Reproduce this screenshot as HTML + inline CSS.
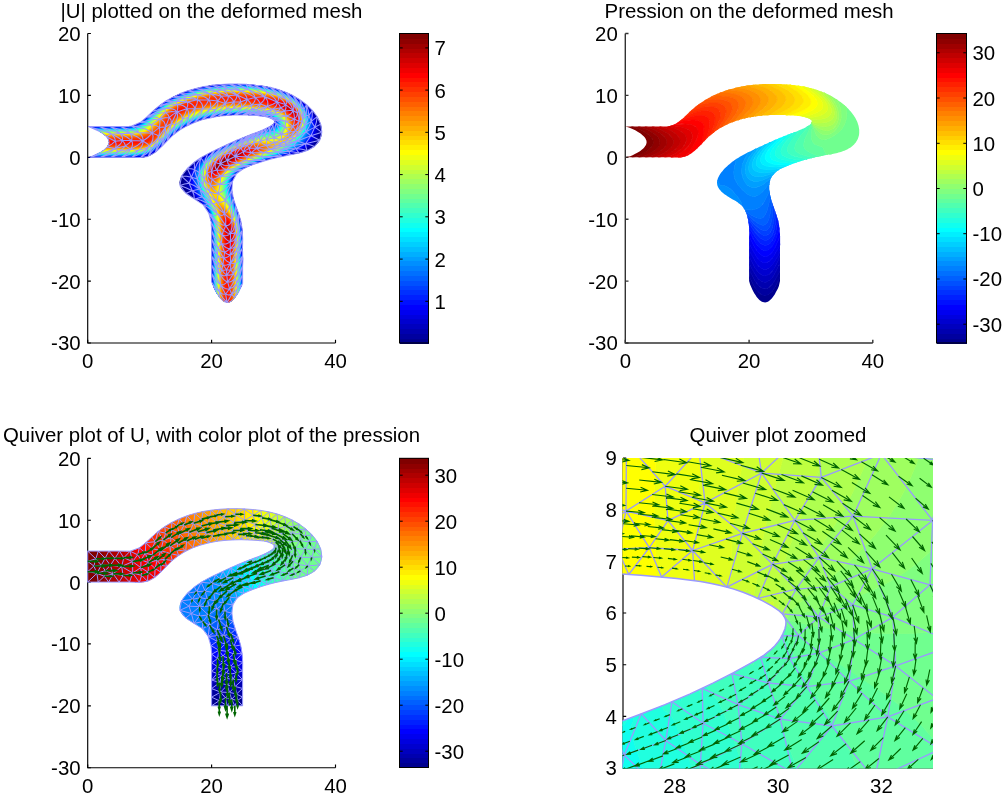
<!DOCTYPE html><html><head><meta charset="utf-8"><title>Stokes flow figure</title><style>html,body{margin:0;padding:0;background:#fff;overflow:hidden}</style></head><body><svg width="1003" height="796" viewBox="0 0 1003 796" style="display:block;font-family:'Liberation Sans',Arial,Helvetica,sans-serif;font-size:20.4px" fill="#000">
<rect width="1003" height="796" fill="#fff"/>
<defs></defs>
<path d="M87.7 33.5V343.0H335.5" fill="none" stroke="#000" stroke-width="1.15"/><path d="M87.7 343.0v-3.2M211.6 343.0v-3.2M335.5 343.0v-3.2M87.7 33.5h3.2M87.7 95.4h3.2M87.7 157.3h3.2M87.7 219.2h3.2M87.7 281.1h3.2M87.7 343.0h3.2" fill="none" stroke="#000" stroke-width="1.15"/><text transform="translate(87.7 368.3) scale(1 1.00)" text-anchor="middle">0</text><text transform="translate(211.6 368.3) scale(1 1.00)" text-anchor="middle">20</text><text transform="translate(335.5 368.3) scale(1 1.00)" text-anchor="middle">40</text><text transform="translate(80.6 40.9) scale(1 1.00)" text-anchor="end">20</text><text transform="translate(80.6 102.8) scale(1 1.00)" text-anchor="end">10</text><text transform="translate(80.6 164.7) scale(1 1.00)" text-anchor="end">0</text><text transform="translate(80.6 226.6) scale(1 1.00)" text-anchor="end">-10</text><text transform="translate(80.6 288.5) scale(1 1.00)" text-anchor="end">-20</text><text transform="translate(80.6 350.4) scale(1 1.00)" text-anchor="end">-30</text>
<path d="M625.3 33.5V343.0H872.8" fill="none" stroke="#333" stroke-width="1.40"/><path d="M625.3 343.0v-3.2M749.1 343.0v-3.2M872.8 343.0v-3.2M625.3 33.5h3.2M625.3 95.4h3.2M625.3 157.3h3.2M625.3 219.2h3.2M625.3 281.1h3.2M625.3 343.0h3.2" fill="none" stroke="#333" stroke-width="1.40"/><text transform="translate(625.3 368.3) scale(1 1.00)" text-anchor="middle">0</text><text transform="translate(749.1 368.3) scale(1 1.00)" text-anchor="middle">20</text><text transform="translate(872.8 368.3) scale(1 1.00)" text-anchor="middle">40</text><text transform="translate(617.8 40.9) scale(1 1.00)" text-anchor="end">20</text><text transform="translate(617.8 102.8) scale(1 1.00)" text-anchor="end">10</text><text transform="translate(617.8 164.7) scale(1 1.00)" text-anchor="end">0</text><text transform="translate(617.8 226.6) scale(1 1.00)" text-anchor="end">-10</text><text transform="translate(617.8 288.5) scale(1 1.00)" text-anchor="end">-20</text><text transform="translate(617.8 350.4) scale(1 1.00)" text-anchor="end">-30</text>
<path d="M87.7 458.3V767.7H335.5" fill="none" stroke="#000" stroke-width="1.15"/><path d="M87.7 767.7v-3.2M211.6 767.7v-3.2M335.5 767.7v-3.2M87.7 458.3h3.2M87.7 520.2h3.2M87.7 582.1h3.2M87.7 643.9h3.2M87.7 705.8h3.2M87.7 767.7h3.2" fill="none" stroke="#000" stroke-width="1.15"/><text transform="translate(87.7 792.6) scale(1 1.00)" text-anchor="middle">0</text><text transform="translate(211.6 792.6) scale(1 1.00)" text-anchor="middle">20</text><text transform="translate(335.5 792.6) scale(1 1.00)" text-anchor="middle">40</text><text transform="translate(80.6 465.7) scale(1 1.00)" text-anchor="end">20</text><text transform="translate(80.6 527.6) scale(1 1.00)" text-anchor="end">10</text><text transform="translate(80.6 589.5) scale(1 1.00)" text-anchor="end">0</text><text transform="translate(80.6 651.4) scale(1 1.00)" text-anchor="end">-10</text><text transform="translate(80.6 713.2) scale(1 1.00)" text-anchor="end">-20</text><text transform="translate(80.6 775.1) scale(1 1.00)" text-anchor="end">-30</text>
<path d="M623.0 458.0V768.0H933.0" fill="none" stroke="#000" stroke-width="1.15"/><path d="M674.7 768.0v-3.2M778.0 768.0v-3.2M881.4 768.0v-3.2M623.0 458.0h3.2M623.0 509.7h3.2M623.0 561.3h3.2M623.0 613.0h3.2M623.0 664.7h3.2M623.0 716.4h3.2M623.0 768.0h3.2" fill="none" stroke="#000" stroke-width="1.15"/><text transform="translate(674.7 792.9) scale(1 1.00)" text-anchor="middle">28</text><text transform="translate(778.0 792.9) scale(1 1.00)" text-anchor="middle">30</text><text transform="translate(881.4 792.9) scale(1 1.00)" text-anchor="middle">32</text><text transform="translate(616.8 465.4) scale(1 1.00)" text-anchor="end">9</text><text transform="translate(616.8 517.1) scale(1 1.00)" text-anchor="end">8</text><text transform="translate(616.8 568.8) scale(1 1.00)" text-anchor="end">7</text><text transform="translate(616.8 620.4) scale(1 1.00)" text-anchor="end">6</text><text transform="translate(616.8 672.1) scale(1 1.00)" text-anchor="end">5</text><text transform="translate(616.8 723.8) scale(1 1.00)" text-anchor="end">4</text><text transform="translate(616.8 775.4) scale(1 1.00)" text-anchor="end">3</text>
<clipPath id="c1"><path d="M87.7 157.3 88.8 157.3 90 157.3 91.1 157.3 92.3 157.3 93.4 157.3 94.5 157.3 95.6 157.3 96.7 157.3 97.8 157.3 98.9 157.3 99.9 157.3 101 157.3 102 157.3 103.1 157.3 104.1 157.3 105.2 157.3 106.2 157.3 107.2 157.3 108.3 157.3 109.3 157.3 110.3 157.3 111.4 157.3 112.4 157.3 113.4 157.3 114.5 157.3 115.5 157.3 116.6 157.3 117.6 157.3 118.7 157.3 119.7 157.3 120.8 157.3 121.9 157.3 123 157.3 124.1 157.3 125.2 157.3 126.3 157.3 127.5 157.3 128.6 157.3 129.8 157.3 130.9 157.3 132.1 157.3 133.2 157.3 134.4 157.4 135.5 157.4 136.6 157.5 137.8 157.6 138.9 157.6 140 157.6 141.1 157.6 142.2 157.5 143.3 157.4 144.3 157.3 145.4 157.1 146.4 156.8 147.4 156.5 148.3 156.2 149.3 155.8 150.2 155.4 151.1 155 152 154.5 152.9 154 153.7 153.4 154.6 152.8 155.4 152.2 156.2 151.6 157 150.9 157.8 150.2 158.6 149.5 159.4 148.8 160.2 148.1 160.9 147.3 161.7 146.5 162.4 145.8 163.2 145 163.9 144.2 164.7 143.4 165.5 142.6 166.2 141.8 167 141 167.7 140.2 168.5 139.4 169.3 138.6 170.1 137.9 170.8 137.1 171.6 136.3 172.5 135.6 173.3 134.9 174.1 134.2 174.9 133.5 175.8 132.8 176.7 132.2 177.5 131.5 178.4 130.9 179.3 130.3 180.2 129.7 181.1 129.1 182 128.6 182.9 128 183.9 127.5 184.8 126.9 185.8 126.4 186.7 125.9 187.7 125.4 188.6 125 189.6 124.5 190.6 124.1 191.6 123.6 192.5 123.2 193.5 122.8 194.5 122.4 195.5 122 196.5 121.6 197.6 121.3 198.6 120.9 199.6 120.6 200.6 120.3 201.6 119.9 202.7 119.6 203.7 119.4 204.7 119.1 205.8 118.8 206.8 118.5 207.8 118.3 208.9 118 209.9 117.8 211 117.6 212 117.4 213.1 117.2 214.1 117 215.2 116.8 216.2 116.7 217.3 116.5 218.4 116.3 219.4 116.2 220.5 116.1 221.5 115.9 222.6 115.8 223.7 115.7 224.7 115.6 225.8 115.5 226.9 115.4 228 115.3 229 115.3 230.1 115.2 231.2 115.2 232.3 115.1 233.4 115.1 234.4 115 235.5 115 236.6 115 237.7 115 238.8 115 239.9 115 240.9 115 242 115 243.1 115 244.2 115 245.3 115 246.4 115.1 247.5 115.1 248.6 115.2 249.6 115.2 250.7 115.3 251.8 115.3 252.9 115.4 254 115.4 255.1 115.5 256.2 115.6 257.3 115.7 258.4 115.7 259.4 115.8 260.5 115.9 261.6 116 262.7 116.2 263.8 116.3 264.8 116.5 265.9 116.7 266.9 116.9 267.9 117.2 269 117.5 270 117.9 270.9 118.3 271.9 118.8 272.9 119.3 273.7 119.9 274.4 120.7 274.5 121.7 274.1 122.8 273.5 123.7 272.7 124.5 271.9 125.2 271 125.8 270 126.3 269 126.9 268.1 127.4 267.1 127.9 266.2 128.4 265.2 128.8 264.2 129.3 263.3 129.7 262.3 130.2 261.3 130.6 260.3 131 259.3 131.4 258.3 131.8 257.3 132.2 256.3 132.6 255.3 132.9 254.2 133.3 253.2 133.7 252.2 134.1 251.2 134.4 250.2 134.8 249.2 135.2 248.2 135.6 247.2 136 246.1 136.4 245.1 136.8 244.1 137.2 243.1 137.6 242.1 138 241.1 138.4 240.1 138.9 239.1 139.3 238.1 139.7 237.1 140.1 236.1 140.6 235.1 141 234.1 141.4 233.1 141.9 232.2 142.3 231.2 142.8 230.2 143.2 229.2 143.7 228.2 144.1 227.2 144.6 226.2 145 225.3 145.5 224.3 145.9 223.3 146.4 222.3 146.8 221.4 147.3 220.4 147.7 219.4 148.2 218.4 148.6 217.5 149.1 216.5 149.5 215.6 150 214.6 150.5 213.6 150.9 212.7 151.4 211.7 151.8 210.8 152.3 209.8 152.8 208.9 153.3 207.9 153.7 207 154.2 206.1 154.7 205.1 155.2 204.2 155.8 203.3 156.3 202.3 156.8 201.4 157.4 200.5 157.9 199.6 158.5 198.7 159.1 197.8 159.7 196.9 160.3 196 161 195.1 161.6 194.2 162.3 193.4 163 192.5 163.7 191.6 164.4 190.8 165.1 189.9 165.9 189.1 166.7 188.2 167.5 187.4 168.3 186.6 169.1 185.8 170 185.1 170.9 184.4 171.7 183.7 172.6 183 173.5 182.4 174.4 181.9 175.3 181.4 176.3 180.9 177.2 180.5 178.1 180.2 179 179.9 180 179.7 180.9 179.6 181.8 179.5 182.7 179.6 183.6 179.7 184.5 179.9 185.4 180.2 186.3 180.6 187.2 181.1 188.1 181.6 188.9 182.3 189.8 183 190.6 183.8 191.4 184.6 192.2 185.5 193 186.4 193.7 187.3 194.4 188.3 195.1 189.3 195.8 190.3 196.5 191.3 197.1 192.3 197.7 193.4 198.3 194.4 198.9 195.4 199.4 196.3 200 197.3 200.5 198.3 201.1 199.2 201.7 200.1 202.3 201 202.9 201.8 203.5 202.6 204.1 203.4 204.8 204.1 205.5 204.8 206.3 205.4 207 206 207.9 206.6 208.7 207.1 209.6 207.6 210.5 208.1 211.4 208.5 212.3 208.9 213.3 209.2 214.3 209.6 215.3 209.9 216.3 210.1 217.4 210.4 218.4 210.6 219.5 210.8 220.5 211 221.6 211.2 222.7 211.3 223.8 211.5 224.9 211.6 226 211.7 227.2 211.7 228.3 211.8 229.4 211.8 230.5 211.8 231.6 211.8 232.7 211.8 233.8 211.7 234.9 211.7 236 211.7 237.1 211.6 238.1 211.6 239.2 211.6 240.3 211.6 241.4 211.6 242.4 211.6 243.5 211.6 244.6 211.6 245.6 211.6 246.7 211.6 247.8 211.6 248.8 211.6 249.9 211.6 251 211.6 252 211.6 253.1 211.6 254.1 211.6 255.2 211.6 256.3 211.6 257.3 211.6 258.4 211.6 259.4 211.6 260.5 211.6 261.6 211.6 262.6 211.6 263.7 211.6 264.8 211.6 265.8 211.6 266.9 211.6 268 211.6 269.1 211.6 270.1 211.6 271.2 211.6 272.3 211.6 273.4 211.6 274.5 211.6 275.6 211.6 276.7 211.6 277.8 211.6 278.9 211.6 280 211.6 281.1 212.7 284.6 213.7 287.1 214.8 289.4 215.9 291.5 216.9 293.4 218 295.1 219.1 296.7 220.2 298.1 221.2 299.2 222.3 300.2 223.4 301 224.4 301.7 225.5 302.1 226.6 302.3 227.6 302.4 228.7 302.2 229.8 301.9 230.8 301.4 231.9 300.7 233 299.8 234 298.8 235.1 297.5 236.2 296.1 237.2 294.4 238.3 292.6 239.4 290.6 240.4 288.4 241.5 286 242.6 281.1 242.6 279.9 242.6 278.7 242.6 277.6 242.6 276.4 242.6 275.2 242.6 274 242.6 272.8 242.6 271.7 242.6 270.5 242.6 269.3 242.6 268.1 242.6 266.9 242.6 265.7 242.6 264.5 242.6 263.3 242.6 262 242.6 260.8 242.6 259.6 242.6 258.4 242.6 257.2 242.6 256 242.6 254.8 242.6 253.6 242.6 252.4 242.6 251.1 242.6 249.9 242.6 248.7 242.6 247.5 242.6 246.3 242.6 245.1 242.7 243.9 242.7 242.7 242.7 241.4 242.7 240.2 242.7 239 242.7 237.8 242.7 236.6 242.6 235.4 242.6 234.2 242.5 233 242.4 231.9 242.3 230.7 242.2 229.5 242.1 228.3 241.9 227.1 241.7 225.9 241.5 224.8 241.3 223.6 241.1 222.4 240.8 221.3 240.6 220.1 240.3 219 239.9 217.8 239.6 216.7 239.2 215.6 238.9 214.4 238.5 213.3 238.1 212.2 237.7 211 237.3 209.9 236.9 208.8 236.5 207.6 236 206.5 235.6 205.4 235.2 204.2 234.9 203.1 234.5 201.9 234.1 200.8 233.8 199.6 233.5 198.4 233.2 197.3 232.9 196.1 232.6 194.9 232.4 193.7 232.2 192.5 232.1 191.3 232 190.1 231.9 188.9 231.8 187.7 231.8 186.5 231.9 185.4 232 184.2 232.2 183.1 232.4 182 232.6 180.9 232.9 179.8 233.3 178.8 233.8 177.8 234.3 176.8 234.9 175.9 235.5 175 236.2 174.2 237 173.3 237.9 172.6 238.8 171.8 239.7 171.1 240.7 170.4 241.7 169.8 242.8 169.1 243.9 168.5 245 168 246.2 167.4 247.4 166.9 248.5 166.4 249.7 165.9 250.9 165.4 252.1 164.9 253.3 164.5 254.5 164.1 255.7 163.6 256.9 163.2 258.1 162.8 259.2 162.4 260.3 162.1 261.5 161.7 262.6 161.3 263.7 161 264.9 160.6 266 160.3 267.1 160 268.2 159.7 269.3 159.4 270.4 159.1 271.5 158.8 272.6 158.5 273.7 158.2 274.9 157.9 276 157.7 277.1 157.4 278.2 157.1 279.4 156.9 280.5 156.7 281.7 156.4 282.9 156.2 284 156 285.2 155.7 286.4 155.5 287.6 155.3 288.9 155.1 290.1 154.9 291.3 154.6 292.6 154.4 293.8 154.2 295 154 296.3 153.7 297.5 153.4 298.7 153.2 300 152.9 301.2 152.6 302.4 152.2 303.5 151.9 304.7 151.5 305.9 151.1 307 150.7 308.1 150.2 309.2 149.7 310.2 149.2 311.3 148.6 312.2 148 313.2 147.4 314.1 146.7 315 146 315.9 145.2 316.7 144.4 317.5 143.5 318.2 142.7 318.9 141.7 319.5 140.7 320 139.7 320.5 138.7 320.9 137.6 321.3 136.5 321.5 135.4 321.7 134.3 321.9 133.1 321.9 132 321.9 130.8 321.8 129.6 321.7 128.4 321.5 127.2 321.3 126.1 321 124.9 320.6 123.8 320.2 122.6 319.8 121.5 319.3 120.4 318.7 119.4 318.2 118.3 317.6 117.2 316.9 116.2 316.2 115.2 315.5 114.2 314.8 113.2 314 112.2 313.2 111.3 312.4 110.4 311.5 109.5 310.6 108.6 309.8 107.7 308.9 106.8 307.9 106 307 105.2 306.1 104.4 305.1 103.6 304.2 102.8 303.2 102.1 302.2 101.4 301.2 100.7 300.3 100 299.3 99.3 298.3 98.7 297.2 98 296.2 97.4 295.2 96.8 294.2 96.2 293.1 95.7 292.1 95.1 291 94.6 289.9 94.1 288.9 93.6 287.8 93.1 286.7 92.6 285.6 92.2 284.5 91.8 283.4 91.3 282.3 90.9 281.2 90.5 280.1 90.1 279 89.8 277.9 89.4 276.7 89.1 275.6 88.8 274.5 88.4 273.3 88.1 272.2 87.9 271 87.6 269.9 87.3 268.7 87.1 267.5 86.8 266.4 86.6 265.2 86.4 264 86.2 262.8 86 261.7 85.8 260.5 85.6 259.3 85.4 258.1 85.3 256.9 85.1 255.7 85 254.5 84.9 253.3 84.8 252.1 84.6 250.9 84.5 249.7 84.5 248.5 84.4 247.3 84.3 246.1 84.2 244.9 84.2 243.7 84.1 242.5 84 241.3 84 240 84 238.8 83.9 237.6 83.9 236.4 83.9 235.2 83.9 234 83.9 232.8 83.9 231.6 83.9 230.4 83.9 229.1 84 227.9 84 226.7 84 225.5 84.1 224.3 84.2 223.1 84.2 221.9 84.3 220.7 84.4 219.5 84.5 218.3 84.6 217.1 84.7 215.9 84.8 214.7 85 213.5 85.1 212.3 85.2 211.1 85.4 209.9 85.6 208.7 85.7 207.5 85.9 206.4 86.1 205.2 86.3 204 86.6 202.8 86.8 201.7 87 200.5 87.3 199.3 87.5 198.2 87.8 197 88.1 195.9 88.4 194.7 88.7 193.6 89 192.4 89.3 191.3 89.6 190.2 90 189 90.3 187.9 90.7 186.8 91.1 185.7 91.5 184.5 91.9 183.4 92.3 182.3 92.7 181.2 93.2 180.1 93.6 179.1 94.1 178 94.6 176.9 95.1 175.8 95.6 174.8 96.1 173.7 96.6 172.6 97.2 171.6 97.7 170.6 98.3 169.5 98.9 168.5 99.5 167.5 100.1 166.5 100.7 165.5 101.4 164.5 102 163.5 102.7 162.5 103.3 161.5 104 160.5 104.8 159.6 105.5 158.6 106.2 157.7 107 156.8 107.7 155.8 108.5 154.9 109.3 154 110.1 153.1 110.9 152.2 111.8 151.3 112.6 150.4 113.5 149.6 114.3 148.7 115.2 147.8 116 146.9 116.9 146 117.7 145.1 118.5 144.2 119.3 143.3 120 142.4 120.8 141.5 121.5 140.5 122.2 139.6 122.8 138.6 123.4 137.6 124 136.6 124.5 135.5 124.9 134.5 125.3 133.4 125.7 132.3 126 131.1 126.2 130 126.4 128.8 126.5 127.6 126.6 126.4 126.6 125.2 126.6 123.9 126.5 122.7 126.5 121.5 126.4 120.2 126.4 119 126.4 117.7 126.4 116.5 126.4 115.2 126.4 114 126.4 112.7 126.4 111.5 126.4 110.3 126.4 109.1 126.4 107.9 126.4 106.7 126.4 105.5 126.4 104.3 126.4 103.2 126.4 102 126.4 100.8 126.4 99.6 126.4 98.5 126.4 97.3 126.4 96.1 126.4 94.9 126.4 93.8 126.4 92.6 126.4 91.4 126.4 90.2 126.4 89 126.4 87.7 126.4 91.2 127.4 93.7 128.5 96 129.6 98.1 130.6 100 131.7 101.7 132.8 103.3 133.8 104.7 134.9 105.8 136 106.8 137 107.6 138.1 108.3 139.2 108.7 140.2 108.9 141.3 109 142.4 108.9 143.4 108.5 144.5 108 145.6 107.3 146.6 106.5 147.7 105.4 148.8 104.1 149.8 102.7 150.9 101.1 152 99.2 153 97.2 154.1 95 155.2 92.6 156.2Z"/></clipPath><g clip-path="url(#c1)"><path d="M87.7 157.3 88.8 157.3 90 157.3 91.1 157.3 92.3 157.3 93.4 157.3 94.5 157.3 95.6 157.3 96.7 157.3 97.8 157.3 98.9 157.3 99.9 157.3 101 157.3 102 157.3 103.1 157.3 104.1 157.3 105.2 157.3 106.2 157.3 107.2 157.3 108.3 157.3 109.3 157.3 110.3 157.3 111.4 157.3 112.4 157.3 113.4 157.3 114.5 157.3 115.5 157.3 116.6 157.3 117.6 157.3 118.7 157.3 119.7 157.3 120.8 157.3 121.9 157.3 123 157.3 124.1 157.3 125.2 157.3 126.3 157.3 127.5 157.3 128.6 157.3 129.8 157.3 130.9 157.3 132.1 157.3 133.2 157.3 134.4 157.4 135.5 157.4 136.6 157.5 137.8 157.6 138.9 157.6 140 157.6 141.1 157.6 142.2 157.5 143.3 157.4 144.3 157.3 145.4 157.1 146.4 156.8 147.4 156.5 148.3 156.2 149.3 155.8 150.2 155.4 151.1 155 152 154.5 152.9 154 153.7 153.4 154.6 152.8 155.4 152.2 156.2 151.6 157 150.9 157.8 150.2 158.6 149.5 159.4 148.8 160.2 148.1 160.9 147.3 161.7 146.5 162.4 145.8 163.2 145 163.9 144.2 164.7 143.4 165.5 142.6 166.2 141.8 167 141 167.7 140.2 168.5 139.4 169.3 138.6 170.1 137.9 170.8 137.1 171.6 136.3 172.5 135.6 173.3 134.9 174.1 134.2 174.9 133.5 175.8 132.8 176.7 132.2 177.5 131.5 178.4 130.9 179.3 130.3 180.2 129.7 181.1 129.1 182 128.6 182.9 128 183.9 127.5 184.8 126.9 185.8 126.4 186.7 125.9 187.7 125.4 188.6 125 189.6 124.5 190.6 124.1 191.6 123.6 192.5 123.2 193.5 122.8 194.5 122.4 195.5 122 196.5 121.6 197.6 121.3 198.6 120.9 199.6 120.6 200.6 120.3 201.6 119.9 202.7 119.6 203.7 119.4 204.7 119.1 205.8 118.8 206.8 118.5 207.8 118.3 208.9 118 209.9 117.8 211 117.6 212 117.4 213.1 117.2 214.1 117 215.2 116.8 216.2 116.7 217.3 116.5 218.4 116.3 219.4 116.2 220.5 116.1 221.5 115.9 222.6 115.8 223.7 115.7 224.7 115.6 225.8 115.5 226.9 115.4 228 115.3 229 115.3 230.1 115.2 231.2 115.2 232.3 115.1 233.4 115.1 234.4 115 235.5 115 236.6 115 237.7 115 238.8 115 239.9 115 240.9 115 242 115 243.1 115 244.2 115 245.3 115 246.4 115.1 247.5 115.1 248.6 115.2 249.6 115.2 250.7 115.3 251.8 115.3 252.9 115.4 254 115.4 255.1 115.5 256.2 115.6 257.3 115.7 258.4 115.7 259.4 115.8 260.5 115.9 261.6 116 262.7 116.2 263.8 116.3 264.8 116.5 265.9 116.7 266.9 116.9 267.9 117.2 269 117.5 270 117.9 270.9 118.3 271.9 118.8 272.9 119.3 273.7 119.9 274.4 120.7 274.5 121.7 274.1 122.8 273.5 123.7 272.7 124.5 271.9 125.2 271 125.8 270 126.3 269 126.9 268.1 127.4 267.1 127.9 266.2 128.4 265.2 128.8 264.2 129.3 263.3 129.7 262.3 130.2 261.3 130.6 260.3 131 259.3 131.4 258.3 131.8 257.3 132.2 256.3 132.6 255.3 132.9 254.2 133.3 253.2 133.7 252.2 134.1 251.2 134.4 250.2 134.8 249.2 135.2 248.2 135.6 247.2 136 246.1 136.4 245.1 136.8 244.1 137.2 243.1 137.6 242.1 138 241.1 138.4 240.1 138.9 239.1 139.3 238.1 139.7 237.1 140.1 236.1 140.6 235.1 141 234.1 141.4 233.1 141.9 232.2 142.3 231.2 142.8 230.2 143.2 229.2 143.7 228.2 144.1 227.2 144.6 226.2 145 225.3 145.5 224.3 145.9 223.3 146.4 222.3 146.8 221.4 147.3 220.4 147.7 219.4 148.2 218.4 148.6 217.5 149.1 216.5 149.5 215.6 150 214.6 150.5 213.6 150.9 212.7 151.4 211.7 151.8 210.8 152.3 209.8 152.8 208.9 153.3 207.9 153.7 207 154.2 206.1 154.7 205.1 155.2 204.2 155.8 203.3 156.3 202.3 156.8 201.4 157.4 200.5 157.9 199.6 158.5 198.7 159.1 197.8 159.7 196.9 160.3 196 161 195.1 161.6 194.2 162.3 193.4 163 192.5 163.7 191.6 164.4 190.8 165.1 189.9 165.9 189.1 166.7 188.2 167.5 187.4 168.3 186.6 169.1 185.8 170 185.1 170.9 184.4 171.7 183.7 172.6 183 173.5 182.4 174.4 181.9 175.3 181.4 176.3 180.9 177.2 180.5 178.1 180.2 179 179.9 180 179.7 180.9 179.6 181.8 179.5 182.7 179.6 183.6 179.7 184.5 179.9 185.4 180.2 186.3 180.6 187.2 181.1 188.1 181.6 188.9 182.3 189.8 183 190.6 183.8 191.4 184.6 192.2 185.5 193 186.4 193.7 187.3 194.4 188.3 195.1 189.3 195.8 190.3 196.5 191.3 197.1 192.3 197.7 193.4 198.3 194.4 198.9 195.4 199.4 196.3 200 197.3 200.5 198.3 201.1 199.2 201.7 200.1 202.3 201 202.9 201.8 203.5 202.6 204.1 203.4 204.8 204.1 205.5 204.8 206.3 205.4 207 206 207.9 206.6 208.7 207.1 209.6 207.6 210.5 208.1 211.4 208.5 212.3 208.9 213.3 209.2 214.3 209.6 215.3 209.9 216.3 210.1 217.4 210.4 218.4 210.6 219.5 210.8 220.5 211 221.6 211.2 222.7 211.3 223.8 211.5 224.9 211.6 226 211.7 227.2 211.7 228.3 211.8 229.4 211.8 230.5 211.8 231.6 211.8 232.7 211.8 233.8 211.7 234.9 211.7 236 211.7 237.1 211.6 238.1 211.6 239.2 211.6 240.3 211.6 241.4 211.6 242.4 211.6 243.5 211.6 244.6 211.6 245.6 211.6 246.7 211.6 247.8 211.6 248.8 211.6 249.9 211.6 251 211.6 252 211.6 253.1 211.6 254.1 211.6 255.2 211.6 256.3 211.6 257.3 211.6 258.4 211.6 259.4 211.6 260.5 211.6 261.6 211.6 262.6 211.6 263.7 211.6 264.8 211.6 265.8 211.6 266.9 211.6 268 211.6 269.1 211.6 270.1 211.6 271.2 211.6 272.3 211.6 273.4 211.6 274.5 211.6 275.6 211.6 276.7 211.6 277.8 211.6 278.9 211.6 280 211.6 281.1 212.7 284.6 213.7 287.1 214.8 289.4 215.9 291.5 216.9 293.4 218 295.1 219.1 296.7 220.2 298.1 221.2 299.2 222.3 300.2 223.4 301 224.4 301.7 225.5 302.1 226.6 302.3 227.6 302.4 228.7 302.2 229.8 301.9 230.8 301.4 231.9 300.7 233 299.8 234 298.8 235.1 297.5 236.2 296.1 237.2 294.4 238.3 292.6 239.4 290.6 240.4 288.4 241.5 286 242.6 281.1 242.6 279.9 242.6 278.7 242.6 277.6 242.6 276.4 242.6 275.2 242.6 274 242.6 272.8 242.6 271.7 242.6 270.5 242.6 269.3 242.6 268.1 242.6 266.9 242.6 265.7 242.6 264.5 242.6 263.3 242.6 262 242.6 260.8 242.6 259.6 242.6 258.4 242.6 257.2 242.6 256 242.6 254.8 242.6 253.6 242.6 252.4 242.6 251.1 242.6 249.9 242.6 248.7 242.6 247.5 242.6 246.3 242.6 245.1 242.7 243.9 242.7 242.7 242.7 241.4 242.7 240.2 242.7 239 242.7 237.8 242.7 236.6 242.6 235.4 242.6 234.2 242.5 233 242.4 231.9 242.3 230.7 242.2 229.5 242.1 228.3 241.9 227.1 241.7 225.9 241.5 224.8 241.3 223.6 241.1 222.4 240.8 221.3 240.6 220.1 240.3 219 239.9 217.8 239.6 216.7 239.2 215.6 238.9 214.4 238.5 213.3 238.1 212.2 237.7 211 237.3 209.9 236.9 208.8 236.5 207.6 236 206.5 235.6 205.4 235.2 204.2 234.9 203.1 234.5 201.9 234.1 200.8 233.8 199.6 233.5 198.4 233.2 197.3 232.9 196.1 232.6 194.9 232.4 193.7 232.2 192.5 232.1 191.3 232 190.1 231.9 188.9 231.8 187.7 231.8 186.5 231.9 185.4 232 184.2 232.2 183.1 232.4 182 232.6 180.9 232.9 179.8 233.3 178.8 233.8 177.8 234.3 176.8 234.9 175.9 235.5 175 236.2 174.2 237 173.3 237.9 172.6 238.8 171.8 239.7 171.1 240.7 170.4 241.7 169.8 242.8 169.1 243.9 168.5 245 168 246.2 167.4 247.4 166.9 248.5 166.4 249.7 165.9 250.9 165.4 252.1 164.9 253.3 164.5 254.5 164.1 255.7 163.6 256.9 163.2 258.1 162.8 259.2 162.4 260.3 162.1 261.5 161.7 262.6 161.3 263.7 161 264.9 160.6 266 160.3 267.1 160 268.2 159.7 269.3 159.4 270.4 159.1 271.5 158.8 272.6 158.5 273.7 158.2 274.9 157.9 276 157.7 277.1 157.4 278.2 157.1 279.4 156.9 280.5 156.7 281.7 156.4 282.9 156.2 284 156 285.2 155.7 286.4 155.5 287.6 155.3 288.9 155.1 290.1 154.9 291.3 154.6 292.6 154.4 293.8 154.2 295 154 296.3 153.7 297.5 153.4 298.7 153.2 300 152.9 301.2 152.6 302.4 152.2 303.5 151.9 304.7 151.5 305.9 151.1 307 150.7 308.1 150.2 309.2 149.7 310.2 149.2 311.3 148.6 312.2 148 313.2 147.4 314.1 146.7 315 146 315.9 145.2 316.7 144.4 317.5 143.5 318.2 142.7 318.9 141.7 319.5 140.7 320 139.7 320.5 138.7 320.9 137.6 321.3 136.5 321.5 135.4 321.7 134.3 321.9 133.1 321.9 132 321.9 130.8 321.8 129.6 321.7 128.4 321.5 127.2 321.3 126.1 321 124.9 320.6 123.8 320.2 122.6 319.8 121.5 319.3 120.4 318.7 119.4 318.2 118.3 317.6 117.2 316.9 116.2 316.2 115.2 315.5 114.2 314.8 113.2 314 112.2 313.2 111.3 312.4 110.4 311.5 109.5 310.6 108.6 309.8 107.7 308.9 106.8 307.9 106 307 105.2 306.1 104.4 305.1 103.6 304.2 102.8 303.2 102.1 302.2 101.4 301.2 100.7 300.3 100 299.3 99.3 298.3 98.7 297.2 98 296.2 97.4 295.2 96.8 294.2 96.2 293.1 95.7 292.1 95.1 291 94.6 289.9 94.1 288.9 93.6 287.8 93.1 286.7 92.6 285.6 92.2 284.5 91.8 283.4 91.3 282.3 90.9 281.2 90.5 280.1 90.1 279 89.8 277.9 89.4 276.7 89.1 275.6 88.8 274.5 88.4 273.3 88.1 272.2 87.9 271 87.6 269.9 87.3 268.7 87.1 267.5 86.8 266.4 86.6 265.2 86.4 264 86.2 262.8 86 261.7 85.8 260.5 85.6 259.3 85.4 258.1 85.3 256.9 85.1 255.7 85 254.5 84.9 253.3 84.8 252.1 84.6 250.9 84.5 249.7 84.5 248.5 84.4 247.3 84.3 246.1 84.2 244.9 84.2 243.7 84.1 242.5 84 241.3 84 240 84 238.8 83.9 237.6 83.9 236.4 83.9 235.2 83.9 234 83.9 232.8 83.9 231.6 83.9 230.4 83.9 229.1 84 227.9 84 226.7 84 225.5 84.1 224.3 84.2 223.1 84.2 221.9 84.3 220.7 84.4 219.5 84.5 218.3 84.6 217.1 84.7 215.9 84.8 214.7 85 213.5 85.1 212.3 85.2 211.1 85.4 209.9 85.6 208.7 85.7 207.5 85.9 206.4 86.1 205.2 86.3 204 86.6 202.8 86.8 201.7 87 200.5 87.3 199.3 87.5 198.2 87.8 197 88.1 195.9 88.4 194.7 88.7 193.6 89 192.4 89.3 191.3 89.6 190.2 90 189 90.3 187.9 90.7 186.8 91.1 185.7 91.5 184.5 91.9 183.4 92.3 182.3 92.7 181.2 93.2 180.1 93.6 179.1 94.1 178 94.6 176.9 95.1 175.8 95.6 174.8 96.1 173.7 96.6 172.6 97.2 171.6 97.7 170.6 98.3 169.5 98.9 168.5 99.5 167.5 100.1 166.5 100.7 165.5 101.4 164.5 102 163.5 102.7 162.5 103.3 161.5 104 160.5 104.8 159.6 105.5 158.6 106.2 157.7 107 156.8 107.7 155.8 108.5 154.9 109.3 154 110.1 153.1 110.9 152.2 111.8 151.3 112.6 150.4 113.5 149.6 114.3 148.7 115.2 147.8 116 146.9 116.9 146 117.7 145.1 118.5 144.2 119.3 143.3 120 142.4 120.8 141.5 121.5 140.5 122.2 139.6 122.8 138.6 123.4 137.6 124 136.6 124.5 135.5 124.9 134.5 125.3 133.4 125.7 132.3 126 131.1 126.2 130 126.4 128.8 126.5 127.6 126.6 126.4 126.6 125.2 126.6 123.9 126.5 122.7 126.5 121.5 126.4 120.2 126.4 119 126.4 117.7 126.4 116.5 126.4 115.2 126.4 114 126.4 112.7 126.4 111.5 126.4 110.3 126.4 109.1 126.4 107.9 126.4 106.7 126.4 105.5 126.4 104.3 126.4 103.2 126.4 102 126.4 100.8 126.4 99.6 126.4 98.5 126.4 97.3 126.4 96.1 126.4 94.9 126.4 93.8 126.4 92.6 126.4 91.4 126.4 90.2 126.4 89 126.4 87.7 126.4 91.2 127.4 93.7 128.5 96 129.6 98.1 130.6 100 131.7 101.7 132.8 103.3 133.8 104.7 134.9 105.8 136 106.8 137 107.6 138.1 108.3 139.2 108.7 140.2 108.9 141.3 109 142.4 108.9 143.4 108.5 144.5 108 145.6 107.3 146.6 106.5 147.7 105.4 148.8 104.1 149.8 102.7 150.9 101.1 152 99.2 153 97.2 154.1 95 155.2 92.6 156.2Z" fill="#00008f" stroke="#00008f" stroke-width="1"/><path d="M212.2 285.3 217.2 295.7 220.9 300.8 224.6 303.6 228.3 304.2 232 302.5 235.8 298.5 239.5 292.3 243.2 283.8 243.8 283.4 243.7 261.1 243 256.2 243 250 243.6 246.3 243.7 240.1 242.9 228.9 242 225.2 241.7 221.5 240.7 219.6 240.3 216.5 239.5 215.6 239.1 212.8 238.3 211.8 236.9 206.6 235.8 204.9 235.6 202.9 234.5 201.2 234.2 198 233.3 195.9 232.6 189.3 232.6 184.3 233.2 180.4 234.3 177.6 236.6 174.1 243.5 169.2 247.7 167.5 248.8 166.6 250.2 166.5 251.9 165.3 253.9 165.2 255.2 164.1 257.6 163.8 258.7 162.9 261.4 162.5 262.9 161.6 265.1 161.5 266.7 160.4 275 158.7 276.4 157.9 280 157.7 282.3 156.7 286.2 156.3 288.4 155.4 292.3 155 298.5 153.4 306 150.7 310.4 148.2 314.8 144.7 317.6 141 319.4 137.3 320.7 131.1 319.8 123.7 317.9 118.7 313 111.2 306.7 104.7 298.1 98.1 289.4 93.3 279.5 89.2 265.9 85.7 257.3 84.4 247.3 83.9 243.6 83.2 226.3 83.2 222.6 83.8 216.3 83.9 212.2 84.9 206.4 85.4 204.7 86.1 200.2 86.6 199 87.4 191.6 88.9 190.2 89.8 187.8 90.1 186.5 91.1 184.1 91.4 182.9 92.3 173 96.3 163 102.3 158 106.1 142 120.7 138.3 123.2 137 123.4 135.8 124.5 133.3 124.8 131.2 125.7 128.4 125.9 87.5 126 97.6 130.7 103.4 134.4 107 138.1 108.4 141.8 107.4 145.6 104.2 149.3 98.7 153 87.9 157.9 87.5 158.5 135.8 158.3 145.7 157.4 151.9 154.8 155.6 152.5 160.5 148.4 172 136.6 179.8 130.5 190.9 124.3 192.8 123.9 197 121.9 204.9 119.5 217.6 117 228.8 116.2 231.2 115.6 248.6 115.6 265.6 117.1 270.1 118.5 273.3 120.6 272.9 123.6 269.9 126 259.6 130.8 250.2 134 237.8 139 234.7 140.8 232.9 141.2 218.7 148.2 216.8 148.7 204.4 155.3 197 160.4 191 165.6 187.7 169.4 184.9 174.4 183.9 178.1 183.9 183.1 184.6 186.8 186.3 190.5 190.2 195.3 201.4 203.7 205.1 207.5 207.5 211.1 209.3 217.8 210 219 210.5 225.2 211.2 227.7 211.2 283.4Z" fill="#00009f"/><path d="M212.2 285.3 215.9 293.5 219.7 299.3 223.4 302.9 227.1 304.2 230.8 303.3 234.5 300.1 238.2 294.6 243.2 283.8 242.8 250.4 243.1 239.2 242.7 229.3 240.4 218.1 236.8 206.9 235.8 205.8 235.5 203.2 234.5 202.1 234.2 199.6 233.3 197.1 232.8 192.1 232 189.9 232.1 184.7 233 180.1 234.1 177.4 236.3 174.1 242.7 169.4 247.9 166.8 249.9 166.4 251 165.4 253.6 165 254.8 164.1 262.2 161.6 264.7 161.3 265.9 160.4 268.4 160.1 275.8 157.9 279.6 157.4 280.8 156.7 285.8 156 287 155.4 295.7 153.7 305.6 150.1 310.1 147.3 313.9 143.7 316.5 140.1 318.1 136.4 319.4 130.3 318.8 124 315.9 116.5 311.5 110.2 303.8 102.7 296 97.1 287.4 92.6 278.7 89.3 262.6 85.4 252.7 84.2 245.3 83.8 224.2 83.8 216.7 84.2 215.5 84.9 208.1 85.4 191.9 89.1 190.7 89.9 184.5 91.6 173.3 96.5 163.3 102.5 158.3 106.2 145.9 117.8 141.2 121.6 136.2 124.5 132.5 125.7 125.1 126.1 87.9 126.2 97.6 130.7 103.4 134.4 107 138.1 108.4 141.8 107.4 145.6 104.2 149.3 98.7 153 87.9 157.9 139.9 157.7 143.7 157.4 148.6 156 155.9 151.9 160.8 147.7 163.1 144.9 173.1 135.1 183.6 127.8 190.7 124.2 204.5 119.3 215.7 117.1 225.4 115.9 231.6 115.4 247.7 115.4 258.9 116 261.4 116.7 267 117.1 268.7 118.1 270.9 118.6 273.6 120.5 273.7 121.5 272.9 124 269.8 126.3 259.8 131 244.9 136.4 232.5 141.7 215.2 149.9 205.3 155.2 194.2 163.4 189.7 168.4 187 173.5 186 177.3 185.8 182.3 186.8 187.2 188.3 190.8 191.9 195.6 201.7 203.6 205.3 207.5 207.7 211 210.2 219.4 211.4 228.1 211.4 283.8Z" fill="#0000af"/><path d="M212.2 285.3 215.9 293.5 219.7 299.3 223.4 302.9 227.1 304.2 230.8 303.3 234.5 300.1 238.2 294.6 243 284.2 242.6 249.5 243 238.4 242.4 229.7 240.3 218.5 236.7 207.3 235.8 206.1 235.4 203.6 234.5 202.4 233.2 197.5 232.6 192.5 232 191.3 231.7 185.1 232.8 180.1 233.9 177.4 236 174.2 242.1 169.5 247 167 249.5 166.3 250.7 165.4 253.2 164.9 261.8 161.6 264.4 161.2 265.5 160.4 295.3 153.4 304 150.1 308.3 147.5 312.2 144 314.8 140.4 317 135.6 318.2 129.4 317.6 123.2 315.3 116.9 311.2 110.5 303.6 102.9 296.3 97.6 287.7 93 279.1 89.6 263 85.7 255.5 85.1 253.1 84.4 244.4 83.9 224.6 83.9 217.1 84.4 215.9 85 204.7 86.4 188.6 90.6 179.9 93.8 172.4 97.3 163.6 102.6 157.4 107.3 146.3 117.7 141.8 121.4 136.6 124.4 132.9 125.8 125.5 126.3 88.3 126.4 97.6 130.7 103.4 134.4 107 138.1 108.4 141.8 107.4 145.6 104.2 149.3 98.7 153 88.3 157.8 137.9 157.6 142.8 157.3 146.5 156.4 152.6 153.7 160.9 147.2 163.1 144.6 173.2 134.8 179.6 130 191 123.8 204.7 119.1 214.6 116.9 220.9 116.3 223.3 115.6 232 115.2 248.1 115.3 259.3 115.8 261.7 116.5 268 117.1 273.9 120.4 274.1 121.9 272.8 124.3 267.8 127.5 256.7 132.4 244.5 136.8 225.9 144.9 205 155.8 199.2 159.9 194.8 163.7 191.5 167.5 188.6 172.6 187.5 176.4 187.3 181.4 188.1 186.3 189.9 191.1 194.4 197.1 202.1 203.5 205.6 207.5 207.8 211 210.1 217.6 211.5 227.2 211.6 284.2Z" fill="#0000bf"/><path d="M212.2 285.3 215.9 293.5 219.7 299.3 223.4 302.9 227.1 304.2 230.8 303.3 234.5 300.1 238.2 294.6 242.9 284.6 242.9 258.6 242.4 249.9 242.8 236.3 242.2 230.1 240.5 220.1 236.6 207.7 235.8 206.5 235.2 204 234.5 202.8 231.8 190.5 231.5 185.5 232.5 180.5 233.6 177.5 235.7 174.3 241.7 169.6 250.3 165.4 265.2 160.4 294.9 153.1 302.9 149.9 306.6 147.7 310.5 144.2 313.9 139.5 316.1 134.7 317.2 128.6 316.5 122.3 314.1 115.9 310.9 110.8 303.5 103.1 296.5 98 288.1 93.4 279.5 89.9 263.4 86 244.8 84.1 225 84 217.5 84.6 216.3 85.1 205.1 86.5 188.9 90.6 180.2 93.9 172.7 97.3 163.9 102.6 158.9 106.3 142.3 121.1 136.9 124.4 133.3 125.8 125.9 126.5 88.7 126.6 97.6 130.7 103.4 134.4 107 138.1 108.4 141.8 107.4 145.6 104.2 149.3 98.7 153 88.7 157.6 137 157.4 144.4 156.7 152.4 153.5 160.2 147.6 173.3 134.5 179.7 129.7 183.9 127.2 193.9 122.5 200.1 120.1 207.6 118.4 208.8 117.7 213.8 117.1 215 116.5 221.3 116.1 223.7 115.3 248.5 115.1 259.7 115.7 268.3 117 274.3 120.4 274.5 122.3 272.8 124.7 267.8 127.8 262.8 130.2 236.7 140.2 216.9 149.5 207.1 154.9 201.2 158.8 195.3 163.9 192.2 167.8 189.6 172.9 188.7 176.8 188.6 181.8 189.5 186.7 190.8 190.3 194.5 196.2 202.4 203.5 206.6 208.7 209.1 213.7 210.3 217.6 210.7 221.4 211.3 222.6 211.7 227.6 211.8 284.6Z" fill="#0000cf"/><path d="M212.2 285.3 215.9 293.5 219.7 299.3 223.4 302.9 227.1 304.2 230.8 303.3 234.5 300.1 238.2 294.6 242.7 285 242.8 258.9 242.1 250.3 242.6 246.6 242.7 236.6 242.1 230.5 240.4 220.5 236.6 208.2 234.5 203.2 231.6 190.9 231.3 185.9 232.2 180.8 233.3 177.6 234.9 175.6 235.4 174.3 241.4 169.6 250 165.4 267.3 159.7 294.6 152.8 301.3 150.1 305 147.9 309 144.5 312.5 139.9 314.8 135.1 316.2 129 315.8 122.6 314.3 117.5 310.6 111.1 304.2 104.3 296.4 98.2 288.4 93.8 279.8 90.2 263.8 86.2 256.3 85.6 252.6 84.8 244 84.2 225.4 84.2 217.9 84.7 216.7 85.2 205.5 86.6 189.3 90.7 173 97.3 164.2 102.6 159.2 106.3 142.9 120.9 137.3 124.4 133.7 125.9 126.3 126.7 89.1 126.8 97.6 130.7 103.4 134.4 107 138.1 108.4 141.8 107.4 145.6 104.2 149.3 98.7 153 89.1 157.4 136.2 157.3 143.6 156.7 147.3 155.6 152.1 153.3 160.9 146.8 163.1 144 173.4 134.3 181.6 128.3 194.2 122.2 200.5 119.8 209.2 117.5 210.5 117.6 215.4 116.3 221.7 115.9 224.1 115.1 248.9 114.9 260.1 115.6 268.7 117 274.6 120.5 274.8 122.6 274.3 123.3 272.7 125.1 267.8 128 262.5 130.5 247.5 136 232.6 142.2 216.5 149.8 207.1 155.2 201.5 159 197 162.9 192.8 168.1 190.9 172 189.9 175.9 189.6 179.7 190.1 184.7 191.5 189.5 193.2 193 195.6 196.5 202.7 203.4 207.2 209.3 209.3 213.8 210.5 218 211 221.8 211.7 223 211.4 224.3 212 228Z" fill="#0000df"/><path d="M213.5 288.3 217.2 295.7 220.9 300.8 224.6 303.6 228.3 304.2 232 302.5 235.8 298.5 239.5 292.3 242.6 285.4 242.7 259.3 241.9 250.7 242.4 247 242.6 237 242 234.6 242 230.8 240.3 220.9 232.4 196.2 231.1 186.3 232.2 180 233.1 177.7 234.5 175.9 235.1 174.4 241.1 169.7 249.6 165.4 266.9 159.6 291.7 153.3 299.8 150.2 304.4 147.4 308.6 143.6 311.9 139 314 134.3 315.3 128.1 314.9 121.7 313.2 116.6 309.3 110.2 303.2 103.6 296.3 98.4 288.8 94.2 280.2 90.5 270.3 87.7 263.4 86.3 244.4 84.4 225.7 84.3 222.1 84.9 218.3 84.9 205.9 86.7 189.7 90.8 182.2 93.5 173.4 97.4 164.6 102.6 159.5 106.3 154.5 110.4 143.5 120.7 140 123.1 134 125.9 126.7 126.9 89.5 127 97.6 130.7 103.4 134.4 107 138.1 108.4 141.8 107.4 145.6 104.2 149.3 98.7 153 89.5 157.3 136.6 157.1 144 156.3 148.7 154.7 153.6 152.1 160.8 146.5 163.1 143.7 173.5 134 179.8 129.2 184.5 126.5 198.3 120.5 209.6 117.3 215.8 116.1 222 115.6 224.5 114.9 228.2 115.1 233.2 114.5 249.3 114.7 253 115.3 260.5 115.5 269.1 117 274.9 120.6 275.1 123 272.7 125.4 267.7 128.2 262.1 130.8 247.1 136.3 232.3 142.5 216.2 150.2 207.2 155.4 201.7 159.2 197.4 163.1 194.3 167.1 191.6 172.3 190.7 176.2 190.6 181.3 191.2 185.1 192.6 189.8 195.7 195.6 202.9 203.4 207.5 209.4 209.5 214 211.2 222.2 211.8 223.3 211.6 224.7 212.2 228.4 212.2 285.4Z" fill="#0000ef"/><path d="M213.5 288.3 217.2 295.7 220.9 300.8 224.6 303.6 228.3 304.2 232 302.5 235.8 298.5 239.5 292.3 242.4 285.7 242.6 259.7 242 257.3 241.6 251 242.2 247.4 242.5 237.4 241.9 235 241.9 231.2 240.8 223.7 239.3 217.5 232.3 196.6 230.9 186.7 232 180.1 232.8 177.8 234.1 176.3 234.7 174.5 240.7 169.7 249.2 165.5 266.5 159.6 291.3 153.1 298.9 150.1 303.6 147.1 308.2 142.8 311.3 138.2 313.3 133.5 314.5 127.2 314.3 122.1 312.2 115.6 309 110.4 303.1 103.9 296.3 98.6 289.1 94.5 280.6 90.8 270.7 88 263.3 86.5 244.7 84.6 226.1 84.4 206.3 86.8 190.1 90.9 182.6 93.5 173.7 97.4 164.9 102.6 159.8 106.3 154.8 110.4 144 120.6 140.4 123 134.4 126 130.8 126.9 127 127.1 89.9 127.1 97.6 130.7 103.4 134.4 107 138.1 108.4 141.8 107.4 145.6 104.2 149.3 98.7 153 89.9 157.1 135.7 156.9 143.1 156.3 148 154.7 151.4 153.1 155.9 150.2 160.8 146.3 163.3 143.3 172.2 134.9 179.9 129 192.5 122.6 201.2 119.3 207.5 117.7 216.2 115.9 222.4 115.4 224.9 114.8 228.6 114.9 232.3 114.3 249.7 114.6 265.8 116 269.5 117 275.3 120.7 275.3 123.4 271.3 126.6 261.7 131.1 246.7 136.6 231.9 142.8 215.8 150.6 207.4 155.6 202 159.5 197.8 163.4 194.8 167.3 192.8 171.3 191.7 175.3 191.4 179.2 191.9 184.2 193.2 189 194.6 192.5 197.5 197.1 203.2 203.4 207.8 209.4 209.7 214.1 212 223.7 211.7 225.1 212.4 228.7 212.4 285.7Z" fill="#0000ff"/><path d="M213.5 288.3 217.2 295.7 220.9 300.8 224.6 303.6 228.3 304.2 232 302.5 235.8 298.5 239.5 292.3 242.2 286.1 242.4 260.1 241.4 251.4 242 247.8 242.3 237.8 241.8 235.4 241.7 231.6 240.2 221.6 236.9 210.4 232.3 197 230.7 187.1 231.8 180.1 234.4 174.5 240.4 169.8 248.9 165.5 266.1 159.5 289.7 153.3 298.6 149.7 303.6 146.3 306.9 143 310.1 138.6 312.3 133.8 313.7 127.6 313.4 121.2 311.2 114.6 307.8 109.4 302.9 104.1 296.2 98.8 289.2 94.8 281 91.1 271.1 88.2 263.7 86.7 245.1 84.8 226.5 84.6 206.6 86.9 190.4 90.9 182.9 93.6 174.1 97.4 165.2 102.6 160.1 106.2 141.9 122.3 134.8 126 131.2 127 127.4 127.2 90.3 127.3 97.6 130.7 103.4 134.4 107 138.1 108.4 141.8 107.4 145.6 104.2 149.3 98.7 153 90.3 157 134.9 156.8 143.5 156 151.1 153 154.3 151.1 160.7 146 163.5 142.8 172.3 134.7 180 128.7 185.2 125.7 192.8 122.2 199.1 119.8 207.8 117.4 225.3 114.6 229 114.7 232.7 114.1 250.1 114.4 266.2 116 269.9 117 275.6 120.8 275.8 123.1 275.5 123.8 271.3 126.9 261.4 131.5 246.4 136.9 231.6 143.1 215.5 151 209.6 154.5 203.9 158.4 199.4 162.3 196.1 166.3 193.3 171.6 192.4 175.6 192.2 179.6 192.8 184.6 194.1 189.4 197.5 196.3 208 209.5 209.8 214.2 212.2 224.1 212 226.7 212.6 229.1 212.6 286.1Z" fill="#0010ff"/><path d="M213.5 288.3 217.2 295.7 220.9 300.8 224.6 303.6 228.3 304.2 232 302.5 235.8 298.5 239.5 292.3 242.1 286.5 242.3 260.5 241.2 251.8 241.9 248.2 242.2 238.2 241.6 235.8 241.5 230.8 240.1 222 236.9 210.8 232.2 197.4 230.6 187.5 231.3 180.9 232.2 178.1 233.3 176.9 234.2 174.6 240 169.8 248.5 165.5 265.8 159.5 289.3 153.1 297.7 149.6 302.3 146.5 306.5 142.2 309.6 137.8 311.7 133 313.1 126.7 312.9 121.5 310.8 115 307.6 109.7 302.8 104.4 296.1 99 289.2 94.9 281.3 91.4 271.5 88.5 264.1 86.9 245.5 84.9 226.9 84.7 207 87 190.8 91 183.3 93.6 174.4 97.5 165.5 102.6 160.4 106.2 154.1 111.4 144.6 120.5 137.6 125.1 135.2 126.1 131.5 127.1 127.8 127.4 90.7 127.5 97.6 130.7 103.4 134.4 107 138.1 108.4 141.8 107.4 145.6 104.2 149.3 98.7 153 90.7 156.8 134.3 156.6 143.9 155.7 150.7 153 154.6 150.6 160.7 145.8 172.3 134.4 180.4 128.3 191.9 122.4 199.4 119.5 208.2 117.1 220.7 115 225.7 114.4 229.4 114.6 233.1 113.9 250.5 114.3 266.6 115.9 270.2 116.9 275.9 120.9 276.2 123.2 275.6 124.2 271.2 127.3 261 131.8 246 137.2 231.2 143.4 215.2 151.4 209.7 154.7 204.1 158.6 199.7 162.6 196.5 166.6 194.4 170.6 193.2 174.7 192.9 178.6 193.4 183.8 194.6 188.6 197.7 195.5 208.3 209.6 210 214.3 212.3 224.5 212.2 227.1 212.9 229.5 212.6 232.1 212.7 286.5Z" fill="#0020ff"/><path d="M213.5 288.3 217.2 295.7 220.9 300.8 223.4 302.9 227.1 304.2 230.8 303.3 234.5 300.1 238.2 294.6 241.9 286.9 242.1 260.9 241.1 252.2 241.7 248.5 242 238.6 241.3 231.2 239.4 219.8 232.1 197.7 230.4 187.8 231 181.3 231.8 178.4 233.9 174.7 239.7 169.9 248.1 165.5 264.1 159.8 288.9 152.9 296.4 149.7 301 146.7 305.3 142.5 308.9 137.5 311.2 132.2 312.5 125.8 312.1 120.6 310.5 115.3 307.4 110 302.7 104.6 296 99.2 289.1 95.1 281.7 91.7 271.9 88.8 264.5 87.2 245.9 85.1 227.3 84.9 207.4 87.1 191.2 91.1 183.6 93.7 174.8 97.5 166.3 102.3 160.7 106.2 154.4 111.4 144.9 120.4 141.4 122.9 135.6 126.1 131.9 127.2 127 127.6 91.1 127.6 97.6 130.7 103.4 134.4 107 138.1 108.4 141.8 107.4 145.6 104.2 149.3 98.7 153 91.1 156.6 134.4 156.4 143.1 155.6 150.3 152.9 155 150.1 160.6 145.5 172.4 134.1 180.7 127.9 192.3 122.1 199.8 119.2 208.6 116.9 221.1 114.8 229.8 114.4 233.5 113.7 250.9 114.2 254.6 114.8 260.8 114.9 267 115.8 270.6 116.9 273 118.2 276.2 121 276.5 123.3 275.8 124.5 272.7 126.9 261.9 131.6 245.7 137.5 230.8 143.8 214.8 151.8 209.8 154.9 204.2 158.8 200 162.8 196.9 166.9 194.9 170.9 193.8 175 193.6 179 194.1 184.2 195.4 189 199.2 196.9 208.5 209.7 211.1 217.5 212.5 224.9 212.4 227.5 213 229.9 212.7 232.4 212.9 286.9Z" fill="#0030ff"/><path d="M213.5 288.3 217.2 295.7 220.9 300.8 223.4 302.9 227.1 304.2 230.8 303.3 234.5 300.1 238.2 294.6 241.8 287.3 242 261.3 240.9 252.6 241.9 239 240.9 229.1 239.1 219 232 198.1 230.8 193.2 230 187 230.7 181.7 231.5 178.7 233.6 174.8 239.3 169.9 247.8 165.5 263.8 159.8 287.8 152.9 295.2 149.9 299.8 146.9 304.2 142.8 308.1 137.3 310.4 132.6 311.8 126.2 311.6 121 310.1 115.6 307.2 110.2 302.6 104.8 296 99.4 289.3 95.4 282.1 92.1 272.3 89 264.9 87.4 255 86 250 86 245.1 85.3 227.7 85 207.8 87.3 192.4 90.9 184 93.7 175.1 97.5 167 102.1 161 106.2 154.7 111.4 143 122.2 136 126.2 132.3 127.3 127.4 127.7 91.4 127.8 97.6 130.7 103.4 134.4 107 138.1 108.4 141.8 107.4 145.6 104.2 149.3 98.7 153 91.4 156.5 133.6 156.3 143.5 155.3 149.8 152.9 156.4 148.7 161.1 144.8 172.5 133.8 181 127.5 192.6 121.7 200.2 118.9 209 116.6 221.5 114.6 230.2 114.2 233.9 113.6 251.3 114 255 114.7 261.2 114.8 267.4 115.8 271 116.9 273.3 118.2 276.6 121.1 276.8 123.4 275.9 124.9 272.7 127.2 239.1 140.3 230.5 144.1 214.5 152.2 206.1 157.7 201.5 161.7 198.1 165.8 195.3 171.2 194.4 175.3 194.2 179.4 195.8 188.2 199.3 196.1 208.8 209.8 211.3 217.7 212.7 225.3 212.6 227.9 213.2 230.3 212.9 232.8 213 287.3Z" fill="#0040ff"/><path d="M213.5 288.3 217.2 295.7 220.9 300.8 223.4 302.9 227.1 304.2 230.8 303.3 234.5 300.1 238.2 294.6 241.6 287.7 241.8 261.7 240.8 253 241.7 239.4 240.8 229.4 239 219.4 236.8 211.9 232 198.5 230.7 193.6 229.8 187.3 230.3 182 231.1 179.1 233.3 174.9 239 170 247.4 165.5 257.2 161.7 286.6 153 294.7 149.6 299.9 146.1 303.9 142 307.7 136.7 310 131.7 311.3 125.3 311 120 308.6 113.2 304.9 107.8 301 103.7 293.8 98.2 287.3 94.6 277.5 90.7 265.3 87.6 255.4 86.2 244.2 85.4 228.1 85.2 215.7 86.3 203.2 88.3 188.1 92.4 178 96.4 172.9 98.9 161.3 106.2 154.9 111.3 143.3 122.1 136.4 126.2 132.7 127.4 127.8 127.9 91.8 128 97.6 130.7 103.4 134.4 107 138.1 108.4 141.8 107.4 145.6 104.2 149.3 98.7 153 91.8 156.3 132.7 156.1 142.6 155.3 149.9 152.6 156.8 148.1 173.9 132.4 181.4 127.1 193 121.4 200.5 118.6 208.1 116.7 221.9 114.4 234.3 113.4 250.4 113.8 255.4 114.5 261.6 114.6 267.7 115.7 271.4 116.9 273.7 118.2 276.9 121.2 277.1 123.6 276.1 125.3 272.8 127.6 238.8 140.7 223.9 147.5 214.2 152.5 208 156.6 203.1 160.6 199.4 164.7 196.3 170.2 195.1 174.3 194.8 178.4 195.1 182.4 196.2 187.4 199.4 195.4 209 209.8 211.5 218.1 212.9 225.7 212.7 228 213.4 230.7 213.1 233.2Z" fill="#0050ff"/><path d="M213.5 288.3 217.2 295.7 220.9 300.8 223.4 302.9 227.1 304.2 230.8 303.3 234.5 300.1 238.2 294.6 241.4 288.1 241.6 262.1 240.6 253.4 241.5 239.8 240.7 229.8 239 219.8 236.8 212.3 231.9 198.9 230.5 194 229.5 187.7 229.9 182.8 230.7 179.4 233 175 238.6 170 247 165.5 256.8 161.7 286.6 152.7 294.5 149.2 299.9 145.3 303.7 141.3 307.5 135.7 309.6 130.9 310.8 124.4 310.3 119 308.3 113.5 304.8 108 299.4 102.6 293.7 98.4 287.6 94.9 277.9 91 265.6 87.9 255.8 86.4 244.6 85.6 228.5 85.4 216.1 86.5 203.6 88.4 188.5 92.5 177.1 97 173.3 99 166.8 102.7 157.8 109.2 143.7 122.1 137.9 125.8 134.3 127.2 125.7 128.1 92.2 128.1 97.6 130.7 103.4 134.4 107 138.1 108.4 141.8 107.4 145.6 104.2 149.3 98.7 153 92.2 156.1 133.1 156 143 155 150.2 152.2 156.9 147.8 174 132.1 181.7 126.7 193.3 121.1 200.9 118.3 208.5 116.4 222.3 114.2 234.7 113.2 250.8 113.7 255.7 114.4 262 114.5 268.1 115.6 271.8 116.8 274.1 118.2 277.2 121.3 277.5 123.7 276.3 125.7 272.8 128 238.4 141 223.6 147.8 214.2 152.7 208.1 156.8 203.3 160.8 199.7 164.9 196.7 170.5 195.6 174.7 195.3 178.8 195.7 182.8 196.9 187.8 200.7 196.8 209.3 209.9 211.8 218.5 213 226.1 212.9 227.6 213.5 231.1Z" fill="#0060ff"/><path d="M214.7 291 218.4 297.6 222.1 302 224.6 303.6 228.3 304.2 230.8 303.3 234.5 300.1 238.2 294.6 241.2 288.5 241.5 262.5 240.5 253.8 241.4 240.2 240.6 230.2 238.9 220.1 236.8 212.6 231.8 199.3 230.4 194.4 229.3 188.1 230.2 180.3 232.7 175.1 238.3 170 246.7 165.5 256.5 161.7 285 153 293.4 149.3 298.5 145.7 302.7 141.6 306.5 136.1 309.3 130 310.2 124.7 309.9 119.3 308.1 113.8 304.6 108.3 299.3 102.8 293.7 98.5 283.2 93 278.3 91.3 266 88.1 254.9 86.5 245 85.8 228.9 85.5 216.5 86.6 204 88.5 195.2 90.6 185.1 93.9 176.1 97.6 169.7 101.1 162.1 106.1 156.8 110.2 144 122.1 138.3 125.8 134.7 127.3 131 128 126.1 128.2 92.6 128.3 99.8 131.9 104.9 135.6 107 138.1 108.4 141.8 107.4 145.6 104.2 149.3 98.7 153 92.6 156 133.5 155.8 143.4 154.7 150.6 151.8 157.4 147.1 174 131.8 182 126.3 193.7 120.7 201.3 118 207.6 116.4 218.9 114.4 227.6 113.5 235.1 113 250 113.5 262.4 114.4 268.5 115.6 272.1 116.8 276.6 120.1 277.6 121.4 277.8 123.8 276.4 126.1 274.6 127.5 238.1 141.3 223.3 148.1 213.4 153.4 208.3 157 203.5 161 199.9 165.2 197 170.8 196 175 195.9 179.1 197.5 188.2 200.8 196.1 209.5 209.9 210.8 213.4 212.7 222.7 213.7 231.5 213.5 288.5Z" fill="#0070ff"/><path d="M214.7 291 218.4 297.6 222.1 302 224.6 303.6 228.3 304.2 230.8 303.3 234.5 300.1 238.2 294.6 241.1 288.9 241.3 262.9 240.3 254.2 241.2 240.6 240 226.8 238.9 220.5 236.7 213 231.8 199.7 230 193.6 229.1 188.5 229.2 184.5 229.9 180.3 232.3 175.3 237.9 170.1 246.3 165.5 256.1 161.6 284.6 152.8 292.5 149.4 297.6 145.8 302.2 141.2 306.3 135.3 308.6 130.4 309.7 125.1 309.5 119.7 307.8 114.1 304.5 108.6 299.2 103 293.6 98.7 283.5 93.3 278.7 91.6 273.8 90.1 262.7 87.7 255.3 86.7 244.2 85.9 229.3 85.7 216.8 86.7 204.4 88.7 196.3 90.5 185.4 94 176.5 97.7 170 101.1 162.7 105.9 157.1 110.2 144.4 122.1 138.7 125.9 135.1 127.3 131.4 128.1 126.5 128.4 93 128.5 99.8 131.9 104.9 135.6 107 138.1 108.4 141.8 107.4 145.6 104.2 149.3 98.7 153 93 155.8 133.9 155.6 143.8 154.4 149.8 152 156.5 147.5 172.7 132.8 180.5 127.1 187.6 123.2 192.8 120.9 204.2 117.1 215.5 114.7 228 113.3 235.5 112.9 249.1 113.3 256.5 114.1 261.5 114.1 268.9 115.5 272.5 116.8 277 120.1 277.9 121.5 278.1 123.9 276.6 126.5 274.7 127.9 250 136.7 237.8 141.6 222.9 148.5 213.1 153.9 206.6 158.5 202.4 162.6 199.3 166.9 197.4 171.1 196.3 178.1 196.7 182.2 197.8 187.4 201.5 196.5 209.7 210 211.1 213.8 212.9 223.1 213.8 231.9 213.7 288.9Z" fill="#0080ff"/><path d="M214.7 291 218.4 297.6 222.1 302 224.6 303.6 228.3 304.2 230.8 303.3 234.5 300.1 238.2 294.6 240.9 289.3 241.2 263.3 240.2 254.6 241 241 240.6 233.5 238.8 220.9 236.7 213.4 230.1 195.2 228.8 188.9 229.2 182 231.9 175.6 237.6 170.1 245.9 165.5 255.7 161.6 284.2 152.7 292.7 148.7 297.7 145.1 302.3 140.1 306.1 134.5 308.3 129.5 309.3 124.1 308.9 118.6 306.9 113 303.3 107.4 297.5 101.7 291.2 97.4 283.9 93.7 276.6 91.1 263.1 88 255.7 86.9 244.6 86.1 228.4 85.9 217.2 86.9 204.7 88.8 197.2 90.4 187.1 93.6 178.1 97.1 170.4 101.2 163.4 105.6 157.4 110.2 144.7 122.1 139.1 125.9 135.5 127.4 131.8 128.3 126.9 128.6 93.4 128.7 99.8 131.9 104.9 135.6 107 138.1 108.4 141.8 107.4 145.6 104.2 149.3 98.7 153 93.4 155.6 134.3 155.4 144.2 154.1 150.2 151.6 156.3 147.4 172.7 132.5 180.5 126.9 187.9 122.8 193.1 120.5 204.6 116.8 215.9 114.5 227.2 113.2 235.9 112.7 250.8 113.1 256.9 113.9 261.9 114 269.3 115.4 272.9 116.7 277.3 120.2 278.2 121.5 278.5 123.9 276.7 126.9 274.8 128.3 244.1 139.1 229.2 145.6 221.4 149.5 212.8 154.3 205.2 160.1 201.4 164.3 198.2 170 197.4 172.8 196.8 177.1 197 181.2 198.1 186.5 201.6 195.8 210.5 211.3 211.6 214.7 213.1 223.5 214 232.3 213.9 289.3Z" fill="#008fff"/><path d="M214.7 291 218.4 297.6 220.9 300.8 223.4 302.9 227.1 304.2 230.8 303.3 234.5 300.1 238.2 294.6 240.7 289.7 241 263.7 240 255 240.9 241.4 240.2 231.4 239.3 223.8 236.8 214.1 231.6 200.4 228.6 189.3 228.9 182.3 229.3 180.3 231.4 175.9 237.2 170.1 245.6 165.5 255.3 161.6 283.7 152.6 291.9 148.7 297.6 144.4 302.2 139.4 306 133.7 308.1 128.6 308.9 123.1 308.3 117.5 306 111.9 303.1 107.6 297.4 101.9 291.1 97.5 284.3 94 277 91.3 262.9 88.1 245 86.3 228.8 86.1 217.6 87 205.1 88.9 197.6 90.5 187.4 93.6 178.4 97.2 170.7 101.2 164 105.4 157.7 110.2 145.1 122.1 139.5 126 134.7 128 126 128.8 93.8 128.8 99.8 131.9 104.9 135.6 107 138.1 108.4 141.8 107.4 145.6 104.2 149.3 98.7 153 93.8 155.5 133.4 155.2 143.3 154.1 149.4 151.8 156.2 147.3 172.7 132.2 179 127.5 183 125.1 192.2 120.7 205 116.5 216.3 114.2 227.6 113 236.3 112.5 251.2 113 262.3 113.9 269.7 115.3 273.3 116.7 277.6 120.2 278.6 121.6 278.5 124.9 276.9 127.3 274.9 128.7 244.2 139.2 228.4 146.1 212.4 154.8 206.9 158.9 204 161.7 200.7 166 198.6 170.3 197.7 173.1 197.3 177.4 197.5 181.6 198.7 186.9 202.3 196.2 210.9 211.6 211.8 214.8 213.4 223.9 214.2 232.7 214.1 289.7Z" fill="#009fff"/><path d="M214.7 291 218.4 297.6 220.9 300.8 223.4 302.9 227.1 304.2 229.6 303.9 233.3 301.4 237 296.7 240.5 290.1 240.8 264 239.8 255.4 240.7 241.8 240.1 231.8 239.2 224.2 236.9 215 229.8 196 228.3 189.7 228.5 182.6 229 180.3 230.9 176.2 236.9 170.2 245.2 165.5 255 161.5 282.6 152.7 291.7 148.3 296.6 144.6 301.3 139.8 305.2 134.1 307.5 129 308.4 123.5 308 117.9 305.8 112.2 303 107.9 297.3 102.1 291.8 98.1 284.7 94.3 276.8 91.4 262.7 88.2 256.5 87.3 244.1 86.4 230.5 86.2 223 86.7 204.2 89.2 196.7 91 186.5 94.1 178.2 97.5 169.7 101.9 158 110.2 145.4 122.1 139.8 126.1 135.1 128.1 126.4 129 94.2 129 99.8 131.9 104.9 135.6 107 138.1 108.4 141.8 108 144.3 105.5 148 100.8 151.7 94.2 155.3 133.8 155 143.7 153.8 149.9 151.3 156.5 146.8 172.8 132 179.4 127.1 188.6 122 202.8 116.8 211.7 114.8 224.2 113.1 236.7 112.3 250.3 112.8 262.7 113.8 270.1 115.3 273.7 116.7 278 120.3 278.9 121.6 279.2 124 278.8 125.3 277.1 127.6 275 129.1 271.2 130.6 262.9 132.8 244 139.5 228 146.5 212.4 155 204.1 161.9 200.9 166.2 198.9 170.5 198.1 173.4 197.7 177.8 198.9 186 202.4 195.5 211.2 212 213.6 224.2 214.3 233.1 214.3 290.1Z" fill="#00afff"/><path d="M214.7 291 218.4 297.6 220.9 300.8 223.4 302.9 227.1 304.2 229.6 303.9 233.3 301.4 237 296.7 240.3 290.5 240.6 264.4 239.6 255.8 240.5 242.1 239.9 230.9 239.1 224.2 236.6 214.5 229.7 196.4 228 190.1 228.1 183 230.2 176.9 235.4 171.1 241.2 167.3 244.9 165.5 254.6 161.5 281.9 152.6 290.9 148.3 296.6 144 301.2 139 305.1 133.2 307.3 128 308.1 122.5 307.3 116.8 304.9 111 301.7 106.7 297.3 102.2 290.9 97.8 283.8 94.1 275.3 91.1 268 89.3 256.9 87.6 245.7 86.7 230.8 86.4 213.4 87.9 200.8 90.1 186.9 94.2 179.1 97.2 170 102 158.2 110.1 144.7 123 140.2 126.1 135.5 128.2 126.8 129.1 94.6 129.2 99.8 131.9 104.9 135.6 107 138.1 108.4 141.8 108 144.3 105.5 148 100.8 151.7 94.6 155.1 133 154.9 142.9 153.8 149.3 151.4 156.9 146.3 172.8 131.7 179.7 126.7 189 121.7 203.2 116.5 210.8 114.7 223.4 113 237 112.1 250.7 112.6 263.1 113.6 270.4 115.2 274 116.6 278.4 120.3 279.3 121.7 279.5 123.1 279 125.7 277.2 128 275.2 129.5 271.3 131 262.6 133.2 244.3 139.5 232.6 144.5 221.5 149.9 212.5 155.2 207.1 159.3 203.1 163.6 199.7 169.4 198.7 172.3 198.1 176.7 199.1 185.1 202.5 194.8 211.6 212.3 213.8 224.6 214.5 233.4Z" fill="#00bfff"/><path d="M214.7 291 218.4 297.6 220.9 300.8 223.4 302.9 227.1 304.2 229.6 303.9 233.3 301.4 237 296.7 240.2 290.8 240.4 264.8 239.5 256.2 240.3 242.5 239.8 231.3 238.8 223.7 236.6 214.9 229.5 196.7 227.8 190.5 227.7 183.4 229.9 176.9 235.1 171.1 239.7 168 244.5 165.5 254.2 161.5 281.6 152.5 289.9 148.5 295.6 144.2 300.3 139.4 304.4 133.6 306.7 128.4 307.7 122.8 307.1 117.1 304.7 111.3 301.6 106.9 297.2 102.4 290.8 97.9 284.2 94.4 275.7 91.4 268.4 89.6 257.3 87.8 246.1 86.9 231.2 86.6 213.8 88 201.8 90.1 187.2 94.3 179.5 97.3 170.3 102 158.5 110.1 145 123 140.6 126.2 135.8 128.3 127.2 129.3 95 129.4 99.8 131.9 104.9 135.6 107 138.1 108.4 141.8 108 144.3 105.5 148 100.8 151.7 95 154.9 133.4 154.7 142.3 153.8 149.3 151.2 156.1 146.6 172.8 131.4 180 126.2 189.3 121.3 203.5 116.2 211.2 114.4 223.7 112.7 237.4 111.9 251.1 112.4 263.5 113.5 270.8 115.1 275.6 117.3 278.7 120.3 279.6 121.7 279.9 124 279.3 126.1 277.4 128.4 275.4 129.9 271.4 131.4 262.2 133.5 244.4 139.6 232.2 144.9 221.5 150.1 212.5 155.4 207.3 159.5 203.3 163.8 200 169.7 199 172.6 198.5 177 199.6 185.5 203.1 195.1 211.5 211.3 212.5 214.9 213.7 222.4 214.7 233.8Z" fill="#00cfff"/><path d="M215.9 293.5 219.7 299.3 222.1 302 224.6 303.6 228.3 304.2 230.8 303.3 234.5 300.1 237 296.7 240 291.2 240.2 265.2 239.3 255.3 240.2 242.9 239.4 229.1 238.5 222.8 236.5 215.2 229.3 197.1 227.5 190.8 227.3 183.7 228.1 180.4 229.6 176.9 234.7 171.1 239.3 168 244.1 165.5 253.9 161.4 281.2 152.3 290.1 147.8 295.6 143.6 300.7 138.2 304.4 132.8 306.6 127.4 307.3 121.7 306.8 117.4 304.5 111.5 301.5 107.1 297.1 102.6 290.7 98 284.6 94.8 276.1 91.7 268.7 89.8 258.9 88.2 244.1 87 231.6 86.8 224.2 87.2 212.9 88.3 202.9 90.1 187.6 94.4 178.5 97.9 170.6 102 158.8 110.1 147.6 121.2 143.2 124.7 139.8 126.9 136.2 128.4 132.5 129.2 126.3 129.5 95.4 129.6 101.7 133.2 104.9 135.6 107 138.1 108.4 141.8 108 144.3 105.5 148 100.8 151.7 95.4 154.7 133.8 154.5 143.7 153.2 149.7 150.8 156.5 146.1 172.8 131.2 180.3 125.8 189.7 120.9 203.9 115.9 211.5 114.2 224.1 112.5 237.8 111.7 251.5 112.3 263.9 113.4 271.2 115 275.9 117.3 279.1 120.3 279.9 121.8 280.3 124.1 279.5 126.5 277.6 128.8 275.5 130.3 271.4 131.8 263.3 133.5 247.8 138.5 232.1 145.1 221.5 150.3 212.6 155.6 207.4 159.7 203.5 164 200.2 169.9 199.4 172.9 198.9 177.3 200.1 185.8 203.7 195.5 212.1 212.3 214 222.8 214.9 234.2 214.8 291.2Z" fill="#00dfff"/><path d="M215.9 293.5 219.7 299.3 222.1 302 224.6 303.6 228.3 304.2 230.8 303.3 234.5 300.1 237 296.7 239.8 291.6 240.1 265.6 239.1 255.7 240 243.3 239.2 228.2 238.4 223.2 236.5 215.6 229.2 197.5 227.2 191.2 227 184.1 227.8 180.4 229.2 176.9 234.4 171.1 239 167.9 243.8 165.4 253.5 161.4 280.8 152.2 289.1 148 294.6 143.8 300.4 137.9 303.7 133.1 306.1 127.8 307 122.1 306.6 117.7 304.4 111.8 301.4 107.3 297 102.8 290.6 98.1 284.4 94.9 276.5 92 269.1 90.1 258.1 88.2 246.9 87.3 232 86.9 214.6 88.3 200.7 90.7 191.8 93.2 181.5 96.8 170.9 102 159.1 110.1 147.9 121.2 143.6 124.8 140.2 127 136.6 128.6 132.9 129.3 126.7 129.7 95.8 129.8 101.7 133.2 104.9 135.6 107 138.1 108.4 141.8 108 144.3 105.5 148 100.8 151.7 95.8 154.5 134.2 154.2 142.8 153.2 148.9 151.1 155.7 146.5 172.8 130.9 180.6 125.3 190 120.5 204.3 115.5 211.9 113.9 224.5 112.3 238.2 111.5 251.9 112.1 264.3 113.2 271.6 114.9 276.3 117.3 279.4 120.3 280.3 121.8 280.6 124.1 279.7 126.9 277.8 129.2 275.7 130.7 271.6 132.2 262.9 133.9 248 138.7 232.2 145.2 221.5 150.5 212.7 155.8 207.5 160 203.6 164.3 200.5 170.2 199.6 173.2 199.2 177.7 200.2 184.9 203.7 194.8 212.3 212.2 214.2 223.2 215.1 234.6 215 291.6Z" fill="#00efff"/><path d="M215.9 293.5 219.7 299.3 222.1 302 224.6 303.6 228.3 304.2 230.8 303.3 234.5 300.1 239.6 292 239.9 266 238.9 256.1 239.8 243.7 239.1 228.6 238.3 223.5 236.4 216 228.5 196.7 226.9 191.6 226.6 184.5 227.2 181.2 228.9 177 231.9 173.2 235.1 170.2 243.4 165.4 253.1 161.3 279.8 152.3 288.1 148.2 293.6 144.1 299.5 138.3 303 133.5 305.6 128.2 306.6 122.4 306.3 118 304.2 112 301.3 107.5 296.9 102.9 290.5 98.2 284.2 94.9 276.8 92.3 269.5 90.3 258.4 88.5 247.3 87.5 232.4 87.1 214.9 88.5 201.1 90.8 190.9 93.6 181.8 96.9 169.9 102.8 158.5 110.9 148.3 121.2 144 124.9 140.6 127.1 137 128.7 133.3 129.5 127.1 129.9 96.2 130 101.7 133.2 104.9 135.6 107 138.1 108.4 141.8 108 144.3 105.5 148 100.8 151.7 96.2 154.3 133.3 154.1 143.2 152.9 149.3 150.7 156.1 146 172.8 130.6 180.7 125.1 188.3 121 194.3 118.5 205.9 114.9 218.6 112.7 229.9 111.7 238.6 111.3 253.5 112 264.6 113.1 272 114.8 276.7 117.2 279.8 120.3 280.6 121.9 281 124.1 280 127.3 278 129.6 275.9 131.1 271.7 132.6 262.6 134.3 248.1 138.8 235.2 144 221.6 150.7 212.7 156 207.6 160.2 203.8 164.5 200.7 170.5 199.9 173.5 199.6 178 200.7 185.2 204.3 195.2 212.1 211 213.8 217.8 215.3 233.8 215.2 292Z" fill="#00ffff"/><path d="M215.9 293.5 220.9 300.8 223.4 302.9 227.1 304.2 229.6 303.9 233.3 301.4 235.8 298.5 239.4 292.4 239.7 266.4 238.8 256.5 239.6 244.1 239 229 238.3 223.9 236.4 216.4 228.3 197.1 226.4 190.7 226.1 186.4 226.4 183.2 228.6 177 233.7 171.2 241.8 166 252.7 161.3 278.7 152.4 288.3 147.6 294.7 142.6 299.6 137.6 303.1 132.6 305.5 127.1 306.3 121.3 305.7 116.8 303.3 110.8 299.9 106.2 295 101.5 290.3 98.3 283.9 95 277.2 92.5 269.9 90.6 260.1 88.9 244 87.6 232.8 87.3 225.3 87.7 212.8 88.9 202.2 90.8 192.5 93.3 183.2 96.6 170.2 102.9 159.1 110.7 147.6 122.2 144.4 124.9 141 127.2 137.4 128.8 133.7 129.7 127.5 130.1 96.6 130.2 101.7 133.2 104.9 135.6 107 138.1 108.4 141.8 108 144.3 105.5 148 102.6 150.5 96.6 154.1 133.7 153.9 143.6 152.6 149.7 150.3 156.7 145.3 174.3 129.2 180.7 124.8 192 119.2 205 114.9 214 113.1 225.3 111.8 239 111.1 252.7 111.7 265 113 272.4 114.8 277.1 117.2 280.2 120.3 281 121.9 281.2 125 280.2 127.7 278.2 130 276.1 131.5 271.9 133 262.2 134.7 248.3 139 238.4 142.8 226.8 148.1 219.3 152.1 210.9 157.5 205 163.3 201.5 169.2 200.5 172.3 199.9 176.8 200.2 181.3 201.1 185.6 204.4 194.5 212.5 211.3 214 217.8 215.5 234.1 215.4 292.4Z" fill="#10ffef"/><path d="M215.9 293.5 220.9 300.8 223.4 302.9 227.1 304.2 229.6 303.9 233.3 301.4 235.8 298.5 239.2 292.8 239.5 266.8 238.6 256.9 239.4 244.5 238.8 228.1 236.3 216.7 228.1 197.5 226.1 191.1 225.7 187.1 226 183.6 228.3 177 233.3 171.2 241.4 165.9 252.4 161.2 277.7 152.5 287.3 147.7 293.7 142.9 298.8 137.9 302.5 133 305 127.5 306 121.6 305.5 117.1 303.9 112.5 301.1 107.9 296.8 103.2 292.7 100 286 96.1 277.6 92.8 270.3 90.8 260.5 89.1 244.4 87.8 233.2 87.5 225.7 87.9 213.3 89.1 203.1 90.8 192.9 93.4 183.8 96.6 170.6 102.9 159.7 110.4 149 121.3 144.7 125 142.5 126.6 137.8 129 134.1 129.8 127.9 130.3 96.9 130.4 101.7 133.2 104.9 135.6 107 138.1 108.4 141.8 108 144.3 105.5 148 102.6 150.5 96.9 153.9 134.1 153.7 144 152.3 149.9 149.9 156.4 145.3 173.6 129.5 180.7 124.5 191.1 119.3 205.4 114.6 214.3 112.8 225.7 111.5 239.4 110.9 253.1 111.6 265.4 112.8 272.8 114.7 277.5 117.1 280.5 120.3 281.3 121.8 281.5 125.4 280.4 128.1 278.5 130.4 276.3 131.9 272.1 133.4 261.9 135.1 248.4 139.1 238.5 142.9 226.8 148.3 219.3 152.3 211 157.7 205.2 163.5 201.7 169.5 200.8 172.5 200.3 177.1 201.2 184.6 204.4 193.7 212.9 211.7 214.3 217.8 215.7 234.5 215.6 292.8Z" fill="#20ffdf"/><path d="M215.9 293.5 220.9 300.8 223.4 302.9 227.1 304.2 229.6 303.9 233.3 301.4 235.8 298.5 239 293.2 239.3 267.2 238.4 257.3 239.2 244.9 238.7 228.5 237.6 222.4 235.8 215.9 227.4 196.6 225.7 191.4 225.3 188.6 225.5 183.9 226.5 180.3 227.9 177 233 171.2 241.1 165.9 252 161.2 276.9 152.5 286.3 147.9 292 143.8 298 138.3 301.8 133.4 304.6 127.9 305.7 121.9 305.3 117.4 303.8 112.8 301 108.1 296.7 103.4 292.6 100.2 286.4 96.5 278 93.1 270.7 91.1 260.9 89.3 244.8 88 233.6 87.7 226.1 88.1 214.8 89.1 203.5 90.9 193.5 93.5 184.1 96.6 170.9 103 160.3 110.2 149.4 121.3 145.1 125.1 142.9 126.7 138.2 129.1 134.5 130 128.3 130.5 97.3 130.6 104.9 135.6 107 138.1 108.4 141.8 108 144.3 105.5 148 102.6 150.5 97.3 153.7 133.3 153.5 143.1 152.3 149.3 150.1 156 145.3 173.9 129 180.7 124.3 191.4 118.9 205.8 114.2 214.7 112.5 226.1 111.2 239.8 110.7 253.4 111.4 265.8 112.7 273.2 114.6 277.8 117.1 280.9 120.3 281.9 123 281.9 125.8 280.7 128.5 278.7 130.8 276.5 132.3 272.2 133.9 261.5 135.4 251.9 138.2 241.9 141.7 226.9 148.4 219.3 152.5 209.4 159.3 205.3 163.7 201.9 169.7 201.1 172.8 200.6 177.4 201.6 184.9 204.9 194.1 212.8 210.8 214.5 217.7 215.9 234.9Z" fill="#30ffcf"/><path d="M217.2 295.7 219.7 299.3 222.1 302 224.6 303.6 228.3 304.2 230.8 303.3 233.3 301.4 235.8 298.5 238.8 293.6 239.1 267.6 238.2 257.7 239 245.3 238.6 228.9 237.7 223.5 235.8 216.3 227.2 197 225.4 191.8 224.9 187.5 225.1 184.3 225.9 180.8 227.5 177.2 232.6 171.1 240.7 165.9 251.6 161.1 277.8 151.9 286.5 147.3 292.8 142.7 298.2 137.5 302 132.5 304.6 126.8 305.4 120.8 304.7 116.1 302.9 111.5 299.7 106.7 294.7 101.9 289.8 98.6 283.2 95.2 277.2 93 271.1 91.4 260 89.4 248.9 88.4 235.2 87.9 216.5 89.1 202.6 91.3 193.6 93.6 183.3 97.1 171.2 103 159.5 111.1 149.7 121.4 145.5 125.2 142.1 127.5 138.6 129.2 134.9 130.2 128.7 130.7 97.7 130.8 103.4 134.4 106.1 136.9 107.7 139.4 108.4 141.8 108 144.3 105.5 148 102.6 150.5 97.7 153.5 133.7 153.3 142.3 152.3 146 151.3 149.6 149.7 156.4 144.8 172.9 129.5 180.6 124 191.8 118.5 206.1 113.9 213.8 112.4 226.5 111 240.2 110.5 255.1 111.3 266.2 112.5 273.5 114.5 278.2 117 281.3 120.3 282.5 124 282.2 126.2 280.9 129 276.7 132.7 272.4 134.3 261.1 135.8 251.9 138.4 241.9 141.9 226.9 148.6 218.8 153 209.5 159.5 205.5 163.9 202.2 170 201.3 173.1 200.9 177.7 202.1 185.3 205.5 194.5 212.7 209.8 214.8 217.6 216.1 235.3 216 293.6Z" fill="#40ffbf"/><path d="M217.2 295.7 219.7 299.3 222.1 302 224.6 303.6 228.3 304.2 230.8 303.3 233.3 301.4 235.8 298.5 238.6 294 238.9 268 238 258.1 238.8 245.7 238.5 229.2 237.7 224.2 235.7 216.6 226.9 197.4 225 192.2 224.5 187.8 224.7 184.6 225.4 181.2 226.9 177.5 232.3 171.1 240.4 165.9 251.2 161.1 276.8 152 286.6 146.8 293 142 298.5 136.8 302.3 131.5 304.2 127.2 305.1 121.1 304.6 116.4 302.8 111.7 299.6 106.9 294.6 102 289.7 98.7 283.6 95.5 277.4 93.3 270.2 91.4 260.4 89.7 249.3 88.6 235.6 88.1 218.1 89.1 202.9 91.4 192.7 94.1 184.2 97 171.5 103 160.1 110.9 145.9 125.3 142.5 127.6 139 129.4 135.3 130.3 129.1 130.9 98.1 131 103.4 134.4 106.1 136.9 107.7 139.4 108.4 141.8 108 144.3 105.5 148 102.6 150.5 98.1 153.3 134.1 153 143.9 151.7 150 149.3 156.7 144.3 172.7 129.3 180.6 123.7 190.8 118.6 205.2 113.8 214.2 112.1 226.9 110.7 240.6 110.3 254.2 111 266.6 112.4 273.9 114.4 278.6 116.9 281.6 120.3 282.8 124 282.5 126.7 281.1 129.4 277 133 272.7 134.7 262.3 135.9 251.5 138.7 240.3 142.7 227 148.8 217.2 154.2 209.6 159.7 205.6 164.1 202.4 170.3 201.6 173.4 201.2 178.1 202.5 185.6 205.5 193.7 213.1 210.2 215 217.6 216.3 235.7 216.2 294Z" fill="#50ffaf"/><path d="M217.2 295.7 219.7 299.3 222.1 302 224.6 303.6 228.3 304.2 230.8 303.3 233.3 301.4 235.8 298.5 238.4 294.4 238.6 268.4 237.8 258.5 238.6 246.1 238.3 229.6 237.6 224.5 235.6 217 226.1 196.6 224.7 192.6 224.1 188.2 224.2 185 225 181.5 226.4 177.8 228.8 174.4 231.9 171.1 238.8 166.4 250.9 161 275.9 152 285.7 147 293.2 141.4 298.8 135.9 302.5 130.5 304.2 126 304.9 121.4 304.4 116.7 302.6 111.9 299.5 107.1 294.5 102.1 289.5 98.7 282.8 95.4 276.8 93.2 269.4 91.4 260.8 89.9 248.4 88.7 236 88.3 218.5 89.3 203.3 91.6 194.3 93.8 185.1 96.9 177.2 100.3 170.4 103.9 160 111.3 146.3 125.4 142.9 127.8 139.4 129.5 135.7 130.5 129.5 131.1 98.5 131.2 103.4 134.4 106.1 136.9 107.7 139.4 108.4 141.8 108 144.3 105.5 148 102.6 150.5 98.5 153.1 134.4 152.8 143.1 151.7 149.2 149.5 156 144.7 172.7 129.1 180.6 123.5 191.1 118.2 205.6 113.5 214.6 111.8 227.2 110.5 241 110.1 254.6 110.8 267 112.2 274.3 114.3 279 116.9 282 120.2 283.2 123.9 282.8 127.1 281.4 129.8 277.3 133.4 272.9 135.1 261.9 136.4 252.4 138.7 239.9 143 227.1 148.9 217.3 154.4 209.7 159.9 205.7 164.4 202.6 170.5 201.5 176.8 202.5 184.5 205.5 192.9 213.5 210.6 215.3 217.5 216.5 236.1 216.5 294.4Z" fill="#60ff9f"/><path d="M217.2 295.7 219.7 299.3 222.1 302 224.6 303.6 227.1 304.2 229.6 303.9 232 302.5 234.5 300.1 238.1 294.8 238.4 268.8 237.6 258.9 238.4 246.5 238.1 228.7 236.9 222.3 235.1 216.2 225.8 197 224.3 193 223.8 190.1 223.8 185.3 224.5 181.9 225.9 178.2 230.5 172.1 233.8 169.4 238.4 166.4 250.5 160.9 276.6 151.4 285.7 146.5 292.5 141.5 298 136.3 301.9 130.9 303.8 126.4 304.6 121.7 304.2 116.9 302.5 112.2 299.4 107.3 294.3 102.2 289.3 98.8 283.1 95.7 276 93.2 261.2 90.2 248.8 89 235.2 88.5 216.4 89.7 202.4 92 194.4 94 184.2 97.4 170.7 103.9 160.3 111.4 146.6 125.5 143.3 127.9 139.7 129.7 136.1 130.7 129.9 131.3 98.9 131.4 103.4 134.4 106.1 136.9 107.7 139.4 108.4 141.8 108 144.3 106.6 146.8 104.2 149.3 98.9 152.9 134.8 152.6 143.5 151.4 149.6 149.1 155.3 145.1 168.9 132 178.9 124.3 184.6 120.9 191.5 117.8 206 113.1 216.3 111.3 227.6 110.2 241.4 109.8 255 110.6 267.4 112.1 274.7 114.2 279.3 116.8 282.4 120.2 283.6 123.9 283.1 127.5 281.6 130.2 277.6 133.8 273.2 135.6 261.6 136.8 252 139 240.8 142.9 230 147.7 219.6 153.2 211.4 158.7 207 163.1 203.3 169.2 202.4 172.3 201.8 177.1 202.9 184.9 206 193.2 213.5 209.7 215.6 217.8 216.8 236.5 216.7 294.8Z" fill="#70ff8f"/><path d="M217.2 295.7 219.7 299.3 222.1 302 224.6 303.6 227.1 304.2 229.6 303.9 232 302.5 234.5 300.1 237.9 295.2 238.2 269.2 237.4 259.3 238.2 246.8 238 229.1 236.6 221.5 234.6 215.4 225.5 197.4 223.9 193.4 223.2 189 223.3 185.7 224 182.2 225.4 178.4 228.1 174.3 231.2 171.1 239.3 165.7 250.1 160.9 275.6 151.5 285.9 145.9 292.4 141.1 297.3 136.7 301.4 131.2 303.4 126.7 304.3 122 304 117.2 302.4 112.4 299.3 107.4 294.2 102.3 289 98.8 282.3 95.5 275.1 93.1 261.6 90.4 249.2 89.2 235.6 88.7 216.8 89.9 202.8 92.1 195 94.1 184.5 97.5 171 104 160.6 111.4 147 125.6 143.7 128 140.1 129.8 136.5 130.9 130.3 131.5 99.3 131.6 103.4 134.4 106.1 136.9 107.7 139.4 108.4 141.8 108 144.3 106.6 146.8 104.2 149.3 99.3 152.6 135.2 152.3 143.9 151.1 149.9 148.7 155.6 144.6 169.2 131.5 178.1 124.5 184 120.9 190.4 117.9 205 113.1 215.4 111.1 228 109.9 241.8 109.6 254.2 110.3 267.8 111.9 272.7 113.2 277.5 115.2 281.8 118.8 283.6 122.2 284 123.8 283.7 126.6 281.8 130.6 277.8 134.2 275.7 135.3 271.3 136.4 261.2 137.2 252.9 139 242.7 142.4 230.1 147.8 219.7 153.3 211.5 158.9 207.2 163.3 203.5 169.4 202.1 175.8 202.9 183.7 205.4 191 214.1 210.6 215.9 218.2 217 236.9Z" fill="#80ff80"/><path d="M217.2 295.7 219.7 299.3 222.1 302 224.6 303.6 227.1 304.2 229.6 303.9 232 302.5 234.5 300.1 237.7 295.6 238 269.6 237.2 259.7 238.1 246 237.9 229.5 236.5 221.9 234.8 216.4 229.9 206.2 225.2 197.7 223.2 192.3 222.9 185.6 223.7 181.6 225.1 178.3 227.8 174.3 230.8 171.1 238.9 165.7 249.8 160.8 275 151.5 280.4 148.8 286.7 144.9 292.7 140.5 297.7 135.8 301.7 130.1 303.5 125.5 304.1 120.7 303.4 115.9 301.4 110.9 297.7 105.9 294.1 102.4 288.6 98.7 282.7 95.9 275.5 93.4 262 90.7 249.6 89.5 237.2 89 218.4 89.9 203.1 92.3 194.1 94.6 184.8 97.6 176.8 101.1 171.3 104 161.3 111.2 147.4 125.7 144.1 128.2 140.5 130 136.9 131.1 130.7 131.7 99.7 131.9 103.4 134.4 106.1 136.9 107.7 139.4 108.4 141.8 108 144.3 106.6 146.8 104.2 149.3 99.7 152.4 135.6 152.1 144.3 150.8 147.9 149.5 151.5 147.5 156.4 143.7 172.5 128.3 182.5 121.4 193.5 116.4 206.7 112.4 215.7 110.8 228.4 109.6 242.2 109.3 254.6 110.1 266.9 111.6 273 113.1 279 115.8 282.2 118.8 283.9 121.7 284.4 123.7 284.2 126.5 282.1 131 278.1 134.6 276 135.7 271.6 136.9 260.8 137.6 252.6 139.4 242.9 142.5 230.2 147.9 219.7 153.5 211.6 159.1 207.3 163.5 203.7 169.7 202.4 176.1 203.3 184 205.9 191.4 214.2 210.1 215.6 214.3 216.3 218.5 217.2 237.3Z" fill="#8fff70"/><path d="M218.4 297.6 220.9 300.8 223.4 302.9 225.8 304 228.3 304.2 230.8 303.3 233.3 301.4 237.4 296 237.7 269.9 237 260 237.8 247.6 237.8 229.9 236.4 222.2 234.9 217.3 229.8 206.7 224.2 196.9 222.7 192.7 222.3 189.7 222.5 185.4 224.7 178.2 227.4 174.3 230.5 171 238.5 165.6 248.2 161.2 274.7 151.3 279.4 149 285.9 145 293.1 139.8 297 136.2 301.2 130.5 303.2 125.8 303.9 121 303.3 116.1 301.3 111.1 297.6 106 293.9 102.5 288.5 98.9 281.9 95.7 274.6 93.4 261.1 90.8 250 89.7 236.3 89.2 218.8 90.1 202.2 92.7 194.4 94.7 183.9 98.2 177.1 101.2 170.3 104.9 161.3 111.5 147.8 125.9 144.5 128.3 140.9 130.2 136 131.5 129.8 132 100.1 132.1 106.1 136.9 107.7 139.4 108.4 141.8 108 144.3 106.6 146.8 104.2 149.3 100.1 152.2 136 151.8 144.7 150.4 148.3 149.1 151.9 147.1 156.3 143.5 172.5 128.1 177.1 124.5 182.8 120.9 195.2 115.5 207.1 112 216.1 110.5 228.8 109.3 242.5 109.1 255 109.9 267.3 111.4 273.4 112.9 279.4 115.7 282.6 118.7 284.3 121.6 284.8 123.6 284.7 126.3 283.9 128.9 282.4 131.5 278.5 135 276.4 136.1 271.9 137.3 260.5 138 250.9 140.1 239.7 143.9 230.4 148.1 219.8 153.6 211.7 159.3 207.4 163.7 203.9 169.9 202.7 176.4 203.7 184.3 206.4 191.7 214.4 209.7 215.9 214.7 216.6 218.9 217.5 237.6 217.4 296Z" fill="#9fff60"/><path d="M218.4 297.6 220.9 300.8 223.4 302.9 225.8 304 228.3 304.2 230.8 303.3 233.3 301.4 237.2 296.3 237.5 270.3 236.7 260.4 237.8 239.7 237.5 229 236.3 222.3 234.3 216.4 230.1 207.8 223.9 197.2 222.3 193.1 221.7 188.5 222 185.2 224.4 178.2 227.1 174.2 230.1 171 237 166.2 247.8 161.1 274.3 151.1 279.6 148.5 286 144.5 292.2 140.2 297.5 135.3 300.7 130.9 302.8 126.2 303.6 121.3 303.1 116.3 301.2 111.3 297.5 106.1 293.7 102.6 288.3 98.9 282.3 96 275 93.7 261.5 91.1 250.4 89.9 236.7 89.4 217.9 90.4 202.6 92.8 194.8 94.8 184.9 98.1 177.4 101.3 170.6 105 161.6 111.6 148.2 126 144.8 128.5 141.3 130.4 136.4 131.7 130.2 132.3 100.5 132.4 106.1 136.9 107.7 139.4 108.4 141.8 108 144.3 106.6 146.8 104.2 149.3 100.5 151.9 136.4 151.6 145 150.1 148.7 148.7 152.2 146.6 157.7 142 171.3 128.7 177 124.2 183.1 120.4 192.8 116 206.2 111.9 215.2 110.3 227.9 109.1 241.7 108.8 255.4 109.7 267.7 111.2 273.8 112.8 279.7 115.6 282.9 118.6 284.6 121.5 285.1 123.6 285.1 126.4 284.2 129.3 282.7 131.9 278.8 135.4 276.8 136.5 272.3 137.8 260.1 138.5 253.2 139.8 243.3 142.8 233.5 146.8 219.9 153.8 211.8 159.5 207.5 163.9 204.1 170.2 203 176.6 204.1 184.7 206.3 190.7 214.4 209 216.8 217.9 217.7 236.8 217.6 296.3Z" fill="#afff50"/><path d="M218.4 297.6 222.1 302 224.6 303.6 227.1 304.2 229.6 303.9 232 302.5 234.5 300.1 237 296.7 237.2 270.7 236.5 260.8 237.6 240.9 237.4 229.4 235.9 221.7 233.8 215.7 230.4 208.9 223.5 197.6 221.8 193.5 221.3 190.5 221.5 185.4 222.4 181.7 224 178.1 226.7 174.2 229.8 170.9 236.6 166.2 248.6 160.5 274.8 150.5 280.7 147.4 288.5 142.4 294 138.3 298 134.3 301.1 129.7 302.9 124.9 303.4 119.9 302.5 114.9 300 109.7 297.4 106.3 293.5 102.7 287.9 98.9 282.6 96.4 275.4 94 261.9 91.3 250.8 90.2 237.1 89.7 217.5 90.7 203 93 185.8 97.9 177.7 101.4 170.9 105.1 161.9 111.7 148.6 126.2 145.2 128.7 141.7 130.5 136.8 131.9 130.6 132.5 100.9 132.6 106.1 136.9 107.7 139.4 108.4 141.8 108 144.3 106.6 146.8 104.2 149.3 100.9 151.7 135.6 151.4 145.4 149.7 151.7 146.8 157.8 141.7 172.3 127.6 176.9 124 183.5 119.9 194.6 115.1 206.5 111.5 215.6 110 228.3 108.8 243.3 108.6 255.7 109.4 268.1 111 273 112.2 279 114.8 283.3 118.5 285 121.5 285.5 123.5 285.4 126.9 284.5 129.8 282.9 132.3 279.2 135.8 277.2 136.9 272.8 138.3 259.7 138.9 252.8 140.2 243.6 142.9 233.7 146.9 222.5 152.5 213.7 158.2 210.3 161.1 207.7 164.1 204.3 170.4 203.2 176.9 204.1 183.4 206.2 189.6 214.8 209.4 217.1 218.2 218 238.4 217.9 296.7Z" fill="#bfff40"/><path d="M218.4 297.6 222.1 302 224.6 303.6 227.1 304.2 229.6 303.9 232 302.5 236.7 297.1 237 271.1 236.3 260 237.4 241.3 237.3 229.7 235.8 222.1 233.9 216.7 229.9 208.8 223.1 198 221.3 193.9 220.7 187.6 221.3 184 222.9 179.5 225.4 175.3 228.3 171.9 236.2 166.1 248.3 160.4 273.8 150.6 279.7 147.5 289.7 141.2 294.6 137.4 298.6 133.2 300.6 130.1 302.6 125.2 303.2 120.2 302.3 115.1 299.9 109.9 297.2 106.4 293.4 102.7 287.7 99 283 96.7 277 94.6 262.3 91.6 251.2 90.5 237.5 89.9 219.2 90.8 202 93.4 184.8 98.6 177.9 101.5 170.5 105.6 162.2 111.8 148.9 126.3 145.6 128.9 142.1 130.7 137.2 132.1 131 132.7 101.3 132.9 106.1 136.9 107.7 139.4 108.4 141.8 108 144.3 106.6 146.8 101.3 151.4 136 151.1 145.5 149.5 151.8 146.4 157.4 141.9 171.9 127.5 176.9 123.6 182.4 120.2 188 117.3 194.9 114.6 206.9 111.2 217.3 109.4 230 108.4 243.7 108.3 256.1 109.2 268.5 110.8 273.4 112.1 279.4 114.6 283.7 118.5 285.4 121.4 285.9 123.3 285.8 127.4 284.8 130.3 283.2 132.7 279.6 136.2 277.6 137.3 273.3 138.7 259.3 139.3 251.1 140.9 243.5 143.2 233.9 147 222.6 152.7 213.9 158.4 207.8 164.3 204.5 170.6 203.5 177.2 204.5 183.7 206.7 190 215.3 209.8 217.5 218.6 218.2 238.8 218 266.2 218.1 297.1Z" fill="#cfff30"/><path d="M218.4 297.6 222.1 302 224.6 303.6 227.1 304.2 229.6 303.9 232 302.5 236.4 297.5 236.7 271.5 236 260.4 237.3 240.4 237.1 230.1 235.7 222.5 233.5 216.4 228.9 207.8 222.6 198.4 220.8 194.3 220.2 191.2 220.2 187.9 220.8 184.3 222.5 179.4 225 175.2 228 171.8 235.9 166 246.7 160.8 272.8 150.7 278.6 147.7 289.1 141.2 293.8 137.8 298 133.5 300.2 130.4 302.3 125.5 303 120.4 302.2 115.3 299.8 110 297.1 106.5 293.1 102.7 288.1 99.4 282.7 96.8 276.4 94.6 262.7 91.9 251.6 90.7 237.9 90.1 219.1 91 202.5 93.6 185.1 98.7 176.9 102.2 171.3 105.3 166.2 108.8 162.5 111.9 149.3 126.5 146 129 142.5 130.9 137.6 132.4 131.4 133 101.7 133.1 106.1 136.9 107.7 139.4 108.4 141.8 108 144.3 106.6 146.8 101.7 151.2 136.3 150.8 145 149.4 148.6 148 152.2 146 156.9 142.1 171.1 127.9 176.7 123.4 182.7 119.6 192.5 115.1 206 111 217.6 109.1 229.1 108.2 242.9 108 256.5 109 268.9 110.7 273.8 111.9 279.7 114.5 284.1 118.4 286.3 123.2 286.1 127.9 283.6 133.1 280.1 136.6 276.1 138.6 273.8 139.2 259 139.7 252 140.9 244.1 143.2 234.1 147.1 222.7 152.8 214 158.6 209.2 163 206.9 166.1 205.3 169.3 203.8 175.8 204.4 182.4 206.5 188.8 215.7 210.2 217.8 219 218.5 237.9Z" fill="#dfff20"/><path d="M219.7 299.3 223.4 302.9 225.8 304 228.3 304.2 232 302.5 236.2 297.9 236.5 271.9 235.8 260.8 237.1 239.5 236.8 229.2 235.5 222.5 232.8 215.5 229.2 209 222.2 198.8 220.2 194.7 219.6 191.6 219.8 186.5 222.1 179.2 224.7 175.2 227.6 171.8 234.3 166.6 246.3 160.7 273.1 150.2 289.9 140.4 294.4 136.9 297.3 133.9 299.7 130.8 301.9 125.8 302.7 120.7 302 115.5 299.7 110.2 297 106.5 292.9 102.8 287.3 99.1 282 96.7 275.3 94.5 265.6 92.5 255.7 91.3 238.3 90.4 219.4 91.2 203.8 93.6 194.2 96 185.5 98.8 177.2 102.4 170.4 106.2 162.5 112.3 149.7 126.7 146.4 129.2 142.9 131.1 138 132.6 131.8 133.3 102 133.4 104.9 135.6 107 138.1 108.4 141.8 108 144.3 106.6 146.8 102 150.9 136.7 150.5 145.4 149 149 147.6 152.6 145.5 157 141.7 171.4 127.3 177.6 122.5 183.1 119.1 194.2 114.1 206.3 110.6 216.7 108.9 229.5 107.8 243.3 107.7 256.9 108.7 269.3 110.4 274.2 111.7 280.1 114.4 284.4 118.2 286.7 123.1 286.5 128.3 284 133.6 280.6 137 276.7 139 272.1 140.1 260.1 140.1 251.7 141.3 244 143.5 234.3 147.2 222.9 153 214.1 158.7 209.3 163.2 207.1 166.3 205.5 169.5 204.1 176.1 204.8 182.7 206.4 187.6 215.8 209.5 217.4 214.9 218.1 219.1 218.8 238.3 218.6 297.9Z" fill="#efff10"/><path d="M219.7 299.3 223.4 302.9 225.8 304 228.3 304.2 232 302.5 235.9 298.3 236.2 272.3 235.5 261.2 237 237.3 236.5 228.3 234.3 219.5 229.5 210.1 220.8 197.9 219.2 193.6 218.8 190.4 219.1 186.9 221.7 179.3 224.3 175.1 227.3 171.7 230.5 168.9 235.1 165.9 245.9 160.6 272.1 150.3 290.1 139.8 295.2 135.8 298 132.7 300.2 129.5 302.1 124.4 302.5 119.2 301.9 115.7 299.5 110.3 296.8 106.6 292.7 102.8 287.7 99.5 281.8 96.8 275.7 94.9 265.9 92.8 256.1 91.6 237.4 90.7 218.8 91.5 201.8 94.3 185 99.2 177.5 102.5 170.7 106.3 163.2 112.1 150.1 126.9 146.8 129.4 143.3 131.4 138.4 132.8 132.2 133.5 102.4 133.7 107 138.1 108.4 141.8 108 144.3 106.6 146.8 102.4 150.6 137.1 150.2 145.8 148.6 152.6 145.2 158.4 140.1 170.5 127.7 176.4 122.9 182 119.3 187.6 116.4 194.6 113.6 208 109.9 217.1 108.5 229.9 107.5 243.7 107.5 257.3 108.5 269.7 110.2 275.8 112 281.7 115 284.8 118.1 287.1 122.9 287.4 125.8 286.9 128.9 284.3 134 282.8 135.8 279.4 138.5 277.5 139.5 272.9 140.6 259.7 140.5 253.9 141.2 244.9 143.4 237.5 146.1 225.7 151.7 216.2 157.4 209.5 163.4 207.2 166.5 205.6 169.7 204.4 176.3 205.2 183 206.9 187.9 212.2 199.3 215.5 207.9 217.5 214.1 218.4 218.7 219.1 238.7 218.9 298.3Z" fill="#ffff00"/><path d="M219.7 299.3 223.4 302.9 227.1 304.2 230.8 303.3 233.3 301.4 235.6 298.7 235.9 272.7 235.3 261.6 236.9 235.6 235.7 224.9 233.2 217.5 229.8 211.2 221.1 199.6 218.9 195.5 218.2 192.4 218.5 187.3 221 179.6 223 176.2 225.9 172.6 230.2 168.8 234.8 165.8 245.6 160.5 271.1 150.4 290.7 139 294.4 136.2 297.4 133.1 299.7 129.8 301.8 124.7 302.3 119.4 301.7 115.8 299.4 110.4 296.6 106.7 292.4 102.8 288.1 100 282.2 97.2 276.1 95.2 266.3 93.2 256.5 91.9 237.8 90.9 220.2 91.7 202.9 94.3 186.1 99.1 177.8 102.6 171 106.4 163.5 112.2 150.5 127.1 147.2 129.7 142.4 132.1 137.5 133.3 131.3 133.9 102.8 134 107 138.1 108.4 141.8 107.4 145.6 105.5 148 102.8 150.3 136.3 150 144.9 148.6 148.6 147.3 152.2 145.2 157.7 140.5 170.8 127.1 176.9 122.2 182.3 118.8 193.6 113.6 207.1 109.8 218.8 107.9 231.5 107.1 244 107.1 257.7 108.2 270 110 274.9 111.3 280.9 114.1 285.2 118 286.9 120.9 287.6 123.2 287.8 126.4 287.2 129.4 284.8 134.4 280.2 139 276.3 140.7 273.9 141.2 259.4 141 253.6 141.6 245.8 143.4 238.2 146.1 225.8 151.8 216.3 157.6 209.6 163.6 207.4 166.7 205.8 169.9 204.6 176.6 205.6 183.3 213.8 202 217.4 212.5 218.7 218.8 219.4 237.8 219.2 298.7Z" fill="#ffef00"/><path d="M219.7 299.3 223.4 302.9 227.1 304.2 230.8 303.3 233.3 301.4 235.3 299.1 235.6 273.1 235 262 236.7 236.8 235.9 226.5 233.3 218.4 228.2 209.5 220.3 200 218 195.9 217.3 192.8 217.4 189.5 218.7 184 220.3 180 223.6 174.8 226.5 171.5 234.4 165.7 246.4 159.9 270 150.5 291.5 138.1 295.2 135.1 298.1 131.8 300.2 128.4 301.5 124.9 302.1 119.6 301.6 116 299.2 110.5 296.4 106.7 292.1 102.8 288.4 100.4 282.5 97.6 276.5 95.6 268 93.7 256.9 92.3 238.2 91.2 217.1 92.3 201.2 94.9 185.1 99.8 178.1 102.7 171.1 106.6 166.2 110.2 163.3 112.9 151.9 126.4 147.6 129.9 142.8 132.3 137.9 133.6 131.7 134.1 103.2 134.2 107 138.1 108.4 141.8 107.4 145.6 105.5 148 103.2 150 136.7 149.7 145.3 148.2 149 146.8 152.5 144.7 157.5 140.5 171.1 126.4 177.2 121.6 182.7 118.2 193.9 113.1 207.4 109.3 219.2 107.5 230.6 106.8 244.4 106.8 258.1 107.9 270.4 109.8 275.3 111.1 281.3 113.9 285.6 117.9 287.9 122.6 288.2 127.3 287.6 129.9 285.3 134.8 281.2 139.4 277.6 141.2 272.4 142 259 141.5 253.2 142 245.6 143.8 238 146.4 226.1 151.9 216.4 157.7 209.8 163.8 207.6 166.9 206.1 170.1 205 175.1 205.6 181.9 207.3 186.9 213.3 198.8 217.9 212.9 219.1 219.2 219.6 236.9Z" fill="#ffdf00"/><path d="M220.9 300.8 224.6 303.6 228.3 304.2 232 302.5 235 299.5 235.3 273.5 234.7 262.3 236.4 239.8 236.5 233.3 235.2 224.4 232 216.3 228 209.9 218.3 199.1 216.7 196.3 216.3 191.6 217.4 186.3 219.6 180.3 222.3 175.9 226.2 171.4 230.6 167.8 242.4 161.4 264.2 152.6 271.2 149.4 275.5 146.6 280.3 142.7 288.2 139.5 291.6 137.5 296.1 133.8 298.8 130.5 301.2 125.2 301.9 119.8 300.8 114.3 299.1 110.6 295.5 106 289.9 101.5 284.2 98.4 276.9 95.9 267.1 93.8 258.5 92.7 238.6 91.5 219 92.4 202.3 95 185.4 99.9 177.4 103.4 171.6 106.7 164.1 112.6 155.3 123.4 151.3 127.6 146.8 130.9 143.2 132.6 138.3 133.8 132.1 134.4 103.6 134.6 107 138.1 108.4 141.8 107.4 145.6 103.6 149.7 137.1 149.4 145.7 147.8 149.4 146.3 152.9 144.2 156.9 140.8 170.3 126.7 176.2 121.9 181.6 118.4 192.9 113.1 206.5 109.1 218.3 107.3 229.8 106.4 244.8 106.5 257.3 107.5 269.6 109.3 275.7 110.9 281.7 113.8 286 117.7 288.3 122.4 288.7 126.9 288.2 129.6 285.8 135.2 282.6 139.8 280.5 141.5 280.7 141.8 274.5 142.8 260.2 141.9 255.6 142.1 247.6 143.6 238.9 146.3 226.3 152 216.6 157.9 209.9 163.9 207.7 167.1 206.3 170.3 205.3 175.4 206 182.2 207.9 187.2 214.1 197.8 218.6 214.5 219.4 219.6 219.9 237.3 219.8 299.5Z" fill="#ffcf00"/><path d="M220.9 300.8 224.6 303.6 228.3 304.2 232 302.5 234.7 299.9 235 273.9 234.5 261.5 236 242.3 236.3 233.7 235.8 228.6 234.7 223.5 230.6 214.5 224.8 206.9 219.9 202.3 217.8 200.9 216.7 200.9 216.3 201.8 216.5 204.9 219.3 216.1 220 222.7 220.1 299.9ZM212.5 192.6 213.9 193.3 214.6 192.6 218 182.8 221.3 176.6 224.8 172.3 229.1 168.5 234.9 164.8 242 161.2 269 150 274 146.7 275.1 145.5 275.1 144.3 271.7 143.6 258.1 142.4 253.8 142.7 246.5 144.1 239.3 146.4 229.5 150.7 221.3 155.1 214.8 159.5 210.1 164.1 207.9 167.3 206.5 170.6 205.6 175.6 205.7 179 207.1 184.1 209.2 188.5ZM105.3 149.4 135 149.2 141.2 148.6 147.3 146.9 150.9 145.2 154.4 142.7 169.6 127.1 175.3 122.2 180.6 118.6 187.6 114.9 194.6 112.1 202.9 109.6 212.1 107.7 228.9 106.1 246.5 106.3 258.9 107.4 268.8 108.9 273.7 109.9 278.5 111.7 282 113.6 285.3 116.4 287.3 118.9 288.7 122.2 289.1 128 287.5 133.5 285.5 137.8 285.3 138.9 286.1 139.3 290.7 137.6 293.4 135.8 298.3 130.8 300.9 125.5 301.6 121.8 301.5 118.2 300.7 114.5 298.9 110.7 293.9 104.8 286.8 99.9 282.1 97.8 276.1 95.9 267.5 94.1 258.9 93 241.5 91.9 227.4 92.1 211.3 93.6 200.4 95.7 189.8 98.7 182.5 101.4 174.6 105.2 169.2 108.6 164.9 112.3 154.7 124.8 151.7 127.9 147.2 131.2 143.6 132.9 138.7 134.2 132.5 134.8 104 134.9 107 138.1 108.4 141.8 107.4 145.6 104 149.4Z" fill="#ffbf00"/><path d="M220.9 300.8 223.4 302.9 227.1 304.2 230.8 303.3 234.3 300.3 234.7 274.3 234.1 261.9 236.1 234.1 234.9 225.1 233.7 221.4 230.9 215.6 225.4 208.4 221.2 204.7 218.3 203.5 217.7 204.1 217.5 206.8 219.7 216.5 220.3 223.1 220.5 300.3ZM212 190.3 213.2 190.5 214 189.9 220.6 176.8 224.4 172.2 228.7 168.4 233.3 165.4 240.5 161.7 267.9 150.1 272 147.3 272.7 146 272.4 145.3 268.5 144.1 259.3 143 253.4 143.2 247.1 144.3 239.7 146.6 232.9 149.3 224.1 153.7 217 158.2 211.7 162.7 209.1 165.9 207.3 169.1 206 174.1 205.9 177.5 207 182.7 209.5 187.7ZM105.6 149.1 134.1 148.9 141.6 148.2 147.2 146.7 151.3 144.6 154.8 142 169.9 126.3 175.6 121.5 180.9 118 186.5 114.9 195 111.5 203.2 109.1 212.5 107.2 228 105.7 246.9 105.9 263 107.6 271.6 109.1 277.7 111 281.3 112.7 284.7 115.2 286.7 117.4 288.5 120.2 289.6 123.9 289.7 126.2 288.9 131.5 287.3 136.6 287.5 137.5 288.5 137.7 290.3 137.2 294.4 134.5 298.9 129.3 301.1 123.9 301.3 118.3 300.5 114.6 298.7 110.8 293.6 104.7 290.7 102.4 286 99.8 281.3 97.8 275.2 96 267.9 94.5 258 93.2 240.2 92.1 223.2 92.6 208.9 94.3 198.8 96.5 188.8 99.3 180.4 102.6 173.5 106.2 165.7 112.1 153.1 127.2 148.7 130.7 144 133.1 139.1 134.5 132.9 135.1 104.4 135.2 107 138.1 108.4 141.8 107.4 145.6 104.4 149.1Z" fill="#ffaf00"/><path d="M220.9 300.8 223.4 302.9 227.1 304.2 230.8 303.3 234 300.7 234.3 274.7 233.8 262.3 235.9 234.5 234.7 225.5 233.6 221.8 231.1 216.6 225.9 209.7 222.1 206.5 219.5 205.5 218.8 206 218.5 208.5 220.3 218.1 220.7 223.5ZM211.9 188.5 213 188.5 214.5 186.9 218.5 179.4 222.1 174.2 228.4 168.3 233 165.2 241.3 160.9 265.6 150.7 269.9 147.8 270.6 146.6 270.4 146 267.6 144.8 258.9 143.5 253 143.6 247.7 144.5 240.2 146.7 233.3 149.4 224.3 153.8 217.2 158.3 210.5 164.5 208.3 167.7 206.5 172.6 206.2 176 206.9 181.2 209.4 186.3ZM106 148.7 134.5 148.6 142 147.8 146.9 146.4 151 144.5 154.6 141.9 169.1 126.6 175.9 120.8 181.2 117.3 188.3 113.7 195.3 110.9 202.2 108.9 211.6 106.9 227.1 105.4 246 105.4 263.4 107.3 272 108.8 276.9 110.3 280.5 111.8 283.9 114 287.1 117.2 288.9 120 289.8 122.8 290.3 126 290.1 129.2 289 134.2 288.9 135.5 289.3 136.2 290.5 136.3 293.3 134.9 295.5 133.1 298.4 129.6 300.8 124.1 301.2 120.4 300.8 116.6 298.5 110.8 295.5 106.8 293.2 104.7 286.4 100.2 280.7 97.8 275.6 96.4 268.3 94.8 259.7 93.7 242.3 92.5 225.6 92.8 210.6 94.4 200.2 96.4 189.3 99.5 180.7 102.8 174.7 105.8 169.6 109.2 165.2 113.2 156.5 124.3 152.4 128.5 149.1 131 144.4 133.5 139.5 134.8 133.3 135.4 104.8 135.6 107 138.1 108.4 141.8 107.4 145.6 104.8 148.7Z" fill="#ff9f00"/><path d="M222.1 302 224.6 303.6 228.3 304.2 230.8 303.3 233.6 301.1 233.9 275.1 233.5 262.7 235.7 234.8 234.6 225.9 231.3 217.7 226.4 211 222.9 208.1 220.4 207.2 219.7 207.6 219.3 208.6 219.3 210.2 221 222.5 221.2 301.1ZM212 186.9 213 186.7 214.5 185 218.2 178.9 221.7 174.1 224.7 170.9 229.1 167.3 240.9 160.8 264.4 150.8 268 148.4 268.6 147.1 268.2 146.4 263.4 144.7 256.9 143.9 252.4 144.1 246.1 145.3 237.4 148 230.5 151 222 155.4 217.4 158.5 213.6 161.5 210.7 164.6 208.6 167.8 206.8 172.8 206.7 178 207.5 181.4 209.2 184.8 210.6 186.4ZM106.4 148.4 134.9 148.2 141.8 147.5 147.3 145.9 150.9 144.2 154.4 141.7 169.4 125.8 175 121.1 180.2 117.5 185.8 114.4 194.3 110.8 201.2 108.6 210.6 106.6 226.2 105 245.2 105 262.5 106.7 276.1 109.6 283.2 113 286.5 115.8 288.4 118.3 290.5 123.4 290.8 126.7 290.2 133.3 290.3 134.4 290.9 135 292.2 134.8 294.5 133.4 296.8 131.2 299 128 300.9 122.4 300.7 116.7 298.3 110.8 295.2 106.7 292.5 104.3 285.6 100.1 274.8 96.5 257.6 93.8 240.2 92.8 222.1 93.4 208.5 95.1 198.7 97.2 188.2 100.2 179.6 103.7 173.9 106.7 168.9 110.2 166 112.9 156.9 124.6 152.8 128.9 148.4 132.1 144.8 133.8 139.9 135.1 133.7 135.8 105.2 135.9 107.7 139.4 108.4 141.8 107.4 145.6 105.2 148.4Z" fill="#ff8f00"/><path d="M222.1 302 224.6 303.6 227.1 304.2 229.6 303.9 233.2 301.4 233.6 275.4 233.1 263.1 235.5 235.2 234.4 226.2 231.5 218.8 226.8 212.2 223.6 209.6 221.2 208.8 220.5 209.2 220.1 211.2 221.4 224.3 221.6 301.4ZM210.9 185.2 212.1 185.4 213.9 184.2 221.3 173.9 224.4 170.7 228.8 167.2 240.6 160.6 263.2 150.8 266.4 148.4 266.4 146.9 262.8 145.4 256.5 144.5 250.9 144.8 245.2 145.8 237.7 148.2 230.9 151 222.3 155.5 217.7 158.6 213.9 161.7 210.9 164.8 208.8 168 207.5 171.3 206.9 176.5 207.5 179.9 209 183.3ZM106.8 148 135.3 147.8 141.5 147.1 147.7 145.4 151.3 143.5 154.8 140.9 169.7 125 175.3 120.3 180.5 116.8 186.1 113.7 193.3 110.7 201.6 108 209.7 106.2 224.1 104.6 243 104.5 260.5 106 275.2 108.9 280.1 110.8 283.6 112.8 286.9 115.6 288.8 118.1 290.9 123 291.4 127.4 291.3 132.4 291.6 133.3 292.4 133.7 295.8 131.7 299.5 126.3 300.6 122.6 300.4 116.8 298.1 110.8 295 106.9 292.4 104.5 284.8 100 276.4 97.1 269.1 95.6 259.2 94.4 241.1 93.2 224.6 93.6 210.4 95.2 200.3 97.2 189.7 100.1 182.7 102.7 175 106.5 170.5 109.5 166.9 112.6 157.3 125.1 154.3 128.3 149.9 131.8 145.2 134.1 140.3 135.5 134.1 136.2 105.6 136.4 107.7 139.4 108.4 141.8 108 144.3 105.6 148Z" fill="#ff8000"/><path d="M222.1 302 224.6 303.6 227.1 304.2 229.6 303.9 232.8 301.8 233.1 275.8 232.8 262.2 235.2 235.6 234.3 226.6 231.7 220 227.2 213.5 224.2 210.9 221.9 210.3 221.2 210.7 220.8 212.7 221.7 222 222 237ZM211.2 183.9 212.3 183.9 214.1 182.6 221.9 172.6 229.5 166.2 239 161 261.9 150.9 264.4 148.9 264.7 147.5 262.1 146.1 256.1 145.1 250.5 145.2 246 146 234.7 149.7 228.2 152.6 220.2 157.2 212.6 163.4 210 166.6 208.3 169.9 207.3 174.9 207.6 178.4 208.9 181.8 209.8 183ZM107.2 147.5 134.5 147.4 141.9 146.6 146.8 145.3 151.3 143.1 154.7 140.5 170 124.2 175.6 119.5 180.8 116 186.5 113 195 109.5 203.4 107 212.7 105.2 227 103.9 245.9 104.1 262.1 105.8 275.6 108.6 282.8 111.8 286.2 114.3 288.3 116.5 290.1 119.2 291.4 122.6 292.4 131.4 292.8 132.2 293.8 132.3 295.3 131.4 297.8 128.8 299.1 126.5 300.3 122.7 300.2 116.9 297.8 110.8 294.4 106.6 291.9 104.4 288.3 102 284 99.9 274.4 97 258.4 94.7 241 93.7 221.6 94.3 208.6 95.9 199 97.9 188.6 100.8 180.2 104.2 174.3 107.4 169.6 110.8 166.5 113.8 155.7 127.8 151.4 131.5 145.6 134.6 140.7 135.9 134.5 136.6 106 136.8 107.7 139.4 108.4 141.8 108 144.3 106 147.5Z" fill="#ff7000"/><path d="M223.4 302.9 225.8 304 228.3 304.2 232.3 302.2 232.7 276.2 232.4 262.6 234.7 241.2 235 234.7 234.3 228 231.8 220.8 227.6 214.7 224.7 212.3 222.5 211.7 221.9 212.2 221.5 214.2 222.1 222.4 222.5 241.3 222.5 302.2ZM210.3 182.2 211.5 182.6 213.5 181.8 222.6 171.3 229.2 166 241 159.6 259.3 151.6 262.4 149.5 262.8 148.8 262.7 147.8 260 146.4 255.6 145.6 251.5 145.6 246.2 146.4 235 149.9 228.7 152.7 220.5 157.3 216.2 160.4 212.8 163.5 210.3 166.7 208.6 170 207.8 173.4 207.8 176.8 208.8 180.3ZM107.6 147.1 136.1 146.9 142.3 146.1 147.2 144.7 153.5 141.1 169.3 124.3 174.7 119.6 179.8 116.1 186.8 112.2 194 109.2 202.4 106.7 211.8 104.8 226.1 103.4 245.1 103.5 262.5 105.4 276 108.3 283.2 111.5 286.6 114 288.7 116.2 291.2 120.4 292.3 124 293 129.2 294 130.9 295.7 130.3 298.7 126.6 300 122.8 300 116.9 297.5 110.8 294.6 107.2 291.3 104.3 284.4 100.4 276 97.7 260 95.2 241.3 94.1 224.4 94.5 210.7 96 200.7 98 190 100.9 183.2 103.3 175.4 107.2 171.1 110.2 167.5 113.5 158.1 126.2 155.1 129.4 150.7 132.7 147.2 134.5 141.1 136.3 134.9 137.1 106.4 137.2 107.7 139.4 108.4 141.8 108 144.3 106.4 147.1Z" fill="#ff6000"/><path d="M223.4 302.9 227.1 304.2 229.6 303.9 231.8 302.6 232.2 276.6 231.9 263 234.3 242.9 234.8 235.1 234.1 228.6 232.1 222.3 227.9 215.9 224.1 213.1 223.1 213.1 222.5 213.7 222.2 215.3 222.9 240.4 223 302.6ZM210.7 181 211.9 181.3 213.8 180.3 221.2 172.1 228.8 165.8 239.4 160 257.9 151.6 260.8 149.5 260.7 148.1 258 146.8 253.8 146.2 248.4 146.5 243.7 147.4 232.5 151.3 220.9 157.4 214.7 162.1 211.8 165.3 209.7 168.5 208.5 171.9 208.2 175.3 208.8 178.7ZM108 146.6 135.3 146.4 141.4 145.7 147.3 144.2 151.2 142.1 154.7 139.4 167.6 125.1 173.9 119.6 180.2 115.2 185.7 112.1 194.4 108.4 201.4 106.3 210.8 104.3 227.8 102.7 245.5 103 261.6 104.7 275.2 107.5 280 109.3 283.6 111.2 288 114.7 291.7 120.1 293.9 128.2 294.4 129.1 295.2 129.4 296.8 128.5 299.1 124.8 299.9 120.9 299.7 116.9 297.2 110.7 292.8 105.8 286 101.4 276.4 98.2 260.4 95.8 243 94.7 227.7 94.9 209.3 96.8 199.8 98.7 189.2 101.6 180.7 104.9 175.2 107.9 171.4 110.6 167.3 114.7 159.5 125.8 156.6 129.1 152.2 132.6 146.3 135.5 141.4 136.9 135.3 137.6 106.8 137.8 107.7 139.4 108.4 141.8 108 144.3 106.8 146.6Z" fill="#ff5000"/><path d="M224.6 303.6 228.3 304.2 231.2 303 231.6 277 231.3 263.4 234 242 234.5 235.5 233.9 229 231.9 222.7 228.3 217.1 224.6 214.4 223.7 214.5 223.1 215.3 222.8 217.6 223.3 244.6 223.6 303ZM211.1 179.9 212.3 179.9 214.2 178.7 221.8 170.8 229.6 164.9 237.9 160.3 256.5 151.6 258.5 150.1 259 149.3 258.7 148.5 256.1 147.3 253.4 146.9 249.3 146.9 244.2 147.7 233.1 151.4 221.2 157.5 216.9 160.6 213.4 163.8 210 168.7 208.9 172 208.7 175.4 209.7 178.6ZM108.4 146 135.7 145.8 141.8 145.1 146.8 143.8 150 142.3 153.4 139.8 166.9 124.8 173 119.5 180.5 114.3 187.5 110.5 194.7 107.5 201.7 105.4 211.2 103.4 225.6 102 244.6 102.3 262 104.2 275.6 107.1 282.8 110.2 288.4 114.4 292.1 119.6 294.7 127.1 295.4 127.8 296.4 127.6 297.5 126.6 298.6 124.8 299.6 120.9 299.4 116.9 298.1 113 296.8 110.6 292.1 105.5 288.7 103.2 284.1 101 275.5 98.5 258.3 96.1 240 95.2 225.6 95.6 212 97 202 98.9 191 101.6 183.8 104.1 176.2 107.9 172.8 110.2 168.5 114.3 161.8 124.4 158 129.2 153.8 132.6 149.1 135.2 143.1 137.2 135.7 138.1 107.2 138.3 108.4 141.8 108 144.3 107.2 146Z" fill="#ff4000"/><path d="M224.6 303.6 227.1 304.2 230.5 303.4 231 277.4 230.8 262.6 233.9 241.1 234.2 235.8 233.5 228.4 231.6 223.1 228.6 218.3 227.2 217 225 215.8 224.2 216 223.6 217.1 223.4 219.9 224.3 303.4ZM210.2 177.7 211.6 178.6 213.6 178 221.4 170.5 228.1 165.4 237.5 160.1 253.5 152.5 256 150.9 256.7 150 256.8 149.2 254.3 147.8 251.6 147.5 246.4 147.8 241.3 148.9 230.3 153 221.8 157.5 215.4 162.3 211.3 167.1 209.4 172.2 209.4 175.6ZM108.8 145.3 133.6 145.2 143.5 144.1 147.2 142.9 151.3 140.6 153.9 138.2 157.2 133.8 156.8 132.5 147.1 136.9 138.5 138.6 129.8 139 107.5 139 108.4 141.8 107.5 145.3ZM164.2 124.9 166.2 123.9 180.9 113.2 187.9 109.4 193.7 107 200.8 104.6 208.9 102.8 226 101.1 236.2 101.1 251.3 102 267.4 104.5 277.2 107.1 283.2 109.8 287.7 113 291.8 117.9 295 125 296.3 126.1 297.9 124.8 298.8 122.8 299.3 118.9 298.5 114.8 297.6 112.6 294.5 108.2 289 103.8 282 100.6 272.3 98.4 259.9 96.9 248.2 96.1 230.2 96.2 215.5 97.4 204.9 99.2 190.8 102.5 181.7 105.8 174.5 109.8 169.9 113.9 165.5 120.5 163.9 124.1Z" fill="#ff3000"/><path d="M225.8 304 229.7 303.8 230.1 262.9 233.3 242.7 233.9 235.7 233.4 229.7 231.4 223.5 228.9 219.6 226.5 217.5 225.5 217.2 224.7 217.6 224.1 219.1 223.9 231.5 224.8 258 224.6 272.8 225.2 303.8ZM212 177.2 215.1 175.8 223.2 168.4 228.5 164.6 233.6 161.6 251.9 152.6 254.2 150.8 254.5 149.9 253.2 148.8 249.8 148.3 246 148.4 241 149.4 230 153.5 221.7 157.9 217.1 161.2 214.2 164 210.8 168.9 209.9 174 210.7 176.5ZM109.2 144.4 131.5 144.4 140.1 143.9 147.9 141.5 150.9 139.4 152.2 137.6 149.9 137.4 142.6 139 135.2 139.8 107.9 139.9 108.4 141.8 107.9 144.4ZM168.2 119.5 170.3 119.1 181.2 111.9 188.3 108 200.7 102.8 199.8 102.1 197.5 102.2 191.4 103.4 185.8 105.1 179.7 107.6 176 109.8 171.6 113.6 169.4 116.5ZM201.2 102 202.6 102 202.8 102 201.2 101.7ZM295.1 122.7 296.5 124.2 297.8 123.4 298.7 120.7 298.9 118.7 298.1 114.6 295.9 110.4 292.7 106.9 289.4 104.5 281.1 100.8 275.1 99.4 266.5 98.2 246.7 97.1 231.4 97.4 218.2 98.9 222.5 99.6 234.1 99.6 249.1 100.8 264 103.1 275.1 105.7 281.1 108.1 284.7 110.1 288.1 112.6 291.2 115.9ZM214.7 99.4 216 99.7 216.9 99.8Z" fill="#ff2000"/><path d="M227.1 304.2 227.8 304.2 228 294.3 229.1 278.2 229.1 262.1 232.8 243.1 233.5 235.3 233.1 230.1 231.5 224.9 229.1 220.9 226.8 218.9 225.9 218.7 225.1 219.3 224.7 220.8 224.4 230.4 225.8 259.6 225.6 274.5 226.7 289.3ZM211.4 175.8 212.7 176.1 214.7 175.2 222.9 168.1 230.1 163.2 250.5 152.6 252.5 150.8 252.2 149.8 249.5 148.9 247 148.9 238.2 150.6 229.7 153.9 221.5 158.4 216.2 162.4 212.1 167.3 210.4 172.3 210.5 174ZM109.5 143.4 136.7 143.2 141.2 142.6 146.1 140.6 144.2 140.3 131.8 141 108.2 141.1 108.2 143.4ZM172.7 115.1 175 114.6 186.2 107 182.4 107.7 178.2 109.7 174.8 112 172.6 114.6ZM294.8 120.7 296.3 122.5 297.5 122.2 298.5 118.6 297.7 114.4 296 111.2 294 108.6 291.9 106.6 287.3 103.7 280.2 101 272.9 99.6 259.4 98.5 251.2 98.8 256.3 100.6 265.6 102.5 275.4 105.2 281.5 107.7 285.9 110.3 289.3 113.1 292.1 116.2Z" fill="#ff1000"/><path d="M227.2 256.4 228.4 256.9 231.1 248.7 232.7 240.9 233.2 234.6 232.5 229.2 230.6 224.1 228.2 221 226.2 220.3 225.5 221.4 225.1 223.6 224.9 233.6 226 249.2ZM212.2 175.1 213.4 175.1 215.4 173.9 227.2 164.6 235.4 159.9 247.7 153.7 250.5 151.7 251 150.7 249.2 149.6 246.7 149.5 238 151.1 229.5 154.4 221.2 158.9 216.5 162.5 212.4 167.4 210.9 172.4 211.2 174ZM293.6 117.6 296 120.9 296.9 121.2 297.7 120.2 298 118.4 297.3 114.2 294.3 109.3 292.1 107.2 288.3 104.6 282.9 102.3 276.9 100.8 269.5 100 262.6 100.2 266 101.8 276.9 105.1 282.9 107.9 289.7 112.8Z" fill="#ff0000"/><path d="M228.3 251.2 230.2 248.6 231.2 245.2 232.5 238.7 232.7 234.8 232.4 230.9 231.3 227 229.6 223.7 227.5 221.9 226.5 222.2 225.9 224.1 225.5 232.3 226.7 246.9 227.3 249.7ZM213 174.2 215.1 173.5 224.7 165.9 229.3 162.9 246.5 153.7 249.1 151.7 249 150.6 246.4 150.1 243.9 150.2 237.7 151.5 229.9 154.5 221.1 159.3 215.3 164.1 212.8 167.4 211.5 170.8 211.4 172.4 212.1 173.9ZM294.7 118.2 296.4 119.7 296.9 119.6 297.5 118.1 296.8 114 294 109.4 291.2 106.9 286.7 104.2 283.1 102.9 278.3 101.8 271.9 101.3 272.3 102.5 279.5 105.5 286.6 109.7 291 113.5Z" fill="#ef0000"/><path d="M228.2 246.5 229.6 246.4 231 243 232.2 234.8 231.7 230.1 230.8 227.3 229.2 224.8 227.7 223.7 226.7 224.7 226.3 227 226.2 234.9 226.9 241.8ZM212.6 172.9 213.8 173.2 215.9 172.3 226.8 164.2 245.3 153.8 247.4 151.7 244.9 150.8 238.8 151.6 230.6 154.5 224.2 157.7 219.3 160.9 214.2 165.8 212.4 169.1 212 170.8ZM293.2 115.2 296 117.9 296.8 117.6 296.8 115.8 296.3 113.7 293.6 109.6 290.3 106.7 283.3 103.6 279.7 103 277.7 103.3 288 110Z" fill="#df0000"/><path d="M229.3 242.9 231 239.5 231.5 232.9 230.8 229.4 229.8 227.3 228.8 226.2 227.8 226.2 227 230.1 227.1 236.8 228.3 242.1ZM214.5 172.2 227.7 163.1 243.9 153.9 245.1 152.8 244.7 151.7 241 151.7 235.6 153 228 156.1 222.2 159.3 216 164.2 213.6 167.5 212.7 170.7 213.4 172.2ZM292.5 113.4 294.5 115.2 295.5 115.6 295.9 115.2 295.4 113.2 294.2 111 291.9 108.5 287.1 105.6 284.3 104.7 283.6 104.9 283.3 105.7 288.2 109.4Z" fill="#cf0000"/><path d="M229.3 238.6 230.2 237.2 230.6 233.2 229.8 230 228.8 229.1 228.2 230.5 228 234 228.4 237.2ZM214.2 170.9 215.3 170.9 217.4 169.9 226.3 163.5 240.6 155.2 242.2 154 242.7 152.9 239.5 152.6 233.4 154.2 222.8 159.3 218.3 162.6 215.2 165.8 213.6 169.1 213.8 170.6ZM291.7 111.3 293.6 112.2 292.3 110.1 289.6 108.4 289 108.7Z" fill="#bf0000"/><path d="M214.9 169.5 216.1 169.6 218.3 168.5 228.4 161.7 236.9 156.7 239.8 154.1 238.1 153.8 234.5 154.4 230.1 156 223.6 159.3 217.2 164.2 214.9 167.4 214.6 169Z" fill="#af0000"/><path d="M216.9 168 220.1 166.6 232.9 158.3 236 155.6 232.3 155.9 228 157.5 222 160.8 219.8 162.5 216.7 165.8 216 167.3Z" fill="#9f0000"/><path d="M218.8 165.8 220.8 165.1 230.4 158.6 228 158.6 223.4 160.7 219.3 164 218.4 165.5Z" fill="#8f0000"/></g><path d="M90.1 157.3 100.5 157.3M90.1 157.3 100.8 152.1 104.5 149.6 107.1 147M90.1 157.3 104.1 152.9 114.9 148.6M100.5 157.3 111 157.3M100.5 157.3 109.3 152.9 114.9 148.6M100.5 157.3 118.5 151.5M111 157.3 121.5 157.3M111 157.3 122.1 153.2 130.5 149.1M111 157.3 115.5 154.4 118.5 151.5M121.5 157.3 131.8 157.3M121.5 157.3 130.8 153.9 138.2 150.4M121.5 157.3 127.3 153.2 129.3 151.2 130.5 149.1M131.8 157.3 140.5 157.6M131.8 157.3 135.7 153.8 138.2 150.4M131.8 157.3 137.3 154.9 142 152.2 145.9 149.5 149.1 146.5M140.5 157.6 148 156.4M140.5 157.6 145.5 152.1 149.1 146.5M140.5 157.6 146.9 153.2 152.2 148M148 156.4 155.3 152.4M148 156.4 152.2 148M148 156.4 153.5 149.5 158.5 142.3M155.3 152.4 161.6 146.7M155.3 152.4 164.4 136.5M155.3 152.4 158.5 142.3M161.6 146.7 167.2 140.8M161.6 146.7 164.4 136.5M161.6 146.7 168.5 133.4M167.2 140.8 173.1 135M167.2 140.8 175 125.3M167.2 140.8 168.5 133.4M173.1 135 179.6 130.1M173.1 135 178.6 126.3 182.4 119.3M173.1 135 174.8 129.4 175 125.3M179.6 130.1 186.8 125.9M179.6 130.1 182 124.2 182.4 119.3M179.6 130.1 184.8 123 188.4 117.1M186.8 125.9 194.4 122.4M186.8 125.9 196.2 116.4 202.6 109M186.8 125.9 190.8 120.6 193.4 115.9 194.8 111.9 195 108.4M186.8 125.9 188.3 121.4 188.4 117.1M194.4 122.4 201.9 119.8M194.4 122.4 209.8 109.1M194.4 122.4 197.6 118.7 200.1 115.2 201.8 112 202.6 109M201.9 119.8 210 118M201.9 119.8 207.2 114.2 209.8 109.1M201.9 119.8 206.1 117.1 215.5 109.6M210 118 218.1 116.2M210 118 220.1 110.2 223.2 106.8 225.1 103.6M210 118 213.6 113.6 215.5 109.6M210 118 226.3 109.1M218.1 116.2 226.4 115.6M218.1 116.2 226.5 112.2 233.2 108.4M218.1 116.2 223 112.7 226.3 109.1M226.4 115.6 234.3 115.1M226.4 115.6 230.6 111.9 233.2 108.4M226.4 115.6 235.1 111.4 241.6 107.4M234.3 115.1 242.6 115M234.3 115.1 239.1 111.1 241.6 107.4M234.3 115.1 251.4 109.5M234.3 115.1 245 110 248.7 107.6 251.5 105.2M242.6 115 248.5 115.1M242.6 115 247.6 112.3 251.4 109.5M242.6 115 257 111.4M242.6 115 257.5 109.1M248.5 115.1 250.7 115.5 253.5 115.4M248.5 115.1 261.5 112M248.5 115.1 257 111.4M253.5 115.4 257.3 115.6M253.5 115.4 263.1 113.1M253.5 115.4 261.5 112M257.3 115.6 260.9 116.2M257.3 115.6 263.1 113.1M257.3 115.6 268.2 113.3M260.9 116.2 265.1 116.4M260.9 116.2 274.3 114.5M260.9 116.2 268.2 113.3M265.1 116.4 265.9 116.9 268 117 268.8 117.5M265.1 116.4 274.3 114.5M268.8 117.5 272.8 119.3M268.8 117.5 279.4 117.2 286.3 116M268.8 117.5 278.2 118.9 285.8 121.2M268.8 117.5 272 116.2 274.3 114.5M272.8 119.3 274 120.1 276 122.9M272.8 119.3 280.2 120.7 285.8 121.2M272.8 119.3 276.4 120.6 279.9 122.6 284.9 127M276 122.9 274.6 122.5 273.9 122.9 273 125.1M276 122.9 279.3 130.3 281.5 134.2M276 122.9 278.6 124.9 281 126 284.9 127M276 122.9 274.3 131.4M273 125.1 272.5 124.7 270.2 126.3M273 125.1 273.3 128.5 274.3 131.4M273 125.1 269.7 132.5M270.2 126.3 266.9 127.9M270.2 126.3 264.9 133.8M270.2 126.3 269.6 129.1 269.7 132.5M266.9 127.9 263.3 129.7M266.9 127.9 259.9 135.6M266.9 127.9 265.7 130.6 264.9 133.8M263.3 129.7 259.6 131.3M263.3 129.7 259.9 135.6M263.3 129.7 254.8 137.5M259.6 131.3 255.9 132.7M259.6 131.3 249.6 139.5M259.6 131.3 256.8 134.5 254.8 137.5M255.9 132.7 252.1 134.1M255.9 132.7 244.7 141M255.9 132.7 249.6 139.5M252.1 134.1 248.5 135.5M252.1 134.1 244.7 141M252.1 134.1 245.7 138.7M248.5 135.5 243.6 137.4M248.5 135.5 239.3 143.3M248.5 135.5 245.7 138.7M243.6 137.4 236.7 140.2M243.6 137.4 233.7 146.3M243.6 137.4 239.3 143.3M236.7 140.2 229.4 143.6M236.7 140.2 228.4 147.6 222.3 154.2M236.7 140.2 233.7 146.3M236.7 140.2 229.6 148 225.7 154.2M229.4 143.6 222 147M229.4 143.6 224.1 148.9 220 153.7 217.2 158.1 215.4 162.1M229.4 143.6 224.9 149.4 222.3 154.2M229.4 143.6 219.4 152.3 212.6 160.3M222 147 214.7 150.4M222 147 215.1 153.3 210.1 159.2M222 147 216.3 154 212.6 160.3M214.7 150.4 207.7 153.9M214.7 150.4 208.4 157.4 204.4 164M214.7 150.4 212.1 154.7 210.1 159.2M207.7 153.9 200.8 157.8M207.7 153.9 205.6 158.8 204.4 164M200.8 157.8 194.2 162.3M200.8 157.8 199.4 165.2 199.6 172.7M200.8 157.8 202.9 160.6 204.4 164M200.8 157.8 197 163.9 194.6 169.6M194.2 162.3 187.3 168.5M194.2 162.3 194.6 169.6M187.3 168.5 181.4 176.2M187.3 168.5 191.5 177.3M187.3 168.5 191.2 168.7 194.6 169.6M181.4 176.2 179.9 185.6M181.4 176.2 186.6 176.3 191.5 177.3M181.4 176.2 189.1 183.2M179.9 185.6 185.9 193.3M179.9 185.6 185.9 187.7 192.3 190.7M179.9 185.6 184.6 184 189.1 183.2M185.9 193.3 194.3 198.9M185.9 193.3 192.3 190.7M194.3 198.9 203.3 204.9M194.3 198.9 202.5 197M194.3 198.9 193.9 195 192.3 190.7M194.3 198.9 197.5 199.2 201 200.2 207.8 203.5M203.3 204.9 208.8 213.1M203.3 204.9 207.9 207.2 217.4 213.6M203.3 204.9 206.6 204.7 207.8 203.5M208.8 213.1 211.4 222.6M208.8 213.1 222.1 235M208.8 213.1 217.4 224.1 223.5 230.4M208.8 213.1 212 215 214.8 215.5 216.5 214.9 217.4 213.6M208.8 213.1 214.8 219.6 219.5 223.3 223 225.1 225.6 225.4M211.4 222.6 211.2 224.5 211.8 231M211.4 222.6 213.9 227 216.7 230.6 219.5 233.2 222.1 235M211.4 222.6 214 229.3 221.3 243.4M211.8 231 211.6 239M211.8 231 214 235.3 216.4 238.8 218.9 241.5 221.3 243.4M211.8 231 215 240.6 218.1 248.2M211.6 239 211.6 247.5M211.6 239 217.4 254.8M211.6 239 214.7 244.2 218.1 248.2M211.6 247.5 211.6 256.1M211.6 247.5 214.4 251.8 217.4 254.8M211.6 247.5 217.1 261.5M211.6 256.1 211.6 264.7M211.6 256.1 214.6 262.2 217.6 266.8M211.6 256.1 215.6 266.6 219.7 274.3M211.6 256.1 214.3 259.4 217.1 261.5M211.6 264.7 211.6 273.3M211.6 264.7 216.1 276.4 220.6 284.9M211.6 264.7 215.6 270.8 219.7 274.3M211.6 273.3 211.6 281.9M211.6 273.3 216.1 280.7 218.4 283.2 220.6 284.9M211.6 273.3 215.4 283.8 219.3 291.8M211.6 281.9 215.5 290.7 219.3 297.1M211.6 281.9 215.4 288.1 219.3 291.8M219.3 297.1 223.2 300.9 225.2 302 227.1 302.4M219.3 297.1 219.3 291.8M227.1 302.4 229 302.2 231 301.3 234.8 297.8M227.1 302.4 231.8 294.3M227.1 302.4 223.2 298.4 219.3 291.8M227.1 302.4 225.6 294.3M234.8 297.8 238.7 291.9 242.6 283.5M234.8 297.8 231.8 294.3M234.8 297.8 237.6 288.4M242.6 283.5 242.6 274.8M242.6 283.5 240.1 286.4 237.6 288.4M242.6 274.8 242.6 266M242.6 274.8 239.5 280 236.5 283.7M242.6 274.8 237.6 288.4M242.6 266 243 258.6 242.6 255.9M242.6 266 239.1 272.9 235.5 277.9M242.6 266 239.6 275.6 236.5 283.7M242.6 255.9 242.6 251.5 242.2 249.7 242.5 248.1M242.6 255.9 241.2 262.8 235.5 277.9M242.6 255.9 240.5 262.1 238.1 266.9 235.8 270.6 233.4 273.4M242.6 255.9 239.3 260.6 236 262.9M242.5 248.1 242.7 239.3M242.5 248.1 237.7 254.1M242.5 248.1 236 262.9M242.7 239.3 242.3 230.2M242.7 239.3 237.7 254.1M242.7 239.3 239.8 245.3 236.8 250.1M242.3 230.2 240.9 221.4M242.3 230.2 239.1 239.3 235.6 246.1M242.3 230.2 239.5 234.1 237.1 236.5M242.3 230.2 239.7 241 236.8 250.1M240.9 221.4 238.5 213.5M240.9 221.4 239.3 229.6 237.1 236.5M238.5 213.5 235.8 205.9M238.5 213.5 237.6 224.3 235.4 232.3M238.5 213.5 238.6 226.2 237.1 236.5M238.5 213.5 237.3 219.2 235.6 223.5M235.8 205.9 233.2 198.1M235.8 205.9 234.5 214.3 233.4 217.3 232.1 219.3M235.8 205.9 236.2 215.6 235.6 223.5M233.2 198.1 231.9 189.7M233.2 198.1 232.1 219.3M233.2 198.1 231.7 203.1 229.7 206.4M231.9 189.7 232.5 183 232.4 181.4M231.9 189.7 228.7 196.2 225.3 200.2M231.9 189.7 231 194.2 229.7 206.4M232.4 181.4 235.7 175.5 236 174M232.4 181.4 227.8 191.5 225.3 200.2M232.4 181.4 228.3 186.4 224.6 189.9 221.2 192.1 218.3 193.4M232.4 181.4 229.9 183 226.8 184.1 223.4 184.5 220.1 184.3M236 174 242.5 169.3M236 174 231.5 175.8 227.5 176.6 223.9 176.7 220.8 176.2M236 174 226.7 180.3 220.1 184.3M242.5 169.3 250.1 165.6M242.5 169.3 220.8 176.2M242.5 169.3 233.5 170.2 227 169.7M250.1 165.6 258 162.9M250.1 165.6 227 169.7M250.1 165.6 238.2 166.3 229.9 165.6M250.1 165.6 242.9 164.9 238 163M258 162.9 265.8 160.4M258 162.9 251 162 246.1 160.7M258 162.9 246.8 163.3 238 163M265.8 160.4 273.9 158.3M265.8 160.4 246.1 160.7M265.8 160.4 254.5 159.2 247.4 157M265.8 160.4 262.7 158.6 261.4 156.5M273.9 158.3 282.1 156.5M273.9 158.3 261.4 156.5M282.1 156.5 290.6 154.7M282.1 156.5 278.8 154.1 278.3 153 278.3 152M282.1 156.5 263.9 152.8M282.1 156.5 261.4 156.5M290.6 154.7 299.2 153.1M290.6 154.7 278.3 152M290.6 154.7 289.3 152.9 289.2 151.2M299.2 153.1 307.2 150.6M299.2 153.1 297.2 150.7 296.2 148.5M299.2 153.1 289.2 151.2M307.2 150.6 314.5 146.5M307.2 150.6 301.9 149.3 296.2 148.5M307.2 150.6 305.9 147 305.5 143.7M314.5 146.5 319.8 140.2M314.5 146.5 310 144.8 305.5 143.7M319.8 140.2 321.9 132.3M319.8 140.2 310.9 135.8M319.8 140.2 305.5 143.7M321.9 132.3 320.7 124.2M321.9 132.3 310.9 135.8M321.9 132.3 314.8 127.1M320.7 124.2 317.2 116.7M320.7 124.2 314.8 127.1M317.2 116.7 312.3 110.3M317.2 116.7 311.2 121.4M317.2 116.7 316.4 122.1 314.8 127.1M312.3 110.3 306.5 104.6M312.3 110.3 312.2 116 311.2 121.4M312.3 110.3 308.9 115.6M306.5 104.6 299.9 99.7M306.5 104.6 304 109.6M306.5 104.6 308.2 110.3 308.9 115.6M306.5 104.6 306.6 110 306 115.4M299.9 99.7 293 95.6M299.9 99.7 302.4 104.7 304 109.6M299.9 99.7 301 107.2M293 95.6 285.6 92.2M293 95.6 296.6 102.3 298.7 108.5M293 95.6 297.7 101.4 301 107.2M285.6 92.2 278 89.5M285.6 92.2 290.1 96.3 293.7 100.4 296.6 104.5 298.7 108.5M285.6 92.2 290 98.1 292.7 103M278 89.5 270.2 87.3M278 89.5 283 94.8 286 99.1M278 89.5 282.6 92.9 286.6 96.3 292.7 103M270.2 87.3 268.1 87.2 261.9 85.7M270.2 87.3 279.2 93.3 286 99.1M270.2 87.3 274.9 91.9 277.6 95.6M261.9 85.7 255.9 85.3 254 84.8M261.9 85.7 265 89 266.5 91.8M261.9 85.7 270.8 90.8 277.6 95.6M254 84.8 249.6 84.4 247.6 84.7 245.9 84.2M254 84.8 266.5 91.8M245.9 84.2 237.3 83.9M245.9 84.2 256.8 87.8 266.5 91.8M245.9 84.2 247.7 87 248.2 89.5M245.9 84.2 257.6 90.6 261.7 93.6 264.5 96.6M237.3 83.9 229.2 84M237.3 83.9 243.4 86.7 248.2 89.5M229.2 84 220.6 84.5M229.2 84 248.2 89.5M229.2 84 236 87.5 240.8 90.9M220.6 84.5 212.3 85.1M220.6 84.5 231.9 87.4 240.8 90.9M220.6 84.5 228.3 88.8M212.3 85.1 210.3 85.7 203.9 86.5M212.3 85.1 222.7 90M212.3 85.1 228.3 88.8M203.9 86.5 195.8 88.4M203.9 86.5 210.6 88.7 215.5 91.1M203.9 86.5 214 88 222.7 90M195.8 88.4 187.8 90.7M195.8 88.4 203.9 90.7 209.4 93.5M195.8 88.4 206.5 89.4 215.5 91.1M187.8 90.7 180.1 93.6M187.8 90.7 199.8 91.6 209.4 93.5M187.8 90.7 193.6 92.6 197.4 94.7M180.1 93.6 172.8 97.1M180.1 93.6 187.3 96.1M180.1 93.6 189.5 93.8 197.4 94.7M172.8 97.1 165.5 101.3M172.8 97.1 178.1 97.7 182.3 98.6M172.8 97.1 180.3 96.3 187.3 96.1M165.5 101.3 158.8 106.1M165.5 101.3 174.4 99.6 182.3 98.6M165.5 101.3 175.5 101.5M158.8 106.1 152.6 111.4M158.8 106.1 162.3 107.1 164.9 108.4M158.8 106.1 169.2 104.3 173.6 104.1 177.3 104.4M158.8 106.1 167.5 103.3 175.5 101.5M152.6 111.4 146.6 117.2M152.6 111.4 159.1 109.5 164.9 108.4M146.6 117.2 140.5 122.3M146.6 117.2 156.4 112 164.9 108.4M146.6 117.2 157.4 113.6 165.5 112.6M146.6 117.2 154 116.7 157.2 117.4 159.8 118.9M140.5 122.3 131.6 126M140.5 122.3 151.9 119.7 159.8 118.9M140.5 122.3 146.5 122.7 149.1 123.5 151.3 124.7M131.6 126 128.4 126.4 120.3 126.4M131.6 126 139.6 127.5 145.4 129.1 149.5 131 152.2 133.2M131.6 126 137.2 126.2 151.3 124.7M131.6 126 136.3 129.1 138.7 132.4M120.3 126.4 109.7 126.4M120.3 126.4 138.7 132.4M120.3 126.4 126.3 129.9 130.2 133.5M109.7 126.4 99.1 126.4M109.7 126.4 115.9 129.9 120.1 133.5M109.7 126.4 121 129.9 130.2 133.5M99.1 126.4 88.5 126.4M99.1 126.4 106.5 130.2 111.6 134M99.1 126.4 110.6 129.9 120.1 133.5M88.5 126.4 99.7 131.5 103.7 134.1 106.5 136.7M88.5 126.4 101.2 130.2 111.6 134M106.5 136.7 108.3 139.3 109 141.8 108.6 144.4 107.1 147M106.5 136.7 111.6 134M106.5 136.7 115.2 141.2M107.1 147 114.9 148.6M107.1 147 111.8 144.1 115.2 141.2M304 109.6 303.7 115 302.6 120M304 109.6 301 107.2M304 109.6 306 115.4M164.4 136.5 171.4 123.6M164.4 136.5 165.6 131.3 165.4 127.4M164.4 136.5 168.5 133.4M164.4 136.5 158.5 142.3M304.8 125.6 305.1 129 305.9 131.9M304.8 125.6 300.8 131.9 295.4 137.3M304.8 125.6 311.2 121.4M304.8 125.6 303.6 123.3 302.6 120M304.8 125.6 307.2 120.7 308.9 115.6M304.8 125.6 298.5 131.4M304.8 125.6 305.8 120.7 306 115.4M209.8 109.1 215.5 109.6M209.8 109.1 202.6 109M209.8 109.1 214.4 104.8 217.6 101.1M209.8 109.1 210.6 106.4 210.7 104 210 101.8 208.7 99.9M230.2 248.4 233 248 235.6 246.1M230.2 248.4 228.2 248.4 226 247.5 223.7 245.9 221.3 243.4M230.2 248.4 230.3 254.9M230.2 248.4 232.2 246.4 234 243.7 237.1 236.5M230.2 248.4 227.4 250.8 224.6 252.2M230.2 248.4 230.3 241.6M231 152.4 228.4 156.6 227.4 160.3M231 152.4 232.4 154.6 235.5 156.2M231 152.4 231.8 149.6 233.7 146.3M231 152.4 234.5 148.1 239.3 143.3M231 152.4 225.7 154.2M231 152.4 236.6 148.8M227.4 160.3 235.5 156.2M227.4 160.3 220.3 163.8M227.4 160.3 227.9 163.3 229.9 165.6M227.4 160.3 226.2 159.1 225.5 157.7 225.3 156.1 225.7 154.2M227.4 160.3 231.5 162.1 238 163M229.5 288.7 227.3 288.9 225.1 288.4 222.8 287 220.6 284.9M229.5 288.7 232.5 284 235.5 277.9M229.5 288.7 231.8 294.3M229.5 288.7 233 287.2 236.5 283.7M229.5 288.7 225.6 294.3M229.5 288.7 227.6 281.9M276.8 145.8 282 144.7 287.1 143.2M276.8 145.8 283.9 142.2M276.8 145.8 284.5 146.1M276.8 145.8 271.1 149.2M276.8 145.8 275.1 144.6 274.1 142.8M276.8 145.8 271.3 145.9 266.2 145.4M260.5 103.9 267.2 106.4M260.5 103.9 258.5 100.7 255.1 97.4M260.5 103.9 256.7 106.7 251.4 109.5M260.5 103.9 263.8 100.3 264.5 98.5 264.5 96.6M260.5 103.9 259.5 106.5 257.5 109.1M260.5 103.9 251.5 105.2M217.4 254.8 220.5 257.3 223.8 258.2M217.4 254.8 220.1 260.4 222.9 264.7M217.4 254.8 218.1 248.2M217.4 254.8 217.1 261.5M152.2 133.2 147.8 137.5 142.9 141M152.2 133.2 153.1 136.2 152.8 139.5 151.5 143 149.1 146.5M152.2 133.2 156.5 134.7 157.8 135.7 158.5 137M152.2 133.2 152.2 128.7 151.3 124.7M152.2 133.2 138.7 132.4M152.2 133.2 159.5 127.4M305.9 131.9 295.4 137.3M305.9 131.9 310.9 135.8M305.9 131.9 308.9 126.9 311.2 121.4M305.9 131.9 301.7 136.8 297.2 140.9M305.9 131.9 314.8 127.1M202.5 197 192.3 190.7M202.5 197 199.9 189.1M202.5 197 212.5 203.4M202.5 197 207.8 203.5M267.2 106.4 272.9 104.2 277 102M267.2 106.4 265.1 109.2 261.5 112M267.2 106.4 267.9 104 267.7 101.6 266.6 99.1 264.5 96.6M267.2 106.4 262.8 108.9 257 111.4M267.2 106.4 257.5 109.1M267.2 106.4 272.3 109.5M295.4 137.3 291.3 140.6 287.1 143.2M295.4 137.3 292.7 137.7 290.6 137.4M295.4 137.3 289.9 140.2 283.9 142.2M295.4 137.3 295.6 139.3 297.2 140.9M295.4 137.3 298.5 131.4M164.9 108.4 165.5 112.6M164.9 108.4 169.2 108.3 172.6 108.9 175.2 110.1 177 112M164.9 108.4 177.3 104.4M310.9 135.8 297.2 140.9M310.9 135.8 305.5 143.7M310.9 135.8 314.8 127.1M199.6 172.7 204.4 164M199.6 172.7 197.4 179M199.6 172.7 204.2 179.3M199.6 172.7 200.7 179.1 202.8 185.1M199.6 172.7 194.6 169.6M230.7 269.9 226.7 275.1M230.7 269.9 230.6 262.9M230.7 269.9 233.4 273.4M230.7 269.9 233.4 267.1 236 262.9M230.7 269.9 228.7 270.1 226.6 269.7M165.5 112.6 171.9 111.6 177 112M165.5 112.6 162.4 115.6 159.8 118.9M165.5 112.6 167.9 114.6 169.3 117.4M226.7 275.1 224.3 273.1 221.8 270M226.7 275.1 225 275.7 223.2 275.7 219.7 274.3M226.7 275.1 230.1 275.1 233.4 273.4M226.7 275.1 227.6 281.9M226.7 275.1 226.6 269.7M142.9 141 142.9 143.3 142.1 145.6 140.5 148 138.2 150.4M142.9 141 137.8 145.2 130.5 149.1M142.9 141 147.2 143.7 148.4 145 149.1 146.5M142.9 141 131.5 140.6M142.9 141 143 138.8 142.3 136.6 140.9 134.4 138.7 132.4M142.9 141 138 137.3 130.2 133.5M206.9 172.4 209 172.3 211.6 171.6M206.9 172.4 205.3 168.4 204.4 164M206.9 172.4 208.8 176.5 210.3 178.2 212.2 179.5M206.9 172.4 204.2 179.3M206.9 172.4 207.5 166 210.1 159.2M206.9 172.4 207.8 179.1 210.4 185M206.9 172.4 208.9 166.5 212.6 160.3M246.1 160.7 247.4 157M246.1 160.7 239.2 159 237 157.7 235.5 156.2M246.1 160.7 238 163M225.1 103.6 215.5 109.6M225.1 103.6 224.9 101.6 224.2 99.7 221.1 96.3M225.1 103.6 217.6 101.1M225.1 103.6 227.8 99.4 228.3 97.5 228.1 95.7M225.1 103.6 233.9 101.8M225.1 103.6 226.2 106.3 226.3 109.1M220.8 176.2 217.5 175.8 214.9 174.9 213 173.4 211.6 171.6M220.8 176.2 218.2 173.4 216.8 170M220.8 176.2 227 169.7M220.8 176.2 215.9 178.3 212.2 179.5M220.8 176.2 220.1 184.3M233.2 108.4 241.6 107.4M233.2 108.4 234.3 105.1 233.9 101.8M233.2 108.4 226.3 109.1M233.2 108.4 237.6 105.1 240.5 102.1M191.5 177.3 197.4 179M191.5 177.3 199.9 189.1M191.5 177.3 189.1 183.2M191.5 177.3 194.6 169.6M235.6 246.1 233 251.1 230.3 254.9M235.6 246.1 237.1 236.5M235.6 246.1 236.8 250.1M171.4 123.6 177 112M171.4 123.6 168.4 125.1 165.4 127.4M171.4 123.6 171 120 169.3 117.4M171.4 123.6 173.4 124 175 125.3M171.4 123.6 170.4 128.1 168.5 133.4M111.6 134 120.1 133.5M111.6 134 117.8 137.2 122.4 140.5M111.6 134 114.4 137.6 115.1 139.4 115.2 141.2M237 95 247.2 99.4M237 95 228.1 95.7M237 95 236.4 98.3 233.9 101.8M237 95 239.4 93 240.8 90.9M237 95 230.6 92.3 222.7 90M237 95 239.7 98.4 240.4 100.2 240.5 102.1M237 95 233.6 91.8 228.3 88.8M209.5 191.2 208.4 195.1M209.5 191.2 216.7 201.6M209.5 191.2 206.4 185.5 204.2 179.3M209.5 191.2 213.6 193.2 215.8 193.6 218.3 193.4M209.5 191.2 210.4 185M209.5 191.2 206 188.5 202.8 185.1M293.4 145.6 284.7 148.8M293.4 145.6 296.2 148.5M293.4 145.6 284.5 146.1M293.4 145.6 297.2 140.9M293.4 145.6 305.5 143.7M247.5 144.8 244.8 148.4 243.4 151.6M247.5 144.8 248.1 146.6 249.4 148.2M247.5 144.8 241.1 147.5M247.5 144.8 248.1 142.3 249.6 139.5M247.5 144.8 254.8 137.5M247.5 144.8 253.6 142.9M138.2 150.4 130.5 149.1M138.2 150.4 144 148.7 149.1 146.5M266.5 91.8 273.4 97 275.6 99.6 277 102M266.5 91.8 277.6 95.6M266.5 91.8 266.3 94.3 264.5 96.6M298.7 108.5 301.4 114.6 302.6 120M298.7 108.5 292.7 103M298.7 108.5 298.5 111.3 297.5 113.2M298.7 108.5 299.9 115.1 299.7 118.2 299 121.1M298.7 108.5 301 107.2M243.4 151.6 243.6 153.2 244.3 154.7 247.4 157M243.4 151.6 235.5 156.2M243.4 151.6 249.4 148.2M243.4 151.6 241.7 149.7 241.1 147.5M243.4 151.6 251.5 152.8M247.4 157 235.5 156.2M247.4 157 261.4 156.5M247.4 157 249 154.9 251.5 152.8M215.5 109.6 217.6 105 217.9 103 217.6 101.1M241.6 107.4 245.6 103.3 246.7 101.3 247.2 99.4M241.6 107.4 251.5 105.2M241.6 107.4 241.6 104.7 240.5 102.1M235.5 156.2 237.4 152.2 241.1 147.5M235.5 156.2 235 154.7 235 152.9 236.6 148.8M235.5 156.2 235.2 158.2 235.5 160 236.4 161.6 238 163M130.5 149.1 125.5 145.9M130.5 149.1 131.9 147 132.5 144.8 132.4 142.7 131.5 140.6M130.5 149.1 118.5 151.5M278.3 152 263.9 152.8M278.3 152 284.7 148.8M278.3 152 273.8 150.6 271.1 149.2M278.3 152 289.2 151.2M267.1 139.6 263.5 140.3 260.2 141.4M267.1 139.6 265.5 136.8 264.9 133.8M267.1 139.6 274 137.7M267.1 139.6 270.3 141.6 274.1 142.8M267.1 139.6 266.3 143 266.2 145.4M267.1 139.6 269.7 132.5M187.5 102.1 187.8 105 186.8 108.7M187.5 102.1 185.6 100.1 182.3 98.6M187.5 102.1 197.2 99.7M187.5 102.1 190.3 103.1 192.4 104.5 194 106.3 195 108.4M187.5 102.1 177.3 104.4M187.5 102.1 182.1 101.3 175.5 101.5M220.6 284.9 219.3 291.8M220.6 284.9 219.7 274.3M220.6 284.9 225.6 294.3M220.6 284.9 224.1 284.4 227.6 281.9M277 102 279.3 105 280.7 107.8M277 102 278.1 100.6 278.5 99.1 278.4 97.4 277.6 95.6M277 102 285.6 104.6M277 102 264.5 96.6M277 102 277 104 276.2 105.9 274.7 107.7 272.3 109.5M222.1 235 221.3 243.4M222.1 235 224.6 235.7 226.9 235.6 228.9 234.7 230.6 233.2M222.1 235 223.5 230.4M222.1 235 226.5 239.6 228.4 240.9 230.3 241.6M125.5 145.9 129.1 143.2 131.5 140.6M125.5 145.9 114.9 148.6M125.5 145.9 122.7 148.7 118.5 151.5M125.5 145.9 124.5 143.2 122.4 140.5M247.2 99.4 255.1 97.4M247.2 99.4 246.7 97.2 245.5 95 243.6 93 240.8 90.9M247.2 99.4 249.9 102.3 251.5 105.2M247.2 99.4 240.5 102.1M208.4 195.1 212.5 198.7 216.7 201.6M208.4 195.1 199.9 189.1M208.4 195.1 212.5 203.4M208.4 195.1 202.8 185.1M211.6 171.6 216.8 170M211.6 171.6 212.9 166.9 215.4 162.1M211.6 171.6 211.5 175.6 212.2 179.5M211.6 171.6 211 169.1 211 166.4 212.6 160.3M221.3 243.4 218.1 248.2M221.3 243.4 224.6 252.2M221.3 243.4 223.7 244 226 243.9 228.2 243.1 230.3 241.6M255.1 97.4 254.4 95.5 253 93.5 248.2 89.5M255.1 97.4 248.8 94.1 240.8 90.9M255.1 97.4 264.5 96.6M255.1 97.4 255.2 99.4 254.6 101.3 253.4 103.2 251.5 105.2M216.8 170 221.1 170.3 227 169.7M216.8 170 220.3 163.8M216.8 170 215.7 168.4 215.1 166.5 215.4 162.1M263.9 152.8 262 154.6 261.4 156.5M263.9 152.8 266.8 150.9 271.1 149.2M263.9 152.8 259.4 151 258 149.7 257.1 148.2M263.9 152.8 251.5 152.8M286 99.1 277.6 95.6M286 99.1 290.6 104.8 292 107.6 292.8 110.2M286 99.1 286.8 102.2 286.5 103.5 285.6 104.6M286 99.1 292.7 103M204.4 164 203.5 168 203.3 171.9 204.2 179.3M204.4 164 210.1 159.2M263.1 113.1 261.5 112M263.1 113.1 272.3 109.5M263.1 113.1 268.2 113.3M224.4 213.6 225.3 200.2M224.4 213.6 223.2 214.9 221.8 215.4 219.9 214.9 217.4 213.6M224.4 213.6 220.9 207.5 216.7 201.6M224.4 213.6 228.7 217.4 232.1 219.3M224.4 213.6 225.8 219.9 225.6 225.4M224.4 213.6 218.9 209.4 212.5 203.4M224.4 213.6 225.8 212.9 227.2 211.6 229.7 206.4M221.1 96.3 219.8 98.6 217.6 101.1M221.1 96.3 228.1 95.7M221.1 96.3 215.7 94.7 209.4 93.5M221.1 96.3 219.1 93.6 215.5 91.1M230.6 233.2 229 233.3 227.3 232.9 223.5 230.4M230.6 233.2 233.1 233.5 235.4 232.3M230.6 233.2 232 226.9 232.1 219.3M230.6 233.2 232.1 231.8 233.5 229.7 235.6 223.5M230.6 233.2 225.6 225.4M230.6 233.2 230.3 241.6M149.1 146.5 154.3 142 158.5 137M149.1 146.5 152.2 148M288.2 135.7 292.3 133.5 295.6 130.7M288.2 135.7 285 135.5 281.5 134.2M288.2 135.7 289.3 136.9 290.6 137.4M288.2 135.7 289.4 131.8M288.2 135.7 281.7 139.6M227 169.7 224.3 168.8 222.3 167.5 221 165.8 220.3 163.8M227 169.7 229.9 165.6M295.6 130.7 298 128.5 300 125.9 302.6 120M295.6 130.7 290.6 137.4M295.6 130.7 292.8 131.7 289.4 131.8M295.6 130.7 293.1 126.4M295.6 130.7 297.8 126 299 121.1M295.6 130.7 296.9 131.5 298.5 131.4M280.7 107.8 283.8 106.3 285.6 104.6M280.7 107.8 284.7 111M280.7 107.8 279.2 109.6 276.8 111.3M280.7 107.8 272.3 109.5M311.2 121.4 308.9 115.6M311.2 121.4 314.8 127.1M220.3 163.8 217.4 163.3 215.4 162.1M220.3 163.8 219.8 161.9 219.9 159.6 220.8 157.1 222.3 154.2M220.3 163.8 224.1 165.2 229.9 165.6M220.3 163.8 222.1 159.3 225.7 154.2M225.3 200.2 223.1 201.6 221 202.2 218.8 202.2 216.7 201.6M225.3 200.2 222.1 196.8 218.3 193.4M225.3 200.2 227.7 203.2 229.7 206.4M158.5 137 156 142.4 152.2 148M158.5 137 165.4 127.4M158.5 137 159.8 131.9 159.5 127.4M158.5 137 159 139.3 158.5 142.3M186.8 108.7 177 112M186.8 108.7 195 108.4M186.8 108.7 185.3 113.4 182.4 119.3M186.8 108.7 185.3 107 183.2 105.7 180.5 104.8 177.3 104.4M186.8 108.7 187.9 110.3 188.6 112.3 188.4 117.1M177 112 173 114.4 169.3 117.4M177 112 179.2 113.1 180.8 114.6 181.9 116.7 182.4 119.3M177 112 177.5 114.5 177.4 117.5 175 125.3M177 112 177.8 107.6 177.3 104.4M223.5 230.4 224.8 228.1 225.6 225.4M235.5 277.9 236.5 283.7M235.5 277.9 233.4 273.4M235.5 277.9 233.6 279.8 231.6 281.2 229.6 281.9 227.6 281.9M235.4 232.3 237.1 236.5M235.4 232.3 235.6 223.5M235.4 232.3 233.2 237.8 230.3 241.6M217.4 213.6 225.6 225.4M217.4 213.6 215.6 208.7 212.5 203.4M217.4 213.6 212.8 208.3 207.8 203.5M120.1 133.5 126.8 137 131.5 140.6M120.1 133.5 130.2 133.5M120.1 133.5 122.3 137 122.6 138.7 122.4 140.5M159.8 118.9 162.5 120.3 164.3 122.2 165.2 124.6 165.4 127.4M159.8 118.9 165.1 117.8 169.3 117.4M159.8 118.9 151.3 124.7M159.8 118.9 159.9 122.9 159.5 127.4M284.7 148.8 296.2 148.5M284.7 148.8 284.1 147.5 284.5 146.1M284.7 148.8 271.1 149.2M284.7 148.8 289.2 151.2M192.3 190.7 199.9 189.1M192.3 190.7 189.1 183.2M215.4 162.1 222.3 154.2M215.4 162.1 213.8 161.4 212.6 160.3M217.6 266.8 219.7 268.8 221.8 270M217.6 266.8 219.7 274.3M217.6 266.8 217.1 261.5M248.2 89.5 240.8 90.9M248.2 89.5 257.1 93 264.5 96.6M223.8 258.2 227.3 261.6 230.6 262.9M223.8 258.2 227.1 257.3 230.3 254.9M223.8 258.2 222.9 264.7M223.8 258.2 221 253.9 218.1 248.2M223.8 258.2 224.6 252.2M202.6 109 202.6 106 201.7 103.5 199.9 101.3 197.2 99.7M202.6 109 206.6 104 208.7 99.9M202.6 109 195 108.4M230.6 262.9 230.3 254.9M230.6 262.9 228.7 264.3 226.7 265.1 224.8 265.2 222.9 264.7M230.6 262.9 234.1 259.6 237.7 254.1M230.6 262.9 233.7 257.2 236.8 250.1M230.6 262.9 233.2 263.6 236 262.9M230.6 262.9 226.6 269.7M287.1 143.2 283.9 142.2M287.1 143.2 284.5 146.1M287.1 143.2 297.2 140.9M277.6 95.6 282.7 100.3 285.6 104.6M212.2 179.5 215.7 182.5 220.1 184.3M212.2 179.5 210.4 185M261.5 112 257 111.4M261.5 112 272.3 109.5M294.5 119 286.3 116M294.5 119 294.1 114.5 292.8 110.2M294.5 119 291.1 120.7 285.8 121.2M294.5 119 294.1 122.6 293.1 126.4M294.5 119 296.7 116.5 297.5 113.2M294.5 119 297.1 120.5 299 121.1M222.3 154.2 225.7 154.2M244.7 141 242.4 144.5 241.1 147.5M244.7 141 249.6 139.5M244.7 141 239.3 143.3M244.7 141 236.6 148.8M244.7 141 245.7 138.7M230.3 254.9 233.6 253.4 236.8 250.1M230.3 254.9 227.5 254.2 224.6 252.2M216.7 201.6 218.3 193.4M216.7 201.6 214.9 203.4 212.5 203.4M182.3 98.6 190.5 98.6 197.2 99.7M182.3 98.6 187.3 96.1M182.3 98.6 175.5 101.5M131.5 140.6 131.9 138.8 131.9 137 130.2 133.5M131.5 140.6 122.4 140.5M152.2 148 158.5 142.3M231.8 294.3 236.5 283.7M231.8 294.3 234.7 292.1 237.6 288.4M231.8 294.3 228.7 295.1 225.6 294.3M217.6 101.1 208.7 99.9M217.6 101.1 216.7 98.8 215 96.8 212.6 95 209.4 93.5M286.3 116 289 115 290.9 113.7 292.2 112.1 292.8 110.2M286.3 116 284.7 111M286.3 116 285.8 121.2M286.3 116 280.6 115 274.3 114.5M302.6 120 300.8 121.3 299 121.1M302.6 120 302.6 113.8 301 107.2M302.6 120 301.2 126 298.5 131.4M302.6 120 306 115.4M197.4 179 199.9 189.1M197.4 179 202.8 185.1M197.4 179 195.7 174.3 194.6 169.6M233.7 146.3 239.3 143.3M233.7 146.3 225.7 154.2M281.5 134.2 285.7 133.3 289.4 131.8M281.5 134.2 274 137.7M281.5 134.2 284.9 127M281.5 134.2 281.7 139.6M281.5 134.2 277.8 133.3 274.3 131.4M228.1 95.7 231.8 98.6 233.9 101.8M228.1 95.7 222.5 93.2 215.5 91.1M228.1 95.7 226.3 92.7 222.7 90M292.8 110.2 285.6 104.6M292.8 110.2 293.6 108.9 293.8 107.2 292.7 103M292.8 110.2 284.7 111M292.8 110.2 297.5 113.2M219.3 291.8 222.4 293.9 225.6 294.3M197.2 99.7 208.7 99.9M197.2 99.7 197.4 101.5 197.1 103.5 195 108.4M197.2 99.7 193.2 97.4 187.3 96.1M197.2 99.7 198 97 197.4 94.7M233.9 101.8 231 105.3 226.3 109.1M233.9 101.8 240.5 102.1M240.8 90.9 228.3 88.8M221.8 270 222.9 264.7M221.8 270 219.7 274.3M221.8 270 217.1 261.5M221.8 270 224.2 270.3 226.6 269.7M249.4 148.2 257.1 148.2M249.4 148.2 249.8 150.8 251.5 152.8M249.4 148.2 253.6 142.9M290.6 137.4 283.9 142.2M290.6 137.4 286.4 138.9 281.7 139.6M290.6 137.4 294.9 134.7 298.5 131.4M208.7 99.9 209.9 96.5 209.4 93.5M208.7 99.9 206.8 98.2 204.3 96.7 197.4 94.7M195 108.4 188.4 117.1M260.2 141.4 259.6 138.6 259.9 135.6M260.2 141.4 264.9 133.8M260.2 141.4 262.7 143.7 266.2 145.4M260.2 141.4 258 145.2 257.1 148.2M260.2 141.4 253.6 142.9M285.6 104.6 286 108 284.7 111M251.4 109.5 257.5 109.1M251.4 109.5 251.8 107.4 251.5 105.2M232.1 219.3 235.6 223.5M232.1 219.3 230.9 222.5 229.5 224.5 227.7 225.5 225.6 225.4M232.1 219.3 229.7 206.4M237.1 236.5 233.9 240.4 232.2 241.3 230.3 241.6M292.7 103 295.8 108.2 297.5 113.2M204.2 179.3 206.9 182.6 210.4 185M204.2 179.3 202.8 185.1M289.4 131.8 293.1 126.4M289.4 131.8 284.9 127M259.9 135.6 264.9 133.8M259.9 135.6 254.8 137.5M259.9 135.6 253.6 142.9M209.4 93.5 215.5 91.1M209.4 93.5 197.4 94.7M261.4 156.5 255.2 154.9 251.5 152.8M165.4 127.4 169.3 117.4M165.4 127.4 162.9 127.1 159.5 127.4M165.4 127.4 162.8 134.6 158.5 142.3M222.9 264.7 220 263.8 217.1 261.5M222.9 264.7 226.6 269.7M219.7 274.3 223.6 279.4 225.6 281 227.6 281.9M199.9 189.1 194.5 185.7 189.1 183.2M199.9 189.1 212.5 203.4M199.9 189.1 201.7 187.4 202.8 185.1M284.7 111 280.5 112.9 274.3 114.5M284.7 111 276.8 111.3M283.9 142.2 282.6 141.3 281.7 139.6M283.9 142.2 279 142.9 274.1 142.8M296.2 148.5 289.2 151.2M296.2 148.5 305.5 143.7M182.4 119.3 175 125.3M182.4 119.3 188.4 117.1M215.5 91.1 222.7 90M218.3 193.4 220.1 184.3M218.3 193.4 214.1 189.6 210.4 185M236.5 283.7 237.6 288.4M237.7 254.1 236.8 250.1M237.7 254.1 236 262.9M284.5 146.1 271.1 149.2M284.5 146.1 291 143.8 297.2 140.9M187.3 96.1 197.4 94.7M271.1 149.2 268 147.8 266.2 145.4M271.1 149.2 263.6 149.1 257.1 148.2M212.5 203.4 210.9 204 207.8 203.5M264.9 133.8 267.3 132.8 269.7 132.5M274 137.7 277.9 139.1 281.7 139.6M274 137.7 274.1 142.8M274 137.7 274.3 131.4M274 137.7 271.5 135.4 269.7 132.5M210.1 159.2 212.6 160.3M297.2 140.9 305.5 143.7M308.9 115.6 306 115.4M241.1 147.5 249.6 139.5M241.1 147.5 236.6 148.8M249.6 139.5 254.8 137.5M114.9 148.6 118.5 151.5M114.9 148.6 120 144.5 121.5 142.5 122.4 140.5M114.9 148.6 115.8 146.7 116.1 144.9 115.9 143.1 115.2 141.2M257 111.4 257.5 109.1M151.3 124.7 156.3 125.7 159.5 127.4M285.8 121.2 293.1 126.4M285.8 121.2 284.9 127M218.1 248.2 221.3 250.9 224.6 252.2M293.1 126.4 289.5 127.3 284.9 127M293.1 126.4 296.7 124.2 299 121.1M220.1 184.3 214.6 185.6 210.4 185M297.5 113.2 298.6 117.2 299 121.1M281.7 139.6 274.1 142.8M274.3 114.5 276.8 111.3M274.3 114.5 268.2 113.3M276.8 111.3 272.3 109.5M276.8 111.3 268.2 113.3M138.7 132.4 130.2 133.5M229.9 165.6 238 163M175 125.3 168.5 133.4M233.4 273.4 236 262.9M233.4 273.4 230.5 278.3 227.6 281.9M274.1 142.8 266.2 145.4M239.3 143.3 237.5 146.2 236.6 148.8M239.3 143.3 245.7 138.7M272.3 109.5 270.7 111.4 268.2 113.3M254.8 137.5 253.8 140.3 253.6 142.9M177.3 104.4 176.7 102.8 175.5 101.5M266.2 145.4 261.3 146.7 257.1 148.2M274.3 131.4 271.8 131.7 269.7 132.5M222.7 90 228.3 88.8M257.1 148.2 253.8 150.4 251.5 152.8M257.1 148.2 254.7 145.9 253.6 142.9M122.4 140.5 115.2 141.2" fill="none" stroke="#9999ff" stroke-width="1.05" stroke-linejoin="round"/>
<clipPath id="c2"><path d="M625.3 157.3 626.4 157.3 627.6 157.3 628.7 157.3 629.8 157.3 631 157.3 632.1 157.3 633.2 157.3 634.3 157.3 635.4 157.3 636.4 157.3 637.5 157.3 638.6 157.3 639.6 157.3 640.7 157.3 641.7 157.3 642.8 157.3 643.8 157.3 644.8 157.3 645.9 157.3 646.9 157.3 647.9 157.3 648.9 157.3 650 157.3 651 157.3 652 157.3 653.1 157.3 654.1 157.3 655.2 157.3 656.2 157.3 657.3 157.3 658.4 157.3 659.5 157.3 660.6 157.3 661.7 157.3 662.8 157.3 663.9 157.3 665 157.3 666.2 157.3 667.3 157.3 668.5 157.3 669.6 157.3 670.8 157.3 671.9 157.4 673.1 157.4 674.2 157.5 675.3 157.6 676.4 157.6 677.6 157.6 678.7 157.6 679.7 157.5 680.8 157.4 681.9 157.3 682.9 157.1 683.9 156.8 684.9 156.5 685.9 156.2 686.8 155.8 687.7 155.4 688.6 155 689.5 154.5 690.4 154 691.3 153.4 692.1 152.8 692.9 152.2 693.7 151.6 694.5 150.9 695.3 150.2 696.1 149.5 696.9 148.8 697.7 148.1 698.4 147.3 699.2 146.5 700 145.8 700.7 145 701.5 144.2 702.2 143.4 703 142.6 703.7 141.8 704.5 141 705.2 140.2 706 139.4 706.8 138.6 707.6 137.9 708.3 137.1 709.1 136.3 710 135.6 710.8 134.9 711.6 134.2 712.4 133.5 713.3 132.8 714.2 132.2 715 131.5 715.9 130.9 716.8 130.3 717.7 129.7 718.6 129.1 719.5 128.6 720.4 128 721.4 127.5 722.3 126.9 723.2 126.4 724.2 125.9 725.2 125.4 726.1 125 727.1 124.5 728.1 124.1 729 123.6 730 123.2 731 122.8 732 122.4 733 122 734 121.6 735 121.3 736 120.9 737.1 120.6 738.1 120.3 739.1 119.9 740.1 119.6 741.2 119.4 742.2 119.1 743.2 118.8 744.3 118.5 745.3 118.3 746.3 118 747.4 117.8 748.4 117.6 749.5 117.4 750.5 117.2 751.6 117 752.6 116.8 753.7 116.7 754.7 116.5 755.8 116.3 756.9 116.2 757.9 116.1 759 115.9 760.1 115.8 761.1 115.7 762.2 115.6 763.3 115.5 764.3 115.4 765.4 115.3 766.5 115.3 767.6 115.2 768.6 115.2 769.7 115.1 770.8 115.1 771.9 115 773 115 774 115 775.1 115 776.2 115 777.3 115 778.4 115 779.5 115 780.5 115 781.6 115 782.7 115 783.8 115.1 784.9 115.1 786 115.2 787.1 115.2 788.1 115.3 789.2 115.3 790.3 115.4 791.4 115.4 792.5 115.5 793.6 115.6 794.7 115.7 795.8 115.7 796.8 115.8 797.9 115.9 799 116 800.1 116.2 801.2 116.3 802.2 116.5 803.3 116.7 804.3 116.9 805.3 117.2 806.4 117.5 807.4 117.9 808.3 118.3 809.3 118.8 810.2 119.3 811.1 119.9 811.8 120.7 811.9 121.7 811.5 122.8 810.9 123.7 810.1 124.5 809.3 125.2 808.4 125.8 807.4 126.3 806.4 126.9 805.5 127.4 804.5 127.9 803.6 128.4 802.6 128.8 801.6 129.3 800.7 129.7 799.7 130.2 798.7 130.6 797.7 131 796.7 131.4 795.7 131.8 794.7 132.2 793.7 132.6 792.7 132.9 791.7 133.3 790.6 133.7 789.6 134.1 788.6 134.4 787.6 134.8 786.6 135.2 785.6 135.6 784.6 136 783.6 136.4 782.6 136.8 781.6 137.2 780.5 137.6 779.5 138 778.5 138.4 777.5 138.9 776.5 139.3 775.5 139.7 774.5 140.1 773.6 140.6 772.6 141 771.6 141.4 770.6 141.9 769.6 142.3 768.6 142.8 767.6 143.2 766.6 143.7 765.6 144.1 764.7 144.6 763.7 145 762.7 145.5 761.7 145.9 760.8 146.4 759.8 146.8 758.8 147.3 757.8 147.7 756.9 148.2 755.9 148.6 754.9 149.1 754 149.5 753 150 752 150.5 751.1 150.9 750.1 151.4 749.2 151.8 748.2 152.3 747.3 152.8 746.3 153.3 745.4 153.7 744.5 154.2 743.5 154.7 742.6 155.2 741.7 155.8 740.7 156.3 739.8 156.8 738.9 157.4 738 157.9 737.1 158.5 736.2 159.1 735.3 159.7 734.4 160.3 733.5 161 732.6 161.6 731.7 162.3 730.9 163 730 163.7 729.1 164.4 728.3 165.1 727.4 165.9 726.6 166.7 725.7 167.5 724.9 168.3 724.1 169.1 723.3 170 722.6 170.9 721.9 171.7 721.2 172.6 720.5 173.5 719.9 174.4 719.4 175.3 718.9 176.3 718.4 177.2 718 178.1 717.7 179 717.4 180 717.2 180.9 717.1 181.8 717 182.7 717.1 183.6 717.2 184.5 717.4 185.4 717.7 186.3 718.1 187.2 718.6 188.1 719.1 188.9 719.8 189.8 720.5 190.6 721.2 191.4 722.1 192.2 723 193 723.9 193.7 724.8 194.4 725.8 195.1 726.8 195.8 727.8 196.5 728.8 197.1 729.8 197.7 730.8 198.3 731.8 198.9 732.8 199.4 733.8 200 734.8 200.5 735.7 201.1 736.7 201.7 737.6 202.3 738.4 202.9 739.3 203.5 740.1 204.1 740.8 204.8 741.6 205.5 742.2 206.3 742.9 207 743.5 207.9 744.1 208.7 744.6 209.6 745.1 210.5 745.5 211.4 745.9 212.3 746.3 213.3 746.7 214.3 747 215.3 747.3 216.3 747.6 217.4 747.9 218.4 748.1 219.5 748.3 220.5 748.5 221.6 748.6 222.7 748.8 223.8 748.9 224.9 749 226 749.1 227.2 749.2 228.3 749.2 229.4 749.3 230.5 749.3 231.6 749.3 232.7 749.2 233.8 749.2 234.9 749.2 236 749.1 237.1 749.1 238.1 749.1 239.2 749.1 240.3 749.1 241.4 749.1 242.4 749.1 243.5 749.1 244.6 749.1 245.6 749.1 246.7 749.1 247.8 749.1 248.8 749.1 249.9 749.1 251 749.1 252 749.1 253.1 749.1 254.1 749.1 255.2 749.1 256.3 749.1 257.3 749.1 258.4 749.1 259.4 749.1 260.5 749.1 261.6 749.1 262.6 749.1 263.7 749.1 264.8 749.1 265.8 749.1 266.9 749.1 268 749.1 269.1 749.1 270.1 749.1 271.2 749.1 272.3 749.1 273.4 749.1 274.5 749.1 275.6 749.1 276.7 749.1 277.8 749.1 278.9 749.1 280 749.1 281.1 750.1 284.6 751.2 287.1 752.3 289.4 753.3 291.5 754.4 293.4 755.5 295.1 756.5 296.7 757.6 298.1 758.7 299.2 759.7 300.2 760.8 301 761.9 301.7 762.9 302.1 764 302.3 765.1 302.4 766.1 302.2 767.2 301.9 768.3 301.4 769.3 300.7 770.4 299.8 771.5 298.8 772.5 297.5 773.6 296.1 774.7 294.4 775.7 292.6 776.8 290.6 777.9 288.4 778.9 286 780 281.1 780 279.9 780 278.7 780 277.6 780 276.4 780 275.2 780 274 780 272.8 780 271.7 780 270.5 780 269.3 780 268.1 780 266.9 780 265.7 780 264.5 780 263.3 780 262 780 260.8 780 259.6 780 258.4 780 257.2 780 256 780 254.8 780 253.6 780 252.4 780 251.1 780 249.9 780 248.7 780 247.5 780 246.3 780.1 245.1 780.1 243.9 780.1 242.7 780.1 241.4 780.1 240.2 780.1 239 780.1 237.8 780.1 236.6 780 235.4 780 234.2 779.9 233 779.8 231.9 779.7 230.7 779.6 229.5 779.5 228.3 779.3 227.1 779.2 225.9 779 224.8 778.8 223.6 778.5 222.4 778.3 221.3 778 220.1 777.7 219 777.4 217.8 777 216.7 776.7 215.6 776.3 214.4 775.9 213.3 775.5 212.2 775.1 211 774.7 209.9 774.3 208.8 773.9 207.6 773.5 206.5 773.1 205.4 772.7 204.2 772.3 203.1 771.9 201.9 771.6 200.8 771.2 199.6 770.9 198.4 770.6 197.3 770.3 196.1 770.1 194.9 769.9 193.7 769.7 192.5 769.5 191.3 769.4 190.1 769.3 188.9 769.3 187.7 769.3 186.5 769.3 185.4 769.4 184.2 769.6 183.1 769.8 182 770.1 180.9 770.4 179.8 770.8 178.8 771.2 177.8 771.7 176.8 772.3 175.9 773 175 773.7 174.2 774.5 173.3 775.3 172.6 776.2 171.8 777.1 171.1 778.1 170.4 779.2 169.8 780.2 169.1 781.3 168.5 782.5 168 783.6 167.4 784.8 166.9 786 166.4 787.2 165.9 788.4 165.4 789.6 164.9 790.8 164.5 792 164.1 793.1 163.6 794.3 163.2 795.5 162.8 796.6 162.4 797.8 162.1 798.9 161.7 800 161.3 801.1 161 802.3 160.6 803.4 160.3 804.5 160 805.6 159.7 806.7 159.4 807.8 159.1 808.9 158.8 810 158.5 811.1 158.2 812.3 157.9 813.4 157.7 814.5 157.4 815.6 157.1 816.8 156.9 817.9 156.7 819.1 156.4 820.2 156.2 821.4 156 822.6 155.7 823.8 155.5 825 155.3 826.2 155.1 827.5 154.9 828.7 154.6 829.9 154.4 831.2 154.2 832.4 154 833.6 153.7 834.9 153.4 836.1 153.2 837.3 152.9 838.5 152.6 839.7 152.2 840.9 151.9 842.1 151.5 843.2 151.1 844.3 150.7 845.4 150.2 846.5 149.7 847.6 149.2 848.6 148.6 849.6 148 850.6 147.4 851.5 146.7 852.4 146 853.2 145.2 854.1 144.4 854.8 143.5 855.6 142.7 856.2 141.7 856.8 140.7 857.4 139.7 857.9 138.7 858.3 137.6 858.6 136.5 858.9 135.4 859.1 134.3 859.2 133.1 859.2 132 859.2 130.8 859.2 129.6 859 128.4 858.8 127.2 858.6 126.1 858.3 124.9 857.9 123.8 857.5 122.6 857.1 121.5 856.6 120.4 856.1 119.4 855.5 118.3 854.9 117.2 854.2 116.2 853.6 115.2 852.8 114.2 852.1 113.2 851.3 112.2 850.5 111.3 849.7 110.4 848.9 109.5 848 108.6 847.1 107.7 846.2 106.8 845.3 106 844.4 105.2 843.4 104.4 842.5 103.6 841.5 102.8 840.6 102.1 839.6 101.4 838.6 100.7 837.6 100 836.6 99.3 835.6 98.7 834.6 98 833.6 97.4 832.6 96.8 831.5 96.2 830.5 95.7 829.4 95.1 828.4 94.6 827.3 94.1 826.2 93.6 825.2 93.1 824.1 92.6 823 92.2 821.9 91.8 820.8 91.3 819.7 90.9 818.6 90.5 817.5 90.1 816.4 89.8 815.2 89.4 814.1 89.1 813 88.8 811.8 88.4 810.7 88.1 809.6 87.9 808.4 87.6 807.3 87.3 806.1 87.1 804.9 86.8 803.8 86.6 802.6 86.4 801.4 86.2 800.2 86 799.1 85.8 797.9 85.6 796.7 85.4 795.5 85.3 794.3 85.1 793.1 85 791.9 84.9 790.7 84.8 789.5 84.6 788.3 84.5 787.1 84.5 785.9 84.4 784.7 84.3 783.5 84.2 782.3 84.2 781.1 84.1 779.9 84 778.7 84 777.5 84 776.3 83.9 775.1 83.9 773.8 83.9 772.6 83.9 771.4 83.9 770.2 83.9 769 83.9 767.8 83.9 766.6 84 765.4 84 764.2 84 763 84.1 761.8 84.2 760.5 84.2 759.3 84.3 758.1 84.4 756.9 84.5 755.7 84.6 754.5 84.7 753.3 84.8 752.1 85 751 85.1 749.8 85.2 748.6 85.4 747.4 85.6 746.2 85.7 745 85.9 743.8 86.1 742.7 86.3 741.5 86.6 740.3 86.8 739.1 87 738 87.3 736.8 87.5 735.7 87.8 734.5 88.1 733.3 88.4 732.2 88.7 731.1 89 729.9 89.3 728.8 89.6 727.6 90 726.5 90.3 725.4 90.7 724.3 91.1 723.1 91.5 722 91.9 720.9 92.3 719.8 92.7 718.7 93.2 717.6 93.6 716.6 94.1 715.5 94.6 714.4 95.1 713.3 95.6 712.3 96.1 711.2 96.6 710.2 97.2 709.1 97.7 708.1 98.3 707 98.9 706 99.5 705 100.1 704 100.7 703 101.4 702 102 701 102.7 700 103.3 699 104 698.1 104.8 697.1 105.5 696.2 106.2 695.2 107 694.3 107.7 693.4 108.5 692.4 109.3 691.5 110.1 690.6 110.9 689.7 111.8 688.9 112.6 688 113.5 687.1 114.3 686.2 115.2 685.3 116 684.5 116.9 683.6 117.7 682.7 118.5 681.8 119.3 680.9 120 680 120.8 679 121.5 678.1 122.2 677.1 122.8 676.1 123.4 675.1 124 674.1 124.5 673.1 124.9 672 125.3 670.9 125.7 669.8 126 668.7 126.2 667.5 126.4 666.4 126.5 665.2 126.6 664 126.6 662.7 126.6 661.5 126.5 660.3 126.5 659 126.4 657.8 126.4 656.5 126.4 655.3 126.4 654 126.4 652.8 126.4 651.5 126.4 650.3 126.4 649.1 126.4 647.9 126.4 646.7 126.4 645.5 126.4 644.3 126.4 643.1 126.4 641.9 126.4 640.7 126.4 639.6 126.4 638.4 126.4 637.2 126.4 636.1 126.4 634.9 126.4 633.7 126.4 632.5 126.4 631.3 126.4 630.2 126.4 629 126.4 627.8 126.4 626.6 126.4 625.3 126.4 628.8 127.4 631.3 128.5 633.6 129.6 635.7 130.6 637.6 131.7 639.3 132.8 640.9 133.8 642.2 134.9 643.4 136 644.4 137 645.2 138.1 645.8 139.2 646.3 140.2 646.5 141.3 646.6 142.4 646.4 143.4 646.1 144.5 645.6 145.6 644.9 146.6 644 147.7 643 148.8 641.7 149.8 640.3 150.9 638.6 152 636.8 153 634.8 154.1 632.6 155.2 630.2 156.2Z"/></clipPath><g clip-path="url(#c2)"><path d="M749.7 321.8 753.4 330.7 755.9 335.3 758.3 338.7 760.8 340.9 763.3 342.1 765.8 342.1 768.2 340.9 772 337.1 775.7 330.7 779.4 321.8 781.9 318.9 781.9 275.6 780.6 276.4 775.7 285.9 772 291.4 768.3 294.6 764.6 295.5 760.9 294.2 758.4 292.1 754.6 287 748.4 275.5 747.2 275.5 747.2 317.6 748.4 318.9 748.4 320.1Z" fill="#00008f" stroke="#00008f" stroke-width=".7"/><path d="M780.6 276.4 781.9 275.6 781.9 268.8 780.6 269.6 775.7 279 772.1 284.5 769.6 287 767.1 288.4 764.6 288.9 763.4 288.7 759.6 286.7 757.1 284 754.7 280.3 748.4 268.7 747.2 268.7 747.2 275.5 748.4 275.5 754.6 287 757.1 290.7 759.6 293.3 763.3 295.4 764.6 295.5 767.1 295.2 769.5 293.8 772 291.4 775.7 285.9Z" fill="#00009f" stroke="#00009f" stroke-width=".7"/><path d="M748.4 268.7 754.7 280.3 758.4 285.5 762.1 288.3 763.4 288.7 765.9 288.8 768.4 287.8 772.1 284.5 775.7 279 780.6 269.6 781.9 268.8 781.9 261.9 780.6 262.6 779.4 265.1 778.4 266 776 271.6 772.3 277.7 769.7 280.3 766 282.2 764.7 282.3 762.2 281.7 758.4 278.9 754.7 273.7 748.4 262 747.2 262 747.2 268.7ZM779.8 260.5 780.6 258.6 781.9 258 781.9 255.2 780.6 256.5Z" fill="#0000af" stroke="#0000af" stroke-width=".7"/><path d="M748.4 262 754.7 273.7 758.4 278.9 762.2 281.7 764.7 282.3 766 282.2 769.7 280.3 772.3 277.7 776 271.6 778.4 266 779.4 265.1 780.6 262.6 781.9 261.9 781.9 258 780.6 258.6 779.7 260.6 780.6 256.5 781.9 255.2 781.9 254.6 780.6 254.9 775.8 265.6 772.1 271.5 769.6 274 765.9 275.8 764.6 275.9 762.1 275.3 758.4 272.4 754.6 267.2 748.4 255.4 747.2 255.4 747.2 262Z" fill="#0000bf" stroke="#0000bf" stroke-width=".7"/><path d="M748.4 255.4 754.6 267.2 758.4 272.4 762.1 275.3 764.6 275.9 765.9 275.8 769.6 274 773.4 269.8 775.8 265.6 780.6 254.9 781.9 254.6 781.9 250.6 780.6 249.9 777.9 255.9 771.8 265.4 768.3 268.5 765.8 269.4 763.4 269.2 762.2 268.8 758.4 265.9 754.7 260.6 748.4 248.7 747.2 248.7 747.2 255.4Z" fill="#0000cf" stroke="#0000cf" stroke-width=".7"/><path d="M777.9 255.9 780.6 249.9 781.9 250.6 781.9 250 780.6 249 779 251.1 780.6 247.8 781.9 247.3 781.9 243.1 780.6 243.8 775.8 252.8 772.2 258.3 768.7 261.7 766.2 262.7 765 262.8 762.5 262.3 761.2 261.6 757.4 258 754.8 254.1 748.4 241.8 747.2 241.8 747.2 248.7 748.4 248.7 754.7 260.6 757.2 264.4 759.7 267.1 762.2 268.8 763.4 269.2 765.8 269.4 769.5 267.7 773 263.9ZM780.6 235.2 781.9 234.9 781.9 233.4Z" fill="#0000df" stroke="#0000df" stroke-width=".7"/><path d="M781.9 250 781.9 247.3 780.6 247.8 779 251.1 780.6 249ZM779.4 246.6 780.6 243.8 781.9 243.1 781.9 234.9 780.5 235.4 781.9 233.4 781.9 232.6 780.6 233.8 778.7 239.5 775.4 246.9 772 252.4 769.6 254.8 767.1 256.2 764.6 256.5 763.3 256.2 759.2 253.6 756.5 250.3 753.7 245.7 748.4 234.8 747.2 234.8 747.2 241.8 748.4 241.8 754.8 254.1 757.4 258 759.9 260.7 762.5 262.3 763.8 262.7 766.2 262.7 769.9 260.8 773.4 256.7Z" fill="#0000ef" stroke="#0000ef" stroke-width=".7"/><path d="M748.4 234.8 753.7 245.7 757.8 252.1 761.9 255.6 763.3 256.2 765.9 256.5 767.1 256.2 769.6 254.8 772 252.4 774.3 249 777.6 242.1 780.6 233.8 781.9 232.6 781.9 228.5 780.6 227.2 780.6 226.4 779.6 228 775.1 240.8 772 246.5 768.4 249.8 765.8 250.6 763.1 250.2 761.7 249.5 757.3 245.5 752.8 238.2 748.4 228.2 747.2 228.4 747.2 234.8ZM779.4 224.7 780.6 224.4 780.6 223.2 779.4 223.2 779.1 224.6Z" fill="#0000ff" stroke="#0000ff" stroke-width=".7"/><path d="M751.3 235.1 755.8 243.5 760.3 248.5 761.7 249.5 764.5 250.6 767.2 250.4 769.7 249 772 246.5 774.1 243 776.1 238.5 779.6 228 780.6 226.4 780.6 224.4 779.1 224.6 779.4 223.2 780.6 223.2 780.6 221.1 779.4 219.8 779.4 217.3 778.1 216.1 778.1 215.4 777.9 216.4 778.6 217.3 778.1 217.9 776.6 228.3 775.1 234.2 772.2 240.7 770.3 243.1 768.7 244.4 766 245.3 764.7 245.2 762.3 244.4 760.2 243 755.4 237.5 750.7 229.7 751 231.1 748.4 226.9 747.2 227.9 747.2 228.4 748.4 228.2ZM777.6 223.9 777.7 222.5 778.1 220 778.4 220.4ZM748.4 225.4 750 227.8 748.4 223.8 747.2 223.5 747.2 224.7Z" fill="#0010ff" stroke="#0010ff" stroke-width=".7"/><path d="M747.9 227.2 748.4 226.9 751 231.1 750.7 229.7 755.4 237.5 760.2 243 762.3 244.4 764.7 245.2 766 245.3 768.7 244.4 771.1 242.2 773.2 238.8 775.9 231.4 778.1 217.9 778.6 217.3 777.9 216.4 778.1 213.6 776.9 212.4 776.9 209.9 776.6 209.6 776.8 209.9 775.7 211.3 775.6 212.1 777 213.6 776.3 215.8 775.2 224.8 773.9 230.7 772.2 235.2 771.2 236.9 768.9 239.3 766.3 240.3 764.8 240.3 762.9 239.8 760.2 238.1 754.9 232.3 748.8 223.1 747.2 222.9 747.2 223.5 748.4 223.8 750 227.8 748.4 225.4 747.2 224.7 747.2 225.9 748.6 226.5 747.2 227.3 747.2 227.9ZM747.2 220 748.9 222.5 750.7 225.7 747.2 219.7 746 220ZM777.7 223.4 778.4 220.4 778.1 220Z" fill="#0020ff" stroke="#0020ff" stroke-width=".7"/><path d="M747.2 227.2 748.6 226.5 748.4 226.3 747.2 225.9ZM747.8 222.9 748.8 223.1 754.9 232.3 760.2 238.1 762.9 239.8 764.8 240.3 766.3 240.3 768.9 239.3 771.2 236.9 772.2 235.2 774.6 227.9 776.3 215.8 777 213.6 775.6 212.1 775.7 211.3 776.8 209.9 775.7 208.7 775.7 206.2 774.4 205 774.4 204.4 773.8 207.4 774.3 211.9 774.1 218.6 772.5 227.6 770.8 231.7 768.8 234.3 767.6 235.1 765 235.6 763.5 235.3 760.2 233.6 758.4 232.1 754.5 227.8 747.3 217.9 746 217.1 746 217.7 747.2 218.2 748.1 220.2 747.2 219 746 219 746 219.7 747.2 219.7 750.7 225.7 747.2 220 746 220 746 221.1 747.2 222.3 747.2 222.9Z" fill="#0030ff" stroke="#0030ff" stroke-width=".7"/><path d="M747.2 219 748.1 220.2 747.2 218.2 746 217.7 746 219ZM747.3 217.9 754.5 227.8 760.2 233.6 761.9 234.7 765 235.6 766.3 235.5 768.7 234.3 769.9 233.1 771.7 229.8 773.7 222.1 774.3 214.5 773.8 207.4 774.4 202.5 773.2 201.2 773.2 200.4 772.5 203.5 772.5 205.7 772.9 206.2 773 207.4 771.9 219.8 770 226.3 768.5 228.8 767.2 229.9 765.8 230.6 763.5 230.6 760.3 229.3 754.1 223.9 746 214.4 745.3 214.9 747.8 217.8 746 216.2 746 217.1Z" fill="#0040ff" stroke="#0040ff" stroke-width=".7"/><path d="M747.6 217.5 745.3 214.9 746 214.4 754.1 223.9 760.3 229.3 763.5 230.6 765.8 230.6 767.2 229.9 768.5 228.8 770 226.3 771.9 219.8 773 207.4 772.9 206.2 772.5 205.7 772.5 203.5 773.2 199.1 772 199.1 770.5 212.1 769 218.8 767.1 223 765.2 224.7 763.1 225.3 761.7 225.1 758.1 223.5 754 220.4 746.7 213.4 746.6 213.9 744.7 212.5 744.7 214.9ZM772 198.1 772.6 198.1 772 197.3 771.7 197.9Z" fill="#0050ff" stroke="#0050ff" stroke-width=".7"/><path d="M746.4 213.7 746.6 213.9 746.7 213.4 754 220.4 758.4 223.7 760.7 224.8 763 225.3 765.1 224.8 766.1 224.1 767.7 222 769 218.8 770.5 212.1 772 199.1 773.2 199.1 772.6 198.1 771.7 197.9 772 196.4 770.8 197.5 770.4 198.9 770.7 196.8 772 196.1 772 193.1 770.7 194.5 768.9 203.8 767.1 210.4 765.1 214.9 763 217.6 760.4 218.6 756.3 217.8 752.3 215.7 747.4 212.4 746.4 212.2 743.5 210.1 742.5 210.1ZM769.9 193.4 770.7 191.8 772 191.8 770.7 189.9 769.8 192.3 769.6 194Z" fill="#0060ff" stroke="#0060ff" stroke-width=".7"/><path d="M743.5 210.1 746.4 212.2 747.4 212.4 752.3 215.7 756.3 217.8 760.4 218.6 763 217.6 765.1 214.9 767.1 210.4 768.9 203.8 770.7 194.5 772 193.1 772 191.8 770.7 191.8 769.6 194 770.7 189.1 764.4 201.5 762.5 204.4 759.9 207.1 756.9 208.8 751.4 210.1 746.1 209.6 742.3 208.4 742.3 209.9ZM770.8 197.5 772 196.1 770.7 196.8 770.4 198.9Z" fill="#0070ff" stroke="#0070ff" stroke-width=".7"/><path d="M742.3 208.4 746.1 209.6 751.4 210.1 757.6 208.5 760.7 206.4 764.4 201.5 770.7 189.1 770.7 184.6 769.2 184.5 768.3 185.6 771.1 181.4 770.7 181.1 768.8 183.4 765.2 188.7 761.9 192.5 757.5 195.6 754.8 196.4 752.3 196.3 750 195.6 746.7 193.7 742.1 189.5 738.6 185.6 736.8 183 734.8 178.9 734 175.4 733.8 172 734.4 166.9 736.3 159.6 735.5 157.9 736 156.8 733.6 159.2 732.4 159.2 727.4 164.1 726.2 164.1 721.2 169.1 721.2 170.3 718.7 172.8 718.7 174 717.5 175.3 717.5 176.5 716.3 177.7 716.3 179 715 180.6 717.5 180.6 720 185.2 723.9 185.6 726.5 186.5 729.3 188.1 732.4 190.7 737.5 196.7 740.6 201.2 741.5 203.2 741.6 204.5 738.8 203.7 738.4 203.7 738.1 204.5Z" fill="#0080ff" stroke="#0080ff" stroke-width=".7"/><path d="M738.4 203.7 741.6 204.5 741.5 203.2 740.6 201.2 737.5 196.7 732.4 190.7 729.3 188.1 726.5 186.5 723.9 185.6 720 185.2 717.5 180.6 715 180.6 715 185.2 716.3 186.4 716.3 187.6 717.5 188.9 717.5 190.1 723.7 196.3 724.9 196.3 727.4 198.8 728.6 198.8 729.9 200 731.1 200 732.4 201.2 733.6 201.2 736.1 203.7 737.3 203.7 738.1 204.5ZM770.7 184.6 770.7 183.9 772 182.7 772 179 773.2 177.7 771.7 177.3 768.4 180.2 763 184.4 758.4 186.7 755.8 187.4 752.4 187.4 749.4 186.4 747.3 185 745.6 183.1 743.2 179 741.9 174.6 741.6 170.2 742.7 163.6 744.5 159.2 748.4 152 748.3 151.2 747.7 150.5 747.2 150.5 746 151.7 744.7 151.7 743.5 153 742.3 153 739.8 155.4 738.5 155.4 737.3 156.7 736 156.8 735.5 157.9 736.3 159.6 733.9 170.3 733.8 173.7 734.3 177.1 735.6 180.8 738.5 185.4 741.6 189.1 745.4 192.7 748.8 195 751.1 196 753.6 196.5 756.1 196.1 758.9 194.9 761.9 192.5 765.2 188.7 770.7 181.1 771.1 181.4 770.7 182.5 768.3 185.6 769.2 184.5Z" fill="#008fff" stroke="#008fff" stroke-width=".7"/><path d="M773.2 177.7 774.4 176.5 774.4 175.3 774.9 174.8 774.4 174.3 767.1 178.2 762.2 180.3 758.2 181.2 755 181.4 752.4 180.9 750.3 180 748.6 178.7 747.3 177.2 745.7 173.6 745.2 169.5 745.8 165.1 748.6 158.1 754.5 150.2 755.4 148.5 755.5 146.8 754.6 146.8 753.4 148 752.2 148 750.9 149.3 749.7 149.3 748.4 150.5 747.7 150.5 748.4 152 743.5 161.4 742.1 165.8 741.6 170.2 742.4 176.8 744.2 181.1 745.8 183.4 747.3 185 750.6 186.9 752.4 187.4 756.3 187.3 760.6 185.7 763 184.4 768.4 180.2 771.2 177.5Z" fill="#009fff" stroke="#009fff" stroke-width=".7"/><path d="M774.4 174.3 774.9 174.8 775.3 174 772.7 174.3 771.3 175.1 770.9 174.9 776 172.9 777.4 173.5 778.6 172.4 776.9 171.9 765.4 175.8 761.7 176.5 757.8 176.7 753.8 175.9 752 174.9 750 172.8 749 170.8 748.6 167.1 750.1 161.2 752.8 156.1 759.8 146.6 759.9 145.2 759.6 145.5 758.3 145.5 757.1 146.8 755.5 146.8 755.4 148.5 754.5 150.2 748.6 158.1 745.8 165.1 745.4 167.6 745.3 171.6 746.3 175.3 747.3 177.2 749.5 179.4 751.5 180.6 755 181.4 758.2 181.2 762.2 180.3 767.1 178.2Z" fill="#00afff" stroke="#00afff" stroke-width=".7"/><path d="M775.5 174.2 776.9 174 777.4 173.5 776 172.9 770.9 174.9 771.3 175.1 772.7 174.3ZM778.1 172.4 778.6 172.4 780 170.9 780.2 170.3 777.7 170.5 774.8 171.4 767.6 172.6 764.2 172.9 759.5 172.6 755.3 171.1 753.1 168.9 752.3 166.6 752.3 164.1 752.6 162.2 754.3 158.1 757.2 153.5 764.2 145.1 764.4 143.1 763.3 143.1 762.1 144.3 760.8 144.3 759.9 145.2 759.8 146.6 758.8 148.3 752.8 156.1 750.2 160.8 748.9 165.1 748.6 167.1 748.9 170 749.7 172.4 752 174.9 753.8 175.9 758.6 176.7 765.4 175.8 776.9 171.9Z" fill="#00bfff" stroke="#00bfff" stroke-width=".7"/><path d="M780 170.9 780.6 170.3 781.9 170.3 783.1 169.1 784.3 169.1 784.5 167.8 777.1 169.1 766.3 169.6 760.2 168.4 757.8 166.8 756.7 165.4 756.3 164 756.3 160.9 757.7 157.2 762.1 150.6 770.1 142.1 769.2 142.7 769.4 140.9 768.2 140.6 767 141.8 765.8 141.8 764.4 143.1 764.2 145.1 755.6 155.8 752.6 162.2 752.2 165.8 752.5 167.4 753.5 169.5 755.3 171.1 759.5 172.6 764.3 172.9 774.8 171.4 777.7 170.5 780.2 170.3Z" fill="#00cfff" stroke="#00cfff" stroke-width=".7"/><path d="M784.5 168.9 785.6 167.8 788 167.8 789.5 166.6 789.2 166.5 786.5 166.1 782.2 167 778.9 167.1 769.8 166.8 763.7 165.1 762.4 164.3 760.8 162.1 760.5 160.7 760.8 157.7 762.8 153.5 767.3 147.6 775.2 139.8 775.4 138.7 774.5 138.1 773.2 139.3 770.7 139.3 769.2 140.6 769.2 142.7 770.1 142.1 762.1 150.6 757.7 157.2 756.3 160.9 756.3 164 756.7 165.4 757.8 166.8 760.2 168.4 764.3 169.5 773.4 169.5 784.2 167.8 784.5 167.8Z" fill="#00dfff" stroke="#00dfff" stroke-width=".7"/><path d="M784 166.7 786.5 166.1 791.8 166.6 793 165.3 794.2 165.3 794.7 164.9 794.2 165.1 792.9 164.1 785.2 165 778.5 164.8 773 164.1 767.6 162.1 765.7 160.1 765.2 158.9 765.4 155.6 767.6 151.1 770.9 146.8 778.1 139.5 779.2 138 779.4 135.6 778.1 136.9 776.9 136.9 775.7 138.1 774.5 138.1 775.4 138.7 775.2 139.8 767.3 147.6 763.8 152 760.8 157.7 760.5 160.7 760.8 162.1 762.4 164.3 765.4 165.8 767.4 166.4 775.5 167.1ZM786.9 165.2 785.3 165 788.4 165Z" fill="#00efff" stroke="#00efff" stroke-width=".7"/><path d="M788.2 165.1 788.4 165 785.3 165 786.9 165.2ZM794.2 165.1 795.5 164.1 797.9 164.1 798.9 163.1 797.9 163.7 796.8 162.9 790.6 163.2 778.7 162.1 773 160.1 771.8 159.2 770.3 157.1 770 155.8 770.4 153 773 148.2 776.8 143.7 784.9 136 782.8 137.4 783.9 135.6 783.1 134.5 781.9 135.6 779.5 135.6 779.2 138 778.1 139.5 770.9 146.8 766.6 152.8 765.2 156.1 765.2 158.9 765.7 160.1 768 162.3 773 164.1 778.5 164.8 785.2 165 792.9 164.1ZM787.1 134.7 787.4 134.4 787.4 134.4 787.4 134.4Z" fill="#00ffff" stroke="#00ffff" stroke-width=".7"/><path d="M797.9 163.7 799.2 162.9 800.2 162.9 799.5 161.7 795.1 161.7 789.7 161 782.1 159.6 778.1 157.9 775.7 155.4 775.3 154.2 775.4 151.6 777.8 146.7 782.9 140.7 793.1 131.9 787.5 135.3 788 133.2 785.6 133.2 784.3 134.4 783 134.5 783.9 135.6 782.8 137.4 784.9 136 784.4 136.7 776.8 143.7 772 149.7 770.4 153 770 155.8 770.3 157.1 771.8 159.2 773 160.1 778.7 162.1 790.6 163.2 796.8 162.9ZM801.7 162.9 802.9 162.9 804.5 161.6 800.8 161 800.3 161.4 800.9 162.9Z" fill="#10ffef" stroke="#10ffef" stroke-width=".7"/><path d="M800.4 162.9 800.9 162.9 800.3 161.4 800.8 161 806.2 161.6 806.2 160.4 795.4 159.4 788 157.9 783.4 155.7 782.3 154.9 781.1 152.8 780.9 151.4 781.3 149 783.9 144.1 787.1 140.2 795 132.1 793.5 133.1 794 131.6 793 130.7 791.8 131.9 789.3 131.9 788 133.2 787.7 135.2 793.1 131.9 785.3 138.5 779.2 144.9 775.9 150.1 775.2 153 775.3 154.2 775.7 155.4 777.4 157.4 780.2 159 786.9 160.7 795.1 161.7 799.5 161.7ZM807.5 160.8 808.1 160.4 807.1 159.4 806.1 159.4 807.5 160.4Z" fill="#20ffdf" stroke="#20ffdf" stroke-width=".7"/><path d="M806.6 161.6 807.5 160.4 806.1 159.4 807.1 159.4 808.1 160.4 811.2 160.4 811.2 159.2 801 157.8 794.4 156.2 791.2 154.9 789 153.5 787.3 150.7 787.5 147.8 789.2 143.9 800.1 129.5 799.2 128.2 797.9 129.4 795.5 129.4 794.2 130.7 793.3 130.7 794 131.6 793.5 133.1 795 132.1 787.1 140.2 783.9 144.1 781.3 149 780.9 151.4 781.1 152.8 782.3 154.9 783.4 155.7 788 157.9 795.4 159.4 806.2 160.4 806.2 161.6ZM812.3 159.7 813.1 159.2 812.2 158.1 810.9 158.1 812.3 159.2Z" fill="#30ffcf" stroke="#30ffcf" stroke-width=".7"/><path d="M811.6 160.4 812.3 159.7 812.3 159.2 810.9 158.1 812.2 158.1 813.1 159.2 816 159.2 816 157.9 809.3 156.8 800.1 154.1 796.1 151.6 795.1 150.1 794.7 148.3 795.3 144.7 796.9 141.4 800.9 135.2 806.8 128.5 808.6 125.1 808.7 123.6 807.8 124.5 806.3 124.8 805.4 125.7 804.1 125.7 802.9 127 801.7 127 800.4 128.2 799.2 128.2 800.1 129.5 797.6 133.1 793.4 138 789.7 143.1 787.7 147 787.2 149.6 788.2 152.6 790 154.2 792.7 155.6 801 157.8 811.2 159.2 811.2 160.4ZM807.2 125.9 807.6 125.5 807.3 126.3 806.4 127.2ZM817.7 159.2 819.2 157.9 815.8 156.9 817.5 157.9 817.5 159.2Z" fill="#40ffbf" stroke="#40ffbf" stroke-width=".7"/><path d="M816.5 159.2 817.5 159.2 817.5 157.9 815.8 156.9 819.2 157.9 822.2 157.9 822.2 156.7 816.2 155.3 808.7 152 805 149 803.7 145.9 804.1 141.6 805.2 138.3 808.7 130.9 810.1 127 811.5 125.6 811.2 123.6 810.2 121.9 808.7 123.6 808.6 125.1 806.8 128.5 800.9 135.2 796.9 141.4 794.9 146 794.8 149.2 796.1 151.6 800.1 154.1 809.3 156.8 816 157.9 816 159.2ZM823.9 157.9 825.3 156.7 822.4 155.6 823.7 156.7ZM806.4 127.2 807.3 126.3 807.6 125.5 807.2 125.9ZM806.6 124.8 807 124.5 806.6 124.5 806.3 124.8Z" fill="#50ffaf" stroke="#50ffaf" stroke-width=".7"/><path d="M818.3 156.7 818.7 156.7 817.5 156.5 818.2 156.7ZM822.7 157.9 823.7 157.9 823.7 156.7 822.4 155.6 825.3 156.7 829.9 156.7 825.8 153.7 823.4 148.5 822.2 147.1 814.7 144.2 812.5 141.7 811.6 138.7 811.5 136.4 811.8 129.4 812.2 128.5 811.5 123.5 810.1 121.7 811.2 123.6 811.5 125.6 810.1 127 808.7 130.9 805.2 138.3 803.7 144 804.1 147.5 806 150 809.6 152.5 816.2 155.3 822.2 156.7 822.2 157.9ZM830.5 156.3 831.7 155.4 831.3 154.3 830.1 153.9 829.8 154.4 830.5 155.4Z" fill="#60ff9f" stroke="#60ff9f" stroke-width=".7"/><path d="M828.9 155.8 829.9 156.7 830.5 156.3 830.5 155.4 829.8 154.4 830.1 153.9 831.3 154.3 831.7 155.4 836.3 155.4 837.5 154.2 841.3 154.2 842.5 153 843.7 153 845 151.7 846.2 151.7 847.4 150.5 848.7 150.5 849.9 149.3 851.2 149.3 858.6 141.8 858.6 140.6 859.8 139.3 859.8 136.9 861.1 135.6 861.1 127 859.8 125.7 859.8 123.3 858.6 122 858.6 119.5 857.3 118.3 857.3 117.1 854.9 114.6 854.9 113.4 846.7 105.2 846.2 106 846.8 114.4 846.5 118.3 844.6 124.5 841.8 128.9 838.8 132.1 834.4 135.6 830 138 825.8 139.4 823.1 139.6 820.5 139.1 818.2 137.5 816 134.4 811.7 123.3 810.3 121.5 809.9 121.6 810.3 121.7 811.5 123.5 812.2 128.5 811.8 129.4 811.5 136.4 811.6 138.7 812.5 141.7 814.7 144.2 822.2 147.1 823.4 148.5 825.7 153.6ZM844.7 106.5 845 104.3 845.9 104.4 844.7 103.1 843.7 103.1 843.5 103.5 843.9 105.4Z" fill="#70ff8f" stroke="#70ff8f" stroke-width=".7"/><path d="M818.2 137.5 820.5 139.1 823.1 139.6 827.1 139 831.4 137.3 835.8 134.6 839.3 131.7 841.8 128.9 844.6 124.5 846.5 118.3 846.8 114.4 846.2 106 846.7 105.2 845.9 104.4 845 104.3 844.7 106.5 843.9 105.4 843.5 103.5 843.7 103.1 844.7 103.1 842.5 101 841.3 101 838.8 98.5 837.5 98.5 836.8 97.8 837 99.6 839.6 105.6 840.9 110.3 841.2 117.4 840.5 121.1 839.3 124.5 836.8 128.6 833.8 131.8 830.6 133.8 827.2 134.8 823.7 134.6 821.8 134 819.9 132.8 817.9 131 815.6 128.1 814.4 127.5 811.9 123.2 810.3 121.3 809.7 121.4 810.3 121.5 811.7 123.3 816 134.4Z" fill="#80ff80" stroke="#80ff80" stroke-width=".7"/><path d="M810.3 121.3 811.9 123.2 814.4 127.5 815.6 128.1 817.9 131 819.9 132.8 821.8 134 823.7 134.6 827.2 134.8 830.6 133.8 834.1 131.6 836.8 128.6 839.3 124.5 840.5 121.1 841.2 117.4 840.9 110.3 839.6 105.6 837.4 101 836.8 97.8 835.1 96 833.8 96 832.6 94.8 831.4 94.8 830.5 93.9 830.5 95.2 831.5 97.4 834.7 102.1 837 106.8 838.7 113.9 838.6 118.4 837.4 122.8 835.2 126.4 833.5 128.2 831.2 129.6 828.6 130.4 825.5 130.6 821.9 129.8 813.6 125.5 812.1 123 810.3 121.1 809.6 121.3Z" fill="#8fff70" stroke="#8fff70" stroke-width=".7"/><path d="M810.3 121.1 812.1 123 813.6 125.5 821.9 129.8 825.5 130.6 828.6 130.4 831.5 129.4 833.5 128.2 836.4 124.8 837.8 121.5 838.6 118.4 838.7 116.2 838.3 111.5 836 104.4 831.5 97.4 830.5 95.2 830.5 93.9 830.1 93.5 828.9 93.5 827.6 92.3 826.4 92.3 825.9 91.8 825.7 92.9 824.2 91.8 824.3 92.5 830.5 99.5 833.5 104.1 835.5 108.6 836.6 112.8 836.6 116.9 836.3 118.8 834.7 122.1 832.9 124 830.2 125.6 825.4 126.6 819.4 126 815.9 124.8 812.8 123.6 810.3 121 809.6 121.3Z" fill="#9fff60" stroke="#9fff60" stroke-width=".7"/><path d="M810.3 121 812.8 123.6 815.9 124.8 819.4 126 825.4 126.6 827.9 126.3 832 124.8 833.5 123.5 835.6 120.5 836.3 118.8 836.7 114.9 836.2 110.7 834.6 106.3 830.5 99.5 824.3 92.5 824.2 91.8 825.7 92.9 825.9 91.8 825.2 91.1 823.9 91.1 822.7 89.8 821.2 89.8 821.6 91.1 823.4 94 829.2 100.6 832.9 106.8 834.4 112.4 834.4 114.1 833.6 117.2 831.7 119.8 830.3 120.8 826.6 122.3 824.4 122.7 816.8 123 813.8 122.5 810.4 120.8 809.4 121.1Z" fill="#afff50" stroke="#afff50" stroke-width=".7"/><path d="M810.3 120.8 813.8 122.5 816.8 123 821.8 122.9 826.6 122.3 828.6 121.6 831.7 119.8 833.5 117.5 834.1 115.7 834.4 113.4 834.2 110.6 832.9 106.8 830.7 102.7 827.5 98.5 823.4 94 821.6 91.1 821.2 89.8 820.2 89.8 819 88.6 817.7 88.6 816.5 87.4 814.8 88.6 823.8 96.9 827.2 100.8 829.6 104.5 831.1 107.9 831.5 111 831.3 112.4 830.1 114.9 827.9 117 824.4 118.5 822.1 119.1 816.6 119.6 812.8 119.3 812 119.8 808.8 118.8 807.3 117.8 804.1 118.3 805.4 119.5 807.8 119.5 809.2 120.9Z" fill="#bfff40" stroke="#bfff40" stroke-width=".7"/><path d="M808.8 118.8 812 119.8 812.8 119.3 819.6 119.4 824.4 118.5 827 117.5 829.1 116 830.9 113.7 831.5 111 830.5 106.2 827.2 100.8 821.8 94.9 814.8 88.6 816.5 87.4 813 87.4 813.8 89 811.6 86.1 811 86.1 811 87.4 812.3 89.4 821.3 96.9 825.6 102 827.4 105.9 827.6 109.2 826.6 111.6 825.7 112.6 821.2 115.3 814.1 117.1 806.1 117.4 803.2 118.3 807.3 117.8ZM801.7 118.3 802.3 118.3 802.9 116.8 801.4 117.1 801.4 118.3Z" fill="#cfff30" stroke="#cfff30" stroke-width=".7"/><path d="M797.8 117.1 797.3 116.6 796.3 117.1 796.7 117.1 797.8 118.2ZM801.4 117.1 802.9 116.8 802.3 118.3 803.2 118.3 804.7 117.6 814.1 117.1 819.2 116 824.5 113.6 826.6 111.6 827.6 109.2 827.6 106.5 827.1 105.1 825.6 102 823 98.7 817.3 93.3 812.3 89.4 811 87.4 811 86.1 808 86.1 809.1 87.8 806.6 84.9 806.1 84.9 804.9 86.1 816.1 94.9 820.6 99.5 822.5 102.8 823 106.3 822.2 108.6 821.4 109.7 817.2 112.5 810.6 114.9 800.8 117.1 800.8 118.3 801.4 118.3ZM804.8 86.9 803.6 86.1 802.8 84.9 803.5 86.1Z" fill="#dfff20" stroke="#dfff20" stroke-width=".7"/><path d="M797.9 118.3 800.8 118.3 800.8 117.1 810.6 114.9 817.2 112.5 821.4 109.7 822.2 108.6 823 106.3 822.3 102.4 820.6 99.5 817.8 96.5 804.9 86.1 806.1 84.9 803 84.9 803.6 86.1 804.8 86.9 803.5 86.1 802.8 84.9 801.9 84.9 803.5 86.9 802.3 86.4 800.4 83.6 798.7 83.6 797.7 84.9 807.8 91.3 813.2 95.8 816.5 100 817.4 103.7 816.8 106.1 816.1 107.2 812.3 110.3 806.2 113.1 797 115.9 795.6 117.1 797.3 116.6 797.8 117.1ZM786.8 117.1 787.2 115.7 786.7 115.8Z" fill="#efff10" stroke="#efff10" stroke-width=".7"/><path d="M786.7 115.8 787.2 115.7 787.1 117.1 795.6 117.1 797 115.9 806.2 113.1 812.3 110.3 816.1 107.2 817.3 104.9 817.4 103.7 817 101.3 814.5 97.2 811.6 94.4 807.8 91.3 797.7 84.9 798.7 83.6 798 83.6 797 84.9 796.7 83.6 793.6 83.6 793.5 85.1 804.2 92.4 808.5 96.4 810.6 100.2 810.8 102.7 810.4 103.8 807.9 107.3 802.7 110.6 793.9 113.9 786 115.8 786 117.1 786.7 117.1ZM803.5 86.9 801 84.2 801 84.9 802.3 86.4ZM791.8 85.2 789.6 83.6 789.6 82.4 789.1 82.4 789.1 83.6Z" fill="#ffff00" stroke="#ffff00" stroke-width=".7"/><path d="M783.1 117.1 786 117.1 786 115.8 793.9 113.9 802.7 110.6 807.9 107.3 809.9 105 810.8 102.7 810.8 101.2 810.2 99 807.3 95.1 802.3 91 793.5 85.1 793.6 83.6 793 83.6 791.8 82.4 789.6 82.4 789.6 83.6 791.8 85.2 789.1 83.6 789.1 82.4 785.1 82.4 785.1 83.6 795.4 90.5 800.1 94.4 802.7 98.1 803.1 101.7 801.2 105.3 798.6 107.6 792.8 111.1 781.9 115.8 781.9 117.1ZM797 84.9 798 83.6 796.7 83.6Z" fill="#ffef00" stroke="#ffef00" stroke-width=".7"/><path d="M773.2 117.1 781.9 117.1 781.9 115.8 790.3 112.3 796.9 108.8 800 106.5 802.7 102.9 803.1 101.7 803.1 99.3 801.2 95.6 797.2 91.8 785.1 83.6 785.1 82.4 773.1 82.4 773.9 83.6 780 86.1 784.8 88.6 788.6 91.1 791.5 93.5 793.5 95.9 794.6 98.3 794.3 102 791.7 105.7 788.7 108.2 781.9 112 772.8 115.8 772.8 117.1Z" fill="#ffdf00" stroke="#ffdf00" stroke-width=".7"/><path d="M764.5 117.1 765.9 117.1 766.6 115.8 769.1 114.4 764.7 115.8 763.9 117.1ZM769.5 117.1 772.8 117.1 772.8 115.8 781.9 112 788.7 108.2 791.7 105.7 793.7 103.2 794.6 100.8 794.6 98.3 792.6 94.7 788.6 91.1 782.5 87.4 773.9 83.6 773.1 82.4 764.5 82.4 765.2 83.6 774.9 88 780.5 91.4 784.2 94.9 785.7 98.5 785.1 102.2 783.4 104.7 778.9 108.7 770.7 114.2 770.9 114.4 768.9 115.8 768.9 117.1ZM761.5 84.2 763.5 84.4 762 83.6 761.5 82.4 759 82.4 759 83.6Z" fill="#ffcf00" stroke="#ffcf00" stroke-width=".7"/><path d="M755.9 117.1 756.9 118.3 758.5 118.3 758.5 117.1 760.4 115.6 763.6 114.2 761.4 115.6 761.3 117.1 763.9 117.1 764.7 115.8 769.1 114.4 766.6 115.8 765.9 117.1 768.9 117.1 768.9 115.8 770.9 114.4 770.7 114.2 780.7 107.4 784.4 103.4 785.8 99.7 785.4 97.2 784.2 94.9 782 92.6 778.9 90.3 772.7 87 765.2 83.6 764.5 82.4 761.5 82.4 762 83.6 763.5 84.4 759 83.6 759 82.4 753.4 82.4 752.2 83.6 751.5 83.6 753.6 84.7 761.4 86.6 770.3 90.6 773.3 92.7 775.5 95 776.9 98.5 776.7 101 775.5 103.7 771.7 107.9 765.4 112.4ZM749.2 85 748.7 83.6 747.1 83.6Z" fill="#ffbf00" stroke="#ffbf00" stroke-width=".7"/><path d="M749.7 119.5 749.8 118.3 753.6 115.6 749.6 118.3ZM752.6 117.6 752.8 118.3 754.3 118.3 754.7 117.1 755.9 116.4 755.1 117.1 756 118.3 756.9 118.3 755.8 117.1 765.4 112.4 771.7 107.9 774.5 105 776.2 102.3 777 99.8 776.7 97.3 775.5 95 773.3 92.7 768.5 89.6 764.1 87.6 761.4 86.6 753.6 84.7 751.5 83.6 748.7 83.6 749.2 85 747.1 83.6 746.1 83.6 747.1 84.9 749.4 85.9 750.2 86.6 747.2 85.9 745.5 84.9 745.5 83.6 744.7 83.6 743.5 84.9 742.8 84.9 744.2 85.7 752.8 87.5 759.5 90.1 763.1 91.9 766.8 95 768.5 98.5 768 102.4 765.3 106.7 760 111.5 752.7 116.8ZM759.6 118.3 760.8 117.1 761.3 117.1 761.4 115.6 763.6 114.2 760.4 115.6 758.5 117.1 758.5 118.3ZM742.2 86.4 741.7 86.1 741.4 84.9 739.5 84.9 741 86.1Z" fill="#ffaf00" stroke="#ffaf00" stroke-width=".7"/><path d="M743.5 119.9 745.9 117.8 748.2 116.6 746.4 118 746.3 119.1 746.5 119.5 749.6 119.5 749.6 118.3 753.6 115.6 749.8 118.3 749.8 119.5 750.9 119.5 752.2 118.3 752.8 118.3 752.7 116.8 762 109.8 766.4 105.2 768.2 101.8 768.5 98.5 767.6 96.2 765.8 94 763.1 91.9 759.5 90.1 752.8 87.5 744.2 85.7 742.8 84.9 741.4 84.9 741.7 86.1 742.2 86.4 741 86.1 739.5 84.9 738.5 84.9 737.3 86.1 734.1 86.1 734.1 87.4 742.6 88.5 747.8 89.8 753.9 92.3 756.9 94.1 759.1 96.2 760.6 99.7 759.9 103.8 756.8 108.5 751.1 113.8 743.2 119.5ZM754.6 118.3 756 118.3 755.1 117.1 755.9 116.4 754.7 117.1 754.3 118.3ZM732.5 87.5 732.7 87.4 732.7 87 732.2 87.4ZM750.2 86.6 749.4 85.9 747.1 84.9 746.1 83.6 745.5 83.6 745.5 84.9 747.2 85.9Z" fill="#ff9f00" stroke="#ff9f00" stroke-width=".7"/><path d="M737.7 121.1 739.6 120 739 120.8 739 122 739.8 122 741 120.8 744.7 120.8 746 119.5 746.5 119.5 746.4 118 748.2 116.6 745.9 117.8 743.5 119.9 743.2 119.5 751.1 113.8 756.8 108.5 759.9 103.8 760.6 99.7 759.1 96.2 756.9 94.1 753.9 92.3 747.8 89.8 742.6 88.5 734.1 87.4 734.1 86.1 733.6 86.1 732.5 87.5 728.6 87.4 727.4 88.6 724.9 88.6 723.5 89.8 726 90.6 727.8 89.7 734.4 90.4 744.2 92.8 747.7 94.4 750.4 96.2 752.2 98.4 753 100.8 752.3 105.1 749.1 110.2 745.5 114.1 737.8 120.6Z" fill="#ff8f00" stroke="#ff8f00" stroke-width=".7"/><path d="M732.4 124 733.5 123.3 734.4 121.6 733.9 123.3 736.1 123.3 737.3 122 739 122 739 120.8 739.6 120 737.7 121.1 737.8 120.6 743.3 116.2 749.1 110.2 752.3 105.1 753 102.2 752.7 99.5 751.4 97.2 749.2 95.3 746.1 93.6 742.1 92.1 734.4 90.4 727.8 89.7 726.3 90.6 723.5 89.8 721.2 89.8 720 91.1 718.7 91.1 717.5 92.3 716.5 92.3 717.7 92.6 718.7 91.8 719.4 92.3 721.9 92.7 731.2 93.4 737.8 95 742.5 97.4 744.6 99.4 745.4 101.3 745.6 104.7 743.5 109.9 738.7 116.1 731.8 123.3Z" fill="#ff8000" stroke="#ff8000" stroke-width=".7"/><path d="M727.3 125.9 729.9 125.7 731.1 124.5 732.4 124.5 733.9 123.3 734.4 121.6 733.5 123.3 732.4 124 731.8 123.3 738.7 116.1 743.5 109.9 745.6 104.7 745.6 101.9 744.6 99.4 742.5 97.4 739.6 95.7 735.4 94.3 729.1 93.1 721.9 92.7 719.4 92.3 718.7 91.8 717.7 92.6 716.3 92.3 715 93.5 712.6 93.5 711.3 94.8 710.1 94.8 709.2 95.7 710.5 96 722 96 730.7 97.3 734.9 99 737.7 101.6 738.5 103.5 738.7 105.7 737.5 110.5 734.7 115.4 730.8 120.4 728.3 122.9 727.1 124.7ZM707.7 97.3 708.3 97.3 707.6 96.7 707.5 97.3Z" fill="#ff7000" stroke="#ff7000" stroke-width=".7"/><path d="M721.6 129 722.5 128.2 723.7 128.2 724.9 127 726.2 127 727.3 125.9 727.1 124.7 728.3 122.9 732.9 117.8 736.1 113.2 738.5 107.3 738.7 105.7 738.3 102.8 736.8 100.5 734.9 99 732.6 97.9 728.7 96.8 718.6 95.8 713.1 96.2 709.2 95.7 708.8 96 707.6 96 705.1 98.5 703.9 98.5 702.8 99.6 705.7 100.1 715.4 99.3 723 99.8 725.6 100.4 728.5 101.6 730.3 103.1 731.6 105 732.2 107.6 732 109.9 730.6 114.1 727.8 119.1 723.5 124.9ZM707.5 97.3 707.6 96.7 708.3 97.3 707.7 97.3ZM701.4 101 701.6 101 701.4 100.8 701.3 101Z" fill="#ff6000" stroke="#ff6000" stroke-width=".7"/><path d="M716.5 132.9 718.7 130.7 720 130.7 721.6 129 723.5 124.9 729.4 116.5 730.6 114.1 732 109.9 732.2 107.6 731.6 105 730.3 103.1 728.5 101.6 725.6 100.4 723 99.8 715.4 99.3 705.7 100.1 703.9 99.6 701.4 99.7 697.7 103.4 696.5 103.4 695.7 104.2 695.9 104.7 696.7 105.1 708.8 103.1 715.9 102.9 721.4 104 723.2 105.1 725.2 107.3 726.1 110.8 725.8 113.6 724.8 116.9 721.8 123 717.3 130.4ZM701.3 101 701.4 100.8 701.6 101 701.4 101ZM694 106.9 694 105.9 694 105.9Z" fill="#ff5000" stroke="#ff5000" stroke-width=".7"/><path d="M711.3 136 712.1 136 713.6 134.6 712.6 134.6 712.5 134.3 714.2 131.2 713.9 134.3 715 133.2 716.5 132.9 717.3 130.4 723.4 120 724.8 116.9 726 112.5 726.1 110.5 725.2 107.3 723 104.9 721.2 104 717.3 103 709 103 696.7 105.1 695.9 104.7 695.7 104.2 694 105.9 694 106.9 693.9 106 691.5 108.5 690.3 108.4 687.7 110.9 689.3 111.8 699 108.2 705.8 106.8 709 106.5 714 106.9 716.2 107.7 717.8 108.6 719.9 111.4 720.4 115.3 719.3 120.5 716.4 127 711.1 135.5ZM694.4 107 696.2 106.3 696.4 106.3 696.3 106.3Z" fill="#ff4000" stroke="#ff4000" stroke-width=".7"/><path d="M710.1 137.9 712.1 136 711.3 136 711.1 135.5 716.4 127 719.8 118.9 720.3 116.1 720.3 113.2 719.1 109.9 717.8 108.6 714.2 107 711.6 106.6 705.8 106.8 702.5 107.3 695.7 109.2 689.6 111.7 687.7 110.9 682.8 115.9 684.8 116.6 692.4 113.2 701.6 110.9 707.6 110.8 709.9 111.3 712.6 112.6 714.2 114.6 714.8 116.3 714.9 120.8 713.3 127.2 709.5 136.2ZM712.6 134.6 713.9 134.3 714.2 131.2 712.5 134.3Z" fill="#ff3000" stroke="#ff3000" stroke-width=".7"/><path d="M705.1 142.4 705.5 142.7 710.2 138 709.5 136.2 712.4 129.6 714.3 123.7 714.9 120.8 715 117.1 714.2 114.6 712.6 112.6 709.9 111.3 707 110.7 701.6 110.9 698.5 111.5 692.4 113.2 684.8 116.6 682.8 115.9 678.6 120.1 678.9 120.8 679.6 120.7 687.9 117.5 697.2 115.4 702.8 115.5 704.9 115.9 707.8 117.6 709.4 120.4 709.8 122.2 709.6 125.8 707.9 132.9 704.9 140.4 704.8 141.6Z" fill="#ff2000" stroke="#ff2000" stroke-width=".7"/><path d="M697.5 150.7 698.4 149.8 698.1 148.2 697.5 149.2ZM701.4 145.7 702.1 146 705.5 142.7 704.8 141.6 704.9 140.4 707.6 133.9 709.2 128 709.7 122.1 708.8 119 707.8 117.6 704.9 115.9 702.8 115.5 696.9 115.5 687.9 117.5 679.6 120.7 678.9 120.8 678.6 120.1 677.9 120.8 676.7 120.8 675.5 121.9 678.8 122.1 688.3 120.2 694.5 120 698.9 120.8 701.9 122.4 703.5 124.6 704.1 128.4 702.3 138.7Z" fill="#ff1000" stroke="#ff1000" stroke-width=".7"/><path d="M677.9 159.2 680.5 159.2 680.8 157.9 681.8 156.9 681.4 156.5 678.1 157.9 677.5 159.2ZM682.8 158.3 683.5 157.9 685.4 154.9 683.5 156.3 682.5 157.9ZM685.5 157.3 688.5 154.9 688.2 156.7 689 156.7 690.3 155.4 691.5 155.4 692.7 154.2 694 154.2 697.5 150.7 697.5 149.2 698.1 148.2 698.4 149.8 702.1 146 701.3 145.5 703.8 131.2 704 126.6 703.5 124.6 702.7 123.3 701.3 122 698.9 120.8 694.5 120 691.7 120 684.6 120.7 678.8 122.1 674.2 122 672.9 123.3 671.7 123.3 670.3 124.5 671.7 123.9 672.5 124.5 681.8 123.8 688.4 124.2 690.8 124.6 694.5 126.1 695.8 127 697.5 129.2 698.2 133.3 697.6 136.4 696.3 139.9 688.7 153 686.3 154.7 685.2 156.5Z" fill="#ff0000" stroke="#ff0000" stroke-width=".7"/><path d="M670.5 159.2 677.5 159.2 678.1 157.9 681.4 156.5 681.8 156.9 680.8 157.9 680.5 159.2 684.1 159.2 685.3 157.9 686.6 157.9 688.2 156.7 688.5 154.9 685.5 157.3 685.2 156.5 686.3 154.7 688.7 153 690 151.1 695.4 141.7 697.6 136.4 698.2 133.3 698 130.5 696.8 128 695.8 127 692.8 125.3 690.8 124.6 685.5 123.9 672.5 124.5 671.7 123.9 670.6 124.6 669.5 124.5 671.4 125.4 681.4 126.9 687.8 129.3 689.3 130.2 691.4 132.5 692 133.7 692.5 136.4 692.1 139.3 690.8 142.4 688.7 145.7 685.8 149 679.3 154 677.2 155.2 670.6 157.9 669.8 159.2ZM682.5 157.9 683.5 156.3 685.4 154.9 683.5 157.9 682.8 158.3ZM671.4 126.2 669.5 125.7 668.9 124.5 666.3 124.5 667.7 125.7Z" fill="#ef0000" stroke="#ef0000" stroke-width=".7"/><path d="M664.3 159.2 669.8 159.2 670.6 157.9 677.2 155.2 679.7 153.8 684 150.6 687.3 147.3 690.8 142.4 692.4 137.8 692 133.7 690.5 131.3 689.3 130.2 686 128.4 681.4 126.9 671.4 125.4 669.5 124.5 668.9 124.5 669.5 125.7 671.4 126.2 667.7 125.7 666.3 124.5 665.7 124.5 666.7 125.7 677.6 129.5 682.8 132.6 685.8 136.1 686.5 140 685.8 142.7 684.2 145.5 680 149.8 676.1 152.7 671.1 155.4 664.3 157.9 663.5 159.2Z" fill="#df0000" stroke="#df0000" stroke-width=".7"/><path d="M658.1 159.2 663.5 159.2 664.3 157.9 671.1 155.4 676.1 152.7 681.6 148.4 685.1 144.1 686.5 140 685.8 136.1 684.1 133.7 679.6 130.5 675.3 128.6 666.7 125.7 665.7 124.5 659 124.5 659 125.7 661.4 127 668.1 129.3 672.5 131.6 675.9 133.9 679.1 137.5 680.1 141.2 678.9 145 675.6 149 672.1 151.6 667.6 154.1 658 157.9 657.2 159.2Z" fill="#cf0000" stroke="#cf0000" stroke-width=".7"/><path d="M651.9 159.2 657.2 159.2 658 157.9 665 155.4 670 152.9 674 150.3 676.9 147.7 678.9 145 680 142.5 680 139.9 679.1 137.5 675.9 133.9 672.5 131.6 668.1 129.3 661.4 127 659 125.7 659 124.5 651.5 124.5 651.5 125.7 653.9 127 660.7 129.4 665.3 131.9 668.8 134.3 672.3 138 673.4 140.5 673.4 142.9 671.6 146.7 667.6 150.4 663.7 153 658.7 155.4 651.6 157.9 650.8 159.2Z" fill="#bf0000" stroke="#bf0000" stroke-width=".7"/><path d="M644.5 159.2 650.8 159.2 651.6 157.9 658.7 155.4 663.7 153 667.6 150.4 670.5 147.9 672.5 145.4 673.4 142.9 673.4 140.5 672.3 138 668.8 134.3 665.3 131.9 660.7 129.4 653.9 127 651.5 125.7 651.5 124.5 644.5 124.5 644.5 125.7 646.8 127 653.7 129.5 658.3 131.9 662 134.4 664.6 136.9 666.2 139.4 666.7 143.1 665 146.8 661 150.5 652.2 155.4 645.1 157.9Z" fill="#af0000" stroke="#af0000" stroke-width=".7"/><path d="M638.3 159.2 644.3 159.2 645.1 157.9 652.2 155.4 657.1 153 661 150.5 663.9 148 665.9 145.6 666.7 143.1 666.2 139.4 664.6 136.9 662 134.4 658.3 131.9 653.7 129.5 646.8 127 644.5 125.7 644.5 124.5 637.6 124.5 637.6 125.7 640 127 646.9 129.5 651.6 131.9 655.2 134.4 657.8 136.9 659.5 139.4 660 143.1 658.3 146.8 654.4 150.5 645.5 155.4 638.4 157.9 637.6 159.2Z" fill="#9f0000" stroke="#9f0000" stroke-width=".7"/><path d="M632.1 159.2 637.6 159.2 638.4 157.9 645.5 155.4 650.5 153 654.4 150.5 657.3 148 659.2 145.6 660 143.1 659.5 139.4 657.8 136.9 655.2 134.4 651.6 131.9 646.9 129.5 640 127 637.6 125.7 637.6 124.5 630.9 124.5 630.9 125.7 633.2 127 640.2 129.4 644.8 131.9 648.5 134.4 651.1 136.9 652.8 139.4 653.3 143.1 651.6 146.8 647.7 150.5 638.9 155.4 631.7 157.9 630.9 159.2Z" fill="#8f0000" stroke="#8f0000" stroke-width=".7"/><path d="M588.8 159.2 630.9 159.2 631.7 157.9 641.4 154.2 645.9 151.7 649.3 149.3 652.5 145.6 653.3 143.1 653.2 140.6 651.1 136.9 646.8 133.2 640.2 129.4 633.2 127 630.9 125.7 630.9 124.5 588.8 124.5 587.6 125.7 588 127 597 130.7 603.3 134.4 607.2 138.1 608.3 140.6 608.4 141.8 607.9 144.3 607.2 145.5 603.3 149.3 597 153 588 156.7 587.6 159.2Z" fill="#800000" stroke="#800000" stroke-width=".7"/></g>
<clipPath id="c3"><path d="M87.7 582.1 88.8 582.1 90 582.1 91.1 582.1 92.3 582.1 93.4 582.1 94.5 582.1 95.6 582.1 96.7 582.1 97.8 582.1 98.9 582.1 99.9 582.1 101 582.1 102 582.1 103.1 582.1 104.1 582.1 105.2 582.1 106.2 582.1 107.2 582.1 108.3 582.1 109.3 582.1 110.3 582.1 111.4 582.1 112.4 582.1 113.4 582.1 114.5 582.1 115.5 582.1 116.6 582.1 117.6 582.1 118.7 582.1 119.7 582.1 120.8 582.1 121.9 582.1 123 582.1 124.1 582.1 125.2 582.1 126.3 582.1 127.5 582.1 128.6 582.1 129.8 582.1 130.9 582.1 132.1 582.1 133.2 582.1 134.4 582.1 135.5 582.2 136.6 582.2 137.8 582.3 138.9 582.4 140 582.4 141.1 582.4 142.2 582.3 143.3 582.2 144.3 582 145.4 581.8 146.4 581.6 147.4 581.3 148.3 581 149.3 580.6 150.2 580.2 151.1 579.7 152 579.3 152.9 578.7 153.7 578.2 154.6 577.6 155.4 577 156.2 576.3 157 575.7 157.8 575 158.6 574.3 159.4 573.6 160.2 572.8 160.9 572.1 161.7 571.3 162.4 570.5 163.2 569.7 163.9 569 164.7 568.2 165.5 567.4 166.2 566.6 167 565.8 167.7 565 168.5 564.2 169.3 563.4 170.1 562.6 170.8 561.9 171.6 561.1 172.5 560.4 173.3 559.7 174.1 559 174.9 558.3 175.8 557.6 176.7 556.9 177.5 556.3 178.4 555.7 179.3 555.1 180.2 554.5 181.1 553.9 182 553.3 182.9 552.8 183.9 552.2 184.8 551.7 185.8 551.2 186.7 550.7 187.7 550.2 188.6 549.7 189.6 549.3 190.6 548.8 191.6 548.4 192.5 548 193.5 547.6 194.5 547.2 195.5 546.8 196.5 546.4 197.6 546 198.6 545.7 199.6 545.4 200.6 545 201.6 544.7 202.7 544.4 203.7 544.1 204.7 543.8 205.8 543.6 206.8 543.3 207.8 543.1 208.9 542.8 209.9 542.6 211 542.4 212 542.2 213.1 542 214.1 541.8 215.2 541.6 216.2 541.4 217.3 541.3 218.4 541.1 219.4 541 220.5 540.8 221.5 540.7 222.6 540.6 223.7 540.5 224.7 540.4 225.8 540.3 226.9 540.2 228 540.1 229 540.1 230.1 540 231.2 539.9 232.3 539.9 233.4 539.8 234.4 539.8 235.5 539.8 236.6 539.8 237.7 539.7 238.8 539.7 239.9 539.7 240.9 539.7 242 539.8 243.1 539.8 244.2 539.8 245.3 539.8 246.4 539.8 247.5 539.9 248.6 539.9 249.6 540 250.7 540 251.8 540.1 252.9 540.1 254 540.2 255.1 540.3 256.2 540.4 257.3 540.4 258.4 540.5 259.4 540.6 260.5 540.7 261.6 540.8 262.7 540.9 263.8 541.1 264.8 541.3 265.9 541.5 266.9 541.7 267.9 542 269 542.3 270 542.7 270.9 543.1 271.9 543.6 272.9 544.1 273.7 544.7 274.4 545.5 274.5 546.5 274.1 547.6 273.5 548.5 272.7 549.3 271.9 550 271 550.6 270 551.1 269 551.6 268.1 552.1 267.1 552.6 266.2 553.1 265.2 553.6 264.2 554.1 263.3 554.5 262.3 554.9 261.3 555.4 260.3 555.8 259.3 556.2 258.3 556.6 257.3 557 256.3 557.3 255.3 557.7 254.2 558.1 253.2 558.5 252.2 558.8 251.2 559.2 250.2 559.6 249.2 560 248.2 560.4 247.2 560.7 246.1 561.1 245.1 561.6 244.1 562 243.1 562.4 242.1 562.8 241.1 563.2 240.1 563.6 239.1 564 238.1 564.5 237.1 564.9 236.1 565.3 235.1 565.8 234.1 566.2 233.1 566.6 232.2 567.1 231.2 567.5 230.2 568 229.2 568.4 228.2 568.9 227.2 569.3 226.2 569.8 225.3 570.2 224.3 570.7 223.3 571.1 222.3 571.6 221.4 572 220.4 572.5 219.4 573 218.4 573.4 217.5 573.9 216.5 574.3 215.6 574.8 214.6 575.2 213.6 575.7 212.7 576.1 211.7 576.6 210.8 577.1 209.8 577.5 208.9 578 207.9 578.5 207 579 206.1 579.5 205.1 580 204.2 580.5 203.3 581.1 202.3 581.6 201.4 582.1 200.5 582.7 199.6 583.3 198.7 583.9 197.8 584.5 196.9 585.1 196 585.7 195.1 586.4 194.2 587 193.4 587.7 192.5 588.4 191.6 589.2 190.8 589.9 189.9 590.7 189.1 591.4 188.2 592.2 187.4 593.1 186.6 593.9 185.8 594.7 185.1 595.6 184.4 596.5 183.7 597.4 183 598.3 182.4 599.2 181.9 600.1 181.4 601 180.9 601.9 180.5 602.9 180.2 603.8 179.9 604.7 179.7 605.6 179.6 606.6 179.5 607.5 179.6 608.4 179.7 609.3 179.9 610.2 180.2 611.1 180.6 612 181.1 612.8 181.6 613.7 182.3 614.5 183 615.4 183.8 616.2 184.6 616.9 185.5 617.7 186.4 618.5 187.3 619.2 188.3 619.9 189.3 620.6 190.3 621.2 191.3 621.8 192.3 622.5 193.4 623 194.4 623.6 195.4 624.2 196.3 624.7 197.3 625.3 198.3 625.9 199.2 626.4 200.1 627 201 627.6 201.8 628.2 202.6 628.9 203.4 629.6 204.1 630.3 204.8 631 205.4 631.8 206 632.6 206.6 633.4 207.1 634.3 207.6 635.2 208.1 636.1 208.5 637.1 208.9 638 209.2 639 209.6 640 209.9 641.1 210.1 642.1 210.4 643.1 210.6 644.2 210.8 645.3 211 646.4 211.2 647.5 211.3 648.6 211.5 649.7 211.6 650.8 211.7 651.9 211.7 653 211.8 654.1 211.8 655.2 211.8 656.3 211.8 657.4 211.8 658.5 211.7 659.6 211.7 660.7 211.7 661.8 211.6 662.9 211.6 663.9 211.6 665 211.6 666.1 211.6 667.2 211.6 668.2 211.6 669.3 211.6 670.4 211.6 671.4 211.6 672.5 211.6 673.6 211.6 674.6 211.6 675.7 211.6 676.7 211.6 677.8 211.6 678.9 211.6 679.9 211.6 681 211.6 682 211.6 683.1 211.6 684.2 211.6 685.2 211.6 686.3 211.6 687.4 211.6 688.4 211.6 689.5 211.6 690.6 211.6 691.6 211.6 692.7 211.6 693.8 211.6 694.9 211.6 695.9 211.6 697 211.6 698.1 211.6 699.2 211.6 700.3 211.6 701.4 211.6 702.5 211.6 703.6 211.6 704.7 211.6 705.8 242.6 705.8 242.6 704.6 242.6 703.5 242.6 702.3 242.6 701.1 242.6 699.9 242.6 698.7 242.6 697.6 242.6 696.4 242.6 695.2 242.6 694 242.6 692.8 242.6 691.6 242.6 690.4 242.6 689.2 242.6 688 242.6 686.8 242.6 685.6 242.6 684.4 242.6 683.1 242.6 681.9 242.6 680.7 242.6 679.5 242.6 678.3 242.6 677.1 242.6 675.9 242.6 674.7 242.6 673.4 242.6 672.2 242.6 671 242.6 669.8 242.7 668.6 242.7 667.4 242.7 666.2 242.7 665 242.7 663.8 242.7 662.6 242.7 661.4 242.6 660.2 242.6 659 242.5 657.8 242.4 656.6 242.3 655.4 242.2 654.2 242.1 653 241.9 651.9 241.7 650.7 241.5 649.5 241.3 648.3 241.1 647.2 240.8 646 240.6 644.9 240.3 643.7 239.9 642.6 239.6 641.4 239.2 640.3 238.9 639.2 238.5 638 238.1 636.9 237.7 635.8 237.3 634.6 236.9 633.5 236.5 632.4 236 631.2 235.6 630.1 235.2 629 234.9 627.8 234.5 626.7 234.1 625.5 233.8 624.4 233.5 623.2 233.2 622 232.9 620.8 232.6 619.6 232.4 618.4 232.2 617.2 232.1 616 232 614.8 231.9 613.7 231.8 612.5 231.8 611.3 231.9 610.1 232 609 232.2 607.8 232.4 606.7 232.6 605.6 232.9 604.6 233.3 603.5 233.8 602.5 234.3 601.6 234.9 600.7 235.5 599.8 236.2 598.9 237 598.1 237.9 597.3 238.8 596.6 239.7 595.8 240.7 595.2 241.7 594.5 242.8 593.9 243.9 593.3 245 592.7 246.2 592.2 247.4 591.6 248.5 591.1 249.7 590.6 250.9 590.2 252.1 589.7 253.3 589.3 254.5 588.8 255.7 588.4 256.9 588 258.1 587.6 259.2 587.2 260.3 586.8 261.5 586.5 262.6 586.1 263.7 585.7 264.9 585.4 266 585.1 267.1 584.7 268.2 584.4 269.3 584.1 270.4 583.8 271.5 583.5 272.6 583.2 273.7 583 274.9 582.7 276 582.4 277.1 582.2 278.2 581.9 279.4 581.7 280.5 581.4 281.7 581.2 282.9 580.9 284 580.7 285.2 580.5 286.4 580.3 287.6 580.1 288.9 579.8 290.1 579.6 291.3 579.4 292.6 579.2 293.8 579 295 578.7 296.3 578.5 297.5 578.2 298.7 577.9 300 577.6 301.2 577.3 302.4 577 303.5 576.6 304.7 576.3 305.9 575.9 307 575.4 308.1 575 309.2 574.5 310.2 573.9 311.3 573.4 312.2 572.8 313.2 572.1 314.1 571.5 315 570.7 315.9 570 316.7 569.2 317.5 568.3 318.2 567.4 318.9 566.5 319.5 565.5 320 564.5 320.5 563.5 320.9 562.4 321.3 561.3 321.5 560.2 321.7 559.1 321.9 557.9 321.9 556.7 321.9 555.6 321.8 554.4 321.7 553.2 321.5 552 321.3 550.8 321 549.7 320.6 548.5 320.2 547.4 319.8 546.3 319.3 545.2 318.7 544.1 318.2 543.1 317.6 542 316.9 541 316.2 540 315.5 539 314.8 538 314 537 313.2 536.1 312.4 535.1 311.5 534.2 310.6 533.3 309.8 532.5 308.9 531.6 307.9 530.8 307 530 306.1 529.2 305.1 528.4 304.2 527.6 303.2 526.9 302.2 526.2 301.2 525.5 300.3 524.8 299.3 524.1 298.3 523.4 297.2 522.8 296.2 522.2 295.2 521.6 294.2 521 293.1 520.5 292.1 519.9 291 519.4 289.9 518.9 288.9 518.4 287.8 517.9 286.7 517.4 285.6 517 284.5 516.5 283.4 516.1 282.3 515.7 281.2 515.3 280.1 514.9 279 514.6 277.9 514.2 276.7 513.9 275.6 513.5 274.5 513.2 273.3 512.9 272.2 512.6 271 512.4 269.9 512.1 268.7 511.8 267.5 511.6 266.4 511.4 265.2 511.2 264 511 262.8 510.8 261.7 510.6 260.5 510.4 259.3 510.2 258.1 510.1 256.9 509.9 255.7 509.8 254.5 509.7 253.3 509.5 252.1 509.4 250.9 509.3 249.7 509.2 248.5 509.1 247.3 509.1 246.1 509 244.9 508.9 243.7 508.9 242.5 508.8 241.3 508.8 240 508.7 238.8 508.7 237.6 508.7 236.4 508.7 235.2 508.7 234 508.7 232.8 508.7 231.6 508.7 230.4 508.7 229.1 508.7 227.9 508.8 226.7 508.8 225.5 508.9 224.3 508.9 223.1 509 221.9 509.1 220.7 509.2 219.5 509.3 218.3 509.4 217.1 509.5 215.9 509.6 214.7 509.7 213.5 509.9 212.3 510 211.1 510.2 209.9 510.4 208.7 510.5 207.5 510.7 206.4 510.9 205.2 511.1 204 511.3 202.8 511.6 201.7 511.8 200.5 512.1 199.3 512.3 198.2 512.6 197 512.9 195.9 513.2 194.7 513.5 193.6 513.8 192.4 514.1 191.3 514.4 190.2 514.8 189 515.1 187.9 515.5 186.8 515.9 185.7 516.3 184.5 516.7 183.4 517.1 182.3 517.5 181.2 518 180.1 518.4 179.1 518.9 178 519.4 176.9 519.9 175.8 520.4 174.8 520.9 173.7 521.4 172.6 522 171.6 522.5 170.6 523.1 169.5 523.7 168.5 524.3 167.5 524.9 166.5 525.5 165.5 526.1 164.5 526.8 163.5 527.4 162.5 528.1 161.5 528.8 160.5 529.5 159.6 530.2 158.6 531 157.7 531.7 156.8 532.5 155.8 533.3 154.9 534.1 154 534.9 153.1 535.7 152.2 536.6 151.3 537.4 150.4 538.2 149.6 539.1 148.7 540 147.8 540.8 146.9 541.6 146 542.5 145.1 543.3 144.2 544.1 143.3 544.8 142.4 545.6 141.5 546.3 140.5 546.9 139.6 547.6 138.6 548.2 137.6 548.7 136.6 549.2 135.5 549.7 134.5 550.1 133.4 550.5 132.3 550.7 131.1 551 130 551.2 128.8 551.3 127.6 551.4 126.4 551.4 125.2 551.4 123.9 551.3 122.7 551.2 121.5 551.2 120.2 551.1 119 551.1 117.7 551.1 116.5 551.1 115.2 551.1 114 551.1 112.7 551.1 111.5 551.1 110.3 551.1 109.1 551.1 107.9 551.1 106.7 551.1 105.5 551.1 104.3 551.1 103.2 551.1 102 551.1 100.8 551.1 99.6 551.1 98.5 551.1 97.3 551.1 96.1 551.1 94.9 551.1 93.8 551.1 92.6 551.1 91.4 551.1 90.2 551.1 89 551.1 87.7 551.1Z"/></clipPath><g clip-path="url(#c3)"><path d="M212.2 744.8 243.2 744.8 244.4 743.6 244.4 696.5 242 696.3 240.7 695.2 235.8 695.2 214.7 695.2 212.2 696.4 209.7 696.4 209.7 742.3 211 743.6 211 744.8Z" fill="#00008f" stroke="#00008f" stroke-width=".7"/><path d="M211 696.4 212.2 696.4 214.7 695.2 235.8 695.2 240.7 695.2 242 696.3 244.4 696.5 244.4 689.9 242 689.6 240.7 688.4 239.5 688.4 214.7 688.7 212.2 689.8 209.7 689.8 209.7 696.4ZM243.2 682.1 244.4 682.1 244.4 680.2 242.7 681.7Z" fill="#00009f" stroke="#00009f" stroke-width=".7"/><path d="M211 689.8 212.2 689.8 214.7 688.7 238.2 688.4 240.7 688.4 242 689.6 244.4 689.9 244.4 682.1 243.2 682.1 242.7 681.7 244.4 680.2 244.4 679.6 243.2 680.7 235.8 681.8 214.7 682.2 212.2 683.3 209.7 683.3 209.7 689.8Z" fill="#0000af" stroke="#0000af" stroke-width=".7"/><path d="M211 683.3 212.2 683.3 214.7 682.2 233.3 682 243.2 680.7 244.4 679.6 244.4 677.1 242 677.1 239.5 676.3 234.5 676 214.7 675.6 212.2 676.7 209.7 676.7 209.7 683.3Z" fill="#0000bf" stroke="#0000bf" stroke-width=".7"/><path d="M242 677.1 244.4 677.1 244.4 675 243.2 674 241 673 240.7 671.8 239.5 670.9 237 670.2 230.8 669.6 214.7 669.1 212.2 670.1 209.7 670.1 209.7 676.7 212.2 676.7 214.7 675.6 235.8 676.1 239.5 676.3Z" fill="#0000cf" stroke="#0000cf" stroke-width=".7"/><path d="M244.4 675 244.4 674.4 242.8 673 244.4 672.7 244.4 664.5 242 664.1 240.7 662.6 225.8 663 214.7 662.5 212.2 663.3 209.7 663.3 209.7 670.1 212.2 670.1 214.7 669.1 235.8 670 239.5 670.9 240.7 671.8 241 673 243.2 674ZM243.2 660.3 244.4 660.3 244.4 657.8 242 659.4Z" fill="#0000df" stroke="#0000df" stroke-width=".7"/><path d="M244.4 674.4 244.4 672.7 242.8 673ZM243.2 664.5 244.4 664.5 244.4 660.3 243.2 660.3 242 659.4 244.4 657.8 244.4 657.1 243.2 657.7 242 657.7 239.5 655.9 238.2 655.8 223.4 656.8 214.7 656.2 209.7 656.3 209.7 663.3 212.2 663.3 214.7 662.5 225.8 663 240.7 662.6 242 664.1ZM243.2 653 244.2 653 243.2 651.6 242.6 652Z" fill="#0000ef" stroke="#0000ef" stroke-width=".7"/><path d="M242 657.7 243.2 657.7 244.4 657.1 244.4 653.2 243.2 653 242.6 652 243.2 651.6 243.2 647.5 242 647.5 240.7 648.6 238.2 648.4 227.1 650.7 211 651.9 209.7 652.9 209.7 656.3 214.7 656.2 223.4 656.8 238.2 655.8 239.5 655.9ZM240.7 646.3 243.2 646.3 243.2 645.8 242 644.6 242 643.7 241.6 644.6 240.2 645.8Z" fill="#0000ff" stroke="#0000ff" stroke-width=".7"/><path d="M210.8 652 214.7 651.5 224.6 651 230.8 650.1 238.2 648.4 240.7 648.6 242 647.5 243.2 647.5 243.2 646.3 240.7 646.3 240.2 645.8 241.6 644.6 242 642.1 240.7 640.8 240.7 638.4 239.8 637.5 240.3 638.4 238.7 639.6 239.6 640.8 239.5 641.3 237 641.3 230.8 643.9 223.4 645.8 217.2 646.6 211 646.8 209.7 647.9 209.7 650 211 650 211.9 650.7 209.7 652.4 209.7 652.9Z" fill="#0010ff" stroke="#0010ff" stroke-width=".7"/><path d="M210.2 652 211.9 650.7 211 650 209.7 650 209.7 652.4ZM210.8 647 218.4 646.5 224.6 645.5 232 643.5 237 641.3 239.5 641.3 239.6 640.8 238.7 639.6 240.3 638.4 239.5 637.1 239.5 634.7 238.2 633 238.1 633.4 238.8 634.7 238.2 635.2 229.6 638.6 222.1 640.9 211 643.1 209.7 644.2 208.5 644.2 208.5 645.2 211 645.2 211.6 645.8 209.7 647.4 209.7 647.9Z" fill="#0020ff" stroke="#0020ff" stroke-width=".7"/><path d="M210.1 647 211.6 645.8 211 645.2 208.5 645.2 208.5 645.8 209.7 647.4ZM209.7 644.2 211 643.1 218.4 641.8 225.8 639.9 238.2 635.2 238.8 634.7 238.1 633.4 238.2 630.9 237 629.7 237 628.3 235.8 628.3 236.3 629.7 235.8 630.3 229.6 633.2 217.2 637.7 211 639.6 209.9 639.6 210.5 640.8 209.7 641.5 208.5 641.5 208.5 643.1 209.9 643.3 208.5 643.4 208.5 644.2Z" fill="#0030ff" stroke="#0030ff" stroke-width=".7"/><path d="M209.7 643.4 209.7 643.1 208.5 643.1 208.5 643.4ZM209.7 641.5 210.5 640.8 209.9 639.6 211 639.6 222.4 635.9 229.6 633.2 235.8 630.3 236.3 629.7 235.8 628.3 237 628.3 237 627.2 235.8 626 235.8 624.5 234.2 624.8 235 626 233.3 627 223.4 630.3 209.7 636.5 208.7 638.4 207.4 639.6 208.5 640.8 208.5 641.5Z" fill="#0040ff" stroke="#0040ff" stroke-width=".7"/><path d="M207.4 639.6 208.7 638.4 209.7 636.5 223.4 630.3 234.5 626.4 235 626 234.2 624.8 235.8 624.5 235.8 623.5 234.5 622.3 234.5 621.7 233.7 622.3 233.3 623.4 230.8 623.2 225.8 624 220.9 625.8 217.2 627.7 209.7 633.3 207.3 636.1 206.3 636.1 207.3 637.1ZM233.3 620 234.5 620 234.5 618.5 233.1 619.8Z" fill="#0050ff" stroke="#0050ff" stroke-width=".7"/><path d="M207.3 636.1 208.5 634.4 212.2 631.2 215.9 628.4 219.7 626.3 227.1 623.7 230.8 623.2 233.3 623.4 233.7 622.3 234.5 621.7 234.5 620 233.1 619.8 234.5 618.5 234.5 617.5 233.3 618.8 232 619 229.6 617.6 223.4 618.5 219.7 619.7 215.9 621.5 213.5 623.3 211 625.9 207.1 632.2 204.8 634.3 206.3 636.1ZM232 617 234.5 617 234.5 616.1 233.3 614.9 233.3 614.3 231 616.1Z" fill="#0060ff" stroke="#0060ff" stroke-width=".7"/><path d="M207.3 634.7 207.3 634.7 207.3 634.4 207 634.7ZM205.7 633.4 207.1 632.2 209.7 627.5 212.2 624.5 217.2 620.8 222.1 618.8 227.1 617.9 229.6 617.6 232 619 233.3 618.8 234.5 617.5 234.5 617 232 617 231 616.1 233.3 614.3 233.3 612.1 232 612.1 229.6 611 219.7 611.5 214.7 612.6 210.3 614.9 207.3 618.3 205.6 622.3 204.5 628.5 205 630.9 204.8 631.7 203.8 632.4 204.8 633.4 204.8 634.3Z" fill="#0070ff" stroke="#0070ff" stroke-width=".7"/><path d="M204.3 632.2 205 630.9 204.5 628.5 204.6 627.2 206 621 207.3 618.3 209.7 615.3 213.5 613.1 219.7 611.5 229.6 611 232 612.1 233.3 612.1 233.3 609 232.7 608.7 233.3 607.9 234.1 607.9 234.5 607 233.3 605.5 230.8 604 225.8 603.6 219.7 602 214.6 600 210.6 597.5 208.2 595.1 206.7 592.6 205.4 587.6 205.4 582.7 204.6 581.4 202.9 580.2 203.1 579.4 202.3 580.2 201.1 580.2 199.8 581.4 198.6 581.4 196.1 583.9 194.9 583.9 189.9 588.9 188.7 588.9 183.7 593.8 183.7 595.1 181.2 597.5 181.2 598.8 180 600 180 601.2 178.8 602.5 178.8 603.7 177.5 605 177.5 609.9 178.8 611.1 178.8 612.4 180 613.6 180 614.9 185.3 620.2 186.2 619.8 187.4 618.4 192.4 620.3 197.4 623.1 199.7 626 199.4 627.2 200.1 628.7 203.8 632.4ZM200.4 627.2 201.1 626.8 201.3 627.2 201.1 627.5ZM198.6 628.5 199.1 628.5 198.2 628ZM197.4 626 197.4 626 197.4 626 197.3 626Z" fill="#0080ff" stroke="#0080ff" stroke-width=".7"/><path d="M200.2 628.5 199.4 627.2 199.7 626 197.4 623.1 194.9 621.6 187.4 618.4 186.2 619.8 185.3 620.2 186.2 621 187.4 621 189.9 623.5 191.2 623.5 192.4 624.8 193.6 624.8 194.9 626 196.1 626 198.2 628 200.1 628.7ZM197.3 626 197.4 626 197.4 626 197.4 626ZM201.1 627.5 201.3 627.2 201.1 626.8 200.4 627.2ZM233.3 609 233.3 608.7 234.1 607.9 233.3 607.9 232.7 608.7ZM234.5 607 234.5 603.7 236.2 602 234.5 600.6 226.1 596.3 222.9 593.8 220.5 591.3 218.7 588.9 216.9 585.2 214.8 576.5 212.2 574 211 575.3 209.7 575.3 208.5 576.5 207.3 576.5 206 577.7 204.8 577.7 203.1 579.4 202.9 580.2 204.6 581.4 205.4 582.7 205.4 587.6 206.7 592.6 208.2 595.1 210.6 597.5 214.6 600 219.7 602 225.8 603.6 230.8 604 233.3 605.5ZM233 603.7 233.3 603.7 233.3 603.7 233.3 603.8ZM237 600 237 600 237 600Z" fill="#008fff" stroke="#008fff" stroke-width=".7"/><path d="M235.8 602 236.2 602 237 601.2 237 600 237.6 599.4 229.7 591.3 226 586.4 223.5 581.4 220.7 572.8 218.9 571.5 217.2 571.5 215.9 572.8 214.7 572.8 213.5 574 212.2 574 214.8 576.5 216.9 585.2 218.7 588.9 220.5 591.3 222.9 593.8 226.1 596.3 234.5 600.6ZM235.7 598.8 235.8 598.7 235.8 598.8 235.8 598.8Z" fill="#009fff" stroke="#009fff" stroke-width=".7"/><path d="M237.6 599.4 238.2 598.8 237 597.4 238.2 597.4 239.6 598.7 241.4 596.8 240.7 596.8 239.1 595.1 232.1 585.2 228.5 577.7 226.1 570.3 223.7 569.1 222.1 570.3 220.9 570.3 219.7 571.5 218.9 571.5 220.7 572.8 223 580.2 225.2 585.2 229.7 591.3ZM227.1 570.1 227.3 569.1 227.1 568.8 226.6 569.1Z" fill="#00afff" stroke="#00afff" stroke-width=".7"/><path d="M238.2 598.8 239.6 598.7 238.2 597.4 237 597.4ZM240.7 596.8 241.4 596.8 243.1 595.1 241.6 593.8 241.2 591.3 235.6 580.2 231.3 570.3 228.3 567.2 227.7 567.2 227.1 567.8 225.8 567.8 224.6 569.1 223.7 569.1 226.1 570.3 228.5 577.7 231.4 583.9 235.3 590.1ZM226.6 569.1 227.3 569.1 227.1 570.1Z" fill="#00bfff" stroke="#00bfff" stroke-width=".7"/><path d="M243 595.2 244.4 595.1 245.7 593.8 246.9 593.8 247.9 592.6 245.8 591.3 236.1 567.8 235.6 566.6 233.7 565.4 233.7 564.1 233.3 564.1 232 565.4 230.8 565.4 229.6 566.6 228.3 566.6 227.7 567.2 228.3 567.2 231.3 570.3 235.6 580.2 241.2 591.3 241.6 593.8Z" fill="#00cfff" stroke="#00cfff" stroke-width=".7"/><path d="M247.9 592.9 248.2 592.6 250.6 592.6 251.9 591.3 252.6 591.3 249.6 588.9 246.1 579 241.1 566.6 240.4 565.4 237.5 562.9 237 562.9 235.8 564.1 233.7 564.1 233.7 565.4 235.6 566.6 236.1 567.8 245.8 591.3Z" fill="#00dfff" stroke="#00dfff" stroke-width=".7"/><path d="M251.9 591 254.3 591.3 255.6 590.1 256.8 590.1 257.7 589.3 256.8 589.7 255.6 587.9 254.8 587.6 253.5 585.2 248.3 570.3 245.1 562.9 245.9 561.6 245.8 560.4 245.4 560.4 244.4 561.9 243.2 562 242.6 561.6 242.6 560.4 242 560.4 240.7 561.6 239.5 561.6 238.2 562.9 237.5 562.9 240.4 565.4 241.1 566.6 246.1 579 249.6 588.9 250.6 589.4Z" fill="#00efff" stroke="#00efff" stroke-width=".7"/><path d="M256.8 589.7 258.1 588.9 260.5 588.9 261.9 587.6 261.9 586.4 261.6 587.6 260.5 588.3 258.5 585.2 255.6 575.2 251 561.6 250.8 559.2 250.2 559.2 248.2 560.6 246.5 559.2 245.7 559.2 244.4 560.4 242.6 560.4 242.6 561.6 243.2 562 244.4 561.9 245.4 560.4 245.8 560.4 245.9 561.6 245.1 562.9 248.3 570.3 254 586.4Z" fill="#00ffff" stroke="#00ffff" stroke-width=".7"/><path d="M260.5 588.3 261.6 587.6 261.8 586.3 261.9 587.6 262.9 587.6 263.1 583.9 260.4 572.8 255.9 559.2 255.8 556.7 255.1 556.7 253.1 558.1 251.9 557.1 250.6 557.9 248.2 557.9 246.5 559.2 247.7 560.4 248.2 560.6 250.2 559.2 250.8 559.2 251 561.6 255.6 575.2 258.5 585.2ZM264.3 587.6 265.5 587.6 266.7 586.4 267.6 586.4 266.7 586.1 265.5 584.7 263.2 586.4 263.2 587.6Z" fill="#10ffef" stroke="#10ffef" stroke-width=".7"/><path d="M263 587.6 263.2 586.4 265.5 584.7 266.7 586.1 267.6 586.4 268.9 586.4 268.9 585.2 267.7 583.9 267.8 581.4 266.6 575.3 263.1 562.9 261.2 557.9 260.4 556.7 258.1 555.5 258.1 554.2 256.8 555.5 255.6 555.5 254.3 556.7 251.9 556.7 251.5 557.1 253.1 558.1 255.1 556.7 255.8 556.7 255.9 559.2 260 571.5 262.6 581.4 263.1 583.9ZM269.8 585.8 270.8 585.2 270.8 583.9 270.5 583.5 269.8 583.9ZM261.8 555.8 261.8 554.1 261.4 555.5Z" fill="#20ffdf" stroke="#20ffdf" stroke-width=".7"/><path d="M269.2 586.4 269.8 585.8 269.8 583.9 270.5 583.5 270.8 583.9 270.8 585.2 273.9 585.2 273.9 583.9 272.6 582.7 272.7 579 271.3 570.3 268.8 561.6 266.3 555.5 265.5 554.7 264.3 554.6 262.4 553 261.8 553 260.5 554.2 258.1 554.2 258.1 555.5 260.4 556.7 262.6 561.6 266.3 574 267.8 581.4 267.7 583.9 268.9 585.2 268.9 586.4ZM261.4 555.5 261.7 554.2 261.8 554.1 261.9 555.5 261.8 555.8ZM274.7 584.7 275.8 583.9 275.8 582.7 275.4 582.2 274.7 582.7Z" fill="#30ffcf" stroke="#30ffcf" stroke-width=".7"/><path d="M274.2 585.2 274.7 584.7 274.7 582.7 275.4 582.2 275.8 582.7 275.8 583.9 278.7 583.9 278.7 582.7 277.6 581.4 278 575.3 277.3 569.1 276 564.1 273 555.5 272.5 553 272.7 550.5 271.5 549.3 271.5 548.2 270.5 549.3 269.1 549.4 268 550.5 266.7 550.5 265.5 551.7 264.3 551.7 263 553 262.4 553 263.6 554.2 265.5 554.7 266.3 555.5 267.9 559.2 271.5 571.5 272.8 580.2 272.6 582.7 273.9 583.9 273.9 585.2ZM270.3 550.5 270.5 550.3 270.6 550.5 270.5 550.7ZM280.4 583.9 281.9 582.7 280.4 581 280 581.4 280 583.9Z" fill="#40ffbf" stroke="#40ffbf" stroke-width=".7"/><path d="M279.1 583.9 280 583.9 280 581.4 280.4 581 281.9 582.7 284.8 582.7 284.8 581.4 283.7 580.2 284.7 572.8 284.4 567.8 282.3 561.6 276.6 552.4 274.5 548 274.7 546.8 272.8 546.7 271.5 548.2 271.5 549.3 272.7 550.5 272.5 553 272.9 555.3 277 567.8 278 575.3 277.6 581.4 278.7 582.7 278.7 583.9ZM286.6 582.7 288 581.4 286.6 579.8 286.2 580.2 286.2 582.7ZM270.5 550.7 270.6 550.5 270.5 550.3 270.3 550.5Z" fill="#50ffaf" stroke="#50ffaf" stroke-width=".7"/><path d="M285.3 582.7 286.2 582.7 286.2 580.2 286.6 579.8 288 581.4 292.6 581.4 291.2 580.2 291 579 292.8 576.5 294.5 571.5 295 567.8 294.3 564.1 293.2 561.6 291.5 559.2 287.5 555.5 277.9 549 275.3 546.8 272.7 546.5 274.7 546.8 274.5 548 275.4 550 280.9 559.2 283.3 564.1 284.4 567.8 284.7 571.5 283.7 580.2 284.8 581.4 284.8 582.7ZM293 581.2 294 580.2 294.4 580.2 294.4 579 294 578.3 293 579Z" fill="#60ff9f" stroke="#60ff9f" stroke-width=".7"/><path d="M291.5 580.5 292.8 581.4 293 579 294 578.3 294.4 579 294.4 580.2 298.9 580.2 300.2 579 303.9 579 305.1 577.7 306.4 577.7 307.6 576.5 308.9 576.5 310.1 575.3 311.3 575.3 312.6 574 313.8 574 321.3 566.6 321.3 565.4 322.5 564.1 322.5 561.6 323.7 560.4 323.7 551.7 322.5 550.5 322.5 548 321.3 546.8 321.3 544.3 320 543.1 320 541.8 317.5 539.4 317.5 538.1 309.1 529.7 307.1 531.9 305.8 536.9 304.1 540.6 301.4 543.6 298.3 545.6 294 546.9 289 547.4 282.8 547.2 275.4 546 272.5 546.4 275.3 546.8 277.9 549 287.5 555.5 290.3 557.9 293.2 561.6 294.7 565.4 294.9 569.1 294.5 571.5 293.3 575.3 291 579ZM306.4 530.6 307.6 529.3 308.7 529.3 307.3 527.9 306.4 527.9 305.6 529.5Z" fill="#70ff8f" stroke="#70ff8f" stroke-width=".7"/><path d="M280.4 546.9 286.6 547.4 291.5 547.2 296.5 546.3 300.2 544.5 302 543.1 304.1 540.6 305.8 536.9 307.1 531.9 309.1 529.7 307.6 529.3 306.4 530.6 305.6 529.5 306.4 527.9 307.3 527.9 305.1 525.7 303.9 525.7 301.4 523.3 300.2 523.3 299.4 522.5 299.6 523.3 298.1 524.5 297.2 528.2 295.8 531.9 293.5 535.6 291.2 538.1 287.9 540.6 284.1 542.5 275.4 545.2 274.2 546 272.3 546.2 275.4 546Z" fill="#80ff80" stroke="#80ff80" stroke-width=".7"/><path d="M272.9 546.1 274.2 546 275.4 545.2 284.1 542.5 287.9 540.6 291.2 538.1 293.5 535.6 295.8 531.9 297.2 528.2 298.1 524.5 299.6 523.3 299.4 522.5 297.7 520.8 296.5 520.8 295.2 519.6 294 519.6 293.1 518.7 293.1 519.6 291.6 520.8 291 524.5 289.7 528.2 286.1 534.4 281.5 539.4 275.4 544.3 274.8 545.6 272.2 546Z" fill="#8fff70" stroke="#8fff70" stroke-width=".7"/><path d="M272.9 545.9 274.8 545.6 275.4 544.3 281.5 539.4 286.1 534.4 289.7 528.2 291 524.5 291.6 520.8 293.1 519.6 293.1 518.7 292.8 518.3 291.5 518.3 290.3 517.1 288.8 516.8 287.8 517.5 286.6 516.7 286.1 517.1 286 520.8 283 529.5 280.3 534.4 275.4 542.1 274.4 545.6 272 545.9Z" fill="#9fff60" stroke="#9fff60" stroke-width=".7"/><path d="M272.9 545.7 274.4 545.6 275.4 542.1 280.3 534.4 283 529.5 286 520.8 286.1 517.1 286.6 516.7 287.8 517.5 288.8 517.1 287.8 515.8 286.6 515.8 285.3 514.6 283.9 514.6 283.9 515.8 281.9 517.1 278.8 527 274.2 539.3 273.7 541.8 273.7 544.3 273 545.6 271.9 545.7Z" fill="#afff50" stroke="#afff50" stroke-width=".7"/><path d="M272.9 545.6 273.7 544.3 273.7 541.8 274.2 539.3 278.8 527 281.9 517.1 283.9 515.8 283.9 514.6 282.8 514.6 281.6 513.4 280.4 513.4 279.1 514.7 279.1 513.4 277.9 512.8 277.3 513.4 271.6 536.9 270.9 541.8 271.9 543.1 271.7 544.2 269.2 542.7 268.2 543.1 268.2 544.3 270.5 544.3 271.9 545.7ZM271.8 544.3 272.9 544.1 273 544.3 272.9 544.4Z" fill="#bfff40" stroke="#bfff40" stroke-width=".7"/><path d="M272.9 544.4 272.9 544.1 271.8 544.3ZM268 544.3 268.2 543.1 269.2 542.7 271.7 544.2 271.9 543.1 270.9 541.8 272.1 534.4 277.3 513.4 277.9 512.8 279.1 513.4 279.1 514.7 280.5 513.4 279.1 512.1 275.8 512.1 275.8 513.4 275.4 513.6 275.1 511.9 274.2 510.9 273.7 510.9 273.7 512.1 272.9 513 272 513.4 268.6 530.7 267.9 540.6 267.4 541.8 265.9 543.1 266.7 543.1ZM264.3 543.1 264.8 543.1 264.8 541.8 264.3 541.5Z" fill="#cfff30" stroke="#cfff30" stroke-width=".7"/><path d="M260.3 541.8 259.3 541.3 258.9 541.8 260.3 542.8ZM264 541.8 264.3 541.5 264.8 541.8 264.8 543.1 265.9 543.1 267.4 541.8 267.9 540.6 268.3 533.2 270 523.3 272 513.4 272.9 513 273.7 512.1 273.7 510.9 270.7 510.9 270.5 512.4 270 512.1 270 510.5 269.2 509.7 267.5 510.9 266.3 514.6 265.2 520.8 263.9 531.9 264.2 540.6 263.4 541.8 263.4 543.1 264 543.1ZM275.4 513.6 275.8 513.4 275.8 512.1 275.1 511.9Z" fill="#dfff20" stroke="#dfff20" stroke-width=".7"/><path d="M260.5 543.1 263.4 543.1 263.4 541.8 264.2 540.6 263.9 531.9 265 522 266.7 513.4 267.5 510.9 268.8 509.7 264.6 509.7 264.6 510.9 264.3 511.4 263.3 510.9 263.3 508.8 263 508.4 261.4 508.4 260.3 509.7 260.4 513.4 258.9 527 258.9 538.1 258.8 540.6 258.3 541.8 258.9 541.8 259.3 541.3 260.3 541.8ZM270.5 512.4 270.7 510.9 270 510.5 270 512.1Z" fill="#efff10" stroke="#efff10" stroke-width=".7"/><path d="M249.4 540.6 249.4 541.8 258.3 541.8 258.8 540.6 258.9 538.1 258.9 527 260.4 513.4 260.1 510.9 260.3 509.7 261.4 508.4 260.7 508.4 259.3 510 259.1 508.4 256.3 508.4 255.2 509.7 254.2 512.1 253 520.8 252.2 536.9 251.8 538.1 250.6 538.5 248.6 540.6 248.6 541.8 249.4 541.8ZM264.3 511.4 264.6 510.9 264.6 509.7 263.3 508.8 263.3 510.9Z" fill="#ffff00" stroke="#ffff00" stroke-width=".7"/><path d="M246.9 541.8 248.6 541.8 248.6 540.6 249.4 539.4 250.6 538.5 251.8 538.1 252.2 536.9 253.6 514.6 255.2 509.7 256.3 508.4 255.6 508.4 254.3 507.2 247.8 507.2 247.8 508.4 246.4 513.4 245.7 522 245.4 534.4 245.8 541.8ZM259.3 510 260.7 508.4 259.1 508.4Z" fill="#ffef00" stroke="#ffef00" stroke-width=".7"/><path d="M237 541.8 245.8 541.8 245.4 531.9 245.8 519.6 246.4 513.4 247.8 508.4 247.8 507.2 246.9 507.2 246.9 508.4 246.9 507.2 237.1 507.2 237.6 512.1 237.5 534.4Z" fill="#ffdf00" stroke="#ffdf00" stroke-width=".7"/><path d="M232 541.8 237 541.8 237.5 534.4 237.6 512.1 237.1 507.2 228.8 507.2 228.7 518.3 229.4 533.2 230.1 536.9 231.7 540.6 231.7 541.8ZM222.1 509 223.2 508.4 223.2 507.2 221.8 507.2ZM246.9 508.4 246.9 507.2 246.9 508.4Z" fill="#ffcf00" stroke="#ffcf00" stroke-width=".7"/><path d="M223.4 541 224.1 541.8 231.7 541.8 231.7 540.6 229.7 535.6 229.3 531.9 228.6 517.1 228.8 507.2 223.2 507.2 223.2 508.4 222.1 509 221.8 507.2 220.2 507.2 220.2 509.7 219.5 510.9 219.5 515.8 221.4 535.6 221.8 538.1ZM215.9 510.6 217 509.7 217 507.2 215.9 507.2 214.7 508.4 214.2 508.4Z" fill="#ffbf00" stroke="#ffbf00" stroke-width=".7"/><path d="M214.7 542.2 215.6 543.1 216.5 543.1 216.5 541.8 217.2 540.9 218.8 543.1 222.1 543.1 223.4 541.8 224.1 541.8 222.4 539.4 221.4 535.6 219.4 514.6 219.5 510.9 220.2 509.7 220.2 507.2 217 507.2 217 509.7 215.9 510.6 214.2 508.4 208.8 508.4 210 509.7 214.2 539.4 214.1 540.6ZM206 510.2 207 509.7 207 508.7 205.6 509.7Z" fill="#ffaf00" stroke="#ffaf00" stroke-width=".7"/><path d="M208.5 543.6 209.4 544.3 210.4 544.3 210.4 543.1 211 542.7 211.2 544.3 213.5 544.3 214.7 543.1 215.6 543.1 214.3 541.8 214.1 540.6 214.2 539.4 210 509.7 208.8 508.4 207.3 508.4 207 509.7 206 510.2 205.6 509.7 201.1 509.7 199.8 510.9 198.9 510.9 200.4 512.1 201.7 514.6 207.4 541.8ZM201.8 512.1 201.8 510.9 202.3 510.8 202.3 512.7ZM217.2 543.1 218.8 543.1 217.2 540.9 216.5 541.8 216.5 543.1ZM197.4 512.6 198 512.1 198 510.9 197 510.9 197 512.1Z" fill="#ff9f00" stroke="#ff9f00" stroke-width=".7"/><path d="M202.3 546.8 203.1 546 203.1 544.3 203.5 543.9 204.8 544.2 206.1 545.6 207.3 545.6 208.5 544.3 209.4 544.3 207.9 543.1 207.4 541.8 201.7 514.6 200.4 512.1 198.9 510.9 198 510.9 198 512.1 197.4 512.6 197 512.1 197 510.9 196.1 510.9 194.9 512.1 191.2 512.1 189.9 513.4 188.4 513.4 188.4 514.6 189.9 514 191.2 515.5 192.4 515 193.5 517.1 200.3 540.6 200.6 543.1 200.4 544.3 201.9 545.6 201.9 546.8ZM206 544.3 205.9 543.1 206 542.8ZM211 544.3 211.2 544.3 211 542.7 210.4 543.1 210.4 544.3ZM202.3 512.7 202.3 510.8 201.8 510.9 201.8 512.1Z" fill="#ff8f00" stroke="#ff8f00" stroke-width=".7"/><path d="M194.9 548.3 195.4 548 195.4 546.8 194.9 545.7 194.4 546.8ZM198.6 548 199.8 546.8 201.9 546.8 201.9 545.6 200.4 544.3 200.6 543.1 200.3 540.6 193.5 517.1 192.4 515 191.2 515.5 189.9 514 188.7 514.7 188.4 513.4 187.4 513.4 186.2 514.6 183.7 514.6 182.5 515.8 181.2 515.8 180.8 516.3 181.2 516.1 182.5 517.6 183.7 518.1 185.1 517.1 185.1 518.3 195.2 545.6 198.1 546.8 198.1 548ZM203.1 546 203.5 545.6 206.1 545.6 204.8 544.2 203.5 543.9 203.1 544.3Z" fill="#ff8000" stroke="#ff8000" stroke-width=".7"/><path d="M192.4 550.5 193.6 549.3 194.9 549.3 196.1 548 198.1 548 198.1 546.8 195.2 545.6 185.1 518.3 185.1 517.1 183.7 518.1 182.5 517.6 181.2 516.1 180 517.1 178.8 517.1 177.5 518.3 175 518.3 173.8 519.6 175 520.8 176.8 519.6 177.5 519.3 177.9 519.6 177.8 520.8 178.9 524.5 189.2 548 191.3 549.3 191.3 550.5ZM194.6 548 194.4 546.8 194.9 545.7 195.4 546.8 195.4 548 194.9 548.3Z" fill="#ff7000" stroke="#ff7000" stroke-width=".7"/><path d="M184.9 553 186.2 553 187.4 551.7 188.7 551.7 189.9 550.5 191.3 550.5 191.3 549.3 189.2 548 178.9 524.5 177.8 520.8 177.9 519.6 177.5 519.3 176.8 519.6 175 520.8 173.8 519.6 172.6 519.6 171.3 520.8 170.1 520.8 167.6 523.3 166.4 523.3 165.9 523.7 166.4 523.7 167.6 525.3 168.9 524.1 169.3 524.5 181.2 545.2 183.3 549.3 183.5 551.7Z" fill="#ff6000" stroke="#ff6000" stroke-width=".7"/><path d="M179.9 556.8 180.2 555.5 181.2 555.1 182.5 555.5 184.9 553 183.5 551.7 183.6 550.5 182.5 547.6 169.3 524.5 168.9 524.1 167.6 525.3 166.4 523.7 165.1 524.5 163.9 524.5 160.5 527.9 160.2 529 159.4 529.5 160.2 530.2 160.6 529.5 161.4 529 162.1 529.5 167.6 536.5 173.8 545.1 178.9 553 180.4 554.2ZM158.9 529 159.4 528.2 158.8 528.4Z" fill="#ff5000" stroke="#ff5000" stroke-width=".7"/><path d="M173.8 560.4 175.1 560.4 173.8 559.1ZM176.8 558.6 177.5 557.9 178.8 557.9 179.9 556.8 180.4 554.2 178.9 553 171.3 541.6 162.1 529.5 161.4 529 160.6 529.5 160.2 530.2 159.4 529.5 160.2 529 160.5 527.9 159.4 528.2 158.9 529 158.8 528.4 154.5 532.7 154.7 533.2 167.6 547.5 175.1 556.7 176.6 557.9ZM180.2 556.5 181.2 555.5 181.6 555.5 181.2 555.1 180.2 555.5Z" fill="#ff4000" stroke="#ff4000" stroke-width=".7"/><path d="M173.8 561.5 175 560.4 173.8 560.4 173.8 559.1 175.1 560.4 176.8 558.6 176.6 557.9 175.1 556.7 165.1 544.6 156.5 535.4 156.1 534.4 154.5 532.7 154 533.2 152.7 533.2 146.9 539 148.4 540.6 151.5 541.8 155.2 544.5 170.7 559.2 172.6 560.2Z" fill="#ff3000" stroke="#ff3000" stroke-width=".7"/><path d="M169.8 565.7 173.9 561.5 172.6 560.2 170.7 559.2 155.2 544.5 151.5 541.8 148.4 540.6 146.9 539 144.5 541.4 145.9 543.1 146.6 545.1 158.9 556.7ZM142.8 545.7 144.5 544.3 143.1 542.8 141.5 544.4Z" fill="#ff2000" stroke="#ff2000" stroke-width=".7"/><path d="M165.1 570 169.8 565.7 158.9 556.7 147.8 546.3 146.6 545.1 145.9 543.1 144.5 541.4 143.1 542.8 144.5 544.3 143.3 545.6 142.6 545.6 141.5 544.4 140.4 545.6 139.1 545.6 138.6 546 139.1 546 140.4 547.6 141.8 546.8 141.8 548 152.8 560.4 156.5 563.7 161.4 566.7Z" fill="#ff1000" stroke="#ff1000" stroke-width=".7"/><path d="M155.2 577.8 156.5 578.9 156.5 577.7ZM159.1 576.3 165.3 570.1 161.4 566.7 156.5 563.7 152.8 560.4 141.8 548 141.8 546.8 140.4 547.6 139.1 546 138.6 546 137.9 546.8 136.6 546.8 135.4 548 134.2 548 133.8 548.4 134.2 548.1 135.4 549.5 138.3 550.5 146.6 565.1 150.3 570.2 153.4 572.8 158.9 575.1Z" fill="#ff0000" stroke="#ff0000" stroke-width=".7"/><path d="M135.4 583.9 146.6 583.9 147.8 582.7 149 582.7 150.3 581.4 151.5 581.4 152.7 580.2 154 580.2 155.2 579 156.4 579 155.2 577.6 156.5 577.7 156.5 578.9 159.1 576.3 158.9 575.1 153.4 572.8 150.3 570.2 146.6 565.1 138.3 550.5 135.4 549.5 134.2 548.1 132.9 549.3 132.3 549.3 132.9 550.1 134 550.5 134.1 551.7 138.1 565.4 139.2 572.8 138.4 577.7 137.3 580.2 135.7 581.4 135.3 582.7ZM130.4 551 130.8 549.3 129 549.3Z" fill="#ef0000" stroke="#ef0000" stroke-width=".7"/><path d="M129.2 583.9 135.3 583.9 135.7 581.4 137.3 580.2 138.4 577.7 139.1 574 138.8 569.1 136.8 560.4 134.1 551.7 134 550.5 132.9 550.1 132.3 549.3 130.8 549.3 130.4 551 129 549.3 128.4 549.3 129.5 550.5 130.5 554.2 131.2 567.8 130.9 575.3 130.1 580.2 129 581.4 128.8 582.7 128.8 583.9Z" fill="#df0000" stroke="#df0000" stroke-width=".7"/><path d="M123 583.9 128.8 583.9 129 581.4 130.1 580.2 130.5 577.7 131.2 569.1 130.5 554.2 129.5 550.5 128.4 549.3 125.5 549.3 125.6 554.2 124.8 559.2 124 576.5 123.8 580.2 122.8 581.4 122.6 582.7 122.6 583.9Z" fill="#cf0000" stroke="#cf0000" stroke-width=".7"/><path d="M116.8 583.9 122.6 583.9 122.8 581.4 123.8 580.2 124.8 559.2 125.6 554.2 125.5 549.3 117.5 549.3 117.5 551.7 118.6 554.2 117.5 580.2 116.6 581.4 116.4 582.7 116.4 583.9Z" fill="#bf0000" stroke="#bf0000" stroke-width=".7"/><path d="M110.6 583.9 116.4 583.9 116.6 581.4 117.5 580.2 118.6 554.2 117.5 551.7 117.5 549.3 110.4 549.3 110.4 551.7 111.6 554.2 111.2 580.2 110.2 581.4 110 582.7 110 583.9Z" fill="#af0000" stroke="#af0000" stroke-width=".7"/><path d="M104.4 583.9 110 583.9 110.2 581.4 111.2 580.2 111.6 554.2 110.4 551.7 110.4 549.3 103.6 549.3 103.6 551.7 104.9 554.2 104.7 580.2 103.7 581.4 103.5 582.7 103.5 583.9Z" fill="#9f0000" stroke="#9f0000" stroke-width=".7"/><path d="M97 583.9 103.5 583.9 103.7 581.4 104.7 580.2 104.9 554.2 103.6 551.7 103.6 549.3 97 549.3 97 551.7 98.2 554.2 98.2 555.5 98.2 580.2 97.2 581.4Z" fill="#8f0000" stroke="#8f0000" stroke-width=".7"/><path d="M51.1 583.9 96.9 583.9 97.2 581.4 98.2 580.2 98.2 557.9 98.2 554.2 97 551.7 97 549.3 51.1 549.3 48.7 551.7 48.7 581.4 49.9 582.7 49.9 583.9Z" fill="#800000" stroke="#800000" stroke-width=".7"/></g><path d="M87.7 582.1L98.2 582.1M87.7 582.1L87.7 571.7M87.7 582.1L96.9 573.3M98.2 582.1L108.6 582.1M98.2 582.1L96.9 573.3M98.2 582.1L104.4 576.3M108.6 582.1L119.1 582.1M108.6 582.1L113.2 573.9M108.6 582.1L104.4 576.3M119.1 582.1L129.5 582.1M119.1 582.1L123.2 575.5M119.1 582.1L113.2 573.9M129.5 582.1L139.4 582.4M129.5 582.1L123.2 575.5M129.5 582.1L132.7 573M139.4 582.4L147.5 581.3M139.4 582.4L132.7 573M139.4 582.4L141.7 575.4M147.5 581.3L154.7 577.5M147.5 581.3L141.7 575.4M147.5 581.3L148.1 572.2M154.7 577.5L160.8 572.2M154.7 577.5L155.1 568.4M154.7 577.5L148.1 572.2M160.8 572.2L166.5 566.2M160.8 572.2L155.1 568.4M160.8 572.2L160.9 565.3M166.5 566.2L172.3 560.5M166.5 566.2L164.7 559.4M166.5 566.2L160.9 565.3M172.3 560.5L178.7 555.5M172.3 560.5L170.5 553.6M172.3 560.5L164.7 559.4M178.7 555.5L185.7 551.2M178.7 555.5L170.5 553.6M178.7 555.5L176.6 549.9M185.7 551.2L193.1 547.7M185.7 551.2L186.7 541.1M185.7 551.2L178.1 543.2M185.7 551.2L176.6 549.9M193.1 547.7L200.8 545M193.1 547.7L194.9 539.3M193.1 547.7L186.7 541.1M200.8 545L208.7 542.9M200.8 545L194.9 539.3M200.8 545L201.7 538.2M208.7 542.9L216.8 541.3M208.7 542.9L206.4 532.6M208.7 542.9L201.7 538.2M208.7 542.9L213 536.2M216.8 541.3L224.9 540.4M216.8 541.3L219.2 534.9M216.8 541.3L213 536.2M224.9 540.4L233.1 539.9M224.9 540.4L219.2 534.9M224.9 540.4L226.2 533.3M233.1 539.9L241.1 539.7M233.1 539.9L226.2 533.3M233.1 539.9L238.2 534.4M233.1 539.9L233.1 530.6M241.1 539.7L247.3 539.9M241.1 539.7L238.2 534.4M241.1 539.7L246.1 535.8M241.1 539.7L242.9 533.6M247.3 539.9L251.7 540.1M247.3 539.9L250.6 536M247.3 539.9L246.1 535.8M251.7 540.1L255.6 540.3M251.7 540.1L254.3 537.3M251.7 540.1L250.6 536M255.6 540.3L259.6 540.6M255.6 540.3L254.3 537.3M255.6 540.3L258.1 537.1M259.6 540.6L263.5 541M259.6 540.6L263.3 537.4M259.6 540.6L258.1 537.1M263.5 541L267.4 541.8M263.5 541L263.3 537.4M267.4 541.8L271.1 543.2M267.4 541.8L269.3 535.4M267.4 541.8L272.9 539.1M267.4 541.8L263.3 537.4M271.1 543.2L274.1 545M271.1 543.2L272.9 539.1M271.1 543.2L275.7 542.1M274.1 545L274 547.7M274.1 545L278.4 545.4M274.1 545L275.7 542.1M274.1 545L276 547.6M274 547.7L271.5 550.2M274 547.7L276 547.6M274 547.7L275 550.4M271.5 550.2L268 552.2M271.5 550.2L272.4 553.3M271.5 550.2L275 550.4M268 552.2L264.5 554M268 552.2L268.8 555.9M268 552.2L272.4 553.3M264.5 554L260.8 555.6M264.5 554L268.8 555.9M264.5 554L264.6 558.1M260.8 555.6L257.2 557M260.8 555.6L260.1 560.2M260.8 555.6L264.6 558.1M257.2 557L253.4 558.4M257.2 557L255.1 561.9M257.2 557L260.1 560.2M253.4 558.4L249.7 559.8M253.4 558.4L255.1 561.9M253.4 558.4L252.1 561.1M249.7 559.8L244.8 561.7M249.7 559.8L250.1 564M249.7 559.8L252.1 561.1M244.8 561.7L238 564.5M244.8 561.7L245.2 566.4M244.8 561.7L250.1 564M238 564.5L230.5 567.8M238 564.5L237.3 572.2M238 564.5L245.2 566.4M238 564.5L243.4 571.5M230.5 567.8L223.1 571.2M230.5 567.8L233.4 577.6M230.5 567.8L237.3 572.2M230.5 567.8L226.2 577.6M223.1 571.2L215.7 574.7M223.1 571.2L219.6 578.6M223.1 571.2L226.2 577.6M215.7 574.7L208.3 578.3M215.7 574.7L212 583.3M215.7 574.7L219.6 578.6M208.3 578.3L201.2 582.3M208.3 578.3L212 583.3M201.2 582.3L194.4 586.9M201.2 582.3L205.1 591.1M201.2 582.3L212 583.3M201.2 582.3L196.8 591.7M194.4 586.9L187.4 593.1M194.4 586.9L196.8 591.7M187.4 593.1L181.4 600.9M187.4 593.1L192.5 599.4M187.4 593.1L196.8 591.7M181.4 600.9L179.9 610.3M181.4 600.9L192.5 599.4M181.4 600.9L189 606.2M179.9 610.3L185.8 618M179.9 610.3L191.4 613.5M179.9 610.3L189 606.2M185.8 618L194 623.4M185.8 618L191.4 613.5M194 623.4L202.4 628.7M194 623.4L199.3 616.1M194 623.4L191.4 613.5M194 623.4L202.8 621.6M202.4 628.7L208.2 636.5M202.4 628.7L209.6 625.1M202.4 628.7L202.8 621.6M208.2 636.5L210.9 645.7M208.2 636.5L217.2 641.3M208.2 636.5L216.6 635.8M208.2 636.5L209.6 625.1M208.2 636.5L217.2 629.9M210.9 645.7L211.8 654.2M210.9 645.7L217.2 641.3M210.9 645.7L218.9 650.2M211.8 654.2L211.6 662.8M211.8 654.2L218.9 650.2M211.8 654.2L217.5 658.7M211.6 662.8L211.6 671.4M211.6 662.8L217.2 666.4M211.6 662.8L217.5 658.7M211.6 671.4L211.6 680M211.6 671.4L217.2 666.4M211.6 671.4L217.1 673.5M211.6 680L211.6 688.6M211.6 680L217.5 678M211.6 680L219.6 682.6M211.6 680L217.1 673.5M211.6 688.6L211.6 697.2M211.6 688.6L220.6 692.1M211.6 688.6L219.6 682.6M211.6 697.2L211.6 705.8M211.6 697.2L220.6 692.1M211.6 697.2L219.2 700.7M211.6 705.8L219.3 705.8M211.6 705.8L219.2 700.7M219.3 705.8L227.1 705.8M219.3 705.8L219.2 700.7M227.1 705.8L234.8 705.8M227.1 705.8L231.7 699.3M227.1 705.8L219.2 700.7M227.1 705.8L225.5 698M234.8 705.8L242.6 705.8M234.8 705.8L231.7 699.3M234.8 705.8L237.6 700.4M242.6 705.8L242.6 697.1M242.6 705.8L237.6 700.4M242.6 697.1L242.6 688.4M242.6 697.1L236.5 694M242.6 697.1L237.6 700.4M242.6 688.4L242.6 679.7M242.6 688.4L235.2 686.5M242.6 688.4L236.5 694M242.6 679.7L242.6 671M242.6 679.7L235.2 686.5M242.6 679.7L233.2 679.5M242.6 679.7L236.2 672.9M242.6 671L242.7 662.3M242.6 671L237.5 666.6M242.6 671L236.2 672.9M242.7 662.3L242.1 653.6M242.7 662.3L237.5 666.6M242.7 662.3L235.8 660.2M242.1 653.6L240.6 645M242.1 653.6L233.5 653.8M242.1 653.6L233.8 646.3M242.1 653.6L235.8 660.2M240.6 645L238.1 637.1M240.6 645L233.8 646.3M238.1 637.1L235.4 629.3M238.1 637.1L230.3 639.4M238.1 637.1L233.8 646.3M238.1 637.1L230.8 633.7M235.4 629.3L233 621.4M235.4 629.3L226.5 626.8M235.4 629.3L230.8 633.7M233 621.4L231.9 613.2M233 621.4L226.5 626.8M233 621.4L227 618.4M231.9 613.2L232.8 605M231.9 613.2L225 611.4M231.9 613.2L227 618.4M232.8 605L237.1 598M232.8 605L225 611.4M232.8 605L223.4 603.2M232.8 605L229.4 597.2M237.1 598L243.9 593.3M237.1 598L235.1 590.7M237.1 598L229.4 597.2M243.9 593.3L251.4 590M243.9 593.3L235.1 590.7M243.9 593.3L242.6 586.8M251.4 590L259.2 587.2M251.4 590L242.6 586.8M251.4 590L247.6 583M251.4 590L254.1 581.9M259.2 587.2L267.2 584.7M259.2 587.2L260.6 580.7M259.2 587.2L254.1 581.9M267.2 584.7L275.2 582.6M267.2 584.7L260.6 580.7M267.2 584.7L265.6 576M267.2 584.7L273.6 577.7M275.2 582.6L283.3 580.9M275.2 582.6L273.6 577.7M283.3 580.9L291.4 579.4M283.3 580.9L287.9 573.1M283.3 580.9L279.4 571.8M283.3 580.9L273.6 577.7M291.4 579.4L299.5 577.7M291.4 579.4L287.9 573.1M291.4 579.4L294.6 573.8M299.5 577.7L307.4 575.2M299.5 577.7L300.4 570.9M299.5 577.7L294.6 573.8M307.4 575.2L314.6 571.1M307.4 575.2L300.4 570.9M307.4 575.2L307.8 565.9M314.6 571.1L319.9 564.9M314.6 571.1L307.8 565.9M319.9 564.9L321.9 556.9M319.9 564.9L311.7 557.3M319.9 564.9L307.8 565.9M321.9 556.9L320.7 548.8M321.9 556.9L311.7 557.3M321.9 556.9L314.3 549.3M320.7 548.8L317.1 541.3M320.7 548.8L314.3 549.3M317.1 541.3L312 534.8M317.1 541.3L309.1 541.9M317.1 541.3L314.3 549.3M312 534.8L306 529.1M312 534.8L309.1 541.9M312 534.8L305.5 536.1M306 529.1L299.4 524.2M306 529.1L298.2 529.5M306 529.1L305.5 536.1M306 529.1L300.3 533.8M299.4 524.2L292.2 520M299.4 524.2L298.2 529.5M299.4 524.2L293.5 526.7M292.2 520L284.7 516.6M292.2 520L285.9 525.9M292.2 520L293.5 526.7M284.7 516.6L276.9 513.9M284.7 516.6L285.9 525.9M284.7 516.6L278 522.2M276.9 513.9L268.8 511.9M276.9 513.9L270.3 519.9M276.9 513.9L278 522.2M268.8 511.9L260.7 510.4M268.8 511.9L270.3 519.9M268.8 511.9L262.1 517.9M260.7 510.4L252.5 509.5M260.7 510.4L253.2 515.3M260.7 510.4L262.1 517.9M252.5 509.5L244.2 508.9M252.5 509.5L253.2 515.3M244.2 508.9L235.9 508.7M244.2 508.9L253.2 515.3M244.2 508.9L235.4 514.3M244.2 508.9L244.5 520.5M235.9 508.7L227.6 508.8M235.9 508.7L235.4 514.3M227.6 508.8L219.4 509.3M227.6 508.8L235.4 514.3M227.6 508.8L225.2 516.7M219.4 509.3L211.1 510.2M219.4 509.3L225.2 516.7M219.4 509.3L216.5 515M211.1 510.2L203 511.5M211.1 510.2L209.6 516.9M211.1 510.2L216.5 515M203 511.5L194.9 513.4M203 511.5L201.7 519.1M203 511.5L209.6 516.9M194.9 513.4L187 515.8M194.9 513.4L193.7 523.2M194.9 513.4L201.7 519.1M187 515.8L179.3 518.8M187 515.8L193.7 523.2M187 515.8L184.2 524.9M179.3 518.8L171.8 522.4M179.3 518.8L177.1 525.9M179.3 518.8L184.2 524.9M171.8 522.4L164.7 526.6M171.8 522.4L171.5 529.9M171.8 522.4L177.1 525.9M164.7 526.6L158 531.5M164.7 526.6L171.5 529.9M164.7 526.6L165.6 533.2M158 531.5L151.8 537M158 531.5L155.3 541.7M158 531.5L163.4 540.1M158 531.5L165.6 533.2M151.8 537L145.8 542.7M151.8 537L155.3 541.7M145.8 542.7L139.3 547.8M145.8 542.7L155.3 541.7M145.8 542.7L152 548.6M145.8 542.7L145.3 553.1M139.3 547.8L130 551.2M139.3 547.8L145.3 553.1M139.3 547.8L137.7 554.8M130 551.2L119.5 551.1M130 551.2L132.6 561.6M130 551.2L137.7 554.8M130 551.2L123.8 557.8M119.5 551.1L108.9 551.1M119.5 551.1L123.8 557.8M119.5 551.1L115 558.3M108.9 551.1L98.3 551.1M108.9 551.1L105.1 558.2M108.9 551.1L115 558.3M98.3 551.1L87.7 551.1M98.3 551.1L95.8 558.8M98.3 551.1L105.1 558.2M87.7 551.1L87.7 561.4M87.7 551.1L95.8 558.8M87.7 561.4L87.7 571.7M87.7 561.4L95.8 558.8M87.7 561.4L93.9 566M87.7 571.7L96.9 573.3M87.7 571.7L93.9 566M298.2 529.5L292.1 533.8M298.2 529.5L293.5 526.7M298.2 529.5L300.3 533.8M155.1 568.4L157.2 560.2M155.1 568.4L148.6 562.5M155.1 568.4L160.9 565.3M155.1 568.4L148.1 572.2M299.9 540.7L305.2 549.2M299.9 540.7L295 548.6M299.9 540.7L309.1 541.9M299.9 540.7L292.1 533.8M299.9 540.7L305.5 536.1M299.9 540.7L291.8 541.6M299.9 540.7L300.3 533.8M194.9 539.3L201.7 538.2M194.9 539.3L186.7 541.1M194.9 539.3L197.8 531.8M194.9 539.3L189.3 532.2M227.1 651.4L233.5 653.8M227.1 651.4L218.9 650.2M227.1 651.4L228.7 658.4M227.1 651.4L233.8 646.3M227.1 651.4L222.9 656.1M227.1 651.4L225.2 644M249.7 569.9L248.8 576.6M249.7 569.9L257 573.4M249.7 569.9L245.2 566.4M249.7 569.9L250.1 564M249.7 569.9L243.4 571.5M249.7 569.9L254.1 567.1M248.8 576.6L257 573.4M248.8 576.6L241.3 578.9M248.8 576.6L247.6 583M248.8 576.6L243.4 571.5M248.8 576.6L254.1 581.9M229.4 692.4L220.6 692.1M229.4 692.4L235.2 686.5M229.4 692.4L231.7 699.3M229.4 692.4L236.5 694M229.4 692.4L225.5 698M229.4 692.4L227.4 685.2M286.7 557.4L292.6 555.2M286.7 557.4L287.7 551.3M286.7 557.4L293 561.2M286.7 557.4L285.1 564.9M286.7 557.4L282.1 553.1M286.7 557.4L280 558.5M240.4 528.5L248 530.2M240.4 528.5L234.2 522.6M240.4 528.5L238.2 534.4M240.4 528.5L244.5 520.5M240.4 528.5L242.9 533.6M240.4 528.5L233.1 530.6M217.2 666.4L223.1 662.6M217.2 666.4L222.7 669.7M217.2 666.4L217.5 658.7M217.2 666.4L217.1 673.5M132.6 561.6L121.6 566.5M132.6 561.6L132.7 573M132.6 561.6L140.8 567.6M132.6 561.6L137.7 554.8M132.6 561.6L123.8 557.8M132.6 561.6L141 560M305.2 549.2L295 548.6M305.2 549.2L311.7 557.3M305.2 549.2L309.1 541.9M305.2 549.2L300.7 557.4M305.2 549.2L314.3 549.3M199.3 616.1L191.4 613.5M199.3 616.1L199.7 606.7M199.3 616.1L208.1 614.9M199.3 616.1L202.8 621.6M248 530.2L255.4 524.5M248 530.2L250.6 536M248 530.2L244.5 520.5M248 530.2L246.1 535.8M248 530.2L242.9 533.6M248 530.2L255.3 532.7M295 548.6L292.6 555.2M295 548.6L287.3 545.4M295 548.6L287.7 551.3M295 548.6L300.7 557.4M295 548.6L291.8 541.6M155.3 541.7L152 548.6M155.3 541.7L160.8 550.6M155.3 541.7L163.4 540.1M311.7 557.3L300.7 557.4M311.7 557.3L307.8 565.9M311.7 557.3L314.3 549.3M205.1 591.1L212 583.3M205.1 591.1L200.3 597.6M205.1 591.1L213.6 592.5M205.1 591.1L207.2 599.1M205.1 591.1L196.8 591.7M230.7 674.1L226.7 678.4M230.7 674.1L230.2 667.1M230.7 674.1L233.2 679.5M230.7 674.1L236.2 672.9M230.7 674.1L226.5 673M152 548.6L160.8 550.6M152 548.6L145.3 553.1M152 548.6L152.8 555.1M226.7 678.4L221.8 675.8M226.7 678.4L219.6 682.6M226.7 678.4L233.2 679.5M226.7 678.4L227.4 685.2M226.7 678.4L226.5 673M121.6 566.5L123.2 575.5M121.6 566.5L113.2 573.9M121.6 566.5L132.7 573M121.6 566.5L110.4 565.3M121.6 566.5L123.8 557.8M121.6 566.5L115 558.3M221.2 586.1L229.7 584.5M221.2 586.1L212 583.3M221.2 586.1L227.2 590.8M221.2 586.1L213.6 592.5M221.2 586.1L219.6 578.6M221.2 586.1L221.5 595.1M221.2 586.1L226.2 577.6M260.6 580.7L265.6 576M260.6 580.7L257 573.4M260.6 580.7L254.1 581.9M206.4 532.6L201.7 538.2M206.4 532.6L201.5 526M206.4 532.6L197.8 531.8M206.4 532.6L208.3 524.2M206.4 532.6L214 529.7M206.4 532.6L213 536.2M235.1 590.7L229.7 584.5M235.1 590.7L236.3 583.9M235.1 590.7L242.6 586.8M235.1 590.7L227.2 590.8M235.1 590.7L229.4 597.2M219.2 534.9L226.2 533.3M219.2 534.9L214 529.7M219.2 534.9L213 536.2M219.2 534.9L220.5 529M192.5 599.4L200.3 597.6M192.5 599.4L199.7 606.7M192.5 599.4L189 606.2M192.5 599.4L196.8 591.7M233.5 653.8L228.7 658.4M233.5 653.8L233.8 646.3M233.5 653.8L235.8 660.2M157.2 560.2L160.8 550.6M157.2 560.2L148.6 562.5M157.2 560.2L152.8 555.1M157.2 560.2L164.7 559.4M157.2 560.2L160.9 565.3M95.8 558.8L105.1 558.2M95.8 558.8L101.3 565.2M95.8 558.8L93.9 566M217.1 522.3L226.1 525.6M217.1 522.3L208.3 524.2M217.1 522.3L214 529.7M217.1 522.3L225.2 516.7M217.1 522.3L209.6 516.9M217.1 522.3L220.5 529M217.1 522.3L216.5 515M215.2 600.9L209.4 606.2M215.2 600.9L216.6 609.4M215.2 600.9L213.6 592.5M215.2 600.9L223.4 603.2M215.2 600.9L221.5 595.1M215.2 600.9L207.2 599.1M299.2 564.6L293.4 568.1M299.2 564.6L300.4 570.9M299.2 564.6L293 561.2M299.2 564.6L300.7 557.4M299.2 564.6L307.8 565.9M264.2 563.1L264.2 569M264.2 563.1L268.8 565.3M264.2 563.1L259 565.8M264.2 563.1L260.1 560.2M264.2 563.1L264.6 558.1M264.2 563.1L269.2 560.6M123.2 575.5L113.2 573.9M123.2 575.5L132.7 573M253.2 515.3L255.4 524.5M253.2 515.3L262.1 517.9M253.2 515.3L244.5 520.5M285.9 525.9L292.1 533.8M285.9 525.9L278 522.2M285.9 525.9L278.7 528.7M285.9 525.9L282.6 533.3M285.9 525.9L293.5 526.7M264.2 569L265.6 576M264.2 569L257 573.4M264.2 569L268.8 565.3M264.2 569L259 565.8M264.2 569L271.1 570.6M265.6 576L257 573.4M265.6 576L273.6 577.7M265.6 576L271.1 570.6M201.7 538.2L197.8 531.8M226.2 533.3L226.1 525.6M226.2 533.3L233.1 530.6M226.2 533.3L220.5 529M257 573.4L259 565.8M257 573.4L254.1 567.1M257 573.4L254.1 581.9M113.2 573.9L105.3 570.6M113.2 573.9L110.4 565.3M113.2 573.9L104.4 576.3M287.9 573.1L279.4 571.8M287.9 573.1L293.4 568.1M287.9 573.1L285.1 564.9M287.9 573.1L294.6 573.8M277 553.8L273.8 557.6M277 553.8L272.4 553.3M277 553.8L278.5 549.7M277 553.8L282.1 553.1M277 553.8L280 558.5M277 553.8L275 550.4M171.1 537.7L170 545.9M171.1 537.7L171.5 529.9M171.1 537.7L179.5 533.5M171.1 537.7L178.1 543.2M171.1 537.7L163.4 540.1M171.1 537.7L165.6 533.2M220.6 692.1L219.2 700.7M220.6 692.1L219.6 682.6M220.6 692.1L225.5 698M220.6 692.1L227.4 685.2M255.4 524.5L260 529.7M255.4 524.5L262.1 517.9M255.4 524.5L264.1 525.4M255.4 524.5L244.5 520.5M255.4 524.5L255.3 532.7M217.2 641.3L218.9 650.2M217.2 641.3L223.5 635.8M217.2 641.3L216.6 635.8M217.2 641.3L225.2 644M105.3 570.6L110.4 565.3M105.3 570.6L96.9 573.3M105.3 570.6L104.4 576.3M105.3 570.6L101.3 565.2M226.1 525.6L234.2 522.6M226.1 525.6L225.2 516.7M226.1 525.6L233.1 530.6M226.1 525.6L220.5 529M209.4 606.2L216.6 609.4M209.4 606.2L199.7 606.7M209.4 606.2L208.1 614.9M209.4 606.2L207.2 599.1M229.7 584.5L236.3 583.9M229.7 584.5L233.4 577.6M229.7 584.5L227.2 590.8M229.7 584.5L226.2 577.6M218.9 650.2L217.5 658.7M218.9 650.2L222.9 656.1M218.9 650.2L225.2 644M234.2 522.6L235.4 514.3M234.2 522.6L225.2 516.7M234.2 522.6L244.5 520.5M234.2 522.6L233.1 530.6M236.3 583.9L242.6 586.8M236.3 583.9L241.3 578.9M236.3 583.9L233.4 577.6M279.4 571.8L273.6 577.7M279.4 571.8L285.1 564.9M279.4 571.8L275.3 564.1M279.4 571.8L271.1 570.6M270.3 519.9L262.1 517.9M270.3 519.9L271.6 528.2M270.3 519.9L264.1 525.4M270.3 519.9L278 522.2M212 583.3L213.6 592.5M212 583.3L219.6 578.6M254.3 537.3L250.6 536M254.3 537.3L255.3 532.7M254.3 537.3L258.1 537.1M218.6 619.4L225 611.4M218.6 619.4L209.6 625.1M218.6 619.4L216.6 609.4M218.6 619.4L226.5 626.8M218.6 619.4L217.2 629.9M218.6 619.4L208.1 614.9M218.6 619.4L227 618.4M201.5 526L197.8 531.8M201.5 526L208.3 524.2M201.5 526L193.7 523.2M201.5 526L201.7 519.1M223.5 635.8L216.6 635.8M223.5 635.8L230.3 639.4M223.5 635.8L226.5 626.8M223.5 635.8L230.8 633.7M223.5 635.8L217.2 629.9M223.5 635.8L225.2 644M132.7 573L140.8 567.6M132.7 573L141.7 575.4M282.5 544L284.8 539.6M282.5 544L278.4 545.4M282.5 544L287.3 545.4M282.5 544L279.9 541.8M282.5 544L282.7 548.1M242.6 586.8L241.3 578.9M242.6 586.8L247.6 583M284.8 539.6L292.1 533.8M284.8 539.6L287.3 545.4M284.8 539.6L279.9 541.8M284.8 539.6L278.5 538.3M284.8 539.6L282.6 533.3M284.8 539.6L291.8 541.6M260 529.7L264.1 525.4M260 529.7L264.8 531.7M260 529.7L260.4 533.9M260 529.7L255.3 532.7M309.1 541.9L305.5 536.1M309.1 541.9L314.3 549.3M241.3 578.9L233.4 577.6M241.3 578.9L237.3 572.2M241.3 578.9L247.6 583M241.3 578.9L243.4 571.5M225 611.4L216.6 609.4M225 611.4L223.4 603.2M225 611.4L227 618.4M140.8 567.6L141.7 575.4M140.8 567.6L148.6 562.5M140.8 567.6L141 560M140.8 567.6L148.1 572.2M170 545.9L160.8 550.6M170 545.9L178.1 543.2M170 545.9L170.5 553.6M170 545.9L163.4 540.1M170 545.9L176.6 549.9M160.8 550.6L152.8 555.1M160.8 550.6L170.5 553.6M160.8 550.6L164.7 559.4M160.8 550.6L163.4 540.1M216.6 635.8L217.2 629.9M235.2 686.5L236.5 694M235.2 686.5L233.2 679.5M235.2 686.5L227.4 685.2M230.3 639.4L233.8 646.3M230.3 639.4L230.8 633.7M230.3 639.4L225.2 644M209.6 625.1L217.2 629.9M209.6 625.1L208.1 614.9M209.6 625.1L202.8 621.6M105.1 558.2L110.4 565.3M105.1 558.2L115 558.3M105.1 558.2L101.3 565.2M145.3 553.1L148.6 562.5M145.3 553.1L152.8 555.1M145.3 553.1L137.7 554.8M145.3 553.1L141 560M293.4 568.1L300.4 570.9M293.4 568.1L293 561.2M293.4 568.1L285.1 564.9M293.4 568.1L294.6 573.8M191.4 613.5L199.7 606.7M191.4 613.5L189 606.2M233.4 577.6L237.3 572.2M233.4 577.6L226.2 577.6M217.5 678L221.8 675.8M217.5 678L219.6 682.6M217.5 678L217.1 673.5M235.4 514.3L225.2 516.7M235.4 514.3L244.5 520.5M223.1 662.6L230.2 667.1M223.1 662.6L228.7 658.4M223.1 662.6L222.7 669.7M223.1 662.6L217.5 658.7M223.1 662.6L222.9 656.1M186.7 541.1L179.5 533.5M186.7 541.1L189.3 532.2M186.7 541.1L178.1 543.2M230.2 667.1L228.7 658.4M230.2 667.1L222.7 669.7M230.2 667.1L237.5 666.6M230.2 667.1L235.8 660.2M230.2 667.1L236.2 672.9M230.2 667.1L226.5 673M292.6 555.2L287.7 551.3M292.6 555.2L293 561.2M292.6 555.2L300.7 557.4M262.1 517.9L264.1 525.4M227.2 590.8L229.4 597.2M227.2 590.8L221.5 595.1M250.6 536L246.1 535.8M250.6 536L255.3 532.7M275.6 533.8L269.3 535.4M275.6 533.8L271.6 528.2M275.6 533.8L272.9 539.1M275.6 533.8L278.5 538.3M275.6 533.8L278.7 528.7M275.6 533.8L282.6 533.3M237.3 572.2L243.4 571.5M255.1 561.9L259 565.8M255.1 561.9L260.1 560.2M255.1 561.9L250.1 564M255.1 561.9L254.1 567.1M255.1 561.9L252.1 561.1M228.7 658.4L235.8 660.2M228.7 658.4L222.9 656.1M216.6 609.4L223.4 603.2M216.6 609.4L208.1 614.9M171.5 529.9L179.5 533.5M171.5 529.9L177.1 525.9M171.5 529.9L165.6 533.2M110.4 565.3L115 558.3M110.4 565.3L101.3 565.2M141.7 575.4L148.1 572.2M231.7 699.3L236.5 694M231.7 699.3L237.6 700.4M231.7 699.3L225.5 698M197.8 531.8L189.3 532.2M197.8 531.8L193.7 523.2M269.3 535.4L271.6 528.2M269.3 535.4L264.8 531.7M269.3 535.4L272.9 539.1M269.3 535.4L263.3 537.4M292.1 533.8L282.6 533.3M292.1 533.8L293.5 526.7M292.1 533.8L291.8 541.6M292.1 533.8L300.3 533.8M200.3 597.6L199.7 606.7M200.3 597.6L207.2 599.1M200.3 597.6L196.8 591.7M245.2 566.4L250.1 564M245.2 566.4L243.4 571.5M278.4 545.4L279.9 541.8M278.4 545.4L278.5 549.7M278.4 545.4L275.7 542.1M278.4 545.4L282.7 548.1M278.4 545.4L276 547.6M208.3 524.2L214 529.7M208.3 524.2L201.7 519.1M208.3 524.2L209.6 516.9M271.6 528.2L264.1 525.4M271.6 528.2L278 522.2M271.6 528.2L264.8 531.7M271.6 528.2L278.7 528.7M219.2 700.7L225.5 698M179.5 533.5L189.3 532.2M179.5 533.5L178.1 543.2M179.5 533.5L177.1 525.9M179.5 533.5L184.2 524.9M214 529.7L213 536.2M214 529.7L220.5 529M225.2 516.7L216.5 515M221.8 675.8L222.7 669.7M221.8 675.8L219.6 682.6M221.8 675.8L217.1 673.5M221.8 675.8L226.5 673M268.8 565.3L275.3 564.1M268.8 565.3L271.1 570.6M268.8 565.3L269.2 560.6M287.3 545.4L287.7 551.3M287.3 545.4L282.7 548.1M287.3 545.4L291.8 541.6M189.3 532.2L193.7 523.2M189.3 532.2L184.2 524.9M178.1 543.2L176.6 549.9M273.8 557.6L268.8 555.9M273.8 557.6L272.4 553.3M273.8 557.6L280 558.5M273.8 557.6L275.3 564.1M273.8 557.6L269.2 560.6M264.1 525.4L264.8 531.7M238.2 534.4L242.9 533.6M238.2 534.4L233.1 530.6M226.5 626.8L230.8 633.7M226.5 626.8L217.2 629.9M226.5 626.8L227 618.4M233.8 646.3L225.2 644M278 522.2L278.7 528.7M213.6 592.5L221.5 595.1M213.6 592.5L207.2 599.1M279.9 541.8L278.5 538.3M279.9 541.8L275.7 542.1M268.8 555.9L272.4 553.3M268.8 555.9L264.6 558.1M268.8 555.9L269.2 560.6M193.7 523.2L201.7 519.1M193.7 523.2L184.2 524.9M273.6 577.7L271.1 570.6M148.6 562.5L152.8 555.1M148.6 562.5L141 560M148.6 562.5L148.1 572.2M222.7 669.7L217.1 673.5M222.7 669.7L226.5 673M219.6 682.6L227.4 685.2M199.7 606.7L189 606.2M199.7 606.7L208.1 614.9M199.7 606.7L207.2 599.1M264.8 531.7L263.3 537.4M264.8 531.7L260.4 533.9M287.7 551.3L282.7 548.1M287.7 551.3L282.1 553.1M300.4 570.9L294.6 573.8M300.4 570.9L307.8 565.9M170.5 553.6L164.7 559.4M170.5 553.6L176.6 549.9M201.7 519.1L209.6 516.9M223.4 603.2L229.4 597.2M223.4 603.2L221.5 595.1M236.5 694L237.6 700.4M237.5 666.6L235.8 660.2M237.5 666.6L236.2 672.9M293 561.2L285.1 564.9M293 561.2L300.7 557.4M177.1 525.9L184.2 524.9M285.1 564.9L280 558.5M285.1 564.9L275.3 564.1M208.1 614.9L202.8 621.6M272.4 553.3L275 550.4M278.5 549.7L282.7 548.1M278.5 549.7L282.1 553.1M278.5 549.7L276 547.6M278.5 549.7L275 550.4M219.6 578.6L226.2 577.6M300.7 557.4L307.8 565.9M305.5 536.1L300.3 533.8M259 565.8L260.1 560.2M259 565.8L254.1 567.1M260.1 560.2L264.6 558.1M96.9 573.3L104.4 576.3M96.9 573.3L101.3 565.2M96.9 573.3L93.9 566M246.1 535.8L242.9 533.6M137.7 554.8L141 560M272.9 539.1L278.5 538.3M272.9 539.1L275.7 542.1M217.5 658.7L222.9 656.1M278.5 538.3L275.7 542.1M278.5 538.3L282.6 533.3M229.4 597.2L221.5 595.1M278.7 528.7L282.6 533.3M282.7 548.1L282.1 553.1M263.3 537.4L260.4 533.9M263.3 537.4L258.1 537.1M260.4 533.9L255.3 532.7M260.4 533.9L258.1 537.1M123.8 557.8L115 558.3M247.6 583L254.1 581.9M164.7 559.4L160.9 565.3M233.2 679.5L236.2 672.9M233.2 679.5L227.4 685.2M282.1 553.1L280 558.5M250.1 564L254.1 567.1M250.1 564L252.1 561.1M255.3 532.7L258.1 537.1M264.6 558.1L269.2 560.6M163.4 540.1L165.6 533.2M280 558.5L275.3 564.1M276 547.6L275 550.4M209.6 516.9L216.5 515M275.3 564.1L271.1 570.6M275.3 564.1L269.2 560.6M101.3 565.2L93.9 566" fill="none" stroke="#9999ff" stroke-width="1"/><path d="M219.3 705.8L219.3 714.5M220.3 711.6L219.3 714.5L218.4 711.6M227.1 705.8L227.1 717.4M228.4 713.6L227.1 717.4L225.8 713.6M234.8 705.8L234.8 714.9M235.8 711.9L234.8 714.9L233.8 711.9M87.7 561.4L97.9 561.4M94.6 560.3L97.9 561.4L94.6 562.6M87.7 571.7L98.2 571.8M94.8 570.6L98.2 571.8L94.8 572.9M298.2 529.5L301.3 532.2M300.6 530.9L301.3 532.2L300 531.6M155.1 568.4L160.1 564.5M158 565.2L160.1 564.5L158.9 566.3M299.9 540.7L302.5 545.9M302.2 543.9L302.5 545.9L301.1 544.5M194.9 539.3L203 536.3M200 536.4L203 536.3L200.6 538.2M227.1 651.4L228.8 663.2M229.5 659.1L228.8 663.2L226.9 659.5M249.7 569.9L239.5 573.8M243.3 573.7L239.5 573.8L242.5 571.4M248.8 576.6L237.2 581.2M241.5 580.9L237.2 581.2L240.5 578.4M229.4 692.4L229.5 703.8M230.7 700.1L229.5 703.8L228.2 700.1M286.7 557.4L281.3 564.5M283.9 562.7L281.3 564.5L282.3 561.6M240.4 528.5L251.3 528.6M247.7 527.4L251.3 528.6L247.7 529.8M217.2 666.4L217.3 673.5M218.1 671.2L217.3 673.5L216.5 671.2M132.6 561.6L143.2 559.6M139.5 559.1L143.2 559.6L139.9 561.4M305.2 549.2L305.6 553.3M305.9 551.9L305.6 553.3L305 552M199.3 616.1L201.1 619.2M200.8 617.9L201.1 619.2L200.1 618.3M248 530.2L258.4 530.7M255.1 529.4L258.4 530.7L254.9 531.7M295 548.6L295.2 556M295.9 553.5L295.2 556L294.3 553.6M155.3 541.7L160.5 537.1M158.3 538.1L160.5 537.1L159.3 539.2M311.7 557.3L311.3 559.1M311.6 558.5L311.3 559.1L311.2 558.4M205.1 591.1L202.1 594.6M203.5 593.7L202.1 594.6L202.7 593.1M230.7 674.1L230.7 685.3M231.9 681.6L230.7 685.3L229.5 681.6M152 548.6L159.3 542.5M156.3 543.8L159.3 542.5L157.6 545.3M226.7 678.4L226.7 690M228 686.2L226.7 690L225.4 686.2M121.6 566.5L133.2 566.1M129.3 565L133.2 566.1L129.4 567.5M221.2 586.1L213.5 592.1M216.7 590.9L213.5 592.1L215.4 589.2M260.6 580.7L252.7 583.3M255.6 583.3L252.7 583.3L255 581.5M206.4 532.6L216.6 530.3M213 530L216.6 530.3L213.5 532.2M235.1 590.7L227.3 596.3M230.5 595.3L227.3 596.3L229.3 593.6M219.2 534.9L226.8 534M224.2 533.4L226.8 534L224.4 535.1M192.5 599.4L192 600.8M192.3 600.4L192 600.8L192 600.3M233.5 653.8L234.6 663.1M235.2 659.9L234.6 663.1L233.2 660.2M157.2 560.2L164.9 553.8M161.7 555.1L164.9 553.8L163.1 556.8M95.8 558.8L104.4 558.8M101.5 557.8L104.4 558.8L101.5 559.7M217.1 522.3L227.9 520.9M224.2 520.2L227.9 520.9L224.5 522.5M215.2 600.9L212.1 609.1M214 606.7L212.1 609.1L212.2 606.1M299.2 564.6L296 567.8M297.4 567.1L296 567.8L296.7 566.4M264.2 563.1L255.1 566.6M258.5 566.4L255.1 566.6L257.7 564.4M123.2 575.5L131.3 575.3M128.6 574.5L131.3 575.3L128.7 576.3M253.2 515.3L260.4 516M258.1 515L260.4 516L258 516.5M285.9 525.9L292.9 529.9M291 527.8L292.9 529.9L290.2 529.3M264.2 569L252.9 573M257.1 572.9L252.9 573L256.2 570.4M265.6 576L255.7 579.1M259.3 579.2L255.7 579.1L258.6 577M201.7 538.2L209.2 536.1M206.5 536L209.2 536.1L207 537.6M226.2 533.3L234.6 532.7M231.7 532L234.6 532.7L231.9 533.8M257 573.4L245.3 577.5M249.6 577.4L245.3 577.5L248.7 574.9M113.2 573.9L122.6 573.9M119.5 572.9L122.6 573.9L119.5 575M287.9 573.1L282.7 575.1M284.6 575L282.7 575.1L284.2 573.9M277 553.8L271.6 559.5M274 558.2L271.6 559.5L272.8 557M171.1 537.7L180.1 531.8M176.5 532.8L180.1 531.8L177.7 534.7M220.6 692.1L220.6 701.6M221.6 698.4L220.6 701.6L219.5 698.4M255.4 524.5L267.1 525.8M263.4 524.1L267.1 525.8L263.1 526.6M217.2 641.3L219.9 651.3M220.1 647.7L219.9 651.3L217.9 648.3M105.3 570.6L116.3 570.6M112.6 569.4L116.3 570.6L112.6 571.8M226.1 525.6L237.6 524.8M233.7 523.8L237.6 524.8L233.9 526.3M209.4 606.2L208.9 613.6M209.8 611.2L208.9 613.6L208.2 611.1M229.7 584.5L219.9 590.9M223.8 589.9L219.9 590.9L222.4 587.7M218.9 650.2L220.2 660M220.8 656.6L220.2 660L218.7 656.9M234.2 522.6L245.6 522.4M241.8 521.2L245.6 522.4L241.9 523.7M236.3 583.9L225.7 589.8M229.8 589L225.7 589.8L228.5 586.7M279.4 571.8L271 574.9M274.1 574.8L271 574.9L273.4 573M270.3 519.9L278.8 522M276.2 520.4L278.8 522L275.8 522.3M212 583.3L207.9 586.3M209.6 585.7L207.9 586.3L208.9 584.8M254.3 537.3L259.1 537.6M257.5 537L259.1 537.6L257.5 538M218.6 619.4L221.8 629.7M221.8 626L221.8 629.7L219.6 626.6M201.5 526L212.2 523.3M208.3 523L212.2 523.3L208.9 525.4M223.5 635.8L227.3 647.8M227.4 643.4L227.3 647.8L224.8 644.3M132.7 573L141.6 572.1M138.6 571.4L141.6 572.1L138.8 573.4M282.5 544L285.6 552.9M285.5 549.6L285.6 552.9L283.6 550.3M242.6 586.8L234.1 591M237.4 590.5L234.1 591L236.4 588.7M284.8 539.6L290.7 548.2M289.7 544.8L290.7 548.2L287.8 546M260 529.7L271.3 531.3M267.7 529.6L271.3 531.3L267.4 532M309.1 541.9L310.2 544.2M310.1 543.4L310.2 544.2L309.6 543.6M241.3 578.9L229.9 584.2M234.2 583.7L229.9 584.2L233.1 581.2M225 611.4L225.2 618.8M225.9 616.4L225.2 618.8L224.3 616.4M140.8 567.6L150.5 564.4M146.9 564.4L150.5 564.4L147.6 566.5M170 545.9L179.1 539.1M175.4 540.3L179.1 539.1L176.9 542.3M160.8 550.6L169.6 543.1M165.8 544.6L169.6 543.1L167.5 546.5M216.6 635.8L220.3 646.3M220.2 642.4L220.3 646.3L218 643.2M235.2 686.5L235.4 695.3M236.3 692.4L235.4 695.3L234.4 692.4M230.3 639.4L233.1 649M233.2 645.5L233.1 649L231.1 646.1M209.6 625.1L213.8 632.3M213.2 629.5L213.8 632.3L211.7 630.4M105.1 558.2L113.3 558.2M110.6 557.3L113.3 558.2L110.6 559.1M145.3 553.1L153.2 548M150 548.8L153.2 548L151.1 550.5M293.4 568.1L288.7 571.1M290.6 570.6L288.7 571.1L289.9 569.5M233.4 577.6L223.6 582.6M227.4 582L223.6 582.6L226.3 579.9M217.5 678L217.6 685.3M218.4 682.9L217.6 685.3L216.8 682.9M235.4 514.3L242.3 514.3M240 513.5L242.3 514.3L240 515.1M223.1 662.6L223.5 673.7M224.6 670L223.5 673.7L222.2 670.1M186.7 541.1L195.3 537.1M192 537.5L195.3 537.1L192.9 539.4M230.2 667.1L230.4 678.2M231.6 674.5L230.4 678.2L229.1 674.6M292.6 555.2L289.6 562.1M291.4 560.2L289.6 562.1L289.8 559.5M262.1 517.9L270.5 519.3M267.9 517.9L270.5 519.3L267.6 519.7M227.2 590.8L219 598.1M222.5 596.6L219 598.1L220.9 594.8M250.6 536L256.5 536.4M254.6 535.6L256.5 536.4L254.5 536.9M275.6 533.8L285.9 539.2M283.1 536.3L285.9 539.2L281.9 538.6M237.3 572.2L229.1 575.9M232.2 575.5L229.1 575.9L231.4 573.8M255.1 561.9L249.5 564M251.6 564L249.5 564L251.1 562.7M228.7 658.4L229.6 669.9M230.5 666L229.6 669.9L228 666.2M216.6 609.4L216.7 618.6M217.6 615.5L216.7 618.6L215.6 615.5M171.5 529.9L177.4 526.4M175 526.9L177.4 526.4L175.8 528.2M110.4 565.3L121.9 565.3M118.1 564.1L121.9 565.3L118.1 566.6M141.7 575.4L147.4 574M145.4 573.8L147.4 574L145.7 575M231.7 699.3L231.8 710.1M232.9 706.5L231.8 710.1L230.6 706.5M197.8 531.8L208.6 528.5M204.7 528.4L208.6 528.5L205.4 530.8M269.3 535.4L278.5 538.3M275.8 536.4L278.5 538.3L275.2 538.4M292.1 533.8L297.8 539.8M296.6 537.2L297.8 539.8L295.3 538.5M200.3 597.6L198.7 601M199.6 600L198.7 601L198.9 599.7M245.2 566.4L238.9 568.9M241.3 568.7L238.9 568.9L240.7 567.4M278.4 545.4L280.1 552.8M280.3 550.2L280.1 552.8L278.7 550.5M208.3 524.2L219.1 522.2M215.3 521.7L219.1 522.2L215.7 524M271.6 528.2L283.1 531.9M279.7 529.4L283.1 531.9L278.9 531.9M219.2 700.7L219.2 709.3M220.2 706.5L219.2 709.3L218.3 706.5M179.5 533.5L189.1 528.6M185.4 529.2L189.1 528.6L186.5 531.3M214 529.7L224.9 528M221.1 527.4L224.9 528L221.5 529.7M225.2 516.7L233.7 516.2M230.9 515.4L233.7 516.2L231 517.3M221.8 675.8L221.8 686.1M222.9 682.7L221.8 686.1L220.7 682.7M268.8 565.3L258.2 569.5M262.2 569.3L258.2 569.5L261.2 567M287.3 545.4L289.1 554.5M289.5 551.3L289.1 554.5L287.5 551.7M189.3 532.2L199.9 528.1M195.9 528.3L199.9 528.1L196.8 530.6M178.1 543.2L187.3 537.8M183.7 538.6L187.3 537.8L184.9 540.6M273.8 557.6L266.4 562.3M269.4 561.5L266.4 562.3L268.4 559.9M264.1 525.4L275.8 527.6M272.2 525.6L275.8 527.6L271.7 528.1M238.2 534.4L245.4 534.3M243 533.6L245.4 534.3L243.1 535.1M226.5 626.8L229.6 636.2M229.6 632.8L229.6 636.2L227.5 633.4M233.8 646.3L235.6 654.4M235.9 651.5L235.6 654.4L234.1 651.9M278 522.2L286 525.2M283.7 523.4L286 525.2L283 525.1M213.6 592.5L208.5 598.8M210.8 597.3L208.5 598.8L209.5 596.2M279.9 541.8L285.1 549.8M284.2 546.6L285.1 549.8L282.5 547.7M244.5 520.5L255.4 521M251.8 519.7L255.4 521L251.7 522M268.8 555.9L264 558.3M265.8 558.1L264 558.3L265.3 557M193.7 523.2L202.2 520.5M199.1 520.5L202.2 520.5L199.7 522.4M273.6 577.7L267 579.6M269.4 579.7L267 579.6L269 578.3M148.6 562.5L157.7 556.9M154.1 557.7L157.7 556.9L155.3 559.7M152.8 555.1L161.8 548M158.1 549.4L161.8 548L159.6 551.3M222.7 669.7L222.8 680.4M223.9 676.9L222.8 680.4L221.6 676.9M219.6 682.6L219.6 691.5M220.6 688.6L219.6 691.5L218.7 688.6M199.7 606.7L199.8 610.6M200.2 609.3L199.8 610.6L199.4 609.3M264.8 531.7L275.6 533.9M272.3 532L275.6 533.9L271.8 534.4M287.7 551.3L285.6 559.8M287.2 557.2L285.6 559.8L285.3 556.8M300.4 570.9L298.1 572.2M299 572L298.1 572.2L298.7 571.5M170.5 553.6L177 548.4M174.3 549.4L177 548.4L175.4 550.8M201.7 519.1L209.2 517.4M206.6 517.1L209.2 517.4L206.9 518.7M223.4 603.2L220.6 611.3M222.4 608.9L220.6 611.3L220.6 608.3M230.8 633.7L233.4 641.6M233.4 638.7L233.4 641.6L231.7 639.3M236.5 694L236.5 701.9M237.3 699.3L236.5 701.9L235.6 699.3M217.2 629.9L221.8 640.9M221.5 636.8L221.8 640.9L219.1 637.8M237.5 666.6L237.6 673.3M238.3 671.1L237.6 673.3L236.9 671.1M293 561.2L288.4 566.5M290.5 565.3L288.4 566.5L289.3 564.2M177.1 525.9L182.6 523.2M180.5 523.5L182.6 523.2L181.1 524.7M285.1 564.9L277.5 569.8M280.5 569L277.5 569.8L279.5 567.3M208.1 614.9L210.5 622.1M210.5 619.5L210.5 622.1L208.9 620M272.4 553.3L268.3 556.2M270 555.7L268.3 556.2L269.3 554.8M278.5 549.7L276 556.7M277.6 554.6L276 556.7L276.1 554.1M237.6 700.4L237.6 707.3M238.4 705L237.6 707.3L236.8 705M219.6 578.6L214.4 581.5M216.4 581.1L214.4 581.5L215.8 580M300.7 557.4L298.8 561.9M299.9 560.6L298.8 561.9L298.9 560.2M202.8 621.6L205.5 625.2M205 623.7L205.5 625.2L204.2 624.3M305.5 536.1L307.3 538.4M307 537.5L307.3 538.4L306.5 537.9M259 565.8L249.3 569.3M252.9 569.2L249.3 569.3L252.1 567.1M294.6 573.8L291.6 575M292.7 574.9L291.6 575L292.5 574.3M260.1 560.2L254.4 562.4M256.5 562.3L254.4 562.4L256 561M96.9 573.3L106.7 573.3M103.5 572.2L106.7 573.3L103.5 574.4M246.1 535.8L252 536M250.1 535.3L252 536L250.1 536.6M137.7 554.8L145.1 551.9M142.3 552.1L145.1 551.9L142.9 553.7M272.9 539.1L279.9 542.9M278 540.9L279.9 542.9L277.2 542.4M217.5 658.7L217.8 666.4M218.6 663.8L217.8 666.4L216.9 663.9M278.5 538.3L286.4 545.3M284.6 542.1L286.4 545.3L283 543.8M213 536.2L220.2 534.9M217.7 534.6L220.2 534.9L218 536.1M229.4 597.2L224.4 603.6M226.7 602.1L224.4 603.6L225.3 601M242.9 533.6L250.8 533.7M248.3 532.8L250.8 533.7L248.2 534.6M275.7 542.1L280.7 547.3M279.7 545.1L280.7 547.3L278.5 546.2M278.7 528.7L288.9 533.8M286.1 531L288.9 533.8L285 533.2M221.5 595.1L215.5 603.1M218.3 601.1L215.5 603.1L216.6 599.8M184.2 524.9L191.4 521.9M188.7 522.1L191.4 521.9L189.3 523.7M307.8 565.9L306.5 567.3M307.1 567L306.5 567.3L306.8 566.7M282.7 548.1L282.2 557M283.3 554.1L282.2 557L281.4 554M263.3 537.4L269.3 538.4M267.4 537.4L269.3 538.4L267.2 538.7M235.8 660.2L236.3 668.1M237 665.4L236.3 668.1L235.3 665.6M233.1 530.6L243.1 530.3M239.8 529.3L243.1 530.3L239.9 531.5M260.4 533.9L269.3 535.1M266.5 533.7L269.3 535.1L266.2 535.6M123.8 557.8L131.9 557.4M129.2 556.6L131.9 557.4L129.3 558.4M247.6 583L238 587M241.6 586.7L238 587L240.7 584.6M164.7 559.4L170.3 554.3M167.9 555.4L170.3 554.3L169 556.6M233.2 679.5L233.3 689.6M234.4 686.2L233.3 689.6L232.2 686.2M115 558.3L123.3 558.3M120.6 557.4L123.3 558.3L120.6 559.2M282.1 553.1L277.7 561M280 558.9L277.7 561L278.3 557.9M250.1 564L244.2 566.2M246.4 566.1L244.2 566.2L245.9 564.9M207.2 599.1L204.8 605M206.2 603.3L204.8 605L205 602.8M255.3 532.7L264.6 533.6M261.6 532.3L264.6 533.6L261.4 534.3M264.6 558.1L259.2 560.4M261.2 560.2L259.2 560.4L260.8 559.1M282.6 533.3L291.5 540.1M289.3 536.9L291.5 540.1L287.8 538.9M225.5 698L225.5 709.4M226.8 705.6L225.5 709.4L224.3 705.6M314.3 549.3L314.6 550.7M314.7 550.2L314.6 550.7L314.4 550.2M163.4 540.1L170.9 534.2M167.8 535.3L170.9 534.2L169.1 537M280 558.5L272.5 564.8M275.7 563.6L272.5 564.8L274.3 561.9M243.4 571.5L233.7 575.5M237.4 575.3L233.7 575.5L236.5 573.2M293.5 526.7L297.6 529.5M296.5 528.1L297.6 529.5L295.9 529M276 547.6L275.1 552.3M275.9 550.9L275.1 552.3L274.9 550.7M209.6 516.9L216.7 515.7M214.2 515.3L216.7 515.7L214.5 516.9M236.2 672.9L236.1 680.9M237 678.3L236.1 680.9L235.3 678.3M176.6 549.9L183 545.5M180.4 546.3L183 545.5L181.4 547.7M258.1 537.1L263.6 537.6M261.9 536.8L263.6 537.6L261.7 538M227.4 685.2L227.5 696.8M228.8 693L227.5 696.8L226.2 693M104.4 576.3L112.1 576.3M109.6 575.4L112.1 576.3L109.6 577.1M217.1 673.5L217.1 680.5M217.8 678.2L217.1 680.5L216.3 678.2M165.6 533.2L171 529.4M168.8 530.1L171 529.4L169.6 531.2M220.5 529L231.4 527.8M227.7 527L231.4 527.8L227.9 529.4M275.3 564.1L265.4 568.9M269.2 568.4L265.4 568.9L268.2 566.3M254.1 567.1L244.6 570.6M248.1 570.4L244.6 570.6L247.4 568.4M160.9 565.3L165.1 561.4M163.3 562.3L165.1 561.4L164.1 563.2M141 560L151.1 555.8M147.3 556.1L151.1 555.8L148.2 558.3M148.1 572.2L153.8 569.4M151.6 569.7L153.8 569.4L152.2 570.9M222.9 656.1L223.9 667.4M224.8 663.6L223.9 667.4L222.3 663.8M271.1 570.6L260.4 574.4M264.4 574.3L260.4 574.4L263.5 571.9M269.2 560.6L260.8 564.4M264 564.1L260.8 564.4L263.1 562.2M216.5 515L222.9 514.2M220.7 513.8L222.9 514.2L220.9 515.2M227 618.4L228.4 625.3M228.7 622.9L228.4 625.3L227.2 623.2M101.3 565.2L112.8 565.2M109 564L112.8 565.2L109 566.5M226.2 577.6L218.8 581.7M221.7 581.2L218.8 581.7L220.8 579.6M254.1 581.9L245.3 585.1M248.6 585L245.3 585.1L247.9 583.1M291.8 541.6L295.4 549.5M295.1 546.5L295.4 549.5L293.3 547.3M300.3 533.8L303.4 537.3M302.8 535.8L303.4 537.3L302 536.5M226.5 673L226.6 684.6M227.8 680.8L226.6 684.6L225.3 680.8M252.1 561.1L248.6 562.3M249.9 562.3L248.6 562.3L249.6 561.5M196.8 591.7L195.6 593.2M196.2 592.8L195.6 593.2L195.9 592.6M93.9 566L105.5 566M101.7 564.7L105.5 566L101.7 567.2M275 550.4L272.1 554.1M273.5 553.2L272.1 554.1L272.6 552.6M225.2 644L227.9 656.1M228.3 651.8L227.9 656.1L225.7 652.5" fill="none" stroke="#006400" stroke-width="1.6" stroke-linejoin="miter"/>
<clipPath id="b4"><rect x="622.4" y="458.0" width="310.6" height="310.6"/></clipPath><clipPath id="c4"><path d="M261.8 590.5 299.2 583.9 336.9 578.6 376 574.5 416.6 571.7 458.5 570.1 501.8 569.7 547.6 570.5 594.8 572.4 640.7 575.3 676.8 578.4 700.6 581.5 711.2 583.4 721.6 585.7 733 588.9 743.1 592.2 753 596.2 762.7 600.8 772.2 606.1 779.2 610.9 783.2 614.8 785.3 618.6 786 621.7 785.8 625.2 784.9 629 782.9 633.9 780.5 638.3 777.8 642.3 774.7 646 771.2 649.4 763.7 655.3 754.4 661.1 733.1 672.8 712.9 683.2 690.2 693.9 665 704.6 641.6 713.7 586.5 734.1 557.3 745.3 520.4 760.2 480.4 777 436.3 796.4 386 819.3 302.9 858 261.4 877.9 455.8 1077.7 460.9 1070.8 467.3 1063.2 473.4 1056.9 480.8 1050 488.8 1043.4 497.3 1037.1 506.2 1031.1 516.6 1024.6 527.5 1018.5 538.7 1012.7 563.2 1001.3 592.5 989.5 629.6 975.9 669.3 962.3 708.1 950.2 746.3 939.2 784.5 929.3 818.3 921.5 852.8 914.3 880.4 909 938.9 898.6 965 893.5 986.8 888.8 1007 883.8 1028.2 877.7 1047.4 871.2 1064.8 864.3 1081.5 856.5 1092.9 850.3 1103.9 843.5 1114.5 836.2 1124.5 828.2 1133.9 819.6 1141.9 811.3 1149.2 802.5 1156 793.2 1162 783.5 1167.4 773.4 1171.9 762.9 1175.1 753.3 1177.7 743.4 1179.7 732 1181 720.5 1181.4 708.7 1181.1 698.3 1180.1 686.4 1178.6 675.9 1176.3 664.2 1173.4 652.6 1169.8 641.2 1165.7 630 1161 619 1155.8 608.1 1149.5 596.3 1143.3 585.8 1135.9 574.5 1128.1 563.3 1119.7 552.4 1111 541.8 1101.9 531.5 1091.5 520.4 1080.8 509.6 1068.7 498.3 1056.4 487.3 1043.8 476.8 1031.1 466.6 1018.1 456.9 1003.9 446.8 990.7 437.9 976.1 428.7 961.3 419.9 946.4 411.5 931.3 403.6 916 396 900.6 388.9 885 382.1 854.6 370.1 823.7 359.5 791 349.8 757.9 341.3 723.1 333.8 686.7 327.3 648.5 321.9 610.1 317.6 567.4 314.1 521.8 311.7 476.1 310.4 430.4 310.4 387.4 311.5 344.5 313.9 303.2 317.4 262 322.2Z"/></clipPath><g clip-path="url(#b4)"><g clip-path="url(#c4)"><path d="M602.3 789.8 602.3 793.9 603.8 793.9Z" fill="#00ffff" stroke="#00ffff" stroke-width=".7"/><path d="M607.5 793.9 651.9 793.9 635.6 747.4 630.9 731.9 630.6 726.7 633.1 721.5 633.1 716.3 628.2 710.2 626.2 711.2 626.2 721.5 623 726 620.5 721.5 612.7 713.3 607.9 716.3 607.9 726.7 607.5 727.5 602.3 722.1 602.3 789.8 603.8 793.9Z" fill="#10ffef" stroke="#10ffef" stroke-width=".7"/><path d="M654 793.9 700.8 793.9 688.7 757.7 679.8 734 674.6 721.5 671.6 716.3 665.8 711.2 664.3 710.9 661.8 706 657.1 700.8 654 697.8 649.1 695.7 648.8 690.5 643.7 695.7 638.5 695.7 633.3 700.8 623 700.8 617.8 706 607.5 706 602.3 711.2 602.3 722.1 607.5 727.5 607.9 726.7 607.9 716.3 612.7 713.3 620.5 721.5 623 726 626.2 721.5 626.2 711.2 628.2 710.2 633.1 716.3 633.1 721.5 630.6 726.7 630.9 731.9 635.6 747.4 651.9 793.9ZM679.8 702.2 681.3 700.8 681.3 695.7 679.8 690.2 679.3 690.5 679.3 700.8Z" fill="#20ffdf" stroke="#20ffdf" stroke-width=".7"/><path d="M700.5 793 700.8 793.9 751.2 793.9 741.7 762.9 731.5 732.9 723 711.2 717.9 700.8 713.5 695.7 710.8 694 708.7 690.5 706.9 685.3 705.7 684.1 703.6 685.3 703.6 690.5 700.5 693 699 690.5 695.3 686.9 692.6 685.3 687.4 680.2 687.4 677.8 685 680.2 674.7 680.2 669.5 685.3 664.3 685.3 659.2 690.5 649.1 690.5 649.1 695.7 654 697.8 657.1 700.8 661.8 706 664.3 710.9 665.8 711.2 671.6 716.3 674.6 721.5 686.8 752.5ZM679.3 700.8 679.3 690.5 679.8 690.2 681.3 695.7 681.3 700.8 679.8 702.2Z" fill="#30ffcf" stroke="#30ffcf" stroke-width=".7"/><path d="M752.2 793.9 804.4 793.9 796.7 768 778 716.3 771.8 695.7 769.7 685.3 768.8 675 770.3 659.5 767.7 656 767.2 654.3 756.7 644 756.7 639.4 752.2 644 747 644 742.6 648.4 742.6 649.2 752.9 659.5 753.5 664.7 752.2 665.7 751.7 664.7 741.2 654.3 741.2 649.8 736.7 654.3 731.5 654.3 726.3 659.5 721.2 659.5 716 664.7 710.8 664.7 705.7 669.8 700.5 669.8 695.3 675 690.2 675 687.4 677.8 687.4 680.2 692.6 685.3 695.3 686.9 699 690.5 700.5 693 703.6 690.5 703.6 685.3 705.7 684.1 706.9 685.3 708.7 690.5 710.8 694 713.5 695.7 717.9 700.8 723 711.2 729.2 726.7 741.7 762.9 751.2 793.9Z" fill="#40ffbf" stroke="#40ffbf" stroke-width=".7"/><path d="M803.8 791.7 804.4 793.9 865.8 793.9 863 783.5 859.5 773.2 853.1 757.7 848.1 747.4 836.4 726.7 809 683.9 798.7 665.7 789.1 644 786.2 638.8 787.2 633.7 785.8 628.5 783.2 626.7 778 626.7 774.7 623.3 772.8 622.8 756.7 639.4 756.7 644 767.2 654.3 767.7 656 770.3 659.5 768.8 675 769.7 685.3 771.8 695.7 778 716.3 796.7 768ZM752.2 665.7 753.5 664.7 752.9 659.5 742.6 649.2 742.6 648.4 741.2 649.8 741.2 654.3 751.7 664.7Z" fill="#50ffaf" stroke="#50ffaf" stroke-width=".7"/><path d="M865.8 793.9 955.8 793.9 954.1 783.5 951.3 773.2 947.4 762.9 942.1 752.5 935.5 742.2 931.7 737 922.8 726.7 912.4 716.3 893.9 700.8 872.2 685.3 819.3 650.3 809 642.7 788.3 626.3 783.2 624.2 778 624.2 777.2 623.3 772.8 622 767.7 627.2 767.7 627.9 772.8 622.8 774.7 623.3 778 626.7 783.2 626.7 785.8 628.5 787.2 633.7 786.2 638.8 789.1 644 798.7 665.7 809 683.9 836.4 726.7 848.1 747.4 853.1 757.7 859.5 773.2 863 783.5Z" fill="#60ff9f" stroke="#60ff9f" stroke-width=".7"/><path d="M958.9 793.9 958.9 627 943.4 630.2 927.9 632.3 912.4 633.4 896.9 633.7 871 632.9 840 630 814.2 626 788.3 620.3 783.2 622.5 778 622.5 772.8 621.2 767.7 626.4 767.7 627.2 772.8 622 777.2 623.3 778 624.2 783.2 624.2 788.3 626.3 814.2 646.6 829.7 657.5 879.7 690.5 893.9 700.8 906.6 711.2 922.8 726.7 931.7 737 939 747.4 944.9 757.7 949.5 768 952.9 778.4 955.8 793.9Z" fill="#70ff8f" stroke="#70ff8f" stroke-width=".7"/><path d="M891.7 633.7 912.4 633.4 927.9 632.3 943.4 630.2 958.9 627 958.9 513.8 952 525.2 944.6 535.5 938.2 543.2 930.9 551 922.7 558.6 913 566.5 902 574.1 891.7 580.4 876.2 588.4 854.6 597.5 839.7 602.7 822.7 607.8 803.5 613 788.3 616.3 787.4 618.2 783.2 621.2 778 621.2 772.8 620.5 767.7 625.7 767.7 626.4 772.8 621.2 778 622.5 783.2 622.5 788.3 620.3 814.2 626 840 630 865.8 632.6Z" fill="#80ff80" stroke="#80ff80" stroke-width=".7"/><path d="M770 623.3 772.8 620.5 778 621.2 783.2 621.2 787.4 618.2 788.3 616.3 803.5 613 834.8 604.2 854.6 597.5 871 590.8 888.9 582 905.8 571.7 919.5 561.3 930.9 551 938.2 543.2 944.6 535.5 952 525.2 958.9 513.8 958.9 437.3 924.6 437.3 920.2 452.8 916.6 463.2 910.2 478.7 905.3 489 899.7 499.3 890.1 514.8 882.7 525.2 874.4 535.5 860.2 551 843.9 566.5 831.8 576.8 798.7 603.4 788.3 612.6 785.7 618.2 783.2 620 772.8 619.7 767.7 624.9 767.7 625.7Z" fill="#8fff70" stroke="#8fff70" stroke-width=".7"/><path d="M769.2 623.3 772.8 619.7 783.2 620 785.7 618.2 788.3 612.6 798.7 603.4 831.8 576.8 843.9 566.5 860.2 551 874.4 535.5 882.7 525.2 890.1 514.8 899.7 499.3 905.3 489 910.2 478.7 916.6 463.2 920.2 452.8 924.6 437.3 874.9 437.3 869.6 452.8 863.6 468.3 851.8 494.2 843.6 509.7 834.6 525.2 803.8 572.6 793.5 590 788.3 600.5 785.6 607.8 783.9 618.2 783.2 618.7 772.8 619 767.7 624.1 767.7 624.9Z" fill="#9fff60" stroke="#9fff60" stroke-width=".7"/><path d="M768.5 623.3 772.8 619 783.2 618.7 783.9 618.2 785.6 607.8 788.3 600.5 793.5 590 803.8 572.6 834.6 525.2 843.6 509.7 851.8 494.2 863.6 468.3 869.6 452.8 874.9 437.3 830.2 437.3 816.2 478.7 789.9 545.8 783.2 565.6 780.4 576.8 779.6 582 779.2 587.2 779.5 602.7 778.1 607.8 778.1 613 767.7 623.4 767.7 624.1Z" fill="#afff50" stroke="#afff50" stroke-width=".7"/><path d="M767.7 623.3 778.1 613 778.1 607.8 779.5 602.7 779.2 587.2 779.6 582 780.4 576.8 783.2 565.6 789.9 545.8 816.2 478.7 830.2 437.3 788.4 437.3 772.1 499.3 764.6 530.3 759.7 556.2 756.6 582 753.3 597.5 752.2 598.6 751.1 597.5 751.1 592.3 747 589.3 745.5 592.3 736.7 601.4 732.4 602.7 732.4 607.8 741.8 607.8 747 613 752.2 613 757.3 618.2 762.5 618.2ZM768 607.8 768 602.7 772.8 601.6 773.4 602.7 773.3 607.8 772.8 608.3ZM761.4 602.7 761.4 597.5 762.5 595.5 764.4 597.5 767.3 602.7 762.5 607.4Z" fill="#bfff40" stroke="#bfff40" stroke-width=".7"/><path d="M772.8 608.3 773.3 607.8 773.4 602.7 772.8 601.6 768 602.7 768 607.8ZM731.5 607.8 732.4 607.8 732.4 602.7 736.7 601.4 745.5 592.3 747 589.3 751.1 592.3 751.1 597.5 752.2 598.6 753.3 597.5 756.6 582 759.7 556.2 764.6 530.3 772.1 499.3 788.4 437.3 747.3 437.3 739.6 478.7 734.2 514.8 732 540.7 731.6 556.2 731.9 571.7 731.1 576.8 727.8 587.2 723.8 592.3 718.5 597.5 718.5 602.7 726.3 602.7ZM762.5 607.4 767.3 602.7 764.4 597.5 762.5 595.5 761.4 597.5 761.4 602.7ZM705.7 602.7 708 602.7 708 582 705.7 579.6 704.2 582 694.3 592.3 694.3 597.5 700.5 597.5Z" fill="#cfff30" stroke="#cfff30" stroke-width=".7"/><path d="M710.8 602.7 718.5 602.7 718.5 597.5 723.8 592.3 727.8 587.2 731.1 576.8 731.9 571.7 731.6 556.2 732 540.7 734.2 514.8 739.6 478.7 747.3 437.3 704.6 437.3 699.6 478.7 697.1 514.8 697.2 540.7 700 566.5 700 582 696.7 587.2 691.8 592.3 691.8 597.5 694.3 597.5 694.3 592.3 704.2 582 705.7 579.6 708 582 708 602.7ZM664.3 597.5 668.3 597.5 668.3 576.8 664.3 573.3 662 576.8 652.5 587.2 652.5 592.3 659.2 592.3Z" fill="#dfff20" stroke="#dfff20" stroke-width=".7"/><path d="M669.5 597.5 691.8 597.5 691.8 592.3 696.7 587.2 700 582 700 566.5 697.2 540.7 697.1 514.8 699.6 478.7 704.6 437.3 657.9 437.3 655.1 473.5 654 504.5 654.3 525.2 655.8 556.2 655.6 566.5 656.2 576.8 654.6 582 649.8 587.2 649.8 592.3 652.5 592.3 652.5 587.2 662 576.8 664.3 573.3 668.3 576.8 668.3 597.5Z" fill="#efff10" stroke="#efff10" stroke-width=".7"/><path d="M607.5 592.3 649.8 592.3 649.8 587.2 654.6 582 656.2 576.8 656.2 571.7 655.6 566.5 655.8 556.2 654.2 520 654.2 494.2 655.4 468.3 657.9 437.3 605.1 437.3 602.3 494.8 602.3 570.6 605 571.7 605 592.3Z" fill="#ffff00" stroke="#ffff00" stroke-width=".7"/><path d="M605 587.2 605 571.7 602.3 570.6 602.3 592.3 605 592.3ZM602.4 494.2 605.1 437.3 602.3 437.3Z" fill="#ffef00" stroke="#ffef00" stroke-width=".7"/></g><path d="M628.7 574.5L617.6 549.1M628.7 574.5L649.3 547.7M661.6 577L692.7 550.5M661.6 577L649.3 547.7M694.5 580.6L692.7 550.5M726.9 587.1L742.4 533.4M726.9 587.1L772.5 564.3M726.9 587.1L692.7 550.5M757.9 598.4L772.5 564.3M757.9 598.4L796.2 589.2M782.4 613.9L818.6 617M782.4 613.9L796.2 589.2M782.4 613.9L798.5 635.5M781.9 636L798.5 635.5M781.9 636L789.7 658.5M760.6 657.4L768.4 683M760.6 657.4L789.7 658.5M731.8 673.5L738.1 704.7M731.8 673.5L768.4 683M702.2 688.4L738.1 704.7M702.2 688.4L703.1 723.3M672 701.7L665.8 740.5M672 701.7L703.1 723.3M641.2 713.8L624.3 755M641.2 713.8L665.8 740.5M610.2 725.3L624.3 755M933.9 404.9L881.4 454.1M933.9 404.9L944.6 460.5M871 376.4L881.4 454.1M983.9 484.1L932.6 520.4M997.5 577.7L932.6 520.4M997.5 577.7L930 584.8M887.8 716.9L936.9 698.6M887.8 716.9L895.7 665.9M887.8 716.9L940.3 749.2M887.8 716.9L874.5 779.4M887.8 716.9L849 681.3M887.8 716.9L831.9 726M565.2 489.7L626.4 442.7M565.2 489.7L626 511.1M956.9 643.9L936.9 698.6M956.9 643.9L892.9 617.1M956.9 643.9L895.7 665.9M956.9 643.9L930 584.8M700.3 764.5L700.1 813.6M700.3 764.5L738.1 783.5M700.3 764.5L657 786.9M700.3 764.5L665.8 740.5M700.3 764.5L703.1 723.3M700.3 764.5L741.9 743.8M881.4 454.1L932.6 520.4M881.4 454.1L815.4 423M881.4 454.1L821.3 477.4M881.4 454.1L853.1 516.2M881.4 454.1L944.6 460.5M806.9 686.7L780.3 719.1M806.9 686.7L768.4 683M806.9 686.7L819.5 652.9M806.9 686.7L849 681.3M806.9 686.7L831.9 726M806.9 686.7L789.7 658.5M626.4 442.7L665.2 486.2M626.4 442.7L626 511.1M826.7 837.4L793 773.1M750.7 403.8L761.6 473M617.6 549.1L626 511.1M617.6 549.1L649.3 547.7M852.7 604.8L872.2 568.8M852.7 604.8L818.6 617M852.7 604.8L892.9 617.1M852.7 604.8L830.7 586.6M852.7 604.8L854.1 639.3M872.2 568.8L932.6 520.4M872.2 568.8L892.9 617.1M872.2 568.8L830.7 586.6M872.2 568.8L819.1 557.3M872.2 568.8L853.1 516.2M872.2 568.8L930 584.8M665.2 486.2L698.8 449.5M665.2 486.2L705.1 502.9M665.2 486.2L668 520.6M665.2 486.2L626 511.1M936.9 698.6L895.7 665.9M936.9 698.6L940.3 749.2M936.9 698.6L1004.6 717.3M586.2 538.2L626 511.1M794.8 520.4L742.4 533.4M794.8 520.4L761.6 473M794.8 520.4L772.5 564.3M794.8 520.4L819.1 557.3M794.8 520.4L821.3 477.4M794.8 520.4L853.1 516.2M624.3 755L657 786.9M624.3 755L665.8 740.5M624.3 755L582.4 772.3M624.3 755L616.1 797.7M624.3 755L598.9 747.6M742.4 533.4L761.6 473M742.4 533.4L705.1 502.9M742.4 533.4L772.5 564.3M742.4 533.4L692.7 550.5M932.6 520.4L853.1 516.2M932.6 520.4L944.6 460.5M932.6 520.4L930 584.8M932.6 520.4L1001.5 520.2M818.6 617L830.7 586.6M818.6 617L819.5 652.9M818.6 617L796.2 589.2M818.6 617L854.1 639.3M818.6 617L798.5 635.5M761.6 473L698.8 449.5M761.6 473L815.4 423M761.6 473L705.1 502.9M761.6 473L821.3 477.4M738.1 783.5L793 773.1M738.1 783.5L741.9 743.8M892.9 617.1L895.7 665.9M892.9 617.1L854.1 639.3M892.9 617.1L930 584.8M780.3 719.1L738.1 704.7M780.3 719.1L768.4 683M780.3 719.1L831.9 726M780.3 719.1L793 773.1M780.3 719.1L741.9 743.8M698.8 449.5L705.1 502.9M815.4 423L821.3 477.4M830.7 586.6L819.1 557.3M830.7 586.6L796.2 589.2M738.1 704.7L768.4 683M738.1 704.7L703.1 723.3M738.1 704.7L741.9 743.8M705.1 502.9L692.7 550.5M705.1 502.9L668 520.6M895.7 665.9L854.1 639.3M895.7 665.9L849 681.3M940.3 749.2L874.5 779.4M874.5 779.4L831.9 726M874.5 779.4L793 773.1M768.4 683L789.7 658.5M819.5 652.9L854.1 639.3M819.5 652.9L849 681.3M819.5 652.9L798.5 635.5M819.5 652.9L789.7 658.5M657 786.9L665.8 740.5M665.8 740.5L703.1 723.3M772.5 564.3L819.1 557.3M772.5 564.3L796.2 589.2M819.1 557.3L796.2 589.2M819.1 557.3L853.1 516.2M821.3 477.4L853.1 516.2M854.1 639.3L849 681.3M692.7 550.5L668 520.6M692.7 550.5L649.3 547.7M668 520.6L626 511.1M668 520.6L649.3 547.7M849 681.3L831.9 726M626 511.1L649.3 547.7M703.1 723.3L741.9 743.8M831.9 726L793 773.1M798.5 635.5L789.7 658.5M793 773.1L757.8 827M793 773.1L741.9 743.8" fill="none" stroke="#9999ff" stroke-width="1.3"/><path d="M261.8 590.5 299.2 583.9 336.9 578.6 376 574.5 416.6 571.7 458.5 570.1 501.8 569.7 547.6 570.5 594.8 572.4 640.7 575.3 676.8 578.4 700.6 581.5 711.2 583.4 721.6 585.7 733 588.9 743.1 592.2 753 596.2 762.7 600.8 772.2 606.1 779.2 610.9 783.2 614.8 785.3 618.6 786 621.7 785.8 625.2 784.9 629 782.9 633.9 780.5 638.3 777.8 642.3 774.7 646 771.2 649.4 763.7 655.3 754.4 661.1 733.1 672.8 712.9 683.2 690.2 693.9 665 704.6 641.6 713.7 586.5 734.1 557.3 745.3 520.4 760.2 480.4 777 436.3 796.4 386 819.3 302.9 858 261.4 877.9 455.8 1077.7 460.9 1070.8 467.3 1063.2 473.4 1056.9 480.8 1050 488.8 1043.4 497.3 1037.1 506.2 1031.1 516.6 1024.6 527.5 1018.5 538.7 1012.7 563.2 1001.3 592.5 989.5 629.6 975.9 669.3 962.3 708.1 950.2 746.3 939.2 784.5 929.3 818.3 921.5 852.8 914.3 880.4 909 938.9 898.6 965 893.5 986.8 888.8 1007 883.8 1028.2 877.7 1047.4 871.2 1064.8 864.3 1081.5 856.5 1092.9 850.3 1103.9 843.5 1114.5 836.2 1124.5 828.2 1133.9 819.6 1141.9 811.3 1149.2 802.5 1156 793.2 1162 783.5 1167.4 773.4 1171.9 762.9 1175.1 753.3 1177.7 743.4 1179.7 732 1181 720.5 1181.4 708.7 1181.1 698.3 1180.1 686.4 1178.6 675.9 1176.3 664.2 1173.4 652.6 1169.8 641.2 1165.7 630 1161 619 1155.8 608.1 1149.5 596.3 1143.3 585.8 1135.9 574.5 1128.1 563.3 1119.7 552.4 1111 541.8 1101.9 531.5 1091.5 520.4 1080.8 509.6 1068.7 498.3 1056.4 487.3 1043.8 476.8 1031.1 466.6 1018.1 456.9 1003.9 446.8 990.7 437.9 976.1 428.7 961.3 419.9 946.4 411.5 931.3 403.6 916 396 900.6 388.9 885 382.1 854.6 370.1 823.7 359.5 791 349.8 757.9 341.3 723.1 333.8 686.7 327.3 648.5 321.9 610.1 317.6 567.4 314.1 521.8 311.7 476.1 310.4 430.4 310.4 387.4 311.5 344.5 313.9 303.2 317.4 262 322.2" fill="none" stroke="#9999ff" stroke-width="1.5"/><path d="M605.7 503.9L624.7 505.4M618.6 502.9L624.7 505.4L618.3 507M605.9 481.2L627.6 482.9M620.6 480L627.6 482.9L620.2 484.7M606 458.4L629 460.4M621.6 457.2L629 460.4L621.2 462.2M609.9 532.8L623.3 533.7M619 532L623.3 533.7L618.8 534.9M612.7 520.1L629 521.4M623.7 519.2L629 521.4L623.5 522.7M617.6 549.1L627 549.6M623.9 548.4L627 549.6L623.8 550.5M620.4 536.4L633.2 537.3M629 535.6L633.2 537.3L628.8 538.4M621.3 557.5L628.3 557.9M626 557L628.3 557.9L625.9 558.5M621.6 769.2L607.5 774.4M612.7 774.3L607.5 774.4L611.6 771.2M623.2 523.7L638.9 525M633.9 522.9L638.9 525L633.6 526.3M624.3 755L613.2 759.1M617.3 759L613.2 759.1L616.4 756.5M625 566L629.5 566.2M628 565.6L629.5 566.2L628 566.6M625.2 731.4L620.4 733.2M622.2 733.1L620.4 733.2L621.8 732M626 511.1L644.2 512.7M638.3 510.2L644.2 512.7L638 514.1M626.1 488.3L647.4 490.3M640.6 487.3L647.4 490.3L640.2 492M626.3 465.5L649.2 467.8M641.9 464.6L649.2 467.8L641.4 469.6M628.2 548.6L638 549.2M634.8 548L638 549.2L634.7 550.1M629.9 741.3L621.8 744.3M624.8 744.2L621.8 744.3L624.1 742.4M631 535.9L644.2 537M639.9 535.2L644.2 537L639.7 538.1M631.9 557.1L639.3 557.5M636.9 556.5L639.3 557.5L636.8 558.2M633.8 523.3L649.9 524.7M644.7 522.5L649.9 524.7L644.4 526M635.2 765.6L620.8 770.9M626.1 770.7L620.8 770.9L625 767.6M635.6 727.5L630.6 729.4M632.5 729.3L630.6 729.4L632.1 728.2M635.6 565.6L640.4 565.8M638.8 565.2L640.4 565.8L638.8 566.2M638.1 750.1L626.9 754.3M631.1 754.1L626.9 754.3L630.2 751.7M638.7 548.1L649 548.9M645.7 547.5L649 548.9L645.6 549.8M639 502.8L658.8 504.8M652.5 502L658.8 504.8L652.1 506.3M639.2 480L661.4 482.4M654.3 479.2L661.4 482.4L653.8 484M639.3 457.2L662.5 459.9M655.2 456.5L662.5 459.9L654.6 461.5M640 514.2L657.9 516.1M652.2 513.5L657.9 516.1L651.8 517.4M641.5 535.5L655.2 536.7M650.8 534.8L655.2 536.7L650.6 537.8M642.4 556.6L650.4 557.2M647.8 556.1L650.4 557.2L647.7 557.9M643.8 736.4L635.5 739.5M638.6 739.4L635.5 739.5L637.9 737.6M646.5 566.4L651.5 566.7M649.9 566L651.5 566.7L649.8 567.1M647.8 526.5L663.6 528.1M658.6 525.8L663.6 528.1L658.2 529.3M649 760.8L634.7 766.1M640 765.9L634.7 766.1L638.8 762.8M649.3 547.7L660.1 548.7M656.7 547.2L660.1 548.7L656.4 549.5M649.4 722.7L644.5 724.7M646.3 724.5L644.5 724.7L645.9 723.5M652 745.3L640.8 749.5M644.9 749.4L640.8 749.5L644 746.9M652.1 494.5L673.2 497M666.5 493.9L673.2 497L666 498.5M652.3 471.7L675.1 474.6M667.9 471.1L675.1 474.6L667.3 476.1M653 505.9L672.7 508.3M666.4 505.4L672.7 508.3L665.9 509.6M653.4 557.5L661.5 558.2M658.9 557.1L661.5 558.2L658.8 558.8M654 517.4L671.7 519.5M666.1 516.9L671.7 519.5L665.7 520.7M655.5 538.7L668.9 540.1M664.6 538.2L668.9 540.1L664.3 541.1M657.5 567.2L662.6 567.8M661 567L662.6 567.8L660.8 568.1M657.6 731.6L649.3 734.8M652.4 734.6L649.3 734.8L651.7 732.8M659.7 718.7L654.7 720.6M656.6 720.5L654.7 720.6L656.1 719.4M661.8 529.6L677.4 531.5M672.4 529.2L677.4 531.5L672 532.6M662.9 755.9L648.5 761.3M653.8 761.1L648.5 761.3L652.7 758M663.5 459.5L686.8 462.7M679.4 459.1L686.8 462.7L678.7 464.2M663.8 548.6L674.8 549.9M671.3 548.3L674.8 549.9L671 550.7M665.2 486.2L687.3 489.2M680.3 485.8L687.3 489.2L679.7 490.6M665.8 740.5L654.6 744.8M658.7 744.6L654.6 744.8L657.8 742.1M666.1 497.6L687.1 500.5M680.5 497.3L687.1 500.5L679.9 501.9M667 509.1L686.5 511.8M680.4 508.8L686.5 511.8L679.8 513M667.9 727.5L659.6 730.8M662.7 730.6L659.6 730.8L662 728.8M667.9 558.4L676.1 559.5M673.5 558.2L676.1 559.5L673.3 560M668 520.6L685.6 523M680 520.3L685.6 523L679.5 524.1M669.9 714.6L665 716.6M666.8 716.5L665 716.6L666.4 715.4M670 539.6L683.6 541.4M679.3 539.3L683.6 541.4L678.9 542.3M672 568.1L677.1 568.9M675.5 568.1L677.1 568.9L675.4 569.2M674.4 763.9L657.8 770.2M663.9 769.9L657.8 770.2L662.6 766.3M676.2 530.6L692.1 532.9M687.1 530.4L692.1 532.9L686.6 533.8M676.4 473.9L699.4 477.5M692.2 473.8L699.4 477.5L691.4 478.9M677.3 748.5L663.4 753.8M668.6 753.6L663.4 753.8L667.4 750.5M678.2 734.7L667.3 739M671.4 738.8L667.3 739L670.4 736.4M678.3 549.5L689.6 551.1M686 549.4L689.6 551.1L685.7 551.8M678.5 491.7L700.3 495.2M693.5 491.7L700.3 495.2L692.8 496.4M679.4 503.2L700 506.5M693.6 503.1L700 506.5L692.9 507.6M680.3 721.8L672.3 725M675.3 724.8L672.3 725L674.6 723.1M680.4 514.7L699.4 517.7M693.4 514.6L699.4 517.7L692.8 518.8M682.4 708.9L677.7 710.8M679.4 710.7L677.7 710.8L679 709.6M682.4 559.3L690.9 560.5M688.2 559.2L690.9 560.5L688 561M683 569.3L688.2 570M686.6 569.2L688.2 570L686.4 570.3M684.5 540.5L698.4 542.7M694.1 540.4L698.4 542.7L693.6 543.5M687.6 461.7L710.9 465.8M703.7 461.9L710.9 465.8L702.8 467M688.6 524.7L706.2 527.6M700.7 524.7L706.2 527.6L700.1 528.5M688.8 756.5L672.7 762.7M678.7 762.4L672.7 762.7L677.3 758.9M689.7 742.7L676.1 748.1M681.2 747.8L676.1 748.1L680 744.9M689.7 479.5L712.6 483.6M705.5 479.7L712.6 483.6L704.6 484.7M690.6 729L680 733.4M684 733.1L680 733.4L683 730.8M691.8 497.3L713.4 501.2M706.7 497.6L713.4 501.2L705.8 502.2M692.4 704.4L687.8 706.4M689.6 706.3L687.8 706.4L689.1 705.3M692.7 716.1L684.9 719.3M687.9 719.1L684.9 719.3L687.2 717.4M692.7 550.5L704.5 552.4M700.8 550.5L704.5 552.4L700.4 553M692.8 508.8L713 512.4M706.7 509L713 512.4L705.9 513.4M693.3 560.5L702.2 561.9M699.4 560.5L702.2 561.9L699.1 562.4M693.9 570.5L699.5 571.3M697.7 570.4L699.5 571.3L697.5 571.6M696.9 534.6L712.7 537.5M707.8 534.8L712.7 537.5L707.2 538.3M700.3 764.5L682.4 771.4M689 771.1L682.4 771.4L687.5 767.2M700.9 467.3L724.2 471.8M717 467.8L724.2 471.8L716.1 472.9M701 518.8L720 522.5M714.1 519.2L720 522.5L713.3 523.3M701.2 750.7L685.4 757M691.3 756.7L685.4 757L689.9 753.2M702.1 737L688.8 742.5M693.8 742.1L688.8 742.5L692.6 739.2M702.5 700L698 702.1M699.7 701.9L698 702.1L699.3 700.9M702.8 711.6L695.1 715M698 714.7L695.1 715L697.3 713M703 485.1L725.7 489.6M718.7 485.7L725.7 489.6L717.8 490.6M703.1 723.3L692.6 727.7M696.6 727.4L692.6 727.7L695.6 725.1M704.1 562.7L712.9 564.3M710.2 562.8L712.9 564.3L709.9 564.7M704.7 572.7L710.1 573.8M708.4 572.9L710.1 573.8L708.2 574M705.1 502.9L726.4 507.2M719.8 503.5L726.4 507.2L718.9 508.1M709.3 544.8L723.5 547.7M719.1 545.2L723.5 547.7L718.5 548.3M713.4 528.9L731.2 532.9M725.8 529.7L731.2 532.9L724.9 533.5M714.1 757.6L696.6 764.6M703.2 764.2L696.6 764.6L701.7 760.4M714.2 693.8L710 695.8M711.6 695.6L710 695.8L711.1 694.7M714.5 705.4L707.2 708.8M710 708.5L707.2 708.8L709.2 706.9M714.7 717.1L704.7 721.6M708.5 721.2L704.7 721.6L707.5 719M715.1 743.9L699.7 750.3M705.5 749.8L699.7 750.3L704.1 746.5M715.5 574.9L720.9 576M719.2 575.1L720.9 576L719 576.2M716 730.1L703.1 735.7M708 735.3L703.1 735.7L706.8 732.5M717.6 513.1L737.9 517.8M731.7 514L737.9 517.8L730.7 518.5M719.8 457.4L742.9 462.6M735.8 458.3L742.9 462.6L734.7 463.4M720.7 557L732.3 559.8M728.8 557.6L732.3 559.8L728.2 560.2M721.9 475.2L745 480.6M738 476.3L745 480.6L736.8 481.3M724 492.9L746.4 498.4M739.6 494.2L746.4 498.4L738.4 499.1M724 688.9L719.9 690.9M721.5 690.7L719.9 690.9L721 689.8M725.9 539.1L742.2 543.4M737.3 540.2L742.2 543.4L736.4 543.7M726.1 699.2L719.1 702.6M721.8 702.3L719.1 702.6L721.1 700.8M726.4 710.9L716.7 715.5M720.4 715L716.7 715.5L719.4 712.9M726.8 763.9L708 771.6M715 771.1L708 771.6L713.4 767M727.7 723.9L715.1 729.7M719.9 729.1L715.1 729.7L718.7 726.4M728 750.7L710.9 757.9M717.4 757.4L710.9 757.9L715.8 753.7M729 737L714 743.6M719.6 743.1L714 743.6L718.2 739.8M730 523.2L749.3 528.5M743.5 524.6L749.3 528.5L742.4 528.8M732.1 569.2L741 571.8M738.3 570L741 571.8L737.7 571.9M733.9 683.9L729.8 686M731.4 685.8L729.8 686L730.9 684.9M736 694.3L729.1 697.8M731.7 697.4L729.1 697.8L731 695.9M736.4 503.1L758.2 509.2M751.6 504.8L758.2 509.2L750.3 509.6M737.2 551.3L751.5 555.7M747.3 552.7L751.5 555.7L746.3 555.8M738.1 704.7L728.6 709.4M732.3 708.9L728.6 709.4L731.2 706.8M739.3 717.7L727.1 723.7M731.8 723L727.1 723.7L730.5 720.4M740.6 730.8L726 737.6M731.6 737L726 737.6L730.1 733.8M740.6 757L722.3 765M729.2 764.3L722.3 765L727.5 760.4M740.7 465.2L763.6 471.4M756.7 466.8L763.6 471.4L755.4 471.8M741.9 743.8L725.2 751.4M731.6 750.7L725.2 751.4L729.9 747.1M742.1 579.5L748.5 581.8M746.7 580.3L748.5 581.8L746.2 581.7M742.4 533.4L760.6 539.2M755.2 535.3L760.6 539.2L754 539.3M742.8 483L765.6 489.5M758.8 484.9L765.6 489.5L757.4 489.8M744 676.7L740.3 678.7M741.8 678.4L740.3 678.7L741.3 677.6M746.1 687.1L739.7 690.6M742.2 690.2L739.7 690.6L741.4 688.8M747.3 561.6L759.7 566.2M756.1 563.3L759.7 566.2L755.1 566M748.2 697.5L739.3 702.3M742.7 701.7L739.3 702.3L741.7 699.8M748.8 513.3L769.8 520.1M763.6 515.6L769.8 520.1L762.1 520.1M752.1 709.5L740.5 715.7M745 714.9L740.5 715.7L743.7 712.4M752.4 583.3L758.9 586.1M757 584.5L758.9 586.1L756.4 585.9M752.5 543.7L769.3 549.9M764.4 546.1L769.3 549.9L763 549.7M753.4 722.5L739.5 729.7M744.9 728.9L739.5 729.7L743.3 725.8M753.6 671.3L750 673.6M751.4 673.3L750 673.6L750.9 672.5M754.7 735.6L738.7 743.5M744.8 742.6L738.7 743.5L743.1 739.1M755.2 493.2L777.6 500.5M771 495.6L777.6 500.5L769.4 500.5M756.2 679.9L750.2 683.6M752.6 683L750.2 683.6L751.7 681.7M757.3 571.9L767.9 576.6M764.9 573.9L767.9 576.6L763.9 576.2M757.7 766.8L738.1 775.4M745.5 774.7L738.1 775.4L743.6 770.4M757.9 449.9L779.8 456.4M773.3 451.9L779.8 456.4L771.9 456.7M758.3 690.2L749.8 695.4M753.2 694.6L749.8 695.4L752.1 692.8M758.9 753.6L740.6 762.1M747.6 761.3L740.6 762.1L745.7 757.3M759.9 529.1L779.3 536.5M773.7 532L779.3 536.5L772.1 536.2M761.6 473L784.2 480.4M777.5 475.5L784.2 480.4L775.9 480.4M762.2 702.3L751.2 708.9M755.5 707.9L751.2 708.9L754.1 705.5M762.5 554L777.8 560.8M773.5 556.9L777.8 560.8L772 560.2M762.8 587L769.4 590.5M767.6 588.6L769.4 590.5L766.9 590.1M763.2 665.9L759.4 668.7M761 668.2L759.4 668.7L760.4 667.4M765.8 674.5L759.8 678.8M762.2 678L759.8 678.8L761.3 676.7M766.2 714.3L752.9 722M758.1 720.9L752.9 722L756.4 718M766.3 508.9L787.8 517.1M781.6 512.1L787.8 517.1L779.8 516.7M767.5 727.3L752.2 735.7M758.1 734.6L752.2 735.7L756.3 731.3M767.7 575.7L778.3 581.4M775.4 578.3L778.3 581.4L774.2 580.6M768.4 683L760.3 688.7M763.6 687.7L760.3 688.7L762.4 685.9M769.9 539.4L788.1 547.6M783 542.9L788.1 547.6L781.2 546.8M770.3 657.8L767.2 660.5M768.6 659.9L767.2 660.5L768 659.2M770.7 595.3L776 598.7M774.6 597L776 598.7L773.9 598.1M771.7 745.3L754.1 754.4M760.9 753.3L754.1 754.4L759 749.5M772.3 695.1L761.8 702.2M766.1 701L761.8 702.2L764.5 698.7M772.5 564.3L786.3 571.7M782.6 567.8L786.3 571.7L781 570.8M772.7 488.8L795 497.1M788.5 491.9L795 497.1L786.7 496.8M772.9 666.3L767.6 670.8M769.9 669.9L767.6 670.8L768.9 668.7M775.5 674.8L768.3 680.8M771.3 679.6L768.3 680.8L770 678M775.6 584L784.9 590.1M782.5 587L784.9 590.1L781.2 589.1M775.9 763.3L756.7 772.6M764.1 771.6L756.7 772.6L762.1 767.4M776.3 707.1L763.6 715.4M768.7 714L763.6 715.4L766.9 711.3M777.4 650.6L774.6 653.8M775.9 653.1L774.6 653.8L775.2 652.5M777.4 524.7L797.5 533.8M791.8 528.6L797.5 533.8L789.8 533M778.8 600.5L784.2 604.9M782.9 602.9L784.2 604.9L781.9 604M779.5 456.3L800.9 463.8M794.7 459L800.9 463.8L793 463.7M780 549.7L796.8 558.7M792.3 553.9L796.8 558.7L790.3 557.6M780 658.1L775.4 663.1M777.5 661.9L775.4 663.1L776.4 660.9M780.3 719.1L765.7 728.2M771.5 726.8L765.7 728.2L769.5 723.6M780.4 572.6L793 580.7M789.7 576.7L793 580.7L788 579.4M781.2 684.2L771.9 691.9M775.8 690.4L771.9 691.9L774.1 688.3M781.5 474.5L803.5 482.8M797.1 477.7L803.5 482.8L795.3 482.5M782.6 666.7L776.2 673.1M779 671.7L776.2 673.1L777.6 670.3M783.4 592.3L791.7 599.2M789.7 596L791.7 599.2L788.2 597.8M783.8 504.6L805.3 514M799.2 508.5L805.3 514L797.1 513.2M784.5 643.5L781.9 647.9M783.2 646.8L781.9 647.9L782.3 646.2M784.5 737.1L767.7 746.8M774.3 745.4L767.7 746.8L772.2 741.7M785.2 696.3L773.7 705.1M778.4 703.4L773.7 705.1L776.5 700.9M787 605.7L792.2 612.1M791.2 609.4L792.2 612.1L789.8 610.6M787.1 651L783 657.1M785 655.5L783 657.1L783.7 654.6M787.4 635.8L785.7 640.6M786.8 639.2L785.7 640.6L785.7 638.9M787.4 535L806.4 545.1M801.2 539.7L806.4 545.1L799 543.8M788.1 562L803.1 571.8M799.2 566.9L803.1 571.8L797.1 570.2M788.3 676.1L779.9 684.3M783.6 682.5L779.9 684.3L781.8 680.7M788.3 580.9L799.6 589.9M796.9 585.7L799.6 589.9L794.9 588.2M788.7 755.1L770.3 764.9M777.5 763.7L770.3 764.9L775.3 759.6M789.1 708.3L775.8 717.9M781.3 716.2L775.8 717.9L779.2 713.3M789.7 658.5L784.1 665.9M786.8 664L784.1 665.9L785.2 662.8M790 643.3L787 649.7M788.7 648L787 649.7L787.3 647.3M791.6 597.5L799.3 606.2M797.7 602.5L799.3 606.2L795.8 604.1M792.6 490.3L814.2 499.7M808.1 494.3L814.2 499.7L806 499M792.6 650.8L788.2 658.5M790.5 656.5L788.2 658.5L788.8 655.5M793 635.7L791.1 642.8M792.5 640.7L791.1 642.8L790.9 640.3M793.1 628.3L792.7 635.6M793.6 633.3L792.7 635.6L792 633.2M794 685.5L783.9 695.1M788.3 693L783.9 695.1L786.2 690.8M794.5 614.9L797.6 623.5M797.5 620.4L797.6 623.5L795.6 621M794.8 520.4L815.1 531M809.6 525.3L815.1 531L807.3 529.7M795.4 667.9L788 677.1M791.4 674.8L788 677.1L789.4 673.2M795.5 547.3L812.9 558.3M808.4 552.8L812.9 558.3L806 556.6M795.6 643.2L792.3 651.4M794.3 649.1L792.3 651.4L792.5 648.4M796 570.3L809.7 581.1M806.3 576L809.7 581.1L804 579M796.2 589.2L806.1 599.6M803.9 595.1L806.1 599.6L801.7 597.2M797.5 721.4L782.4 731.9M788.5 730.1L782.4 731.9L786.2 726.8M798 697.5L786 707.9M791.1 705.8L786 707.9L788.8 703.1M798.5 635.5L796.7 644.7M798.3 641.9L796.7 644.7L796.3 641.5M799.1 606.7L804.7 617.2M804 613.1L804.7 617.2L801.7 614.3M799.4 457.8L819.9 466M814 461L819.9 466L812.2 465.5M799.6 656.6L793.9 666.3M796.9 663.7L793.9 666.3L794.8 662.5M799.8 622.1L801.2 632.2M801.8 628.7L801.2 632.2L799.6 629M801.2 677.3L792 687.7M796.2 685.3L792 687.7L793.9 683.3M801.4 475.9L822.5 485.2M816.5 479.8L822.5 485.2L814.5 484.4M801.7 739.4L784.8 750M791.6 748.4L784.8 750L789.2 744.7M802.6 649L798.2 659.3M800.7 656.3L798.2 659.3L798.5 655.4M802.9 532.7L821.9 544.2M816.9 538.4L821.9 544.2L814.4 542.5M803.6 559.6L819.2 571.7M815.4 566L819.2 571.7L812.7 569.4M803.7 506L824.5 516.8M818.8 511L824.5 516.8L816.4 515.5M803.7 598.5L811.5 610.3M810.2 605.6L811.5 610.3L807.7 607.3M803.9 578.6L816.1 590.7M813.4 585.3L816.1 590.7L810.7 588M805.2 629.3L804.9 640.7M806.2 637L804.9 640.7L803.8 636.9M805.4 666L798 677.1M801.6 674.2L798 677.1L799.2 672.6M805.5 641.3L802.6 652.4M804.8 649.1L802.6 652.4L802.3 648.4M806 757.4L787.8 767.8M794.9 766.3L787.8 767.8L792.6 762.4M806.4 710.6L792.6 721.9M798.4 719.7L792.6 721.9L795.9 716.7M806.5 615.9L809.8 628.1M810 623.7L809.8 628.1L807.4 624.5M806.9 686.7L796.3 698.1M801 695.5L796.3 698.1L798.5 693.2M807.7 588.4L818 601.1M816 595.8L818 601.1L813.2 598M809.6 654.7L804.1 666.6M807.2 663.3L804.1 666.6L804.6 662.1M811 545L828.5 557.6M824.1 551.5L828.5 557.6L821.4 555.3M811.1 675.4L802.2 687.4M806.4 684.4L802.2 687.4L803.8 682.5M811.1 607.7L816.7 621.1M816.3 616L816.7 621.1L813.4 617.3M811.5 567.9L825.6 581.1M822.4 575.2L825.6 581.1L819.5 578.3M811.9 623.1L813.4 636.3M814.3 631.8L813.4 636.3L811.5 632.1M812.2 635.1L810.8 647.9M812.7 643.9L810.8 647.9L809.9 643.6M812.5 647.1L808.6 659.7M811.2 655.9L808.6 659.7L808.5 655.1M812.5 491.7L833.2 502.2M827.5 496.5L833.2 502.2L825.2 501M814.3 519L834 531M828.8 524.9L834 531L826.2 529.2M814.7 723.7L799.6 735.4M805.9 733.2L799.6 735.4L803.3 729.9M815.2 597.6L823.3 611.7M822.1 606.2L823.3 611.7L819.1 607.9M815.2 699.8L802.9 712M808.3 709.3L802.9 712L805.6 706.6M815.3 664.1L808.3 676.9M812 673.4L808.3 676.9L809.2 671.9M815.4 577.7L827.7 591.6M825.1 585.7L827.7 591.6L822.1 588.3M818.6 617L821.8 631.5M822.3 626.4L821.8 631.5L819.2 627.1M818.9 628.9L819.2 643.3M820.6 638.5L819.2 643.3L817.5 638.6M818.9 741.7L802.3 753.1M809 751.1L802.3 753.1L806.5 747.5M819.1 557.3L834.7 571.1M831.1 564.8L834.7 571.1L828.1 568.2M819.2 640.9L816.7 654.9M819.1 650.5L816.7 654.9L816 650M819.2 587.5L829.5 602.1M827.7 596.1L829.5 602.1L824.5 598.4M819.3 459.3L838.6 468M833.2 463L838.6 468L831.3 467.2M819.5 652.9L814.6 666.5M817.7 662.6L814.6 666.5L814.7 661.5M820.9 684.9L810.8 698M815.6 694.8L810.8 698L812.7 692.5M821.3 477.4L841.3 487.4M835.8 481.9L841.3 487.4L833.6 486.2M822.4 531.3L840.8 544.3M836.1 538L840.8 544.3L833.3 542M822.6 606.9L828.5 622.1M828.2 616.4L828.5 622.1L824.9 617.7M823 567.1L837 581.6M834 575.2L837 581.6L830.8 578.3M823.1 504.7L843 516.4M837.7 510.3L843 516.4L835.1 514.7M823.6 712.9L809.9 725.5M815.8 722.8L809.9 725.5L813 719.8M825.1 673.6L816.8 687.5M821.1 683.8L816.8 687.5L818 682M826.7 596.8L834.8 612.4M833.9 606.3L834.8 612.4L830.4 608.1M826.9 576.9L839.1 592M836.7 585.7L839.1 592L833.4 588.4M829.3 698L817.6 711.5M822.9 708.3L817.6 711.5L820 705.7M829.3 662.3L823 677M826.7 672.9L823 677L823.5 671.5M830 612.9L834.3 629.1M834.6 623.3L834.3 629.1L831.1 624.2M830.4 624.4L832.1 640.4M833.3 635L832.1 640.4L829.8 635.3M830.5 543.6L847.3 557.8M843.3 551.2L847.3 557.8L840.2 554.9M830.7 636.4L829.6 652.1M831.7 647L829.6 652.1L828.3 646.8M830.7 586.6L841 602.5M839.3 596.2L841 602.5L835.9 598.4M831 648.3L827.4 663.7M830.3 659L827.4 663.7L826.9 658.3M831.9 490.3L851.4 501.4M846.2 495.7L851.4 501.4L843.7 499.9M831.9 726L817.2 738.6M823.4 736L817.2 738.6L820.7 732.8M833.1 759.5L816 770.5M822.8 768.7L816 770.5L820.4 765M833.7 517.6L852.4 530.5M847.6 524.2L852.4 530.5L844.8 528.3M834 602.8L840.7 619.3M840.3 613.1L840.7 619.3L836.7 614.6M835 683.1L825.5 697.6M830.2 693.8L825.5 697.6L827.1 691.7M836.8 561.1L851.2 576.5M848.1 569.9L851.2 576.5L844.8 573M837.6 711.1L824.7 724.6M830.4 721.5L824.7 724.6L827.5 718.7M838.1 592.7L846.9 609.4M845.8 602.9L846.9 609.4L842.1 604.8M839.2 671.8L831.7 687.1M835.8 682.8L831.7 687.1L832.5 681.2M839.4 451.5L856.5 459.8M851.8 455.2L856.5 459.8L849.9 458.9M840.7 570.9L853.4 587M851 580.3L853.4 587L847.5 583.1M840.9 657.8L835.8 673.8M839.2 669.1L835.8 673.8L835.8 668M841.3 469.6L859.6 479.4M854.6 474.2L859.6 479.4L852.5 478.1M841.3 608.9L846.6 626M846.8 619.8L846.6 626L843 620.9M841.8 620.4L844.5 637.5M845.5 631.5L844.5 637.5L841.8 632.1M841.8 529.9L859.3 543.9M855 537.4L859.3 543.9L852 541.2M842.2 631.9L842.5 648.8M844.2 643.2L842.5 648.8L840.5 643.2M842.5 503.3L861.2 515.5M856.3 509.5L861.2 515.5L853.7 513.5M842.5 643.8L840.3 660.5M842.8 655.2L840.3 660.5L839.2 654.7M843.3 696.2L832.4 710.6M837.6 707.1L832.4 710.6L834.5 704.7M844.6 580.7L855.5 597.4M853.7 590.7L855.5 597.4L850 593.1M845.4 598.8L852.8 616M852.2 609.5L852.8 616L848.5 611.1M846.1 743.8L830.6 755.9M837 753.6L830.6 755.9L834.4 750.2M848.1 547.4L863.6 562.7M860.2 556L863.6 562.7L856.9 559.4M849 681.3L840.5 696.8M845 692.6L840.5 696.8L841.6 690.7M850.5 722.9L837 736.3M842.9 733.4L837 736.3L840 730.4M850.7 667.3L844.5 683.5M848.3 678.8L844.5 683.5L844.8 677.5M851.9 586.8L861.4 604M860.2 597.3L861.4 604L856.4 599.4M851.9 482.6L869.8 493.4M865.1 487.9L869.8 493.4L862.8 491.8M852.4 653.3L848.6 670.2M851.7 665L848.6 670.2L848 664.2M852.7 604.8L858.8 622.5M858.7 616L858.8 622.5L854.8 617.4M853.1 516.2L870.6 529.6M866.3 523.3L870.6 529.6L863.4 527.1M853.2 616.3L856.9 634.1M857.6 627.8L856.9 634.1L853.7 628.6M853.6 627.8L854.9 645.5M856.4 639.5L854.9 645.5L852.6 639.8M854.1 639.3L853.1 656.8M855.3 651.1L853.1 656.8L851.5 650.9M854.5 565L867.5 581.4M865 574.6L867.5 581.4L861.4 577.4M856.2 708L844.6 722.4M850 718.9L844.6 722.4L846.9 716.4M858.4 574.8L869.7 591.8M867.8 584.9L869.7 591.8L864.1 587.4M859.2 592.8L867.5 610.5M866.7 603.8L867.5 610.5L862.8 605.6M859.5 533.8L875.5 548.5M871.8 541.9L875.5 548.5L868.6 545.4M860.3 761.6L844.7 772.7M851.1 770.7L844.7 772.7L848.7 767.3M861.4 461.8L877.5 470.9M873.1 466.2L877.5 470.9L871.2 469.7M862 693.1L852.4 708.5M857.2 704.5L852.4 708.5L853.9 702.4M862.5 495.5L879.8 507.4M875.4 501.6L879.8 507.4L872.8 505.4M864.6 676.2L857.6 692.5M861.7 687.9L857.6 692.5L858.1 686.3M864.7 740.7L850.6 753.3M856.6 750.7L850.6 753.3L853.9 747.6M865.7 580.8L875.8 598.2M874.3 591.4L875.8 598.2L870.6 593.6M865.8 551.3L879.9 567.2M877 560.4L879.9 567.2L873.5 563.5M866.1 608.9L871.2 627M871.5 620.5L871.2 627L867.6 621.6M866.3 662.2L861.5 679.2M864.9 674.1L861.5 679.2L861.2 673.1M866.6 620.4L869.5 638.5M870.5 632.2L869.5 638.5L866.5 632.9M867 631.9L867.7 649.9M869.5 643.9L867.7 649.9L865.5 644M867.9 648.2L865.7 665.8M868.3 660.2L865.7 665.8L864.5 659.7M869.1 719.9L857 733.8M862.5 730.5L857 733.8L859.5 727.9M872 474.8L887.9 484.8M883.7 479.8L887.9 484.8L881.6 483.3M872.2 568.8L883.7 585.7M881.8 578.9L883.7 585.7L878.1 581.4M872.6 596.9L879.8 614.9M879.4 608.2L879.8 614.9L875.5 609.7M874.9 705L864.6 719.9M869.6 716.1L864.6 719.9L866.4 713.8M877.5 688L869.5 703.9M873.9 699.5L869.5 703.9L870.4 697.8M878.9 758.5L864.8 769.8M870.7 767.6L864.8 769.8L868.2 764.5M879.1 584.9L888 602.5M887 595.7L888 602.5L883.2 597.7M879.5 613L883.8 631.2M884.3 624.7L883.8 631.2L880.4 625.6M879.6 517.6L895.1 531.1M891.5 525L895.1 531.1L888.5 528.4M879.9 624.5L882.2 642.6M883.4 636.4L882.2 642.6L879.5 636.9M880.1 671L874.6 687.8M878.3 682.9L874.6 687.8L874.6 681.7M880.9 640.8L880.3 658.6M882.4 652.8L880.3 658.6L878.5 652.7M881.4 454.1L895 462M891.4 457.9L895 462L889.7 460.9M881.8 657L878.5 674.4M881.5 669L878.5 674.4L877.7 668.3M883.3 737.7L870.7 750.4M876.3 747.6L870.7 750.4L873.5 744.8M886 535.2L900.1 549.9M897 543.5L900.1 549.9L893.8 546.6M886 601L892.2 618.9M892.1 612.3L892.2 618.9L888.2 613.7M887.8 716.9L877.1 730.9M882.2 727.4L877.1 730.9L879.1 725.1M889 496.9L904.1 508.5M900.4 503.1L904.1 508.5L897.8 506.3M890.4 699.9L881.7 715M886.2 711L881.7 715L882.9 709.1M891.5 574.2L901.4 591.1M900 584.4L901.4 591.1L896.3 586.6M892.3 552.7L904.6 568.4M902.3 561.9L904.6 568.4L898.8 564.6M892.9 617.1L896.4 635M897.2 628.7L896.4 635L893.3 629.5M893 682.9L886.5 699M890.4 694.4L886.5 699L886.9 692.9M893.8 633.4L894.7 651.2M896.3 645.2L894.7 651.2L892.5 645.4M894.7 649.7L893.1 667.1M895.5 661.5L893.1 667.1L891.7 661.1M895.7 665.9L891.6 682.7M894.8 677.6L891.6 682.7L891.1 676.7M896.4 769.3L883.3 779.5M888.7 777.5L883.3 779.5L886.5 774.7M898.4 590.3L905.9 607.6M905.3 601L905.9 607.6L901.5 602.7M898.5 476.2L912.1 485.7M908.6 481.1L912.1 485.7L906.6 484M900.8 748.5L888.8 760.1M894.1 757.6L888.8 760.1L891.5 755M902.5 456.2L914.3 463.6M911.2 459.9L914.3 463.6L909.6 462.4M904.1 710.8L895.2 725M899.7 721.2L895.2 725L896.6 719.3M905.3 727.6L894.9 740.7M899.8 737.5L894.9 740.7L896.9 735.2M905.3 606.3L910.3 623.8M910.6 617.5L910.3 623.8L906.8 618.6M906.1 519L919.5 531.9M916.5 526.2L919.5 531.9L913.7 529.1M906.8 693.8L899.7 708.9M903.7 704.7L899.7 708.9L900.4 703.2M909.4 676.8L904.5 692.8M907.9 688L904.5 692.8L904.4 687M910.8 579.5L919.2 596M918.2 589.6L919.2 596L914.6 591.5M911.6 558L922.3 573.4M920.4 567.2L922.3 573.4L917.1 569.5M912.5 536.5L924.6 550.5M922.1 544.6L924.6 550.5L919.1 547.2M914.2 626L916.4 643.2M917.6 637.3L916.4 643.2L913.8 637.8M915.2 642.3L915.1 659.2M916.9 653.6L915.1 659.2L913.3 653.6M915.6 498.3L928.3 509.1M925.3 504.1L928.3 509.1L922.9 506.9M916.1 658.6L913.8 675M916.3 669.8L913.8 675L912.8 669.4M917.7 595.6L923.9 612.2M923.7 606.1L923.9 612.2L920 607.4M918.3 759.3L907.2 769.6M912 767.4L907.2 769.6L909.8 765M919.6 478.3L931.3 487.1M928.4 482.9L931.3 487.1L926.4 485.5M920.5 704.7L913.1 718.7M917.1 714.9L913.1 718.7L914 713.3M921.6 721.6L912.9 734.5M917.2 731.2L912.9 734.5L914.4 729.3M922.8 738.4L913 750.2M917.5 747.4L913 750.2L914.9 745.2M923.1 687.7L917.6 702.6M921.1 698.3L917.6 702.6L917.8 697.1M923.6 458.3L933.4 465M930.9 461.7L933.4 465L929.4 463.9M926.6 615.3L930.3 631.8M930.8 625.9L930.3 631.8L927.3 626.7M929.8 669.5L926.7 684.9M929.4 680.1L926.7 684.9L926 679.5M930 584.8L937.2 600.5M936.5 594.5L937.2 600.5L933.1 596.1M930.9 563.4L940 578M938.6 572.2L940 578L935.4 574.2M931.8 541.9L942.3 555.2M940.3 549.7L942.3 555.2L937.4 552M932.6 520.4L943.9 532.1M941.4 527L943.9 532.1L938.9 529.5M936.9 698.6L931 712.3M934.4 708.4L931 712.3L931.5 707.1M938 715.5L930.8 728.1M934.5 724.7L930.8 728.1L931.8 723.2M939.2 732.3L930.8 743.9M934.8 741L930.8 743.9L932.3 739.2M940.3 749.2L931.2 759.5M935.3 757.1L931.2 759.5L933.1 755.1M941.5 768.2L931.8 777M936 775.2L931.8 777L934 773.1" fill="none" stroke="#006400" stroke-width="1.15"/></g>
<rect x="399.5" y="338.16" width="29.0" height="5.44" fill="#00008f" shape-rendering="crispEdges"/><rect x="399.5" y="333.33" width="29.0" height="5.44" fill="#00009f" shape-rendering="crispEdges"/><rect x="399.5" y="328.49" width="29.0" height="5.44" fill="#0000af" shape-rendering="crispEdges"/><rect x="399.5" y="323.66" width="29.0" height="5.44" fill="#0000bf" shape-rendering="crispEdges"/><rect x="399.5" y="318.82" width="29.0" height="5.44" fill="#0000cf" shape-rendering="crispEdges"/><rect x="399.5" y="313.98" width="29.0" height="5.44" fill="#0000df" shape-rendering="crispEdges"/><rect x="399.5" y="309.15" width="29.0" height="5.44" fill="#0000ef" shape-rendering="crispEdges"/><rect x="399.5" y="304.31" width="29.0" height="5.44" fill="#0000ff" shape-rendering="crispEdges"/><rect x="399.5" y="299.48" width="29.0" height="5.44" fill="#0010ff" shape-rendering="crispEdges"/><rect x="399.5" y="294.64" width="29.0" height="5.44" fill="#0020ff" shape-rendering="crispEdges"/><rect x="399.5" y="289.80" width="29.0" height="5.44" fill="#0030ff" shape-rendering="crispEdges"/><rect x="399.5" y="284.97" width="29.0" height="5.44" fill="#0040ff" shape-rendering="crispEdges"/><rect x="399.5" y="280.13" width="29.0" height="5.44" fill="#0050ff" shape-rendering="crispEdges"/><rect x="399.5" y="275.30" width="29.0" height="5.44" fill="#0060ff" shape-rendering="crispEdges"/><rect x="399.5" y="270.46" width="29.0" height="5.44" fill="#0070ff" shape-rendering="crispEdges"/><rect x="399.5" y="265.62" width="29.0" height="5.44" fill="#0080ff" shape-rendering="crispEdges"/><rect x="399.5" y="260.79" width="29.0" height="5.44" fill="#008fff" shape-rendering="crispEdges"/><rect x="399.5" y="255.95" width="29.0" height="5.44" fill="#009fff" shape-rendering="crispEdges"/><rect x="399.5" y="251.12" width="29.0" height="5.44" fill="#00afff" shape-rendering="crispEdges"/><rect x="399.5" y="246.28" width="29.0" height="5.44" fill="#00bfff" shape-rendering="crispEdges"/><rect x="399.5" y="241.45" width="29.0" height="5.44" fill="#00cfff" shape-rendering="crispEdges"/><rect x="399.5" y="236.61" width="29.0" height="5.44" fill="#00dfff" shape-rendering="crispEdges"/><rect x="399.5" y="231.77" width="29.0" height="5.44" fill="#00efff" shape-rendering="crispEdges"/><rect x="399.5" y="226.94" width="29.0" height="5.44" fill="#00ffff" shape-rendering="crispEdges"/><rect x="399.5" y="222.10" width="29.0" height="5.44" fill="#10ffef" shape-rendering="crispEdges"/><rect x="399.5" y="217.27" width="29.0" height="5.44" fill="#20ffdf" shape-rendering="crispEdges"/><rect x="399.5" y="212.43" width="29.0" height="5.44" fill="#30ffcf" shape-rendering="crispEdges"/><rect x="399.5" y="207.59" width="29.0" height="5.44" fill="#40ffbf" shape-rendering="crispEdges"/><rect x="399.5" y="202.76" width="29.0" height="5.44" fill="#50ffaf" shape-rendering="crispEdges"/><rect x="399.5" y="197.92" width="29.0" height="5.44" fill="#60ff9f" shape-rendering="crispEdges"/><rect x="399.5" y="193.09" width="29.0" height="5.44" fill="#70ff8f" shape-rendering="crispEdges"/><rect x="399.5" y="188.25" width="29.0" height="5.44" fill="#80ff80" shape-rendering="crispEdges"/><rect x="399.5" y="183.41" width="29.0" height="5.44" fill="#8fff70" shape-rendering="crispEdges"/><rect x="399.5" y="178.58" width="29.0" height="5.44" fill="#9fff60" shape-rendering="crispEdges"/><rect x="399.5" y="173.74" width="29.0" height="5.44" fill="#afff50" shape-rendering="crispEdges"/><rect x="399.5" y="168.91" width="29.0" height="5.44" fill="#bfff40" shape-rendering="crispEdges"/><rect x="399.5" y="164.07" width="29.0" height="5.44" fill="#cfff30" shape-rendering="crispEdges"/><rect x="399.5" y="159.23" width="29.0" height="5.44" fill="#dfff20" shape-rendering="crispEdges"/><rect x="399.5" y="154.40" width="29.0" height="5.44" fill="#efff10" shape-rendering="crispEdges"/><rect x="399.5" y="149.56" width="29.0" height="5.44" fill="#ffff00" shape-rendering="crispEdges"/><rect x="399.5" y="144.73" width="29.0" height="5.44" fill="#ffef00" shape-rendering="crispEdges"/><rect x="399.5" y="139.89" width="29.0" height="5.44" fill="#ffdf00" shape-rendering="crispEdges"/><rect x="399.5" y="135.05" width="29.0" height="5.44" fill="#ffcf00" shape-rendering="crispEdges"/><rect x="399.5" y="130.22" width="29.0" height="5.44" fill="#ffbf00" shape-rendering="crispEdges"/><rect x="399.5" y="125.38" width="29.0" height="5.44" fill="#ffaf00" shape-rendering="crispEdges"/><rect x="399.5" y="120.55" width="29.0" height="5.44" fill="#ff9f00" shape-rendering="crispEdges"/><rect x="399.5" y="115.71" width="29.0" height="5.44" fill="#ff8f00" shape-rendering="crispEdges"/><rect x="399.5" y="110.88" width="29.0" height="5.44" fill="#ff8000" shape-rendering="crispEdges"/><rect x="399.5" y="106.04" width="29.0" height="5.44" fill="#ff7000" shape-rendering="crispEdges"/><rect x="399.5" y="101.20" width="29.0" height="5.44" fill="#ff6000" shape-rendering="crispEdges"/><rect x="399.5" y="96.37" width="29.0" height="5.44" fill="#ff5000" shape-rendering="crispEdges"/><rect x="399.5" y="91.53" width="29.0" height="5.44" fill="#ff4000" shape-rendering="crispEdges"/><rect x="399.5" y="86.70" width="29.0" height="5.44" fill="#ff3000" shape-rendering="crispEdges"/><rect x="399.5" y="81.86" width="29.0" height="5.44" fill="#ff2000" shape-rendering="crispEdges"/><rect x="399.5" y="77.02" width="29.0" height="5.44" fill="#ff1000" shape-rendering="crispEdges"/><rect x="399.5" y="72.19" width="29.0" height="5.44" fill="#ff0000" shape-rendering="crispEdges"/><rect x="399.5" y="67.35" width="29.0" height="5.44" fill="#ef0000" shape-rendering="crispEdges"/><rect x="399.5" y="62.52" width="29.0" height="5.44" fill="#df0000" shape-rendering="crispEdges"/><rect x="399.5" y="57.68" width="29.0" height="5.44" fill="#cf0000" shape-rendering="crispEdges"/><rect x="399.5" y="52.84" width="29.0" height="5.44" fill="#bf0000" shape-rendering="crispEdges"/><rect x="399.5" y="48.01" width="29.0" height="5.44" fill="#af0000" shape-rendering="crispEdges"/><rect x="399.5" y="43.17" width="29.0" height="5.44" fill="#9f0000" shape-rendering="crispEdges"/><rect x="399.5" y="38.34" width="29.0" height="5.44" fill="#8f0000" shape-rendering="crispEdges"/><rect x="399.5" y="33.50" width="29.0" height="5.44" fill="#800000" shape-rendering="crispEdges"/><rect x="399.5" y="33.5" width="29.0" height="309.5" fill="none" stroke="#000" stroke-width="1"/><text transform="translate(434.5 308.7) scale(1 1.00)" text-anchor="start">1</text><text transform="translate(434.5 266.5) scale(1 1.00)" text-anchor="start">2</text><text transform="translate(434.5 224.2) scale(1 1.00)" text-anchor="start">3</text><text transform="translate(434.5 182.0) scale(1 1.00)" text-anchor="start">4</text><text transform="translate(434.5 139.8) scale(1 1.00)" text-anchor="start">5</text><text transform="translate(434.5 97.5) scale(1 1.00)" text-anchor="start">6</text><text transform="translate(434.5 55.3) scale(1 1.00)" text-anchor="start">7</text><path d="M399.5 301.3h3.2M428.5 301.3h-3.2M399.5 259.1h3.2M428.5 259.1h-3.2M399.5 216.8h3.2M428.5 216.8h-3.2M399.5 174.6h3.2M428.5 174.6h-3.2M399.5 132.3h3.2M428.5 132.3h-3.2M399.5 90.1h3.2M428.5 90.1h-3.2M399.5 47.9h3.2M428.5 47.9h-3.2" fill="none" stroke="#000" stroke-width="1"/>
<rect x="936.5" y="338.16" width="30.0" height="5.44" fill="#00008f" shape-rendering="crispEdges"/><rect x="936.5" y="333.33" width="30.0" height="5.44" fill="#00009f" shape-rendering="crispEdges"/><rect x="936.5" y="328.49" width="30.0" height="5.44" fill="#0000af" shape-rendering="crispEdges"/><rect x="936.5" y="323.66" width="30.0" height="5.44" fill="#0000bf" shape-rendering="crispEdges"/><rect x="936.5" y="318.82" width="30.0" height="5.44" fill="#0000cf" shape-rendering="crispEdges"/><rect x="936.5" y="313.98" width="30.0" height="5.44" fill="#0000df" shape-rendering="crispEdges"/><rect x="936.5" y="309.15" width="30.0" height="5.44" fill="#0000ef" shape-rendering="crispEdges"/><rect x="936.5" y="304.31" width="30.0" height="5.44" fill="#0000ff" shape-rendering="crispEdges"/><rect x="936.5" y="299.48" width="30.0" height="5.44" fill="#0010ff" shape-rendering="crispEdges"/><rect x="936.5" y="294.64" width="30.0" height="5.44" fill="#0020ff" shape-rendering="crispEdges"/><rect x="936.5" y="289.80" width="30.0" height="5.44" fill="#0030ff" shape-rendering="crispEdges"/><rect x="936.5" y="284.97" width="30.0" height="5.44" fill="#0040ff" shape-rendering="crispEdges"/><rect x="936.5" y="280.13" width="30.0" height="5.44" fill="#0050ff" shape-rendering="crispEdges"/><rect x="936.5" y="275.30" width="30.0" height="5.44" fill="#0060ff" shape-rendering="crispEdges"/><rect x="936.5" y="270.46" width="30.0" height="5.44" fill="#0070ff" shape-rendering="crispEdges"/><rect x="936.5" y="265.62" width="30.0" height="5.44" fill="#0080ff" shape-rendering="crispEdges"/><rect x="936.5" y="260.79" width="30.0" height="5.44" fill="#008fff" shape-rendering="crispEdges"/><rect x="936.5" y="255.95" width="30.0" height="5.44" fill="#009fff" shape-rendering="crispEdges"/><rect x="936.5" y="251.12" width="30.0" height="5.44" fill="#00afff" shape-rendering="crispEdges"/><rect x="936.5" y="246.28" width="30.0" height="5.44" fill="#00bfff" shape-rendering="crispEdges"/><rect x="936.5" y="241.45" width="30.0" height="5.44" fill="#00cfff" shape-rendering="crispEdges"/><rect x="936.5" y="236.61" width="30.0" height="5.44" fill="#00dfff" shape-rendering="crispEdges"/><rect x="936.5" y="231.77" width="30.0" height="5.44" fill="#00efff" shape-rendering="crispEdges"/><rect x="936.5" y="226.94" width="30.0" height="5.44" fill="#00ffff" shape-rendering="crispEdges"/><rect x="936.5" y="222.10" width="30.0" height="5.44" fill="#10ffef" shape-rendering="crispEdges"/><rect x="936.5" y="217.27" width="30.0" height="5.44" fill="#20ffdf" shape-rendering="crispEdges"/><rect x="936.5" y="212.43" width="30.0" height="5.44" fill="#30ffcf" shape-rendering="crispEdges"/><rect x="936.5" y="207.59" width="30.0" height="5.44" fill="#40ffbf" shape-rendering="crispEdges"/><rect x="936.5" y="202.76" width="30.0" height="5.44" fill="#50ffaf" shape-rendering="crispEdges"/><rect x="936.5" y="197.92" width="30.0" height="5.44" fill="#60ff9f" shape-rendering="crispEdges"/><rect x="936.5" y="193.09" width="30.0" height="5.44" fill="#70ff8f" shape-rendering="crispEdges"/><rect x="936.5" y="188.25" width="30.0" height="5.44" fill="#80ff80" shape-rendering="crispEdges"/><rect x="936.5" y="183.41" width="30.0" height="5.44" fill="#8fff70" shape-rendering="crispEdges"/><rect x="936.5" y="178.58" width="30.0" height="5.44" fill="#9fff60" shape-rendering="crispEdges"/><rect x="936.5" y="173.74" width="30.0" height="5.44" fill="#afff50" shape-rendering="crispEdges"/><rect x="936.5" y="168.91" width="30.0" height="5.44" fill="#bfff40" shape-rendering="crispEdges"/><rect x="936.5" y="164.07" width="30.0" height="5.44" fill="#cfff30" shape-rendering="crispEdges"/><rect x="936.5" y="159.23" width="30.0" height="5.44" fill="#dfff20" shape-rendering="crispEdges"/><rect x="936.5" y="154.40" width="30.0" height="5.44" fill="#efff10" shape-rendering="crispEdges"/><rect x="936.5" y="149.56" width="30.0" height="5.44" fill="#ffff00" shape-rendering="crispEdges"/><rect x="936.5" y="144.73" width="30.0" height="5.44" fill="#ffef00" shape-rendering="crispEdges"/><rect x="936.5" y="139.89" width="30.0" height="5.44" fill="#ffdf00" shape-rendering="crispEdges"/><rect x="936.5" y="135.05" width="30.0" height="5.44" fill="#ffcf00" shape-rendering="crispEdges"/><rect x="936.5" y="130.22" width="30.0" height="5.44" fill="#ffbf00" shape-rendering="crispEdges"/><rect x="936.5" y="125.38" width="30.0" height="5.44" fill="#ffaf00" shape-rendering="crispEdges"/><rect x="936.5" y="120.55" width="30.0" height="5.44" fill="#ff9f00" shape-rendering="crispEdges"/><rect x="936.5" y="115.71" width="30.0" height="5.44" fill="#ff8f00" shape-rendering="crispEdges"/><rect x="936.5" y="110.88" width="30.0" height="5.44" fill="#ff8000" shape-rendering="crispEdges"/><rect x="936.5" y="106.04" width="30.0" height="5.44" fill="#ff7000" shape-rendering="crispEdges"/><rect x="936.5" y="101.20" width="30.0" height="5.44" fill="#ff6000" shape-rendering="crispEdges"/><rect x="936.5" y="96.37" width="30.0" height="5.44" fill="#ff5000" shape-rendering="crispEdges"/><rect x="936.5" y="91.53" width="30.0" height="5.44" fill="#ff4000" shape-rendering="crispEdges"/><rect x="936.5" y="86.70" width="30.0" height="5.44" fill="#ff3000" shape-rendering="crispEdges"/><rect x="936.5" y="81.86" width="30.0" height="5.44" fill="#ff2000" shape-rendering="crispEdges"/><rect x="936.5" y="77.02" width="30.0" height="5.44" fill="#ff1000" shape-rendering="crispEdges"/><rect x="936.5" y="72.19" width="30.0" height="5.44" fill="#ff0000" shape-rendering="crispEdges"/><rect x="936.5" y="67.35" width="30.0" height="5.44" fill="#ef0000" shape-rendering="crispEdges"/><rect x="936.5" y="62.52" width="30.0" height="5.44" fill="#df0000" shape-rendering="crispEdges"/><rect x="936.5" y="57.68" width="30.0" height="5.44" fill="#cf0000" shape-rendering="crispEdges"/><rect x="936.5" y="52.84" width="30.0" height="5.44" fill="#bf0000" shape-rendering="crispEdges"/><rect x="936.5" y="48.01" width="30.0" height="5.44" fill="#af0000" shape-rendering="crispEdges"/><rect x="936.5" y="43.17" width="30.0" height="5.44" fill="#9f0000" shape-rendering="crispEdges"/><rect x="936.5" y="38.34" width="30.0" height="5.44" fill="#8f0000" shape-rendering="crispEdges"/><rect x="936.5" y="33.50" width="30.0" height="5.44" fill="#800000" shape-rendering="crispEdges"/><rect x="936.5" y="33.5" width="30.0" height="309.5" fill="none" stroke="#000" stroke-width="1"/><text transform="translate(972.5 331.6) scale(1 1.00)" text-anchor="start">-30</text><text transform="translate(972.5 286.4) scale(1 1.00)" text-anchor="start">-20</text><text transform="translate(972.5 241.1) scale(1 1.00)" text-anchor="start">-10</text><text transform="translate(972.5 195.9) scale(1 1.00)" text-anchor="start">0</text><text transform="translate(972.5 150.7) scale(1 1.00)" text-anchor="start">10</text><text transform="translate(972.5 105.5) scale(1 1.00)" text-anchor="start">20</text><text transform="translate(972.5 60.2) scale(1 1.00)" text-anchor="start">30</text><path d="M936.5 324.2h3.2M966.5 324.2h-3.2M936.5 279.0h3.2M966.5 279.0h-3.2M936.5 233.7h3.2M966.5 233.7h-3.2M936.5 188.5h3.2M966.5 188.5h-3.2M936.5 143.3h3.2M966.5 143.3h-3.2M936.5 98.0h3.2M966.5 98.0h-3.2M936.5 52.8h3.2M966.5 52.8h-3.2" fill="none" stroke="#000" stroke-width="1"/>
<rect x="399.5" y="762.67" width="29.0" height="5.43" fill="#00008f" shape-rendering="crispEdges"/><rect x="399.5" y="757.84" width="29.0" height="5.43" fill="#00009f" shape-rendering="crispEdges"/><rect x="399.5" y="753.01" width="29.0" height="5.43" fill="#0000af" shape-rendering="crispEdges"/><rect x="399.5" y="748.17" width="29.0" height="5.43" fill="#0000bf" shape-rendering="crispEdges"/><rect x="399.5" y="743.34" width="29.0" height="5.43" fill="#0000cf" shape-rendering="crispEdges"/><rect x="399.5" y="738.51" width="29.0" height="5.43" fill="#0000df" shape-rendering="crispEdges"/><rect x="399.5" y="733.68" width="29.0" height="5.43" fill="#0000ef" shape-rendering="crispEdges"/><rect x="399.5" y="728.85" width="29.0" height="5.43" fill="#0000ff" shape-rendering="crispEdges"/><rect x="399.5" y="724.02" width="29.0" height="5.43" fill="#0010ff" shape-rendering="crispEdges"/><rect x="399.5" y="719.19" width="29.0" height="5.43" fill="#0020ff" shape-rendering="crispEdges"/><rect x="399.5" y="714.36" width="29.0" height="5.43" fill="#0030ff" shape-rendering="crispEdges"/><rect x="399.5" y="709.52" width="29.0" height="5.43" fill="#0040ff" shape-rendering="crispEdges"/><rect x="399.5" y="704.69" width="29.0" height="5.43" fill="#0050ff" shape-rendering="crispEdges"/><rect x="399.5" y="699.86" width="29.0" height="5.43" fill="#0060ff" shape-rendering="crispEdges"/><rect x="399.5" y="695.03" width="29.0" height="5.43" fill="#0070ff" shape-rendering="crispEdges"/><rect x="399.5" y="690.20" width="29.0" height="5.43" fill="#0080ff" shape-rendering="crispEdges"/><rect x="399.5" y="685.37" width="29.0" height="5.43" fill="#008fff" shape-rendering="crispEdges"/><rect x="399.5" y="680.54" width="29.0" height="5.43" fill="#009fff" shape-rendering="crispEdges"/><rect x="399.5" y="675.71" width="29.0" height="5.43" fill="#00afff" shape-rendering="crispEdges"/><rect x="399.5" y="670.88" width="29.0" height="5.43" fill="#00bfff" shape-rendering="crispEdges"/><rect x="399.5" y="666.04" width="29.0" height="5.43" fill="#00cfff" shape-rendering="crispEdges"/><rect x="399.5" y="661.21" width="29.0" height="5.43" fill="#00dfff" shape-rendering="crispEdges"/><rect x="399.5" y="656.38" width="29.0" height="5.43" fill="#00efff" shape-rendering="crispEdges"/><rect x="399.5" y="651.55" width="29.0" height="5.43" fill="#00ffff" shape-rendering="crispEdges"/><rect x="399.5" y="646.72" width="29.0" height="5.43" fill="#10ffef" shape-rendering="crispEdges"/><rect x="399.5" y="641.89" width="29.0" height="5.43" fill="#20ffdf" shape-rendering="crispEdges"/><rect x="399.5" y="637.06" width="29.0" height="5.43" fill="#30ffcf" shape-rendering="crispEdges"/><rect x="399.5" y="632.23" width="29.0" height="5.43" fill="#40ffbf" shape-rendering="crispEdges"/><rect x="399.5" y="627.39" width="29.0" height="5.43" fill="#50ffaf" shape-rendering="crispEdges"/><rect x="399.5" y="622.56" width="29.0" height="5.43" fill="#60ff9f" shape-rendering="crispEdges"/><rect x="399.5" y="617.73" width="29.0" height="5.43" fill="#70ff8f" shape-rendering="crispEdges"/><rect x="399.5" y="612.90" width="29.0" height="5.43" fill="#80ff80" shape-rendering="crispEdges"/><rect x="399.5" y="608.07" width="29.0" height="5.43" fill="#8fff70" shape-rendering="crispEdges"/><rect x="399.5" y="603.24" width="29.0" height="5.43" fill="#9fff60" shape-rendering="crispEdges"/><rect x="399.5" y="598.41" width="29.0" height="5.43" fill="#afff50" shape-rendering="crispEdges"/><rect x="399.5" y="593.58" width="29.0" height="5.43" fill="#bfff40" shape-rendering="crispEdges"/><rect x="399.5" y="588.74" width="29.0" height="5.43" fill="#cfff30" shape-rendering="crispEdges"/><rect x="399.5" y="583.91" width="29.0" height="5.43" fill="#dfff20" shape-rendering="crispEdges"/><rect x="399.5" y="579.08" width="29.0" height="5.43" fill="#efff10" shape-rendering="crispEdges"/><rect x="399.5" y="574.25" width="29.0" height="5.43" fill="#ffff00" shape-rendering="crispEdges"/><rect x="399.5" y="569.42" width="29.0" height="5.43" fill="#ffef00" shape-rendering="crispEdges"/><rect x="399.5" y="564.59" width="29.0" height="5.43" fill="#ffdf00" shape-rendering="crispEdges"/><rect x="399.5" y="559.76" width="29.0" height="5.43" fill="#ffcf00" shape-rendering="crispEdges"/><rect x="399.5" y="554.92" width="29.0" height="5.43" fill="#ffbf00" shape-rendering="crispEdges"/><rect x="399.5" y="550.09" width="29.0" height="5.43" fill="#ffaf00" shape-rendering="crispEdges"/><rect x="399.5" y="545.26" width="29.0" height="5.43" fill="#ff9f00" shape-rendering="crispEdges"/><rect x="399.5" y="540.43" width="29.0" height="5.43" fill="#ff8f00" shape-rendering="crispEdges"/><rect x="399.5" y="535.60" width="29.0" height="5.43" fill="#ff8000" shape-rendering="crispEdges"/><rect x="399.5" y="530.77" width="29.0" height="5.43" fill="#ff7000" shape-rendering="crispEdges"/><rect x="399.5" y="525.94" width="29.0" height="5.43" fill="#ff6000" shape-rendering="crispEdges"/><rect x="399.5" y="521.11" width="29.0" height="5.43" fill="#ff5000" shape-rendering="crispEdges"/><rect x="399.5" y="516.27" width="29.0" height="5.43" fill="#ff4000" shape-rendering="crispEdges"/><rect x="399.5" y="511.44" width="29.0" height="5.43" fill="#ff3000" shape-rendering="crispEdges"/><rect x="399.5" y="506.61" width="29.0" height="5.43" fill="#ff2000" shape-rendering="crispEdges"/><rect x="399.5" y="501.78" width="29.0" height="5.43" fill="#ff1000" shape-rendering="crispEdges"/><rect x="399.5" y="496.95" width="29.0" height="5.43" fill="#ff0000" shape-rendering="crispEdges"/><rect x="399.5" y="492.12" width="29.0" height="5.43" fill="#ef0000" shape-rendering="crispEdges"/><rect x="399.5" y="487.29" width="29.0" height="5.43" fill="#df0000" shape-rendering="crispEdges"/><rect x="399.5" y="482.46" width="29.0" height="5.43" fill="#cf0000" shape-rendering="crispEdges"/><rect x="399.5" y="477.62" width="29.0" height="5.43" fill="#bf0000" shape-rendering="crispEdges"/><rect x="399.5" y="472.79" width="29.0" height="5.43" fill="#af0000" shape-rendering="crispEdges"/><rect x="399.5" y="467.96" width="29.0" height="5.43" fill="#9f0000" shape-rendering="crispEdges"/><rect x="399.5" y="463.13" width="29.0" height="5.43" fill="#8f0000" shape-rendering="crispEdges"/><rect x="399.5" y="458.30" width="29.0" height="5.43" fill="#800000" shape-rendering="crispEdges"/><rect x="399.5" y="458.3" width="29.0" height="309.2" fill="none" stroke="#000" stroke-width="1"/><text transform="translate(434.5 758.6) scale(1 1.00)" text-anchor="start">-30</text><text transform="translate(434.5 712.6) scale(1 1.00)" text-anchor="start">-20</text><text transform="translate(434.5 666.6) scale(1 1.00)" text-anchor="start">-10</text><text transform="translate(434.5 620.6) scale(1 1.00)" text-anchor="start">0</text><text transform="translate(434.5 574.6) scale(1 1.00)" text-anchor="start">10</text><text transform="translate(434.5 528.6) scale(1 1.00)" text-anchor="start">20</text><text transform="translate(434.5 482.6) scale(1 1.00)" text-anchor="start">30</text><path d="M399.5 751.2h3.2M428.5 751.2h-3.2M399.5 705.2h3.2M428.5 705.2h-3.2M399.5 659.2h3.2M428.5 659.2h-3.2M399.5 613.2h3.2M428.5 613.2h-3.2M399.5 567.2h3.2M428.5 567.2h-3.2M399.5 521.2h3.2M428.5 521.2h-3.2M399.5 475.2h3.2M428.5 475.2h-3.2" fill="none" stroke="#000" stroke-width="1"/>
<text transform="translate(211.5 18.3) scale(1 1.00)" text-anchor="middle">|U| plotted on the deformed mesh</text>
<text transform="translate(749.1 18.3) scale(1 1.00)" text-anchor="middle">Pression on the deformed mesh</text>
<text transform="translate(211.5 442.0) scale(1 1.00)" text-anchor="middle">Quiver plot of U, with color plot of the pression</text>
<text transform="translate(778.0 442.0) scale(1 1.00)" text-anchor="middle">Quiver plot zoomed</text>
</svg></body></html>
